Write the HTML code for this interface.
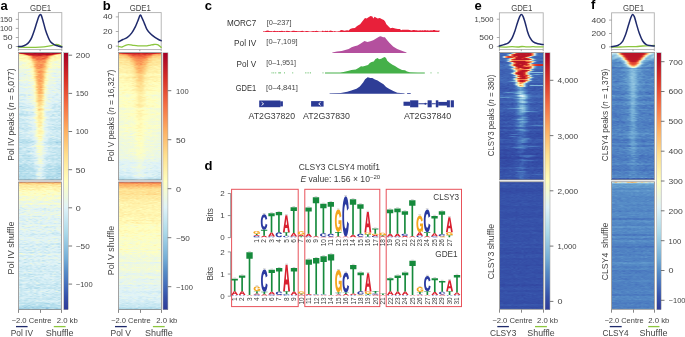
<!DOCTYPE html><html><head><meta charset="utf-8"><style>
html,body{margin:0;padding:0;background:#fff;width:685px;height:337px;overflow:hidden}
.hm{position:absolute;overflow:hidden}
.hm i{position:absolute;left:0;width:100%;height:1px;display:block}
.cb{position:absolute}
svg{position:absolute;left:0;top:0;will-change:transform}
text{font-family:"Liberation Sans",sans-serif}
</style></head><body>
<div class="hm" style="left:19px;top:53px;width:42px;height:127px"><i style="top:0px;background:linear-gradient(90deg,#e95538,#c01a27,#b50f26,#ad0726,#b00a26,#af0a26,#ba1426,#b40f26,#a50026,#b10c26,#af0a26,#a90426,#a50026,#b50f26,#ae0926,#b20d26,#be1826,#a50026,#ad0826,#af0926,#c41e27,#e24732)"></i><i style="top:1px;background:linear-gradient(90deg,#fff2ac,#fee89c,#fec779,#f16740,#bc1626,#c21c27,#b81226,#ba1426,#be1827,#bf1927,#b40e26,#bd1726,#bb1526,#ba1426,#ae0926,#b40e26,#b91326,#cf2827,#f26941,#fdb365,#fee192,#fff0a8)"></i><i style="top:2px;background:linear-gradient(90deg,#fff2ab,#fff0a8,#feeea5,#fee598,#fecc7d,#ed5f3d,#e65036,#d22b27,#d32c27,#cf2827,#c51f27,#c92227,#de3f2e,#e14631,#d22b27,#e54d34,#f57245,#fdbf71,#fff5b0,#feffc1,#fff3ad,#fff5b0)"></i><i style="top:3px;background:linear-gradient(90deg,#fffcba,#fffab7,#ffffbe,#fdfec3,#fff3ad,#fee598,#fdb265,#ed5e3c,#e95538,#e44c34,#ec5d3c,#ea593a,#ed5e3c,#ee5f3d,#ef623e,#fca85e,#fedb8c,#fff0a8,#feeba1,#fcfec4,#fff4af,#fffbb9)"></i><i style="top:4px;background:linear-gradient(90deg,#fff8b4,#fdfec2,#fffab7,#fff1aa,#fff3ac,#fee699,#fdbd6f,#f36a42,#ee603d,#f57647,#ef623e,#f57145,#f7834d,#f16640,#f26841,#fdb96c,#feeea5,#fff8b4,#feefa6,#fff6b1,#fff7b3,#fff8b5)"></i><i style="top:5px;background:linear-gradient(90deg,#fff7b4,#fff2ac,#fff3ad,#fff4af,#fff9b7,#fee89d,#fed788,#f8884f,#f7814c,#f26941,#f16640,#f57647,#e75237,#ed5f3c,#fb9c59,#fec97a,#fee99e,#fbfdc7,#fff4ae,#fff7b3,#fff7b3,#fffebe)"></i><i style="top:6px;background:linear-gradient(90deg,#fcfec5,#fdfec3,#fff8b5,#fffcbb,#fffcba,#feeca3,#fee89c,#fdb86a,#fba15b,#f26941,#f46e43,#f46e44,#f57446,#f8884f,#fdb265,#fee699,#fff7b3,#fffcba,#fff5b0,#fffcbb,#fdfec2,#fafdc8)"></i><i style="top:7px;background:linear-gradient(90deg,#f6fccf,#fffab7,#feffc1,#fdfec3,#fcfec4,#fdfec3,#feeda3,#fdbb6e,#fb9d59,#f88b51,#f8874f,#f7834d,#fb9d59,#fa9b58,#fecd7e,#fee79a,#ffffbf,#fffcba,#fff8b5,#f9fdca,#f7fcce,#fbfec6)"></i><i style="top:8px;background:linear-gradient(90deg,#f4fbd4,#eef8de,#f8fccd,#fffcba,#f7fcce,#fcfec5,#fffbb9,#fed182,#fdb769,#fca55d,#f7824d,#fb9e5a,#f88850,#fa9556,#fed182,#fff1aa,#fff5b0,#f7fcce,#f2fad6,#ecf8e1,#f4fbd3,#fdfec3)"></i><i style="top:9px;background:linear-gradient(90deg,#f8fccd,#ecf8e2,#edf8e0,#f1f9d9,#f8fccc,#f9fdc9,#fff7b2,#feda8a,#fdb466,#fb9d59,#fa9555,#fa9957,#fa9656,#fa9957,#fed787,#fff8b4,#f0f9da,#f9fccb,#e8f6ea,#eaf7e6,#f7fccd,#f6fbd0)"></i><i style="top:10px;background:linear-gradient(90deg,#f0f9db,#e6f5ec,#eff9dc,#eff9dd,#f9fdca,#fff6b2,#fff9b6,#fee79a,#fdc273,#fba05b,#fb9c59,#fca95f,#fb9e5a,#fdc173,#fed889,#fff4ae,#fffebd,#f2fad6,#f6fccf,#f1fad9,#eff9dd,#eff9dd)"></i><i style="top:11px;background:linear-gradient(90deg,#ecf8e2,#ecf7e3,#fafdc8,#f5fbd1,#fafdc8,#fffbb9,#fbfec6,#fee69a,#fdb164,#f99355,#fa9656,#f7844e,#fa9556,#fdbf71,#fee79b,#fff3ad,#fffebe,#edf8e0,#ffffbf,#f9fdca,#fdfec3,#f2fad7)"></i><i style="top:12px;background:linear-gradient(90deg,#f1fad8,#ecf8e1,#fffab8,#f4fbd3,#fffdbb,#f7fccd,#fff9b6,#fff0a8,#fdbc6e,#f98e52,#fba35c,#f7844e,#fa9656,#fdc375,#fee99d,#fffdbc,#fbfdc6,#f4fbd3,#f0f9da,#f2fad6,#edf8e0,#ebf7e4)"></i><i style="top:13px;background:linear-gradient(90deg,#f7fcce,#fdfec3,#eef9dd,#f9fdca,#f7fccd,#f9fdca,#fff2ac,#fee89c,#fca55d,#fb9d59,#f7844e,#f88c51,#fb9d59,#fdb063,#fee698,#fff4ae,#ffffc0,#f5fbd2,#f9fdcb,#f8fccb,#fdfec2,#f1fad8)"></i><i style="top:14px;background:linear-gradient(90deg,#f6fccf,#ecf8e1,#fcfec5,#f2fad7,#f0f9db,#feffc1,#fff2ab,#fff0a8,#fdc476,#fb9e59,#fa9757,#f7844d,#fb9e5a,#fdc173,#fee395,#fffdbc,#fffdbc,#f5fbd2,#f1fad8,#ecf8e1,#fffcba,#f5fbd2)"></i><i style="top:15px;background:linear-gradient(90deg,#f1fad9,#f0f9db,#f2fad8,#f2fad7,#fffebe,#f1f9d9,#f4fbd3,#fff6b1,#fed586,#fa9957,#f88c51,#fba35c,#fdb366,#fecb7c,#fee79a,#ecf8e1,#fafdc7,#edf8e0,#f8fccb,#eaf7e6,#eef8de,#e6f5ed)"></i><i style="top:16px;background:linear-gradient(90deg,#e0f3f8,#eff9dd,#ecf8e2,#e6f5ee,#e5f5ef,#e2f4f5,#f1fad8,#fffbb9,#fedb8c,#fdb769,#fdb668,#fcaa5f,#fdb669,#fece7f,#feefa7,#f3fad5,#e9f6e8,#eaf7e6,#e4f5f0,#e2f4f4,#e6f5ed,#dff2f8)"></i><i style="top:17px;background:linear-gradient(90deg,#eef8de,#eaf7e5,#edf8e0,#ecf7e3,#eaf7e5,#ecf8e2,#f6fccf,#fffbb9,#fed485,#fdaf62,#fdb063,#fb9e5a,#fdbc6e,#fedc8d,#fff9b6,#ebf7e4,#f2fad6,#f0f9db,#ecf8e3,#e9f6e8,#e8f6e8,#e4f5f0)"></i><i style="top:18px;background:linear-gradient(90deg,#edf8e0,#ebf7e3,#f0f9da,#e9f7e7,#f4fbd3,#f7fcce,#fbfdc7,#fff8b4,#fecd7f,#fdba6c,#f98f53,#f99254,#fca45c,#fecf80,#fff9b6,#fafdc8,#fafdc9,#f5fbd1,#f2fad7,#e6f5ed,#f2fad7,#f6fbd0)"></i><i style="top:19px;background:linear-gradient(90deg,#f2fad6,#eef8df,#e3f4f2,#f4fbd3,#eff9dc,#e3f4f2,#fbfdc6,#fcfec4,#fee497,#fdb467,#f88850,#fb9e59,#fcaa5f,#fec97a,#feefa6,#f8fccc,#f2fad8,#e8f6e9,#eaf7e6,#f0f9db,#eff9dd,#edf8e1)"></i><i style="top:20px;background:linear-gradient(90deg,#ebf7e4,#e0f3f7,#e5f5ee,#ebf7e3,#ecf8e1,#f2fad6,#f3fbd4,#fbfdc6,#fee395,#fdc476,#fdb96b,#fb9f5a,#fdbb6d,#fee496,#f2fad6,#eff9dd,#e8f6e9,#e3f4f2,#d4edf5,#e4f4f1,#ebf7e4,#e7f6eb)"></i><i style="top:21px;background:linear-gradient(90deg,#e1f4f5,#e5f5ee,#ebf7e4,#cfebf3,#e8f6e8,#f0f9db,#f5fbd1,#fff7b2,#fedf8f,#fdb76a,#fba15b,#fa9b58,#fdc072,#fee79a,#fffcba,#fdfec2,#ebf7e3,#e9f6e8,#e9f6e8,#eff9dd,#e5f5ee,#eef9de)"></i><i style="top:22px;background:linear-gradient(90deg,#ddf1f7,#e3f4f2,#e4f4f1,#ebf7e4,#eef9dd,#e2f4f5,#eaf7e5,#fdfec2,#feeda3,#fecc7d,#fa9957,#fba05b,#fdb86a,#feeca2,#fffdbb,#eef9de,#f2fad7,#e2f4f4,#e1f3f6,#e6f5ed,#e0f3f8,#e8f6e9)"></i><i style="top:23px;background:linear-gradient(90deg,#e8f6ea,#e1f3f7,#e8f6ea,#e6f5ed,#f0f9db,#e9f6e7,#eff9dc,#fffab7,#fed687,#fca45c,#fba15b,#fb9f5a,#fcaa5f,#fee89d,#f7fccf,#f3fad6,#f0f9db,#e5f5ef,#ddf1f7,#ddf1f7,#ebf7e5,#e1f4f5)"></i><i style="top:24px;background:linear-gradient(90deg,#eaf7e5,#edf8e1,#f0f9db,#ebf7e4,#f2fad7,#ecf8e1,#f4fbd3,#fbfdc7,#fedb8b,#fdb366,#fba05b,#fa9b58,#fdb568,#fedf8f,#f7fccd,#f0f9da,#f0f9db,#ffffbf,#f3fad5,#ebf7e3,#f0f9db,#f8fccc)"></i><i style="top:25px;background:linear-gradient(90deg,#e5f5f0,#e4f5f1,#eef9dd,#ebf7e4,#eef8de,#e9f7e7,#fdfec2,#fff8b5,#fee79a,#fdb668,#fdb86b,#fa9957,#fdbe70,#fee79b,#fffebe,#eff9dc,#e2f4f4,#ecf8e2,#e3f4f2,#e5f5ef,#e3f4f3,#e4f4f1)"></i><i style="top:26px;background:linear-gradient(90deg,#d4edf5,#eff9dc,#eaf7e6,#f0f9da,#f7fccd,#eef8df,#e7f6eb,#f6fccf,#fff2ab,#fdc173,#fb9d59,#fdb668,#fdb86b,#fff3ae,#feffc1,#f2fad8,#ecf8e2,#eaf7e5,#e6f5ed,#e4f5f0,#dbf0f7,#e7f6eb)"></i><i style="top:27px;background:linear-gradient(90deg,#f5fbd2,#f6fbd0,#f2fad6,#f0f9db,#e9f6e8,#f9fdcb,#f4fbd4,#fdfec2,#feeba1,#fdb86b,#fb9f5a,#fa9b58,#fdc476,#feeba1,#fff2ac,#f4fbd4,#eef9de,#f0f9da,#f0f9db,#e3f4f2,#e8f6e9,#eff9dd)"></i><i style="top:28px;background:linear-gradient(90deg,#e5f5ee,#e5f5ef,#eef9de,#e2f4f5,#e8f6e9,#e7f6eb,#f8fccc,#ecf7e3,#fff4ae,#fec97a,#fa9c59,#fb9d59,#fdb568,#fff9b7,#fcfec4,#edf8e1,#e6f5ed,#ebf7e4,#e0f3f8,#d2ecf4,#e2f4f5,#d7eef5)"></i><i style="top:29px;background:linear-gradient(90deg,#def2f8,#e6f5ee,#e6f5ed,#eff9dd,#e6f5ee,#e0f3f8,#e9f6e7,#f1f9d9,#fff9b6,#fdc173,#fdae61,#fdbb6e,#fdbf71,#fff2ac,#f9fdcb,#eef9de,#edf8df,#e7f6eb,#edf8e1,#e7f6ec,#e6f5ed,#e6f5ee)"></i><i style="top:30px;background:linear-gradient(90deg,#d7eef5,#e3f4f3,#e3f4f3,#e7f6eb,#def2f7,#f4fbd3,#eff9dd,#eff9dc,#fffdbb,#fec97a,#fca55d,#fdae61,#fdc577,#fff6b1,#fafdc8,#eaf7e6,#eaf7e6,#edf8df,#f6fbd0,#ddf2f7,#e1f3f6,#ddf2f7)"></i><i style="top:31px;background:linear-gradient(90deg,#e6f5ee,#d6eef5,#def2f7,#e3f4f3,#ddf2f7,#e1f3f6,#e8f6e9,#e6f5ec,#ffffbe,#fed081,#fca95f,#fdae61,#fede8e,#fff9b5,#f8fccb,#eff9dd,#e7f6ec,#def2f8,#e7f6ec,#ddf1f7,#d6eef5,#d9f0f6)"></i><i style="top:32px;background:linear-gradient(90deg,#e5f5ef,#dcf1f7,#e4f5f0,#d8eff6,#e6f5ee,#def2f7,#e5f5ee,#feffc1,#fff7b2,#feda8b,#fdb568,#fdb164,#fec97b,#fffebe,#e4f4f2,#e5f5f0,#e2f4f4,#e0f3f7,#e6f5ed,#def2f7,#e1f4f5,#ceeaf3)"></i><i style="top:33px;background:linear-gradient(90deg,#e6f5ec,#eef9de,#e7f6ec,#e5f5f0,#e6f5ee,#f2fad6,#e5f5ee,#f2fad6,#fff4af,#fec779,#fdb164,#fca85e,#fed282,#fff6b2,#f2fad7,#e4f5f1,#e7f6eb,#eaf7e5,#dbf0f7,#e0f3f7,#e5f5ee,#d6eef5)"></i><i style="top:34px;background:linear-gradient(90deg,#e5f5ef,#dbf1f7,#ebf7e3,#f4fbd4,#f4fbd4,#e8f6e9,#f2fad7,#f6fbd0,#fff5b0,#fdbd6f,#fdb769,#fa9a58,#fecd7e,#feeda3,#f6fccf,#e9f7e7,#ebf7e3,#ecf8e3,#e6f5ee,#e7f6ea,#e1f3f7,#cfebf3)"></i><i style="top:35px;background:linear-gradient(90deg,#e1f3f7,#e0f3f8,#dbf0f7,#dcf1f7,#e5f5ee,#ddf2f7,#e1f3f7,#ebf7e3,#fff7b3,#fee698,#fdab60,#fdbe70,#fee496,#fff7b3,#ecf8e2,#dbf0f7,#def2f8,#e5f5f0,#e4f5f0,#d5edf5,#ddf1f7,#dff3f8)"></i><i style="top:36px;background:linear-gradient(90deg,#d9f0f6,#e3f4f3,#e1f3f7,#def2f7,#e0f3f7,#e6f5ec,#eaf7e6,#edf8df,#fffdbc,#feca7c,#fdaf62,#fca75e,#fec97b,#fff7b3,#ffffbf,#e5f5f0,#ebf7e4,#e2f4f5,#edf8df,#ebf7e3,#cce9f2,#d6eef5)"></i><i style="top:37px;background:linear-gradient(90deg,#e3f4f2,#e4f5f0,#e4f5f0,#e0f3f7,#e5f5ee,#e9f6e8,#e8f6e9,#f6fbd0,#f3fad4,#fed384,#fdbf71,#fcaa5f,#fedc8c,#fcfec5,#f2fad7,#e3f4f3,#dff2f8,#d3edf4,#e1f3f7,#e3f4f3,#e6f5ee,#ddf1f7)"></i><i style="top:38px;background:linear-gradient(90deg,#e5f5ef,#def2f7,#def2f7,#e4f4f1,#e8f6e9,#e2f4f4,#e6f5ed,#eef8df,#fffebd,#fee395,#fdad60,#fdbb6e,#fed888,#fbfdc7,#f1fad9,#eaf7e5,#e2f4f5,#eef9de,#e2f4f4,#eaf7e5,#e5f5f0,#d6eef5)"></i><i style="top:39px;background:linear-gradient(90deg,#e4f5f0,#eaf7e6,#e8f6e9,#e9f6e8,#e8f6e9,#e1f4f6,#eff9dd,#e9f6e7,#fff4af,#fed889,#fdb265,#fdad61,#fece7f,#ffffc0,#ecf8e2,#e9f7e7,#e0f3f8,#e4f5f0,#f2fad6,#e1f3f6,#ebf7e4,#ddf2f7)"></i><i style="top:40px;background:linear-gradient(90deg,#e4f4f1,#e0f3f8,#e2f4f4,#e7f6eb,#f0f9db,#e9f6e8,#ecf8e2,#ebf7e3,#fff9b6,#fedd8e,#fdac60,#fdb568,#feca7b,#f5fbd1,#f0f9db,#f0f9da,#e5f5ee,#e0f3f8,#e2f4f4,#d6eef5,#e3f4f3,#f1fad9)"></i><i style="top:41px;background:linear-gradient(90deg,#dff3f8,#c8e7f1,#cbe9f2,#d2ecf4,#e2f4f4,#d4edf5,#dbf1f7,#edf8df,#fdfec3,#feea9f,#fed182,#fed686,#feeca2,#eaf7e6,#edf8e1,#dcf1f7,#e1f3f6,#e7f6ea,#e2f4f5,#c8e7f1,#ddf1f7,#dff3f8)"></i><i style="top:42px;background:linear-gradient(90deg,#d0ebf4,#cfeaf3,#d8eff6,#cae8f2,#e8f6ea,#c8e7f1,#dcf1f7,#e9f6e7,#f9fdcb,#fee597,#fdc173,#fdc677,#fede8e,#edf8e0,#ebf7e4,#e0f3f8,#e2f4f5,#e0f3f8,#d2ecf4,#d3edf4,#e1f3f7,#dcf1f7)"></i><i style="top:43px;background:linear-gradient(90deg,#d6eef5,#ebf7e4,#edf8df,#d0ebf4,#e3f4f2,#f3fad4,#ecf8e2,#eff9dd,#fbfdc6,#fee79b,#fdc475,#fec779,#fedf8f,#fafdc8,#ebf7e5,#dff3f8,#e3f4f2,#d9f0f6,#def2f7,#e5f5ee,#e1f3f7,#e1f4f6)"></i><i style="top:44px;background:linear-gradient(90deg,#def2f7,#dbf1f7,#daf0f6,#daf0f6,#e5f5f0,#d8eff6,#eef8df,#ecf8e3,#f6fbd0,#feea9f,#fecd7e,#fdc576,#feeba1,#fffdbc,#e7f6ec,#d1ecf4,#dcf1f7,#cae8f2,#ddf1f7,#e4f5f1,#e1f3f6,#cce9f2)"></i><i style="top:45px;background:linear-gradient(90deg,#d4edf5,#e9f7e7,#e1f3f7,#dff3f8,#e8f6ea,#f3fad6,#eff9dd,#edf8df,#fdfec3,#fee394,#fecd7e,#fed182,#fee699,#f5fbd1,#ecf8e2,#e7f6eb,#f2fad7,#d9eff6,#def2f7,#dcf1f7,#e1f3f6,#e4f5f0)"></i><i style="top:46px;background:linear-gradient(90deg,#d5eef5,#d2ecf4,#cae8f2,#d3edf4,#e3f4f2,#e2f4f4,#def2f8,#e9f6e8,#f9fdc9,#fee699,#fed182,#fecd7e,#fff4ae,#f2fad7,#f5fbd1,#d2ecf4,#e0f3f8,#e1f3f6,#d9f0f6,#d3edf4,#daf0f6,#daf0f6)"></i><i style="top:47px;background:linear-gradient(90deg,#dff2f8,#cce9f2,#dff3f8,#d9f0f6,#dff3f8,#e6f6ec,#ecf8e1,#f4fbd4,#f9fdcb,#fee192,#fdbd6f,#fdbd6f,#fedd8d,#fbfdc7,#edf8e0,#edf8df,#daf0f6,#e4f5f0,#ddf1f7,#ddf1f7,#cdeaf3,#d6eef5)"></i><i style="top:48px;background:linear-gradient(90deg,#e0f3f7,#e6f5ec,#e8f6ea,#e2f4f5,#e3f4f3,#e1f3f7,#ecf8e3,#edf8e0,#fffebe,#feda8a,#fec97b,#fed888,#feeca3,#f3fad5,#e7f6eb,#f1fad8,#e7f6ea,#d6eef5,#e6f5ec,#e9f7e7,#def2f7,#daf0f6)"></i><i style="top:49px;background:linear-gradient(90deg,#d1ebf4,#d8eff6,#dcf1f7,#e2f4f4,#e4f4f1,#e6f5ed,#eaf7e6,#ebf7e4,#ebf7e4,#fff0a9,#fed485,#fedb8c,#feea9f,#f2fad7,#e1f4f6,#ebf7e5,#e3f4f3,#dcf1f7,#e1f3f7,#e0f3f7,#d8eff6,#bae0ed)"></i><i style="top:50px;background:linear-gradient(90deg,#cce9f2,#ceeaf3,#cae8f2,#d8eff6,#e3f4f3,#d7eef5,#d5eef5,#f3fad6,#f0f9db,#fff9b6,#fed989,#fed787,#fff6b1,#f8fccc,#e3f4f2,#d7eff6,#def2f7,#e0f3f8,#cfebf3,#d8eff6,#d2ecf4,#eaf7e6)"></i><i style="top:51px;background:linear-gradient(90deg,#c9e8f1,#e0f3f8,#d1ecf4,#d2ecf4,#ddf2f7,#e2f4f5,#e7f6eb,#e7f6ec,#edf8df,#fff7b3,#fed98a,#fed889,#feeba0,#f4fbd4,#ebf7e3,#e9f6e8,#dbf1f7,#c6e6f1,#c7e7f1,#c3e5f0,#e1f3f6,#c8e7f1)"></i><i style="top:52px;background:linear-gradient(90deg,#dcf1f7,#d6eef5,#e2f4f5,#ddf1f7,#d3edf4,#d6eef5,#def2f7,#e5f5ef,#edf8e1,#fff5b0,#fed182,#feeba1,#fff3ad,#eaf7e5,#e5f5ef,#e4f4f1,#d7eff6,#ddf1f7,#c1e4ef,#dcf1f7,#c9e8f2,#d6eef5)"></i><i style="top:53px;background:linear-gradient(90deg,#c9e8f2,#acdae9,#c1e4ef,#cce9f2,#ddf2f7,#d3edf4,#d8eff6,#cfebf3,#f4fbd3,#feefa7,#fee698,#fee79b,#fafdc9,#f1f9d9,#f0f9db,#ddf2f7,#def2f7,#d2ecf4,#c0e3ef,#d7eef5,#bbe1ed,#c5e6f0)"></i><i style="top:54px;background:linear-gradient(90deg,#cce9f2,#d3edf4,#cfebf3,#d0ebf3,#c6e6f1,#c4e5f0,#d8eff6,#d8eff6,#e4f4f1,#fcfec4,#fee89d,#fff1aa,#fcfec5,#e2f4f5,#e1f3f6,#dbf1f7,#e4f5f0,#bee3ef,#c5e6f0,#d4edf5,#c7e7f1,#c6e6f1)"></i><i style="top:55px;background:linear-gradient(90deg,#e1f4f5,#cdeaf3,#c5e6f0,#c5e6f0,#d9f0f6,#dcf1f7,#d0ebf3,#dcf1f7,#f3fad5,#fff3ac,#fee699,#fedd8d,#fff3ac,#e5f5ef,#e2f4f4,#e2f4f5,#d3edf4,#bfe3ef,#d0ebf4,#daf0f6,#e1f3f6,#b9e0ed)"></i><i style="top:56px;background:linear-gradient(90deg,#edf8e1,#cfeaf3,#e3f4f2,#e6f5ed,#e6f5ee,#e3f4f3,#dcf1f7,#edf8df,#f1f9d9,#fdfec2,#fdbf71,#fed485,#fee699,#f0f9db,#f3fad6,#eef9dd,#ebf7e3,#dff3f8,#d0ebf4,#d9f0f6,#c3e5f0,#c8e7f1)"></i><i style="top:57px;background:linear-gradient(90deg,#d9eff6,#ceeaf3,#d7eff5,#d9f0f6,#eaf7e6,#e8f6e9,#e3f4f3,#eff9dc,#eff9dd,#fff5b0,#fed586,#fee79a,#fff5b0,#ebf7e3,#e9f6e8,#edf8e0,#d8eff6,#dff3f8,#d1ecf4,#cdeaf3,#cbe9f2,#e4f5f0)"></i><i style="top:58px;background:linear-gradient(90deg,#dff2f8,#cbe9f2,#bfe3ef,#d0ebf3,#c7e7f1,#d7eef5,#d6eef5,#def2f8,#ecf8e1,#fcfec4,#feeda3,#fff5b0,#fdfec3,#e0f3f8,#daf0f6,#c9e8f2,#cfebf3,#d0ebf3,#b9e0ed,#bee2ee,#bce1ee,#ceeaf3)"></i><i style="top:59px;background:linear-gradient(90deg,#d8eff6,#cfebf3,#c4e5f0,#d8eff6,#bbe1ee,#def2f8,#cce9f2,#bee2ee,#f9fdca,#fff5b0,#fff1aa,#feea9f,#feffc1,#e9f7e7,#cce9f2,#cce9f2,#d3edf4,#cdeaf3,#d5eef5,#c8e7f1,#dff3f8,#bee3ee)"></i><i style="top:60px;background:linear-gradient(90deg,#cdeaf3,#b7dfec,#bfe3ef,#dbf1f7,#c6e6f1,#d9eff6,#d7eff6,#d5eef5,#e9f6e8,#feffc0,#feeca2,#fee496,#fff8b5,#e7f6eb,#d7eef5,#dbf1f7,#d2ecf4,#dbf0f6,#e6f5ee,#d5eef5,#cbe9f2,#c9e8f1)"></i><i style="top:61px;background:linear-gradient(90deg,#b5deec,#b5deec,#b5deec,#bce2ee,#bee2ee,#ceeaf3,#c7e7f1,#d1ecf4,#d9eff6,#fffab8,#feeea5,#fee699,#feffc0,#ecf8e1,#d1ebf4,#d3ecf4,#e2f4f5,#b6deec,#cdeaf3,#d1ecf4,#c3e5f0,#c6e6f1)"></i><i style="top:62px;background:linear-gradient(90deg,#d1ecf4,#bde2ee,#c9e8f2,#bde2ee,#c1e4ef,#c5e6f0,#cfebf3,#daf0f6,#e9f7e7,#f3fad5,#fee293,#fee79b,#fffdbc,#e4f5f0,#d8eff6,#d7eff5,#d1ebf4,#b6dfec,#ceeaf3,#e3f4f3,#b0dbea,#cfeaf3)"></i><i style="top:63px;background:linear-gradient(90deg,#d2ecf4,#ceeaf3,#def2f8,#c4e5f0,#d5eef5,#e4f4f1,#d9f0f6,#dff2f8,#edf8e0,#ffffbf,#fedf8f,#feefa7,#fff7b2,#e4f5f0,#e6f5ed,#daf0f6,#bae1ed,#d3edf4,#c5e6f0,#cbe9f2,#e0f3f8,#c2e4f0)"></i><i style="top:64px;background:linear-gradient(90deg,#cdeaf3,#e5f5ef,#dbf1f7,#e7f6eb,#e1f3f7,#d7eff5,#e3f4f3,#f0f9db,#f8fccc,#fff7b2,#fee496,#fee597,#fffab8,#feffc0,#e8f6ea,#d9f0f6,#dbf1f7,#e3f4f2,#e1f3f6,#d8eff6,#d2ecf4,#d9eff6)"></i><i style="top:65px;background:linear-gradient(90deg,#c2e4f0,#c7e7f1,#dff2f8,#d2ecf4,#def2f7,#e6f5ed,#e5f5ef,#e6f5ee,#fdfec3,#fff5b0,#fee99e,#fee294,#fff7b3,#eaf7e6,#e6f5ed,#e0f3f8,#c7e7f1,#d8eff6,#d4edf5,#d1ecf4,#c3e5f0,#d1ecf4)"></i><i style="top:66px;background:linear-gradient(90deg,#cae8f2,#cce9f2,#bfe3ef,#d4edf5,#c2e4f0,#d0ebf4,#e3f4f2,#d7eff6,#e6f5ed,#fff9b6,#fff0a9,#fff0a8,#ffffbe,#f0f9da,#c7e7f1,#ceeaf3,#c8e7f1,#c4e5f0,#c4e5f0,#c3e5f0,#ceeaf3,#c1e4ef)"></i><i style="top:67px;background:linear-gradient(90deg,#c9e8f1,#cce9f2,#c1e4ef,#cce9f2,#def2f7,#d3edf4,#cdeaf3,#dbf1f7,#e2f4f5,#fdfec2,#feeba1,#fff6b1,#fafdc7,#eef9dd,#d6eef5,#d6eef5,#c5e6f0,#c3e5f0,#c5e6f0,#e0f3f8,#c4e5f0,#c2e4f0)"></i><i style="top:68px;background:linear-gradient(90deg,#c7e7f1,#cce9f2,#d5eef5,#d1ecf4,#e4f5f0,#d7eff5,#e5f5ef,#e2f4f4,#eef8de,#f5fbd1,#feefa7,#feefa6,#fdfec3,#dbf0f6,#e6f5ed,#d5eef5,#d0ebf4,#cfebf3,#cdeaf3,#d2ecf4,#c0e3ef,#c3e5f0)"></i><i style="top:69px;background:linear-gradient(90deg,#d9eff6,#d8eff6,#d3edf4,#d2ecf4,#d1ecf4,#ddf1f7,#e9f6e8,#def2f7,#f9fccb,#fff6b1,#feeda3,#fee598,#fafdc9,#e4f5f0,#dcf1f7,#def2f7,#daf0f6,#d5eef5,#d9f0f6,#c0e3ef,#dbf1f7,#c7e7f1)"></i><i style="top:70px;background:linear-gradient(90deg,#c4e5f0,#c7e7f1,#c0e3ef,#bfe3ef,#c5e6f0,#d3edf4,#def2f7,#e3f4f3,#e3f4f3,#f7fccd,#fff6b2,#feeea5,#f0f9db,#f0f9da,#daf0f6,#cfebf3,#d7eef5,#dbf0f7,#d1ecf4,#d8eff6,#cdeaf3,#d8eff6)"></i><i style="top:71px;background:linear-gradient(90deg,#d6eef5,#c8e7f1,#d9eff6,#cdeaf3,#ceeaf3,#c6e6f1,#d2ecf4,#e2f4f4,#def2f7,#feffc1,#fff1aa,#fff1ab,#ecf8e1,#e6f5ed,#e2f4f5,#cde9f3,#d1ecf4,#b4ddeb,#d2ecf4,#c3e5f0,#d2ecf4,#b5deec)"></i><i style="top:72px;background:linear-gradient(90deg,#d3edf4,#cae8f2,#d6eef5,#c5e6f0,#cae8f2,#e7f6eb,#d0ebf3,#d8eff6,#e7f6eb,#f5fbd1,#feeaa0,#fee79b,#f7fccd,#ddf1f7,#e7f6eb,#e2f4f4,#ddf1f7,#ddf2f7,#c5e6f0,#cbe9f2,#bee2ee,#bde2ee)"></i><i style="top:73px;background:linear-gradient(90deg,#d4edf5,#c3e5f0,#e2f4f5,#cdeaf3,#c7e7f1,#daf0f6,#e5f5ef,#e1f3f6,#dff3f8,#fcfec5,#feeca2,#fff7b3,#f5fbd2,#edf8df,#def2f7,#cae8f2,#cdeaf3,#c6e6f1,#cfebf3,#cce9f2,#d6eef5,#d1ecf4)"></i><i style="top:74px;background:linear-gradient(90deg,#b4deec,#cae8f2,#d0ebf3,#cce9f2,#d4edf5,#c7e7f1,#c7e7f1,#e1f3f6,#dcf1f7,#e9f6e8,#fff1aa,#fffcbb,#f4fbd3,#d8eff6,#cae8f2,#c5e6f0,#c9e8f1,#cdeaf3,#afdbea,#ceeaf3,#b9e0ed,#bae0ed)"></i><i style="top:75px;background:linear-gradient(90deg,#c7e7f1,#c0e3ef,#b1dceb,#d6eef5,#bce1ee,#cae8f2,#ceeaf3,#e1f3f6,#ddf2f7,#f9fdca,#feffc1,#fff4af,#eef8de,#def2f7,#e4f5f0,#cfebf3,#c9e8f1,#dcf1f7,#c6e6f1,#b9e0ed,#c8e7f1,#b4ddeb)"></i><i style="top:76px;background:linear-gradient(90deg,#d1ecf4,#d2ecf4,#c0e3ef,#c1e4ef,#cbe9f2,#cdeaf3,#c6e6f1,#def2f7,#d1ebf4,#f3fad6,#fffcba,#fffbb9,#f7fcce,#d9f0f6,#def2f7,#cfebf3,#c6e6f1,#bbe1ee,#bbe1ee,#cae8f2,#bbe1ee,#c6e6f1)"></i><i style="top:77px;background:linear-gradient(90deg,#d4edf5,#d4edf5,#dbf0f6,#c8e7f1,#c2e4ef,#dbf1f7,#d8eff6,#e4f5f0,#e6f5ed,#feffc0,#fff3ac,#fff3ad,#fafdc8,#e8f6e9,#def2f7,#d7eff5,#dbf1f7,#c8e7f1,#def2f7,#c9e8f1,#d4edf5,#c8e7f1)"></i><i style="top:78px;background:linear-gradient(90deg,#d0ebf4,#e5f5ee,#d1ecf4,#c8e7f1,#d0ebf3,#d7eff5,#edf8e1,#e4f5f0,#f1fad8,#f6fccf,#fff1a9,#feefa6,#fff7b2,#e7f6eb,#e7f6ec,#e1f3f6,#d0ebf3,#d7eff6,#d3ecf4,#bbe1ee,#daf0f6,#d9eff6)"></i><i style="top:79px;background:linear-gradient(90deg,#cdeaf3,#c4e5f0,#e1f3f6,#d7eef5,#e0f3f7,#e4f5f0,#d7eff6,#e7f6eb,#e9f6e8,#fafdc8,#fff5b0,#fff5af,#fffcbb,#ebf7e4,#e1f3f6,#daf0f6,#dcf1f7,#cce9f2,#ceeaf3,#d2ecf4,#cce9f2,#d0ebf3)"></i><i style="top:80px;background:linear-gradient(90deg,#c6e6f1,#e1f3f6,#dbf1f7,#d3edf4,#d0ebf3,#e6f5ec,#dbf1f7,#ddf2f7,#e9f6e8,#f9fdca,#fff0a8,#fff8b5,#fffab7,#e1f4f5,#e3f4f2,#cdeaf3,#e4f5f1,#cdeaf3,#ceeaf3,#d7eff5,#daf0f6,#c0e4ef)"></i><i style="top:81px;background:linear-gradient(90deg,#c9e8f2,#bee2ee,#cfebf3,#ceeaf3,#cdeaf3,#cdeaf3,#d4edf5,#d7eef5,#eaf7e5,#fffebd,#f9fdca,#fffab7,#f4fbd3,#eaf7e6,#d4edf5,#d7eef5,#c9e8f1,#d8eff6,#d0ebf4,#cce9f2,#d1ecf4,#cae8f2)"></i><i style="top:82px;background:linear-gradient(90deg,#bae0ed,#d1ecf4,#ceeaf3,#cbe9f2,#d9f0f6,#def2f8,#cae8f2,#d3edf4,#eff9dd,#feffc1,#feffc0,#fcfec5,#f1fad9,#e2f4f4,#cbe9f2,#d6eef5,#c4e5f0,#c2e4ef,#d6eef5,#c4e5f0,#cae8f2,#d1ecf4)"></i><i style="top:83px;background:linear-gradient(90deg,#d8eff6,#cce9f2,#d1ecf4,#c9e8f1,#e4f4f1,#ddf2f7,#cfebf3,#e0f3f7,#ecf8e1,#fafdc8,#feeea5,#fff0a9,#f4fbd3,#e7f6ea,#d3edf4,#ddf2f7,#d8eff6,#e9f7e7,#d3ecf4,#bae0ed,#c9e7f1,#d0ebf4)"></i><i style="top:84px;background:linear-gradient(90deg,#bfe3ef,#c3e5f0,#c9e8f2,#d2ecf4,#ceeaf3,#c9e8f2,#dff3f8,#d7eff6,#e3f4f3,#ecf8e1,#fdfec2,#fff8b4,#ebf7e4,#e5f5ee,#e3f4f3,#d3edf4,#d5eef5,#c4e5f0,#dcf1f7,#d9eff6,#cfebf3,#b9e0ed)"></i><i style="top:85px;background:linear-gradient(90deg,#bde2ee,#d3edf4,#dbf1f7,#ceeaf3,#daf0f6,#c9e8f1,#d1ecf4,#d9f0f6,#e6f5ed,#e9f6e8,#fff9b6,#fff7b2,#ebf7e4,#d7eff6,#ddf2f7,#cce9f2,#b6deec,#d5eef5,#cce9f2,#c4e5f0,#dff3f8,#cae8f2)"></i><i style="top:86px;background:linear-gradient(90deg,#b7dfec,#c0e3ef,#b5deec,#b9e0ed,#c7e7f1,#c0e3ef,#c5e6f0,#e1f3f6,#e3f4f2,#f1fad8,#fcfec4,#fcfec4,#f5fbd1,#dcf1f7,#e2f4f4,#c0e3ef,#c3e5f0,#b4deec,#bee2ee,#c5e6f0,#cfeaf3,#b8dfed)"></i><i style="top:87px;background:linear-gradient(90deg,#c1e4ef,#bde2ee,#bae0ed,#b6deec,#c5e6f0,#b5deec,#cce9f2,#d1ecf4,#d6eef5,#e6f5ec,#f1f9da,#fff9b6,#e4f5f0,#e8f6e9,#d8eff6,#c7e7f1,#bbe1ee,#d0ebf3,#d5eef5,#b8dfed,#bee2ee,#cce9f2)"></i><i style="top:88px;background:linear-gradient(90deg,#b7dfec,#c9e8f2,#afdbea,#bce1ee,#aad9e9,#d1ebf4,#b7dfec,#addae9,#cfeaf3,#e4f4f1,#fdfec3,#eff9dd,#e4f5f0,#d6eef5,#d5eef5,#bee2ee,#c5e6f0,#bde2ee,#b3ddeb,#b5deec,#b4deec,#aad8e9)"></i><i style="top:89px;background:linear-gradient(90deg,#bde2ee,#a1d1e6,#bde2ee,#bce1ee,#b3ddeb,#aedbea,#b8dfed,#c5e6f0,#d4edf5,#e3f4f2,#f4fbd3,#eaf7e5,#e3f4f2,#bbe1ee,#c8e7f1,#bce1ee,#b2ddeb,#c0e3ef,#b9e0ed,#92c5e0,#b1dceb,#a0d0e5)"></i><i style="top:90px;background:linear-gradient(90deg,#c6e6f1,#d5eef5,#b6deec,#bee2ee,#bce1ee,#c5e6f0,#cce9f2,#d8eff6,#cce9f2,#f1fad8,#edf8df,#f5fbd1,#eff9dd,#def2f7,#c1e4ef,#bee2ee,#bce2ee,#bee2ee,#c9e8f1,#aedaea,#c0e3ef,#c1e4ef)"></i><i style="top:91px;background:linear-gradient(90deg,#c4e5f0,#c3e5f0,#cfebf3,#c5e6f0,#cbe9f2,#cbe8f2,#dbf1f7,#bae0ed,#e4f5f1,#e7f6ea,#f3fad5,#eff9dd,#dcf1f7,#d5eef5,#c7e7f1,#ceeaf3,#b5deec,#d1ecf4,#c3e5f0,#bce1ee,#b7dfec,#b6deec)"></i><i style="top:92px;background:linear-gradient(90deg,#bee2ee,#c5e6f0,#cbe9f2,#cbe8f2,#bfe3ef,#ceeaf3,#cbe9f2,#dcf1f7,#eff9dd,#f4fbd4,#f9fdc9,#f1fad8,#e7f6eb,#d3edf4,#e1f3f6,#cce9f2,#d2ecf4,#c8e7f1,#cdeaf3,#daf0f6,#c3e5f0,#c7e7f1)"></i><i style="top:93px;background:linear-gradient(90deg,#cce9f2,#dff2f8,#cbe9f2,#cbe9f2,#cae8f2,#cde9f2,#e2f4f4,#f3fad6,#e3f4f3,#fcfec5,#fffbba,#fafdc8,#f4fbd3,#e8f6ea,#ddf2f7,#ebf7e3,#c7e7f1,#ddf1f7,#dbf0f6,#d0ebf3,#d7eff5,#def2f7)"></i><i style="top:94px;background:linear-gradient(90deg,#c4e5f0,#c8e7f1,#cbe9f2,#afdbea,#d6eef5,#e1f3f6,#d7eff6,#ddf2f7,#ceeaf3,#eaf7e6,#f1f9d9,#f2fad7,#f1f9d9,#d5edf5,#d1ecf4,#b9e0ed,#c8e7f1,#c8e7f1,#bde2ee,#bce1ee,#d7eff5,#b6deec)"></i><i style="top:95px;background:linear-gradient(90deg,#b3ddeb,#b6deec,#cce9f2,#d6eef5,#c5e6f0,#bde2ee,#c3e5f0,#d9eff6,#ceeaf3,#f1f9da,#fbfec6,#f3fad5,#ecf7e3,#e0f3f8,#def2f7,#bde2ee,#d1ecf4,#bee2ee,#b8dfed,#c0e3ef,#bce1ee,#b4ddeb)"></i><i style="top:96px;background:linear-gradient(90deg,#b4deec,#bce1ee,#d6eef5,#dcf1f7,#d0ebf3,#d8eff6,#cae8f2,#d4edf5,#e1f3f6,#e5f5ef,#f0f9da,#f7fcce,#e9f7e7,#d4edf5,#d9eff6,#cce9f2,#d7eef5,#c9e8f2,#c4e5f0,#c8e7f1,#c4e5f0,#bee2ee)"></i><i style="top:97px;background:linear-gradient(90deg,#c4e5f0,#d0ebf4,#d0ebf3,#d8eff6,#bae0ed,#cae8f2,#cdeaf3,#d9eff6,#dcf1f7,#e9f7e7,#fcfec5,#f8fccb,#e5f5ee,#e9f6e7,#e1f3f6,#cce9f2,#d7eff5,#c4e5f0,#d6eef5,#c6e6f1,#c0e3ef,#c4e5f0)"></i><i style="top:98px;background:linear-gradient(90deg,#bbe1ee,#c6e6f1,#c6e6f1,#c6e6f1,#c1e4ef,#a2d2e6,#ceeaf3,#bee2ee,#dff2f8,#f0f9da,#f6fbd0,#f1fad8,#e8f6e9,#dbf0f7,#cce9f2,#c7e7f1,#c0e3ef,#d4edf4,#c5e6f0,#ceeaf3,#c1e4ef,#c4e5f0)"></i><i style="top:99px;background:linear-gradient(90deg,#c2e4ef,#c9e8f1,#cdeaf3,#c8e7f1,#c0e3ef,#c1e4ef,#dff2f8,#cfebf3,#d9f0f6,#f2fad6,#fafdc8,#f7fcce,#e7f6ec,#ecf8e1,#d6eef5,#d3edf4,#c8e7f1,#b8dfed,#b7dfec,#c9e8f1,#c8e7f1,#c1e4ef)"></i><i style="top:100px;background:linear-gradient(90deg,#bde2ee,#bbe1ed,#c7e7f1,#bce1ee,#d7eef5,#dcf1f7,#eaf7e6,#e1f3f6,#dcf1f7,#e7f6eb,#e1f3f6,#f3fad5,#ebf7e3,#e7f6eb,#dff2f8,#d9f0f6,#d2ecf4,#d4edf5,#dbf0f7,#bfe3ef,#c5e6f0,#bbe1ed)"></i><i style="top:101px;background:linear-gradient(90deg,#d7eff6,#d4edf5,#cfebf3,#bbe1ee,#cbe9f2,#cae8f2,#d0ebf4,#d3ecf4,#e2f4f4,#e8f6ea,#f9fdca,#f5fbd1,#e8f6e9,#ddf2f7,#d0ebf3,#d8eff6,#c9e8f2,#cdeaf3,#c4e5f0,#b7dfec,#d0ebf3,#bbe1ed)"></i><i style="top:102px;background:linear-gradient(90deg,#c3e5f0,#c0e3ef,#abd9e9,#b4ddeb,#bae0ed,#b9e0ed,#b8e0ed,#d2ecf4,#d1ecf4,#e6f5ed,#ebf7e5,#eff9dc,#def2f7,#d3edf4,#d0ebf4,#c5e6f0,#bde2ee,#b4ddeb,#bfe3ef,#c0e3ef,#b9e0ed,#b3ddeb)"></i><i style="top:103px;background:linear-gradient(90deg,#c4e5f0,#d9f0f6,#bce2ee,#c4e5f0,#c6e6f1,#a9d8e8,#c9e8f2,#c5e6f0,#e3f4f3,#e3f4f2,#eaf7e6,#edf8e0,#e6f5ed,#d0ebf4,#cce9f2,#bae0ed,#c2e4f0,#cae8f2,#d5eef5,#c7e7f1,#c2e4ef,#cbe9f2)"></i><i style="top:104px;background:linear-gradient(90deg,#cae8f2,#d1ecf4,#cbe9f2,#c0e3ef,#c5e6f0,#c7e7f1,#cbe9f2,#cfebf3,#ceeaf3,#d2ecf4,#eaf7e6,#e2f4f5,#e5f5ef,#d6eef5,#bbe1ee,#cfebf3,#ceeaf3,#c3e5f0,#d3ecf4,#d4edf5,#b2ddeb,#cae8f2)"></i><i style="top:105px;background:linear-gradient(90deg,#bfe3ef,#bfe3ef,#c5e6f0,#b4deec,#b7dfec,#b7dfec,#bbe1ee,#c7e7f1,#c2e4ef,#d7eff6,#eef9de,#eaf7e5,#e4f4f1,#bde2ee,#c0e3ef,#bde2ee,#c0e3ef,#b7dfec,#c6e6f1,#bae0ed,#bae1ed,#bae0ed)"></i><i style="top:106px;background:linear-gradient(90deg,#c6e6f1,#b9e0ed,#cbe9f2,#c5e6f0,#c3e5f0,#c4e5f0,#cdeaf3,#d7eef5,#dff2f8,#e6f5ed,#f2fad7,#edf8e0,#ebf7e3,#d5edf5,#b6deec,#d5eef5,#c5e6f0,#b5deec,#bee2ee,#b6deec,#d5edf5,#c3e5f0)"></i><i style="top:107px;background:linear-gradient(90deg,#addaea,#c4e5f0,#bae1ed,#d4edf5,#b6deec,#acd9e9,#c7e7f1,#c8e7f1,#d0ebf3,#ceeaf3,#eef9dd,#f6fccf,#d1ecf4,#e0f3f7,#c5e6f0,#e0f3f8,#c8e7f1,#bfe3ef,#cbe9f2,#c4e5f0,#b8dfed,#c5e6f0)"></i><i style="top:108px;background:linear-gradient(90deg,#c1e4ef,#b4deec,#ddf2f7,#c5e6f0,#c4e5f0,#d0ebf4,#bfe3ef,#c6e6f1,#d8eff6,#e5f5ef,#f1fad9,#f8fccd,#e5f5ef,#e1f3f6,#dbf0f6,#c4e5f0,#cfebf3,#c0e3ef,#d4edf5,#cde9f3,#c7e7f1,#b9e0ed)"></i><i style="top:109px;background:linear-gradient(90deg,#c6e6f1,#bde2ee,#cdeaf3,#c6e6f1,#c0e3ef,#d5edf5,#d6eef5,#cce9f2,#e4f5f0,#e5f5f0,#edf8e0,#f0f9db,#e2f4f5,#d6eef5,#d1ebf4,#def2f7,#dbf0f6,#c6e6f1,#d8eff6,#c6e6f1,#c9e8f2,#cfeaf3)"></i><i style="top:110px;background:linear-gradient(90deg,#c3e5f0,#daf0f6,#c4e5f0,#b5deec,#d1ecf4,#c1e4ef,#c6e6f1,#addaea,#e0f3f8,#e8f6e9,#f0f9da,#f2fad8,#eef8df,#d5eef5,#d7eff5,#c1e4ef,#c2e4ef,#cfeaf3,#c6e6f1,#b3ddeb,#c4e5f0,#bee2ee)"></i><i style="top:111px;background:linear-gradient(90deg,#b2dceb,#bfe3ef,#b7dfec,#acd9e9,#b2dceb,#d3edf4,#b3ddeb,#cae8f2,#d6eef5,#e4f4f1,#e0f3f7,#e6f5ed,#e0f3f7,#d8eff6,#c1e4ef,#b7dfec,#cbe9f2,#cae8f2,#c0e3ef,#b5deec,#bfe3ef,#bce1ee)"></i><i style="top:112px;background:linear-gradient(90deg,#bfe3ef,#a9d8e8,#b8e0ed,#b6dfec,#aedaea,#bee2ee,#bfe3ef,#bfe3ef,#cfebf3,#cce9f2,#e5f5ef,#e8f6ea,#def2f7,#d7eef5,#b6dfec,#afdbea,#bee2ee,#bee2ee,#ceeaf3,#bee2ee,#addaea,#bfe3ef)"></i><i style="top:113px;background:linear-gradient(90deg,#a1d1e6,#9acce3,#c7e7f1,#afdbea,#b5deec,#b6deec,#c6e6f1,#bae0ed,#cce9f2,#c3e5f0,#cdeaf3,#e6f5ec,#def2f7,#c4e5f0,#b9e0ed,#b4deec,#a8d7e8,#bee2ee,#b3ddeb,#b0dceb,#afdbea,#b5deec)"></i><i style="top:114px;background:linear-gradient(90deg,#b4deec,#b7dfec,#a3d3e6,#b6dfec,#c9e8f2,#afdbea,#b6deec,#c5e6f0,#ceeaf3,#d9f0f6,#cfebf3,#e3f4f2,#c6e6f1,#bbe1ed,#c1e4ef,#b4deec,#bde2ee,#d4edf5,#b9e0ed,#b8dfed,#a6d5e7,#a8d7e8)"></i><i style="top:115px;background:linear-gradient(90deg,#aad9e9,#b0dceb,#abd9e9,#b0dceb,#b7dfec,#b0dceb,#afdbea,#b4ddeb,#cfeaf3,#d9f0f6,#eaf7e6,#eaf7e6,#d5eef5,#d1ecf4,#b3ddeb,#d6eef5,#c8e7f1,#b7dfec,#abd9e9,#bbe1ed,#a2d2e6,#addaea)"></i><i style="top:116px;background:linear-gradient(90deg,#b6deec,#afdbea,#a9d8e8,#b9e0ed,#a6d5e7,#b6deec,#b0dceb,#b1dceb,#c6e6f1,#c5e6f0,#eaf7e5,#d7eff5,#e3f4f3,#b6deec,#c0e3ef,#a9d7e8,#a4d4e7,#b2ddeb,#b6dfec,#a1d1e5,#bae1ed,#a5d4e7)"></i><i style="top:117px;background:linear-gradient(90deg,#b8dfed,#bbe1ed,#bee2ee,#a5d4e7,#cbe9f2,#c2e4ef,#bae0ed,#b8dfed,#b8dfed,#cae8f2,#e7f6ec,#e1f3f6,#cce9f2,#c5e6f0,#d3edf4,#bbe1ee,#b6deec,#c8e7f1,#bde2ee,#b8dfed,#b0dceb,#a6d5e7)"></i><i style="top:118px;background:linear-gradient(90deg,#a4d3e6,#abd9e9,#afdbea,#b6deec,#b9e0ed,#b8dfed,#bbe1ed,#b2dceb,#addae9,#cce9f2,#d4edf5,#d8eff6,#cfebf3,#b6dfec,#b0dceb,#b7dfec,#b7dfec,#acdae9,#b7dfec,#afdbea,#a5d5e7,#b1dceb)"></i><i style="top:119px;background:linear-gradient(90deg,#cce9f2,#b1dceb,#c5e6f0,#c8e7f1,#cbe9f2,#b4deec,#d5eef5,#c5e6f0,#c8e7f1,#d7eef5,#e7f6eb,#e4f4f1,#d7eff5,#d9eff6,#bce1ee,#b5deec,#c6e6f1,#c3e5f0,#c5e6f0,#addaea,#c4e5f0,#bde2ee)"></i><i style="top:120px;background:linear-gradient(90deg,#c9e8f1,#a9d7e8,#b9e0ed,#b5deec,#a8d7e8,#b3ddeb,#cae8f2,#bde2ee,#c1e4ef,#e0f3f8,#e8f6ea,#e8f6ea,#ceeaf3,#c8e7f1,#cce9f2,#b7dfec,#b3ddeb,#c2e4ef,#c8e7f1,#aad9e9,#9acbe3,#a6d5e7)"></i><i style="top:121px;background:linear-gradient(90deg,#afdbea,#b8dfed,#c1e4ef,#b9e0ed,#b5deec,#c0e3ef,#b7dfec,#c4e5f0,#c5e6f0,#edf8df,#e9f7e7,#dff2f8,#d0ebf3,#c8e7f1,#b3ddeb,#b9e0ed,#b6dfec,#c6e6f1,#b6dfec,#b2dceb,#abd9e9,#addae9)"></i><i style="top:122px;background:linear-gradient(90deg,#b0dbea,#afdbea,#bde2ee,#acd9e9,#bfe3ef,#b8e0ed,#b8e0ed,#a7d6e8,#b6deec,#dbf0f6,#e9f6e8,#e2f4f5,#dbf0f7,#bfe3ef,#b8e0ed,#b1dceb,#c0e3ef,#b7dfec,#b0dbea,#aedaea,#b7dfec,#b4ddec)"></i><i style="top:123px;background:linear-gradient(90deg,#9dcee4,#b9e0ed,#aad8e9,#a8d7e8,#b9e0ed,#b6deec,#addaea,#b8dfed,#aedbea,#c2e4f0,#c0e3ef,#e3f4f3,#b5deec,#c1e4ef,#a9d7e8,#a3d3e6,#a9d8e8,#acdae9,#aedbea,#bae0ed,#aad9e9,#b0dbea)"></i><i style="top:124px;background:linear-gradient(90deg,#afdbea,#bde2ee,#b7dfec,#b2dceb,#b7dfec,#b9e0ed,#bee3ef,#c5e6f0,#c3e5f0,#d1ebf4,#e9f6e7,#d5eef5,#d2ecf4,#d9eff6,#a3d3e6,#b5deec,#c1e4ef,#a6d5e7,#d2ecf4,#9acbe3,#c4e5f0,#c5e6f0)"></i><i style="top:125px;background:linear-gradient(90deg,#bde2ee,#b1dceb,#b7dfed,#abd9e9,#bee2ee,#acd9e9,#b7dfed,#c9e8f1,#bbe1ee,#d5eef5,#e7f6eb,#dcf1f7,#e3f4f2,#cbe8f2,#aedbea,#bae0ed,#afdbea,#afdbea,#b5deec,#acdae9,#bde2ee,#abd9e9)"></i><i style="top:126px;background:linear-gradient(90deg,#aad9e9,#9fd0e5,#aad8e9,#9bcce4,#9dcee4,#98cae2,#aedaea,#b6deec,#cbe9f2,#d6eef5,#def2f8,#d9f0f6,#cde9f3,#b4deec,#bbe1ee,#b1dceb,#9bcce4,#9bcce3,#b0dbea,#a4d3e7,#9dcee4,#addae9)"></i></div>
<div class="hm" style="left:19px;top:182px;width:42px;height:128px"><i style="top:0px;background:linear-gradient(90deg,#fdb163,#f7824d,#fba15b,#f99355,#fdbd6f,#fa9c59,#fba35c,#f99455,#fb9c59,#fdae61,#f99053,#f99455,#fa9556,#f98f53,#f98e52,#fb9e5a,#fdb063,#fdb163,#f88a51,#f99355,#fb9c59,#fca45c)"></i><i style="top:1px;background:linear-gradient(90deg,#fecc7d,#fecc7d,#fed081,#fed484,#fdb467,#fec97b,#fed383,#feda8b,#fed485,#fdc476,#fdc475,#fece7f,#fecb7d,#fecf80,#fed889,#fdbe70,#fec879,#fdb163,#fed485,#fecd7e,#fdc274,#fecf80)"></i><i style="top:2px;background:linear-gradient(90deg,#feeda3,#feea9f,#fee294,#fee191,#fee496,#feda8a,#feda8a,#fee191,#fee394,#fee597,#fedf8f,#fedb8b,#fee394,#fee090,#fee598,#feeda3,#feea9f,#fedd8d,#fee090,#fed484,#fee394,#fedc8c)"></i><i style="top:3px;background:linear-gradient(90deg,#fee496,#fee699,#fff1aa,#feeea5,#feeca2,#fff4ae,#feea9f,#fee699,#fff0a8,#fedf8f,#feefa7,#feeea6,#feeea6,#fff2ab,#feea9f,#feeda3,#fee292,#fee99d,#fee99e,#feeea6,#fff7b2,#feeda4)"></i><i style="top:4px;background:linear-gradient(90deg,#fff5b0,#fee99d,#fff0a8,#fee496,#feeaa0,#feea9f,#feeea5,#feeea5,#feeba1,#fee99e,#fff4af,#feeca2,#fedc8c,#fff0a8,#fff1aa,#fff4ae,#fff9b6,#fee79b,#feefa7,#feeda4,#fee394,#fedd8d)"></i><i style="top:5px;background:linear-gradient(90deg,#fff8b4,#feeba0,#feeea5,#feefa7,#feefa6,#fff2ab,#fee79b,#feeea5,#feefa7,#fee99e,#feeca2,#feefa6,#fff0a8,#fee699,#feeea6,#fff2ac,#fff8b4,#fff4af,#fff9b6,#fff1aa,#fff0a8,#feffc0)"></i><i style="top:6px;background:linear-gradient(90deg,#fff5b0,#fff1a9,#fff4ae,#fffcba,#feeca3,#fffab7,#fffebd,#fffcbb,#fff5b0,#feeea6,#feeda4,#fff4ae,#fffdbc,#fffab7,#fffbb9,#fff6b2,#fdfec3,#fff4af,#fff1a9,#fff6b2,#fff2ab,#fffcba)"></i><i style="top:7px;background:linear-gradient(90deg,#fffdbc,#fff8b4,#feeba1,#feeca3,#fff6b2,#feeba1,#fff6b1,#fee99e,#fff0a8,#fff6b2,#feeea5,#fff9b5,#fffab7,#fffdbc,#fff2ab,#fff4ae,#fff4ae,#fff6b2,#feea9e,#fff6b2,#fff8b5,#feeba0)"></i><i style="top:8px;background:linear-gradient(90deg,#fff1aa,#fff8b5,#f7fccd,#ffffbf,#fff7b2,#fffbb8,#fff0a8,#fafdc8,#fff6b2,#ffffbf,#fff2ab,#fffbb9,#fff4ae,#ffffbf,#fafdc9,#fcfec5,#ffffbf,#fcfec4,#fff3ac,#fff2ab,#fff9b6,#fcfec4)"></i><i style="top:9px;background:linear-gradient(90deg,#ffffbe,#fcfec5,#fff4ae,#fffcba,#fffab8,#fdfec2,#f2fad6,#fbfdc6,#f9fdcb,#fffbb9,#fffdbc,#fbfdc7,#fefec2,#fff3ad,#fafdc9,#fafdc8,#ffffc0,#fbfec6,#fdfec2,#fffab8,#fff2ab,#f4fbd3)"></i><i style="top:10px;background:linear-gradient(90deg,#fdfec3,#fdfec3,#fcfec4,#fcfec5,#fafdc7,#fffab8,#fafdc9,#fcfec5,#fdfec3,#fefec2,#fcfec5,#fffab8,#fdfec3,#feffc1,#fcfec4,#f6fbd0,#f7fccd,#f6fbd0,#feffc1,#f8fccc,#f6fbd0,#feffc0)"></i><i style="top:11px;background:linear-gradient(90deg,#feffc0,#eff9dd,#fff8b4,#fbfdc7,#fafdc8,#fffcbb,#fbfec6,#f7fccf,#fff4af,#f3fad4,#fafdc8,#fffebd,#f3fbd4,#fafdc8,#fdfec2,#fff3ad,#f5fbd2,#fafdc8,#ffffbf,#fbfec6,#f2fad6,#fdfec2)"></i><i style="top:12px;background:linear-gradient(90deg,#feffc1,#fffebd,#fff9b6,#fffab7,#fffebe,#ffffbf,#f6fbd0,#fcfec4,#ffffc0,#fafdc8,#feffc1,#f7fccd,#fff6b2,#fff2ac,#fafdc7,#fffebe,#fbfec6,#fff8b5,#fffebd,#fefec2,#fcfec5,#feffc1)"></i><i style="top:13px;background:linear-gradient(90deg,#f4fbd3,#fffebe,#f6fccf,#ffffc0,#fcfec5,#fffcba,#fbfdc7,#fffcbb,#f5fbd2,#ffffbf,#f9fdc9,#fcfec4,#fbfec6,#fffdbc,#edf8e0,#fdfec2,#f1f9d9,#fffbb9,#edf8df,#f4fbd3,#eff9dc,#fff8b4)"></i><i style="top:14px;background:linear-gradient(90deg,#eaf7e5,#f4fbd4,#eff9dc,#e7f6ec,#f1f9d9,#f8fccd,#f2fad7,#f9fdc9,#f1f9da,#f3fad5,#f0f9da,#f5fbd1,#fffebe,#f5fbd1,#f4fbd3,#eff9dd,#eef8df,#fdfec3,#ebf7e3,#edf8e1,#f2fad6,#f0f9da)"></i><i style="top:15px;background:linear-gradient(90deg,#fff9b7,#e7f6eb,#fafdc9,#fcfec4,#f0f9db,#f3fad5,#fafdc8,#fffcba,#f1fad9,#ecf8e1,#feffc1,#fffcbb,#f5fbd1,#e8f6e9,#fffdbc,#f6fbd0,#ffffbf,#f7fcce,#f5fbd2,#f4fbd3,#fffdbc,#fffdbc)"></i><i style="top:16px;background:linear-gradient(90deg,#e8f6e9,#f0f9da,#fffbb9,#f4fbd3,#eef8df,#f7fcce,#f6fccf,#f6fccf,#f4fbd4,#f5fbd2,#f4fbd4,#f9fdca,#f1fad8,#f5fbd2,#f6fbd0,#fffebe,#f9fdc9,#f6fccf,#fbfdc7,#fafdc9,#feffc0,#fafdc8)"></i><i style="top:17px;background:linear-gradient(90deg,#fffbb9,#fffebe,#f6fccf,#f4fbd4,#fdfec3,#fafdc8,#f6fcd0,#edf8e1,#eaf7e5,#f9fdca,#fcfec5,#fcfec4,#eef8df,#fefec1,#f3fad5,#f9fdca,#f9fdc9,#f1fad8,#f3fad6,#e8f6e8,#f0f9da,#eaf7e5)"></i><i style="top:18px;background:linear-gradient(90deg,#f6fbd0,#f3fad5,#f9fdca,#f5fbd1,#eef9dd,#f5fbd1,#f0f9da,#f7fcce,#f5fbd2,#ecf8e2,#f3fad5,#f3fad5,#f1f9d9,#f9fdca,#feffc0,#f0f9da,#f0f9da,#e3f4f2,#f2fad7,#f0f9db,#e4f5f1,#f5fbd2)"></i><i style="top:19px;background:linear-gradient(90deg,#eff9dc,#e6f5ec,#e9f6e8,#e5f5ef,#f1f9da,#e1f3f6,#e9f7e7,#f9fdcb,#ecf8e2,#eff9dd,#eaf7e5,#e3f4f2,#ebf7e3,#eef8de,#e4f5f0,#eef8df,#f4fbd3,#f3fad6,#e1f3f7,#e5f5ef,#e0f3f7,#f3fad6)"></i><i style="top:20px;background:linear-gradient(90deg,#f0f9db,#f1f9d9,#e6f5ed,#e4f4f1,#ecf8e1,#edf8e1,#e6f5ed,#edf8e0,#f0f9da,#edf8df,#e5f5ef,#dcf1f7,#eaf7e6,#edf8e0,#eaf7e6,#e9f6e8,#e7f6eb,#f1f9d9,#ebf7e3,#edf8e1,#e5f5ee,#e8f6ea)"></i><i style="top:21px;background:linear-gradient(90deg,#f5fbd1,#edf8df,#ecf8e3,#f2fad7,#fcfec4,#f6fbd0,#feffc0,#f3fad4,#f2fad7,#ebf7e4,#f0f9da,#feffc1,#f6fccf,#f9fdca,#f9fdca,#f4fbd3,#f3fad5,#f5fbd1,#f9fdca,#f7fccd,#f8fccd,#f5fbd1)"></i><i style="top:22px;background:linear-gradient(90deg,#eaf7e6,#edf8e0,#e8f6e8,#f6fbd0,#e1f3f7,#edf8df,#ffffbf,#edf8e1,#e7f6eb,#eff9dd,#f8fccc,#eef8df,#f3fad5,#f0f9db,#ecf8e1,#fffab7,#eff9dc,#ebf7e3,#ecf7e3,#f1fad8,#f2fad7,#f4fbd3)"></i><i style="top:23px;background:linear-gradient(90deg,#e9f7e7,#ddf2f7,#ecf8e2,#e6f5ed,#e6f5ed,#ddf1f7,#e4f5f0,#e3f4f2,#e8f6e9,#ddf2f7,#e9f6e8,#e9f6e7,#e1f3f7,#e4f5f1,#e2f4f4,#eef9de,#d1ebf4,#e6f5ed,#dbf0f6,#e5f5ee,#eef8de,#e4f5f1)"></i><i style="top:24px;background:linear-gradient(90deg,#ecf8e1,#e6f5ee,#f9fdcb,#f2fad8,#f3fad5,#e2f4f4,#e4f5f1,#f3fad5,#eaf7e5,#eaf7e6,#eef8df,#e3f4f3,#f1f9d9,#ecf7e3,#eff9dd,#e7f6eb,#eff9dd,#e7f6ec,#f2fad7,#f3fad5,#f2fad8,#eff9dd)"></i><i style="top:25px;background:linear-gradient(90deg,#ecf8e1,#ceeaf3,#eef8df,#e6f5ec,#e9f6e8,#e6f5ed,#def2f7,#e4f5f0,#edf8e1,#f2fad7,#e4f5f1,#e2f4f4,#f2fad7,#e2f4f4,#f6fccf,#e9f6e8,#e2f4f4,#eff9dd,#f4fbd4,#ddf2f7,#f3fad5,#e6f5ed)"></i><i style="top:26px;background:linear-gradient(90deg,#ebf7e3,#def2f7,#d0ebf3,#e5f5ef,#e8f6ea,#f0f9db,#edf8e0,#e6f5ed,#e0f3f8,#dcf1f7,#dff2f8,#d9eff6,#dff3f8,#c5e6f0,#e3f4f3,#e1f3f6,#f3fad5,#e7f6ec,#ddf1f7,#e5f5ee,#d4edf5,#dbf1f7)"></i><i style="top:27px;background:linear-gradient(90deg,#c8e7f1,#e8f6e9,#e3f4f3,#d0ebf3,#ddf1f7,#e5f5ef,#e2f4f5,#e1f3f6,#d3edf4,#d6eef5,#dff2f8,#e5f5ef,#d4edf5,#d0ebf4,#e6f5ec,#d3ecf4,#e6f5ed,#e0f3f8,#e5f5f0,#eaf7e5,#e3f4f2,#e4f4f1)"></i><i style="top:28px;background:linear-gradient(90deg,#d8eff6,#dbf0f7,#e6f5ed,#ecf8e2,#ebf7e3,#f2fad8,#e4f4f1,#e3f4f2,#e9f6e8,#e2f4f5,#e1f4f6,#d7eef5,#e8f6e8,#d6eef5,#e5f5ee,#d2ecf4,#e9f7e7,#d7eff5,#e7f6ea,#d0ebf4,#def2f7,#eaf7e6)"></i><i style="top:29px;background:linear-gradient(90deg,#e3f4f3,#e9f6e8,#e5f5ef,#d3edf4,#eaf7e5,#ebf7e3,#e1f3f7,#ecf8e2,#e3f4f3,#e1f4f5,#e8f6e9,#e4f4f1,#f8fccc,#dcf1f7,#edf8e0,#eff9dc,#d7eff5,#daf0f6,#ecf8e2,#e5f5ef,#ebf7e4,#f0f9db)"></i><i style="top:30px;background:linear-gradient(90deg,#e6f5ee,#e1f3f6,#ceeaf3,#e9f7e7,#e2f4f5,#eaf7e5,#eaf7e6,#def2f7,#f4fbd3,#eff9dc,#eef8de,#e0f3f8,#e5f5ee,#e4f5f0,#e5f5ee,#e0f3f7,#ebf7e4,#eaf7e6,#ebf7e5,#e5f5ef,#f1fad9,#e9f7e7)"></i><i style="top:31px;background:linear-gradient(90deg,#cce9f2,#e3f4f3,#e7f6ec,#eef8df,#e5f5ef,#e5f5ee,#e3f4f3,#ecf7e3,#e4f5f1,#e3f4f3,#e2f4f4,#ebf7e4,#e3f4f2,#d9eff6,#ebf7e3,#e2f4f4,#eaf7e7,#eaf7e6,#eff9dc,#eef8de,#e3f4f2,#e6f5ed)"></i><i style="top:32px;background:linear-gradient(90deg,#e0f3f8,#f4fbd3,#ecf7e3,#f2fad7,#e6f5ec,#d7eef5,#f3fad5,#e9f7e7,#e9f7e7,#e9f6e8,#edf8e0,#ecf8e2,#dcf1f7,#f0f9db,#e5f5ef,#e5f5ee,#f4fbd3,#eff9dd,#e6f5ed,#d9f0f6,#eaf7e6,#ecf8e2)"></i><i style="top:33px;background:linear-gradient(90deg,#e7f6ec,#def2f7,#e2f4f5,#def2f7,#e9f6e8,#edf8e0,#eef9de,#e2f4f4,#e9f6e8,#ebf7e4,#e4f4f1,#e6f5ed,#f6fbd0,#e9f6e8,#edf8e0,#e4f5f0,#e8f6ea,#d8eff6,#e7f6eb,#eff9dc,#f6fbd0,#eff9dc)"></i><i style="top:34px;background:linear-gradient(90deg,#e4f4f1,#dff2f8,#d7eff5,#dcf1f7,#e3f4f2,#d5eef5,#e5f5ee,#d3ecf4,#c9e8f2,#d2ecf4,#cbe9f2,#ceeaf3,#e7f6ec,#dcf1f7,#e0f3f7,#e7f6eb,#e8f6ea,#d8eff6,#e8f6e9,#e2f4f5,#def2f7,#e2f4f4)"></i><i style="top:35px;background:linear-gradient(90deg,#d3edf4,#daf0f6,#e1f3f6,#e6f5ed,#dff3f8,#e1f3f6,#e9f6e8,#ecf7e3,#e7f6eb,#ebf7e4,#dff2f8,#e0f3f8,#e4f5f0,#e0f3f8,#ddf2f7,#edf8e0,#e1f3f7,#d8eff6,#e5f5ee,#eef9dd,#e3f4f3,#eaf7e5)"></i><i style="top:36px;background:linear-gradient(90deg,#dcf1f7,#dcf1f7,#d9f0f6,#e0f3f8,#edf8e0,#d4edf5,#ecf8e2,#d6eef5,#dff2f8,#e6f6ec,#e5f5ef,#e3f4f3,#ceeaf3,#e3f4f2,#d5eef5,#f2fad6,#dff2f8,#e2f4f4,#d4edf5,#dcf1f7,#d2ecf4,#e7f6ea)"></i><i style="top:37px;background:linear-gradient(90deg,#dbf1f7,#e3f4f3,#d6eef5,#d8eff6,#e8f6ea,#d3edf4,#c9e8f2,#e2f4f5,#d1ecf4,#d9f0f6,#e5f5ee,#d5edf5,#e5f5ef,#d6eef5,#e9f7e7,#e8f6e9,#d9eff6,#dcf1f7,#d5edf5,#e0f3f7,#e7f6eb,#cdeaf3)"></i><i style="top:38px;background:linear-gradient(90deg,#e7f6eb,#d2ecf4,#d8eff6,#cdeaf3,#eff9dc,#e1f4f6,#e3f4f3,#daf0f6,#e8f6e9,#c9e8f2,#e1f3f6,#f0f9db,#ddf2f7,#e1f3f6,#e6f5ee,#d8eff6,#e1f3f6,#e7f6ea,#e2f4f4,#e3f4f2,#def2f7,#e3f4f2)"></i><i style="top:39px;background:linear-gradient(90deg,#e3f4f3,#ecf8e1,#e7f6ea,#e1f3f7,#c8e7f1,#e7f6eb,#e8f6ea,#d9f0f6,#cdeaf3,#d7eef5,#e9f6e8,#d8eff6,#dff2f8,#e4f5f1,#ebf7e4,#e2f4f4,#e2f4f5,#def2f7,#eef8df,#eaf7e6,#e2f4f5,#d4edf5)"></i><i style="top:40px;background:linear-gradient(90deg,#d8eff6,#e5f5ef,#d9eff6,#e7f6eb,#e3f4f2,#e3f4f3,#e5f5ee,#e4f5f0,#d7eff6,#ddf2f7,#f1f9d9,#d3edf4,#dcf1f7,#e8f6e9,#dff3f8,#d8eff6,#d2ecf4,#e4f5f0,#e8f6ea,#eaf7e5,#e1f3f6,#e8f6ea)"></i><i style="top:41px;background:linear-gradient(90deg,#cfebf3,#ddf1f7,#d3edf4,#ddf2f7,#e2f4f4,#e4f5f0,#cfebf3,#e6f5ee,#d5eef5,#cfebf3,#d9f0f6,#cae8f2,#dbf1f7,#def2f8,#d9eff6,#e1f3f7,#d7eff6,#dbf1f7,#cae8f2,#dbf1f7,#d1ecf4,#d6eef5)"></i><i style="top:42px;background:linear-gradient(90deg,#e1f3f7,#e3f4f3,#cfebf3,#d0ebf4,#dff2f8,#e5f5ef,#e4f5f1,#e8f6ea,#eaf7e5,#e5f5ef,#e1f4f6,#d6eef5,#d7eff6,#ddf2f7,#e3f4f2,#e3f4f3,#e1f4f5,#e0f3f7,#e6f5ed,#e3f4f3,#e3f4f2,#e4f4f1)"></i><i style="top:43px;background:linear-gradient(90deg,#e5f5f0,#e1f3f6,#ecf8e3,#ebf7e4,#e7f6ec,#e5f5ee,#f8fccc,#e3f4f2,#e7f6eb,#eaf7e5,#e0f3f7,#e9f7e7,#f5fbd2,#eff9dd,#edf8e1,#ecf8e1,#e9f7e7,#eff9dd,#e7f6eb,#e5f5ee,#e9f6e7,#eef9dd)"></i><i style="top:44px;background:linear-gradient(90deg,#e1f3f6,#e3f4f2,#c6e6f1,#e7f6eb,#eff9dd,#e8f6e9,#daf0f6,#d4edf5,#e1f3f7,#d2ecf4,#e4f4f1,#d8eff6,#e5f5ee,#e8f6e9,#c6e6f1,#e1f3f7,#d6eef5,#cdeaf3,#d7eef5,#dbf1f7,#e6f5ed,#cce9f2)"></i><i style="top:45px;background:linear-gradient(90deg,#e3f4f3,#e9f7e7,#dff3f8,#def2f8,#d8eff6,#cae8f2,#def2f8,#ddf1f7,#e0f3f7,#edf8e0,#e0f3f7,#ddf2f7,#e6f5ed,#c8e7f1,#cbe9f2,#d4edf5,#d0ebf4,#e0f3f8,#d4edf5,#e7f6eb,#e6f5ed,#e1f3f7)"></i><i style="top:46px;background:linear-gradient(90deg,#dff2f8,#e6f5ed,#e7f6ea,#d7eef5,#e4f5f0,#e7f6ec,#e3f4f2,#edf8e1,#eaf7e5,#daf0f6,#e3f4f3,#d9f0f6,#e6f5ed,#d9f0f6,#e8f6e9,#e5f5f0,#e8f6e8,#e1f3f6,#d2ecf4,#eef8de,#e1f3f7,#ebf7e3)"></i><i style="top:47px;background:linear-gradient(90deg,#e7f6ea,#e9f6e7,#f1fad9,#e7f6ec,#eef8de,#d6eef5,#eaf7e5,#e3f4f3,#e3f4f2,#e4f5f0,#e7f6ec,#f0f9db,#d2ecf4,#e5f5ef,#dff3f8,#ecf8e1,#e2f4f5,#e8f6ea,#e2f4f5,#e9f6e8,#ebf7e3,#e2f4f5)"></i><i style="top:48px;background:linear-gradient(90deg,#e3f4f2,#d4edf5,#e5f5ef,#e9f6e8,#def2f7,#eaf7e5,#cce9f2,#cfebf3,#d4edf5,#dff2f8,#e3f4f3,#e2f4f4,#e2f4f4,#e8f6ea,#dff3f8,#d6eef5,#d6eef5,#f1fad9,#c9e8f2,#e1f4f5,#edf8e1,#e6f5ed)"></i><i style="top:49px;background:linear-gradient(90deg,#d4edf5,#def2f7,#e4f5f0,#e7f6ec,#d3edf4,#e4f4f1,#e0f3f8,#e6f5ed,#e8f6e9,#d9f0f6,#cde9f3,#e1f3f6,#ebf7e4,#e3f4f2,#e0f3f8,#eff9dd,#d1ecf4,#e5f5ef,#d7eff5,#def2f7,#dff2f8,#e9f6e8)"></i><i style="top:50px;background:linear-gradient(90deg,#daf0f6,#dff2f8,#d2ecf4,#e6f5ed,#e0f3f8,#e6f5ed,#d8eff6,#e0f3f7,#eaf7e6,#e2f4f5,#e7f6eb,#e7f6ec,#e0f3f7,#d3edf4,#eaf7e6,#e4f5f1,#eaf7e6,#cdeaf3,#d2ecf4,#cce9f2,#dbf0f7,#eaf7e6)"></i><i style="top:51px;background:linear-gradient(90deg,#e2f4f5,#dcf1f7,#def2f7,#e3f4f2,#d9eff6,#e1f3f7,#def2f7,#c3e5f0,#d8eff6,#e7f6eb,#d8eff6,#dbf0f6,#d5eef5,#d7eef5,#e6f5ee,#d9f0f6,#d0ebf4,#b8dfed,#d6eef5,#c5e6f0,#c7e7f1,#e3f4f2)"></i><i style="top:52px;background:linear-gradient(90deg,#e0f3f8,#c2e4ef,#e1f3f6,#ddf2f7,#cfebf3,#e0f3f7,#c5e6f0,#cae8f2,#c7e7f1,#cbe9f2,#e1f4f6,#c8e7f1,#cbe8f2,#cdeaf3,#daf0f6,#d4edf5,#e1f3f6,#d0ebf3,#c9e8f1,#d2ecf4,#d8eff6,#cdeaf3)"></i><i style="top:53px;background:linear-gradient(90deg,#def2f8,#e9f7e7,#d4edf5,#dbf1f7,#e6f5ec,#d3edf4,#d1ecf4,#ceeaf3,#e0f3f8,#e1f3f7,#d9f0f6,#dbf1f7,#e6f5ee,#e3f4f3,#cbe8f2,#dbf0f7,#dcf1f7,#e2f4f5,#d8eff6,#d3edf4,#d5eef5,#c6e6f1)"></i><i style="top:54px;background:linear-gradient(90deg,#dff3f8,#d9eff6,#e3f4f3,#d4edf4,#daf0f6,#d4edf5,#d3edf4,#e4f5f0,#daf0f6,#e3f4f3,#d2ecf4,#e0f3f7,#cce9f2,#daf0f6,#daf0f6,#e4f4f1,#e1f3f6,#ddf2f7,#e5f5ee,#e1f3f6,#e3f4f2,#e5f5ef)"></i><i style="top:55px;background:linear-gradient(90deg,#e2f4f4,#e1f3f7,#e5f5ef,#e0f3f8,#e5f5ee,#eaf7e5,#e9f6e8,#e0f3f8,#d6eef5,#e2f4f4,#e2f4f5,#eaf7e5,#e0f3f8,#e1f3f6,#e8f6ea,#dff3f8,#e2f4f5,#eef9de,#edf8e0,#e7f6eb,#e5f5f0,#d9f0f6)"></i><i style="top:56px;background:linear-gradient(90deg,#e6f5ed,#e3f4f3,#e4f4f1,#def2f7,#e2f4f4,#e1f3f6,#e4f5f0,#ecf8e2,#e5f5ef,#d1ebf4,#d9eff6,#d2ecf4,#dbf0f7,#e6f5ed,#e5f5ef,#ddf2f7,#e4f5f0,#dbf1f7,#d3edf4,#d4edf4,#daf0f6,#ecf8e2)"></i><i style="top:57px;background:linear-gradient(90deg,#d1ecf4,#e9f6e7,#eaf7e6,#dff2f8,#e0f3f8,#daf0f6,#e0f3f7,#e5f5ef,#e1f3f7,#e7f6ea,#e9f6e8,#e3f4f3,#e3f4f3,#e0f3f8,#e3f4f3,#d4edf5,#e3f4f2,#e2f4f4,#d7eff5,#eff9dc,#d6eef5,#d7eff5)"></i><i style="top:58px;background:linear-gradient(90deg,#e4f5f0,#ceeaf3,#dbf1f7,#d2ecf4,#d9f0f6,#e2f4f5,#e5f5f0,#eaf7e6,#e8f6e9,#eaf7e5,#e6f5ec,#dff2f8,#eaf7e6,#def2f8,#ddf2f7,#edf8e0,#e8f6ea,#e4f5f1,#e8f6ea,#e8f6e9,#d4edf5,#e2f4f5)"></i><i style="top:59px;background:linear-gradient(90deg,#d3edf4,#e2f4f5,#d9f0f6,#eaf7e6,#e4f5f0,#d8eff6,#e1f3f7,#d3edf4,#e1f3f6,#e4f5f0,#e2f4f3,#cbe9f2,#ddf2f7,#e4f5f0,#e3f4f3,#e9f6e8,#d2ecf4,#e4f5f0,#daf0f6,#e2f4f4,#e3f4f2,#e5f5ee)"></i><i style="top:60px;background:linear-gradient(90deg,#daf0f6,#e2f4f5,#d3edf4,#d1ebf4,#e4f5f0,#e0f3f8,#ceeaf3,#d7eff5,#e1f3f7,#ebf7e3,#e8f6ea,#e6f5ed,#cce9f2,#e0f3f8,#e4f4f1,#e3f4f2,#e3f4f2,#def2f8,#edf8e1,#ebf7e4,#e0f3f8,#d6eef5)"></i><i style="top:61px;background:linear-gradient(90deg,#e7f6ec,#cdeaf3,#e1f3f6,#e6f5ed,#c9e8f1,#d7eff5,#d0ebf3,#daf0f6,#d7eff6,#e6f5ed,#daf0f6,#d3edf4,#e0f3f7,#d0ebf4,#cfebf3,#e8f6e9,#cae8f2,#ceeaf3,#d4edf5,#c7e7f1,#bbe1ee,#e0f3f8)"></i><i style="top:62px;background:linear-gradient(90deg,#c9e8f2,#cce9f2,#ceeaf3,#c7e7f1,#c6e6f1,#d4edf5,#e8f6e9,#dbf0f7,#dbf1f7,#c1e4ef,#d2ecf4,#c4e5f0,#dbf1f7,#d0ebf3,#d3ecf4,#d1ecf4,#cbe9f2,#c0e4ef,#d9f0f6,#c2e4f0,#c4e5f0,#cfebf3)"></i><i style="top:63px;background:linear-gradient(90deg,#d4edf5,#e0f3f8,#e5f5ef,#e0f3f8,#dff2f8,#ddf1f7,#e4f5f1,#c7e7f1,#e1f3f7,#d2ecf4,#ceeaf3,#ddf1f7,#d8eff6,#e2f4f4,#e6f5ee,#c2e4ef,#dcf1f7,#ebf7e3,#e4f5f1,#e8f6e9,#def2f7,#cce9f2)"></i><i style="top:64px;background:linear-gradient(90deg,#c7e7f1,#ddf1f7,#dff3f8,#cce9f2,#d1ecf4,#d7eff6,#c0e3ef,#d0ebf4,#e4f5f0,#e8f6e9,#d3edf4,#e6f5ee,#ceeaf3,#cbe9f2,#bae0ed,#dff3f8,#d0ebf3,#e9f7e7,#d8eff6,#d7eef5,#bfe3ef,#e3f4f2)"></i><i style="top:65px;background:linear-gradient(90deg,#d3edf4,#d6eef5,#bee2ee,#e1f4f5,#e2f4f5,#d1ebf4,#d9eff6,#dcf1f7,#e2f4f5,#d9f0f6,#e7f6eb,#d5eef5,#d1ebf4,#d2ecf4,#bae0ed,#ceeaf3,#e2f4f4,#dbf0f7,#ceeaf3,#dcf1f7,#c0e3ef,#d4edf5)"></i><i style="top:66px;background:linear-gradient(90deg,#e0f3f8,#e1f3f6,#d1ebf4,#e2f4f3,#e9f6e7,#d5edf5,#e1f4f6,#c7e7f1,#c3e5f0,#e0f3f7,#daf0f6,#dcf1f7,#d3edf4,#d6eef5,#e2f4f5,#e8f6e9,#d7eff5,#c6e6f1,#e5f5ef,#e0f3f7,#e1f3f6,#dcf1f7)"></i><i style="top:67px;background:linear-gradient(90deg,#ebf7e4,#d8eff6,#ddf2f7,#c2e4ef,#d1ebf4,#cfebf3,#d7eff5,#dbf1f7,#cfeaf3,#e7f6ec,#cbe9f2,#d2ecf4,#daf0f6,#c9e8f1,#def2f7,#dff2f8,#d4edf5,#e8f6e9,#d8eff6,#dbf0f6,#cce9f2,#c4e5f0)"></i><i style="top:68px;background:linear-gradient(90deg,#d2ecf4,#d6eef5,#d4edf5,#e1f4f6,#bee2ee,#cce9f2,#c4e5f0,#e5f5ee,#d3edf4,#d3edf4,#cce9f2,#e2f4f4,#d5edf5,#dcf1f7,#c2e4ef,#e4f5f0,#def2f7,#e0f3f8,#e5f5f0,#d7eff5,#d7eff6,#e1f3f6)"></i><i style="top:69px;background:linear-gradient(90deg,#e2f4f4,#dcf1f7,#dff2f8,#d9eff6,#e4f5f1,#e5f5ee,#dff2f8,#ecf8e2,#cde9f2,#dcf1f7,#ebf7e4,#daf0f6,#cce9f2,#e9f6e8,#e3f4f3,#d1ebf4,#e4f5f0,#d3ecf4,#cfebf3,#ddf1f7,#d9eff6,#d2ecf4)"></i><i style="top:70px;background:linear-gradient(90deg,#cae8f2,#c2e4f0,#cfebf3,#ceeaf3,#d7eff5,#c9e8f1,#bfe3ef,#bfe3ef,#cbe9f2,#e0f3f8,#d8eff6,#c7e7f1,#d9f0f6,#c1e4ef,#daf0f6,#cae8f2,#d7eff5,#d5eef5,#cbe9f2,#d2ecf4,#c2e4ef,#cdeaf3)"></i><i style="top:71px;background:linear-gradient(90deg,#e7f6ec,#fbfec6,#e4f5f0,#e0f3f8,#d3edf4,#e7f6ec,#cce9f2,#d6eef5,#e2f4f5,#d1ecf4,#eaf7e6,#e7f6eb,#d8eff6,#d8eff6,#cfebf3,#cfeaf3,#e2f4f4,#e4f4f1,#e2f4f5,#e1f3f6,#d8eff6,#e2f4f5)"></i><i style="top:72px;background:linear-gradient(90deg,#d8eff6,#e5f5ee,#eff9dc,#eef9de,#e2f4f4,#e3f4f3,#eff9dd,#f1fad8,#d7eff6,#e2f4f4,#e7f6ec,#eef8df,#dff3f8,#eaf7e6,#e3f4f2,#f5fbd1,#e8f6e9,#e4f5f0,#e3f4f3,#ecf8e1,#eaf7e6,#dcf1f7)"></i><i style="top:73px;background:linear-gradient(90deg,#dff3f8,#cdeaf3,#d4edf5,#ceeaf3,#cdeaf3,#d5edf5,#d1ecf4,#e2f4f5,#e4f4f1,#daf0f6,#d0ebf3,#e4f4f1,#c5e6f0,#c6e6f1,#e3f4f2,#e3f4f3,#e5f5ef,#daf0f6,#ceeaf3,#d7eef5,#e2f4f4,#d4edf5)"></i><i style="top:74px;background:linear-gradient(90deg,#d2ecf4,#cae8f2,#cce9f2,#e2f4f4,#dff3f8,#cce9f2,#cdeaf3,#d3edf4,#e0f3f8,#cce9f2,#d8eff6,#c1e4ef,#cbe9f2,#dff2f8,#e3f4f3,#cce9f2,#d1ecf4,#e2f4f5,#d5eef5,#d4edf4,#e0f3f8,#dcf1f7)"></i><i style="top:75px;background:linear-gradient(90deg,#e7f6ea,#e5f5ee,#d9f0f6,#def2f7,#dff2f8,#d0ebf3,#d4edf5,#e6f5ec,#cdeaf3,#e7f6ec,#e2f4f5,#def2f7,#e3f4f2,#e3f4f2,#e8f6e9,#dbf1f7,#ddf2f7,#ddf1f7,#edf8e1,#e6f5ec,#d5eef5,#dcf1f7)"></i><i style="top:76px;background:linear-gradient(90deg,#daf0f6,#e2f4f5,#e3f4f3,#f1fad8,#cdeaf3,#e9f6e8,#e5f5f0,#daf0f6,#e1f3f7,#ddf1f7,#e2f4f5,#e8f6e9,#d1ecf4,#ebf7e5,#def2f8,#ecf8e2,#e4f5f0,#eaf7e6,#e5f5ee,#e9f6e7,#e2f4f4,#d9f0f6)"></i><i style="top:77px;background:linear-gradient(90deg,#dbf1f7,#dcf1f7,#e7f6eb,#bce1ee,#d1ecf4,#e0f3f8,#c5e6f0,#d1ecf4,#e7f6eb,#e2f4f4,#c9e8f2,#e2f4f4,#e1f3f7,#ddf1f7,#d8eff6,#d6eef5,#c9e8f2,#cdeaf3,#dcf1f7,#d5eef5,#e5f5ee,#d0ebf3)"></i><i style="top:78px;background:linear-gradient(90deg,#bae0ed,#d2ecf4,#d9f0f6,#daf0f6,#d7eef5,#cce9f2,#e4f5f0,#ceeaf3,#def2f8,#d3ecf4,#c8e7f1,#e4f4f1,#b9e0ed,#cce9f2,#dbf1f7,#d2ecf4,#dff2f8,#d5eef5,#d1ecf4,#e9f6e8,#d4edf4,#d4edf5)"></i><i style="top:79px;background:linear-gradient(90deg,#cae8f2,#ceeaf3,#dff2f8,#def2f7,#d7eff5,#cfebf3,#dff3f8,#c3e5f0,#d3edf4,#d4edf5,#cdeaf3,#d9f0f6,#cfebf3,#ceeaf3,#e7f6eb,#e0f3f8,#e3f4f2,#d8eff6,#e1f4f5,#e0f3f8,#e3f4f2,#ebf7e4)"></i><i style="top:80px;background:linear-gradient(90deg,#d8eff6,#ddf2f7,#daf0f6,#b1dceb,#cae8f2,#dbf0f6,#e1f3f6,#d4edf5,#e5f5f0,#e6f5ee,#d6eef5,#e6f6ec,#e9f6e8,#e0f3f8,#cfebf3,#e7f6eb,#d9eff6,#d6eef5,#dcf1f7,#d4edf5,#e4f5f0,#e2f4f4)"></i><i style="top:81px;background:linear-gradient(90deg,#e5f5f0,#e0f3f8,#d0ebf4,#d8eff6,#e2f4f4,#d5eef5,#f0f9da,#d7eef5,#d3edf4,#e4f5f0,#e1f4f5,#d9f0f6,#d7eff5,#dff2f8,#e2f4f4,#e1f4f5,#d6eef5,#dff2f8,#e2f4f4,#e1f4f5,#b6deec,#cfebf3)"></i><i style="top:82px;background:linear-gradient(90deg,#d1ecf4,#d7eff6,#dcf1f7,#e3f4f3,#e1f3f7,#d9eff6,#daf0f6,#e9f6e8,#d3edf4,#def2f7,#e7f6eb,#def2f7,#c2e4f0,#def2f8,#d6eef5,#d9eff6,#e4f4f1,#e0f3f8,#d7eff5,#e3f4f3,#dff3f8,#dbf1f7)"></i><i style="top:83px;background:linear-gradient(90deg,#d8eff6,#d8eff6,#d1ebf4,#cfebf3,#d5eef5,#c9e8f2,#c6e6f1,#e2f4f4,#d2ecf4,#d4edf5,#d3edf4,#d5eef5,#d5eef5,#d5eef5,#cbe9f2,#dff3f8,#cde9f2,#e0f3f7,#bee2ee,#c8e7f1,#e0f3f8,#d3edf4)"></i><i style="top:84px;background:linear-gradient(90deg,#cde9f2,#d9eff6,#c8e7f1,#d5eef5,#bbe1ed,#cfebf3,#cdeaf3,#dbf0f6,#dff2f8,#cae8f2,#e4f5f0,#cdeaf3,#bce2ee,#b9e0ed,#e4f4f1,#d3edf4,#cdeaf3,#cce9f2,#c8e7f1,#e2f4f4,#d3edf4,#e5f5ee)"></i><i style="top:85px;background:linear-gradient(90deg,#ceeaf3,#b5deec,#daf0f6,#cce9f2,#ceeaf3,#e2f4f5,#cdeaf3,#def2f7,#d0ebf4,#c8e7f1,#d6eef5,#c9e8f2,#dff2f8,#dcf1f7,#d1ecf4,#d7eff6,#d7eff5,#cdeaf3,#dbf0f7,#ceeaf3,#d8eff6,#c5e6f0)"></i><i style="top:86px;background:linear-gradient(90deg,#d1ecf4,#d5edf5,#c7e7f1,#cbe9f2,#cae8f2,#d8eff6,#c7e7f1,#d5eef5,#e1f3f6,#d4edf5,#bde2ee,#d1ecf4,#dcf1f7,#cce9f2,#ddf1f7,#d7eff5,#d5edf5,#cdeaf3,#cae8f2,#cdeaf3,#d1ebf4,#d6eef5)"></i><i style="top:87px;background:linear-gradient(90deg,#d8eff6,#cfebf3,#d3edf4,#d7eff6,#c0e3ef,#cae8f2,#c9e8f2,#d0ebf4,#cfebf3,#d0ebf3,#c9e7f1,#dbf0f6,#d6eef5,#c0e3ef,#d3edf4,#c6e6f1,#e4f4f1,#cdeaf3,#ceeaf3,#d4edf5,#d0ebf4,#d2ecf4)"></i><i style="top:88px;background:linear-gradient(90deg,#e2f4f4,#d4edf5,#dbf1f7,#dff2f8,#c6e6f1,#e3f4f2,#daf0f6,#ddf1f7,#c8e7f1,#dbf1f7,#d7eef5,#cbe9f2,#e7f6eb,#d8eff6,#cfebf3,#d4edf5,#dcf1f7,#dff2f8,#d8eff6,#e0f3f8,#e2f4f5,#c3e5f0)"></i><i style="top:89px;background:linear-gradient(90deg,#cae8f2,#c4e5f0,#d0ebf4,#e0f3f8,#d7eef5,#c3e5f0,#cce9f2,#dbf1f7,#c9e8f1,#ceeaf3,#d3edf4,#bae0ed,#d8eff6,#d3edf4,#d6eef5,#c4e5f0,#c6e6f1,#c8e7f1,#d2ecf4,#d0ebf3,#d1ebf4,#e2f4f4)"></i><i style="top:90px;background:linear-gradient(90deg,#e6f5ed,#d3edf4,#d4edf5,#e9f7e7,#d8eff6,#e7f6ec,#e8f6e9,#d5eef5,#d8eff6,#dcf1f7,#d1ecf4,#d0ebf3,#d7eef5,#e3f4f2,#d6eef5,#d9f0f6,#d6eef5,#cce9f2,#e7f6ea,#c0e3ef,#d4edf5,#e1f3f6)"></i><i style="top:91px;background:linear-gradient(90deg,#c3e5f0,#daf0f6,#e1f3f6,#c9e8f1,#d5eef5,#c6e6f1,#d9f0f6,#d4edf5,#d5eef5,#e2f4f5,#d8eff6,#e2f4f5,#daf0f6,#c5e6f0,#d6eef5,#d9eff6,#c2e4f0,#e1f4f5,#d4edf5,#d7eff6,#c9e7f1,#d4edf5)"></i><i style="top:92px;background:linear-gradient(90deg,#d0ebf3,#c8e7f1,#cdeaf3,#b3ddeb,#dcf1f7,#bfe3ef,#b3ddeb,#c1e4ef,#c2e4f0,#d3ecf4,#c2e4ef,#cfebf3,#c1e4ef,#e3f4f2,#d3ecf4,#e2f4f5,#c0e3ef,#d4edf5,#c1e4ef,#d3edf4,#d4edf5,#bae0ed)"></i><i style="top:93px;background:linear-gradient(90deg,#c9e8f1,#c9e8f1,#c5e6f0,#ceeaf3,#cbe9f2,#c5e6f0,#d7eff6,#ddf1f7,#c7e7f1,#d0ebf3,#d6eef5,#d4edf4,#ceeaf3,#e0f3f8,#e0f3f8,#def2f7,#d4edf5,#e8f6ea,#e6f5ed,#d2ecf4,#d5eef5,#e2f4f4)"></i><i style="top:94px;background:linear-gradient(90deg,#c7e7f1,#d5eef5,#d1ecf4,#c8e7f1,#cdeaf3,#bee2ee,#cae8f2,#b9e0ed,#e6f5ec,#e1f3f6,#def2f8,#d4edf5,#dcf1f7,#dff3f8,#dcf1f7,#dbf0f7,#c6e6f1,#d5eef5,#cae8f2,#c2e4f0,#c3e5f0,#d5eef5)"></i><i style="top:95px;background:linear-gradient(90deg,#e0f3f8,#c4e5f0,#e5f5ef,#e3f4f3,#cfebf3,#ceeaf3,#d3edf4,#dff3f8,#cfebf3,#c7e7f1,#d8eff6,#bce1ee,#d6eef5,#e1f3f7,#d7eff6,#ddf2f7,#daf0f6,#dcf1f7,#d6eef5,#cae8f2,#d1ecf4,#d3edf4)"></i><i style="top:96px;background:linear-gradient(90deg,#e1f3f7,#e3f4f2,#d7eff6,#cae8f2,#cae8f2,#d0ebf4,#e2f4f5,#d6eef5,#d2ecf4,#cae8f2,#ddf1f7,#d6eef5,#d2ecf4,#d4edf5,#e4f4f1,#d1ebf4,#e4f4f1,#e1f3f7,#d3edf4,#ddf1f7,#d1ecf4,#c9e8f1)"></i><i style="top:97px;background:linear-gradient(90deg,#d0ebf3,#c8e7f1,#d9f0f6,#d3edf4,#daf0f6,#ddf1f7,#afdbea,#d7eef5,#bee2ee,#d5eef5,#c9e8f1,#d4edf5,#e2f4f5,#bfe3ef,#d5eef5,#d2ecf4,#bde2ee,#daf0f6,#d3edf4,#cdeaf3,#cbe8f2,#eef9de)"></i><i style="top:98px;background:linear-gradient(90deg,#cdeaf3,#bce2ee,#c7e6f1,#cdeaf3,#cdeaf3,#d0ebf4,#c5e6f0,#d8eff6,#cce9f2,#c1e4ef,#c8e7f1,#cdeaf3,#dbf1f7,#d7eff5,#cdeaf3,#d2ecf4,#d4edf5,#e5f5ee,#cae8f2,#d7eef5,#daf0f6,#c6e6f1)"></i><i style="top:99px;background:linear-gradient(90deg,#d0ebf3,#cfebf3,#c8e7f1,#d4edf5,#d9f0f6,#daf0f6,#cbe9f2,#d0ebf3,#e5f5ef,#c0e4ef,#d0ebf3,#d8eff6,#cfebf3,#d5eef5,#cfebf3,#d6eef5,#dcf1f7,#cbe9f2,#d0ebf3,#cdeaf3,#c9e8f1,#cdeaf3)"></i><i style="top:100px;background:linear-gradient(90deg,#c5e6f0,#dbf1f7,#e4f4f1,#e4f4f1,#e1f3f6,#c7e7f1,#e2f4f3,#cae8f2,#d2ecf4,#e5f5ef,#c6e6f1,#dcf1f7,#d6eef5,#d1ecf4,#c8e7f1,#d7eff6,#cdeaf3,#dff2f8,#e0f3f7,#c2e5f0,#cdeaf3,#cfebf3)"></i><i style="top:101px;background:linear-gradient(90deg,#cbe9f2,#cce9f2,#daf0f6,#d6eef5,#c5e6f0,#d2ecf4,#dff2f8,#cbe9f2,#ceeaf3,#e7f6ec,#e5f5ef,#c6e6f1,#c9e8f1,#ddf2f7,#cbe9f2,#d6eef5,#d3edf4,#dff3f8,#bbe1ee,#bfe3ef,#cae8f2,#e3f4f3)"></i><i style="top:102px;background:linear-gradient(90deg,#c3e5f0,#b1dceb,#cae8f2,#cdeaf3,#c2e4ef,#c1e4ef,#cae8f2,#d3ecf4,#c6e6f1,#cbe9f2,#c4e5f0,#c0e3ef,#bae0ed,#c8e7f1,#c1e4ef,#c2e4ef,#cfebf3,#cae8f2,#cfebf3,#b2ddeb,#cbe9f2,#bee2ee)"></i><i style="top:103px;background:linear-gradient(90deg,#c3e5f0,#c2e4f0,#daf0f6,#d6eef5,#c4e5f0,#bfe3ef,#cce9f2,#c7e7f1,#e0f3f8,#bbe1ee,#b7dfec,#c9e8f2,#cce9f2,#ceeaf3,#d5eef5,#e3f4f3,#c8e7f1,#c6e6f1,#b8dfed,#cfebf3,#d6eef5,#c9e8f2)"></i><i style="top:104px;background:linear-gradient(90deg,#ddf1f7,#cfebf3,#e0f3f7,#d3edf4,#c3e5f0,#c8e7f1,#bde2ee,#bbe1ed,#d2ecf4,#d9f0f6,#e3f4f2,#ceeaf3,#cce9f2,#c2e4f0,#dbf0f6,#d4edf4,#c8e7f1,#d7eff5,#d6eef5,#b9e0ed,#d8eff6,#d1ebf4)"></i><i style="top:105px;background:linear-gradient(90deg,#c1e4ef,#c1e4ef,#daf0f6,#d8eff6,#dbf1f7,#b8dfed,#bee2ee,#d0ebf4,#b8dfed,#bde2ee,#b1dceb,#dbf1f7,#d2ecf4,#cbe9f2,#c8e7f1,#c1e4ef,#c1e4ef,#cdeaf3,#bde2ee,#d4edf5,#c0e3ef,#bbe1ee)"></i><i style="top:106px;background:linear-gradient(90deg,#d5eef5,#c5e6f0,#cdeaf3,#c1e4ef,#acd9e9,#cde9f3,#b7dfec,#d3edf4,#b4ddec,#b0dceb,#cae8f2,#cbe9f2,#c7e7f1,#b8dfed,#d1ebf4,#b5deec,#c1e4ef,#bde2ee,#c2e4ef,#d0ebf4,#bfe3ef,#cdeaf3)"></i><i style="top:107px;background:linear-gradient(90deg,#dff3f8,#c3e5f0,#c9e8f2,#d3ecf4,#d0ebf3,#dbf0f6,#c0e4ef,#dff3f8,#e0f3f8,#d5eef5,#c7e7f1,#d7eff5,#d1ecf4,#def2f7,#d6eef5,#dff3f8,#d2ecf4,#e5f5f0,#bce1ee,#cbe9f2,#ddf1f7,#c5e6f0)"></i><i style="top:108px;background:linear-gradient(90deg,#d9eff6,#c2e4ef,#d1ecf4,#c5e6f0,#cbe9f2,#d2ecf4,#cfebf3,#cce9f2,#e5f5ee,#d0ebf4,#c5e6f0,#dbf0f7,#daf0f6,#def2f8,#e3f4f3,#c5e6f0,#dcf1f7,#ddf2f7,#d0ebf3,#d3edf4,#addaea,#c9e8f2)"></i><i style="top:109px;background:linear-gradient(90deg,#e8f6ea,#c4e5f0,#d2ecf4,#dcf1f7,#dff3f8,#e7f6ec,#c4e5f0,#d9f0f6,#e1f4f5,#c9e8f2,#d8eff6,#e8f6e9,#e5f5f0,#dff2f8,#bae0ed,#d7eff5,#ddf1f7,#d5edf5,#d8eff6,#f1f9da,#d6eef5,#cdeaf3)"></i><i style="top:110px;background:linear-gradient(90deg,#d4edf5,#ceeaf3,#ceeaf3,#d0ebf4,#daf0f6,#d4edf5,#c3e5f0,#d0ebf3,#d7eff5,#cce9f2,#dff2f8,#daf0f6,#c6e6f1,#d5eef5,#e5f5ef,#e2f4f4,#d1ecf4,#dcf1f7,#cae8f2,#c0e4ef,#d8eff6,#d4edf5)"></i><i style="top:111px;background:linear-gradient(90deg,#d2ecf4,#cce9f2,#d0ebf4,#c6e6f1,#d2ecf4,#d6eef5,#cce9f2,#d6eef5,#b8dfed,#c3e5f0,#ddf2f7,#e1f3f7,#cfebf3,#cbe9f2,#bee2ee,#d1ebf4,#d5eef5,#bbe1ee,#d3edf4,#d2ecf4,#d1ecf4,#bfe3ef)"></i><i style="top:112px;background:linear-gradient(90deg,#d4edf5,#bce1ee,#dff3f8,#cfebf3,#c0e3ef,#ddf2f7,#dbf1f7,#c6e6f1,#e4f5f0,#c2e4f0,#d1ecf4,#dcf1f7,#b3ddeb,#d9f0f6,#cdeaf3,#ceeaf3,#c1e4ef,#d2ecf4,#c1e4ef,#c2e5f0,#c9e8f1,#bfe3ef)"></i><i style="top:113px;background:linear-gradient(90deg,#e1f3f6,#c0e3ef,#c7e7f1,#cce9f2,#d0ebf3,#d9f0f6,#d9f0f6,#cce9f2,#cbe9f2,#d0ebf3,#d9f0f6,#d8eff6,#cae8f2,#b8dfed,#e5f5ef,#dbf0f7,#d3ecf4,#d4edf4,#cae8f2,#c4e5f0,#cce9f2,#cdeaf3)"></i><i style="top:114px;background:linear-gradient(90deg,#cae8f2,#c1e4ef,#ceeaf3,#d8eff6,#cce9f2,#d2ecf4,#b9e0ed,#cfebf3,#d0ebf4,#c3e5f0,#bde2ee,#d6eef5,#c8e7f1,#d7eff6,#cdeaf3,#d9eff6,#ceeaf3,#c0e3ef,#d1ebf4,#ceeaf3,#d9f0f6,#cce9f2)"></i><i style="top:115px;background:linear-gradient(90deg,#c8e7f1,#d7eff5,#daf0f6,#d6eef5,#d9f0f6,#d2ecf4,#d6eef5,#d7eff5,#d2ecf4,#ceeaf3,#cfeaf3,#e5f5ee,#cdeaf3,#cae8f2,#c9e8f1,#cce9f2,#d0ebf3,#c0e3ef,#b6deec,#d0ebf4,#bae0ed,#d0ebf3)"></i><i style="top:116px;background:linear-gradient(90deg,#cbe9f2,#d7eff5,#ddf2f7,#ceeaf3,#c3e5f0,#bce1ee,#c0e3ef,#cae8f2,#b1dceb,#cae8f2,#c9e8f2,#d1ecf4,#c6e6f1,#cbe9f2,#c1e4ef,#c4e5f0,#b5deec,#cbe9f2,#dcf1f7,#cbe9f2,#ceeaf3,#bee2ee)"></i><i style="top:117px;background:linear-gradient(90deg,#dbf1f7,#c2e4ef,#d4edf5,#cce9f2,#bfe3ef,#d6eef5,#cbe9f2,#cde9f3,#d0ebf3,#cae8f2,#c6e6f1,#d0ebf3,#c6e6f1,#cbe9f2,#c3e5f0,#b9e0ed,#c3e5f0,#c5e6f0,#cbe9f2,#d8eff6,#b7dfec,#cce9f2)"></i><i style="top:118px;background:linear-gradient(90deg,#b7dfec,#c4e5f0,#cae8f2,#b6deec,#bbe1ed,#d2ecf4,#d1ecf4,#cfebf3,#c7e7f1,#e6f5ee,#ceeaf3,#c6e6f1,#e2f4f4,#d8eff6,#cce9f2,#def2f8,#d2ecf4,#d8eff6,#d3edf4,#c4e5f0,#dcf1f7,#d2ecf4)"></i><i style="top:119px;background:linear-gradient(90deg,#c0e3ef,#c3e5f0,#d7eef5,#c7e7f1,#cce9f2,#d3edf4,#cdeaf3,#bae0ed,#d3edf4,#d7eef5,#d6eef5,#def2f8,#d0ebf3,#d5edf5,#def2f7,#c8e7f1,#e0f3f8,#e0f3f8,#d5edf5,#e1f3f7,#d5eef5,#c1e4ef)"></i><i style="top:120px;background:linear-gradient(90deg,#cdeaf3,#c3e5f0,#c4e6f0,#c1e4ef,#d0ebf3,#c6e6f1,#b8dfed,#c5e6f0,#c8e7f1,#b7dfec,#bbe1ed,#bbe1ee,#b9e0ed,#c4e5f0,#cce9f2,#d6eef5,#ceeaf3,#cce9f2,#cdeaf3,#cfebf3,#bbe1ee,#c8e7f1)"></i><i style="top:121px;background:linear-gradient(90deg,#c2e4ef,#bce2ee,#b9e0ed,#b8dfed,#bbe1ed,#b0dbea,#c4e5f0,#bee2ee,#bfe3ef,#c2e4ef,#c6e6f1,#b7dfec,#bde2ee,#abd9e9,#a4d3e7,#a7d6e8,#d0ebf3,#a9d7e8,#c3e5f0,#cfebf3,#b9e0ed,#d1ecf4)"></i><i style="top:122px;background:linear-gradient(90deg,#d6eef5,#cbe9f2,#dcf1f7,#c8e7f1,#b8dfed,#c6e6f1,#bbe1ee,#b1dceb,#b1dceb,#dbf1f7,#bae0ed,#c0e3ef,#b9e0ed,#c2e4ef,#bee2ee,#bce1ee,#b2ddeb,#b0dbea,#b8dfed,#c4e5f0,#d9eff6,#cdeaf3)"></i><i style="top:123px;background:linear-gradient(90deg,#cfebf3,#bfe3ef,#b9e0ed,#aad8e9,#bae0ed,#a0d1e5,#b6dfec,#cdeaf3,#bee2ee,#c7e7f1,#b5deec,#aad8e9,#b4deec,#b5deec,#c8e7f1,#d1ecf4,#b1dceb,#b6deec,#b8dfed,#b6deec,#abd9e9,#bbe1ee)"></i><i style="top:124px;background:linear-gradient(90deg,#bbe1ed,#bbe1ee,#a8d7e8,#b5deec,#a2d2e6,#c1e4ef,#abd9e9,#b3ddeb,#b1dceb,#b0dbea,#aad8e9,#a2d1e6,#cbe9f2,#b9e0ed,#bae0ed,#cfebf3,#b5deec,#bde2ee,#b7dfec,#c4e5f0,#bce2ee,#bae0ed)"></i><i style="top:125px;background:linear-gradient(90deg,#a9d7e8,#afdbea,#b9e0ed,#92c5e1,#aad8e9,#a7d5e7,#a8d7e8,#94c6e1,#b4ddec,#a1d1e6,#a9d7e8,#a6d5e7,#97c9e2,#a6d5e7,#95c8e2,#a0d0e5,#a8d6e8,#acd9e9,#acdae9,#aad8e9,#c5e6f0,#b1dceb)"></i><i style="top:126px;background:linear-gradient(90deg,#98cae3,#a0d0e5,#9fcfe5,#a5d4e7,#a0d0e5,#9dcee4,#bae1ed,#a8d6e8,#a3d3e6,#a4d3e7,#a4d4e7,#b7dfed,#addaea,#b4deec,#81b8db,#abd9e9,#b4ddeb,#bee2ee,#a7d6e8,#92c5e0,#aedbea,#a0d0e5)"></i><i style="top:127px;background:linear-gradient(90deg,#8fc2df,#9dcee4,#b1dceb,#b3ddeb,#addaea,#98c9e2,#c2e4ef,#96c8e2,#a3d3e6,#93c6e1,#b4ddec,#aad8e9,#afdbea,#a5d5e7,#a3d3e6,#a6d5e7,#8dc1df,#b0dcea,#afdbea,#a0d0e5,#a4d4e7,#a8d7e8)"></i></div>
<div class="cb" style="left:63.7px;top:53px;width:4.4px;height:257px;background:linear-gradient(180deg,#a50026 0.0%,#d73027 10.0%,#f46d43 20.0%,#fdae61 30.0%,#fee090 40.0%,#ffffbf 50.0%,#e0f3f8 60.0%,#abd9e9 70.0%,#74add6 80.0%,#568cc6 85.0%,#4570bc 90.0%,#3550a8 95.0%,#2e3a98 100.0%)"></div>
<div class="hm" style="left:119px;top:53px;width:42px;height:127px"><i style="top:0px;background:linear-gradient(90deg,#ea5839,#e04330,#d12a27,#c92327,#c01a27,#c01a27,#c31d27,#c21c27,#c31c27,#c21c27,#b81226,#d42e27,#c41e27,#c11b27,#bc1626,#cc2627,#c31d27,#c11b27,#cd2627,#db382b,#de3e2d,#ed5f3c)"></i><i style="top:1px;background:linear-gradient(90deg,#fdab60,#fdb467,#fa9756,#fa9555,#f77f4c,#ee603d,#e95638,#e04330,#db382a,#e14531,#dc3b2c,#e44b33,#df412f,#d73127,#e75237,#df422f,#e75136,#f88950,#fca35c,#fdaf62,#fca55d,#fdb466)"></i><i style="top:2px;background:linear-gradient(90deg,#feca7c,#fdc274,#fdc375,#fdbb6d,#fdae61,#f67d4a,#f47044,#e54d35,#eb5a3a,#ec5c3b,#e64f35,#e75136,#f16640,#e95538,#f16740,#f47145,#f7804c,#fdb264,#fdba6c,#fdc778,#fdba6c,#feca7b)"></i><i style="top:3px;background:linear-gradient(90deg,#fedb8b,#fed989,#fed686,#fecb7c,#fdc375,#fca95f,#f98f53,#f57748,#f36b42,#f36c42,#f16740,#ef633e,#f0643f,#f57346,#f88950,#fa9857,#fdaf62,#fed586,#fecf80,#fecc7d,#fed586,#fedb8b)"></i><i style="top:4px;background:linear-gradient(90deg,#fecf80,#fed181,#feda8b,#fecd7e,#fec779,#feca7b,#f99053,#f99355,#f67e4b,#f7804c,#f57346,#f7804c,#f57647,#f57245,#f88950,#fdab60,#fdb76a,#fed687,#fecf80,#fedb8b,#fed989,#fedc8c)"></i><i style="top:5px;background:linear-gradient(90deg,#fee090,#fee090,#fee293,#fee090,#fed586,#fecf80,#fdc375,#fca55d,#f99153,#f7834d,#f67e4b,#f67f4b,#f8884f,#f88a50,#fdab60,#fecf80,#fecf80,#fee293,#fee292,#fee496,#fedb8b,#fee699)"></i><i style="top:6px;background:linear-gradient(90deg,#fee497,#fee79a,#fee99e,#feea9f,#fedf8f,#fed98a,#fec87a,#fca85e,#fb9d59,#f99154,#f99053,#f98e52,#fa9756,#fca85e,#fca75e,#fedb8b,#feda8b,#fedf8f,#fee294,#fee89c,#fee699,#fee89c)"></i><i style="top:7px;background:linear-gradient(90deg,#fee89d,#fee395,#fee496,#fee495,#fedb8b,#fee192,#fecb7c,#fdbc6e,#fa9c58,#f99153,#f88a50,#fa9556,#fa9857,#fca75e,#fdb769,#fec97a,#fed384,#fee293,#fee191,#fee99e,#feeda3,#fee89c)"></i><i style="top:8px;background:linear-gradient(90deg,#feeca2,#feefa6,#feefa6,#fee496,#fee89d,#feea9f,#fec97a,#fdc375,#fdb063,#fa9756,#fb9e59,#f88850,#fdab60,#fdb769,#fdc577,#fede8e,#feda8a,#feeca2,#fee99e,#fee699,#fee698,#fee497)"></i><i style="top:9px;background:linear-gradient(90deg,#fee79a,#fedd8d,#fee99d,#fee598,#fee192,#fee496,#fedd8d,#fecb7c,#fdb567,#fca85e,#fa9b58,#fca45c,#fa9a58,#fdbb6e,#fdb96c,#fecf80,#fedc8d,#fee699,#fee89d,#fee192,#fee79a,#fee699)"></i><i style="top:10px;background:linear-gradient(90deg,#feeda4,#fee597,#feeca2,#fee79b,#feeea6,#fee89c,#fedd8d,#fed283,#fdba6c,#fb9c59,#fa9b58,#f98f53,#fdb769,#fdb366,#fecb7d,#fee79a,#feeaa0,#fee394,#feeca3,#feeba1,#fee79a,#feeca2)"></i><i style="top:11px;background:linear-gradient(90deg,#fee89d,#feeda4,#fee89b,#fee395,#fee699,#feefa6,#fedd8d,#fed182,#fdc072,#fa9958,#fdac60,#f88b51,#fdac60,#fdaf62,#fed283,#fee79a,#fee597,#fee699,#fee699,#fee496,#feeda4,#fee89d)"></i><i style="top:12px;background:linear-gradient(90deg,#feeca2,#feefa7,#fff2ab,#fff1aa,#fee99d,#fee79a,#feea9f,#fee394,#fdbb6e,#fdbc6e,#fca55d,#fdae61,#fdbd6f,#fdc375,#fedd8d,#fee090,#fee091,#feeda3,#fee89d,#fee99e,#fff1a9,#fff3ad)"></i><i style="top:13px;background:linear-gradient(90deg,#feeca2,#fff3ad,#fff1aa,#fff2ab,#fff0a8,#fff1a9,#fee79b,#feda8b,#fecf80,#fdc274,#fdaf62,#fdba6c,#fdbd6f,#fdc475,#fed384,#fee99d,#fff2ac,#feeca2,#fffab7,#fff4ae,#feeba1,#feefa7)"></i><i style="top:14px;background:linear-gradient(90deg,#fff6b1,#fff6b2,#feeba0,#feeea5,#feefa7,#feea9f,#feeba0,#fee99d,#fdc577,#fdbb6d,#fdb366,#fdb568,#fdb567,#fed081,#fedc8d,#fee99e,#fee79a,#feefa6,#fff1a9,#fff7b3,#fff4ae,#feeda4)"></i><i style="top:15px;background:linear-gradient(90deg,#fee598,#fff7b3,#fff5b0,#feeea6,#feeda4,#fff1a9,#feeba0,#feeba0,#fed384,#fdb668,#fba35c,#fdb265,#fdbe70,#fece7f,#fede8e,#fee99d,#fff1aa,#feeea5,#feeca2,#fff4ae,#fff7b3,#fff0a8)"></i><i style="top:16px;background:linear-gradient(90deg,#fff3ac,#feefa7,#fff2ac,#fff5af,#fff3ad,#fff4af,#fff1aa,#fee99e,#feda8a,#fdba6c,#fdbe70,#fdb669,#fdc577,#fecc7d,#fee598,#feefa7,#feeca3,#fff1aa,#fff4ae,#feeca2,#fff0a9,#feeda3)"></i><i style="top:17px;background:linear-gradient(90deg,#feefa7,#fff0a9,#fff2ac,#fff7b2,#feeea6,#fff0a8,#feeba0,#fee89b,#fede8e,#fecb7c,#fdb366,#fdaf62,#fdc677,#fed686,#fee292,#fff1aa,#fff2ab,#fff6b1,#feeda4,#fff2ab,#fff6b1,#fffcba)"></i><i style="top:18px;background:linear-gradient(90deg,#fff4ae,#feeea5,#fff2ac,#fff2ac,#feeda4,#fff4ae,#feeca2,#fee496,#fede8e,#fec97a,#fdb568,#fdb86a,#fdc576,#fed787,#fee699,#fff0a9,#fff1aa,#feeea5,#feeca1,#feeba1,#fff6b1,#feeea5)"></i><i style="top:19px;background:linear-gradient(90deg,#fff1a9,#fff3ad,#fff0a9,#feeea5,#fee99e,#fff4af,#feeba1,#fee99e,#fede8e,#fdbf71,#fdb568,#fdc274,#fec97b,#fedb8b,#feefa6,#feea9f,#fff0a8,#fff0a8,#fff0a8,#feeba0,#fff3ad,#fff5b1)"></i><i style="top:20px;background:linear-gradient(90deg,#fff1aa,#fffab7,#fff9b6,#fffcbb,#fff1aa,#fff4ae,#fff1a9,#feeda4,#fee496,#fed787,#feca7b,#fdc173,#fed081,#fedb8b,#fff1aa,#fff5b0,#fff9b6,#fff0a8,#fffcba,#fff4ae,#fff2ab,#fff9b6)"></i><i style="top:21px;background:linear-gradient(90deg,#fffbb9,#f8fccc,#fffebe,#fbfec6,#fffab8,#fffab7,#fffcba,#fff0a8,#fee99d,#fee090,#fed384,#feda8a,#fede8e,#fee192,#fff7b3,#fff6b2,#fffcbb,#fff8b4,#fffab7,#fffdbd,#f9fdca,#feffc1)"></i><i style="top:22px;background:linear-gradient(90deg,#fff7b3,#fffcbb,#fff8b4,#fffcba,#fdfec3,#fff7b2,#fff5b0,#fff5b0,#feeba1,#feda8b,#fed384,#fecd7e,#fede8e,#fff4ae,#fff3ad,#fff9b6,#fffcba,#fff7b4,#fffcba,#fff8b5,#fff7b2,#fffcba)"></i><i style="top:23px;background:linear-gradient(90deg,#ffffbf,#fffab8,#fff3ac,#fff7b3,#fff9b5,#fff5af,#fff1a9,#feeea5,#fee496,#fede8e,#fecd7e,#fecd7e,#fed989,#fff0a8,#fff0a8,#fff8b5,#feeea6,#feeea6,#feefa6,#fff3ad,#fff9b6,#fff4ae)"></i><i style="top:24px;background:linear-gradient(90deg,#fff5b0,#fff1a9,#fff6b2,#fff4af,#feefa7,#fee99d,#feefa7,#fee293,#fed384,#fede8e,#fec879,#fece7f,#fed686,#fee69a,#feeca2,#feeba0,#feeca3,#fff0a8,#fff2ab,#fff2ab,#fff3ac,#fff2ab)"></i><i style="top:25px;background:linear-gradient(90deg,#fff7b4,#fff4af,#fffcba,#fff2ab,#feeda4,#fff3ad,#fff9b5,#feea9f,#feea9f,#feeba0,#fed182,#fecb7c,#feda8a,#fee395,#feeda3,#fff2ab,#fffcbb,#fff9b6,#fff4af,#fff3ad,#fffbb9,#fffab8)"></i><i style="top:26px;background:linear-gradient(90deg,#fff7b4,#fdfec2,#feffc1,#fff8b5,#fff5b0,#fff8b4,#fffebe,#fff1ab,#fff1a9,#fedc8c,#fed485,#fed283,#fedc8c,#feeda4,#feeea5,#feefa7,#fff4ae,#fff1a9,#fffab7,#fff4ae,#fff7b4,#fffebd)"></i><i style="top:27px;background:linear-gradient(90deg,#fff8b5,#fff9b7,#fff9b5,#fff5b0,#fff0a9,#fff6b1,#fff3ac,#fff7b2,#fee99e,#fed788,#fecc7e,#fecf80,#fee293,#feeea5,#fff1a9,#fff9b6,#fffab7,#fff1aa,#fffab7,#feefa6,#fffdbc,#fff6b2)"></i><i style="top:28px;background:linear-gradient(90deg,#feffc1,#fff9b6,#fffebd,#fff8b5,#fff9b5,#fff9b6,#fff4ae,#feeda3,#feefa7,#fedf8f,#fed788,#fed888,#fed686,#fff6b2,#fff6b2,#fffebd,#fff9b5,#fff9b6,#fee89c,#fff8b4,#fff2ac,#fff5b0)"></i><i style="top:29px;background:linear-gradient(90deg,#fffebe,#fff9b7,#fff4ae,#fff9b6,#fff8b5,#fff6b2,#fffebd,#fff8b5,#feeda4,#fee394,#fee191,#fedd8d,#fee598,#feefa7,#fff2ab,#fff7b3,#fff8b4,#ffffc0,#ffffbe,#fff9b6,#fcfec5,#fffbb9)"></i><i style="top:30px;background:linear-gradient(90deg,#fdfec2,#fdfec2,#fff9b7,#fffebe,#ffffbe,#fffdbc,#fff9b6,#feeba0,#fffab7,#fee79b,#fee090,#fed888,#fee99d,#fffbb9,#fff1a9,#fffebd,#fffab8,#fdfec2,#fefec1,#fffebe,#fff9b6,#fffab8)"></i><i style="top:31px;background:linear-gradient(90deg,#fbfdc7,#fffebd,#fdfec2,#fffebd,#fffdbc,#fffab8,#fffebe,#fffab7,#fff3ac,#feea9f,#fee699,#fed888,#feeca2,#fff0a9,#fff8b5,#fff7b2,#f8fccc,#fff5af,#ffffbf,#fafdc9,#ffffbf,#fff7b3)"></i><i style="top:32px;background:linear-gradient(90deg,#fffab7,#fefec1,#fffcbb,#fff4ae,#ffffbf,#fff9b6,#fff8b5,#feeba1,#fff0a9,#fee090,#fee192,#fee293,#fee292,#feeca3,#fffcbb,#fff4af,#fff5b0,#fffcba,#fff9b5,#fff9b6,#fffdbc,#fffebe)"></i><i style="top:33px;background:linear-gradient(90deg,#ffffbf,#fffcbb,#feffc1,#fffab7,#feffc0,#fff8b5,#fff8b4,#fffab7,#feeca2,#fedd8e,#fed586,#fee598,#fee192,#feefa6,#fff5b0,#fffab7,#fff8b5,#fff3ad,#fff7b4,#fffcbb,#fffebe,#fffebd)"></i><i style="top:34px;background:linear-gradient(90deg,#fffebd,#fff7b3,#fbfdc6,#fffebd,#ffffbf,#feffc0,#fffab7,#fff7b3,#fffab7,#fff0a8,#fede8e,#fee294,#fee99e,#fff6b1,#fffbb9,#fff9b7,#ffffbe,#fcfec4,#fffebd,#fffbb8,#fafdc8,#fffcba)"></i><i style="top:35px;background:linear-gradient(90deg,#ffffc0,#f9fdca,#fdfec2,#feffc1,#fffdbc,#fffcba,#fbfdc7,#fdfec3,#fff2ab,#feeea4,#fee597,#fee598,#fee79b,#fffcba,#fff7b3,#fdfec3,#fffcba,#fffab7,#f8fccc,#ffffbf,#fbfec6,#fafdc7)"></i><i style="top:36px;background:linear-gradient(90deg,#fffebe,#fcfec4,#fdfec2,#fff9b6,#fff8b4,#fffdbc,#feffc1,#feeea5,#feeea5,#fee99d,#fee89b,#fee699,#fee99e,#fff7b3,#fff1a9,#fff9b6,#fff9b6,#feffc0,#feffc1,#feffc1,#fffcbb,#ffffc0)"></i><i style="top:37px;background:linear-gradient(90deg,#fffdbc,#fffab7,#fff9b6,#fff3ad,#fffab7,#fffcbb,#fff7b3,#feefa7,#fff3ac,#fee89c,#fee394,#fedf8f,#fee79b,#fff4ae,#fff6b2,#fff3ad,#fff3ad,#fff5b0,#fff6b1,#fffcba,#fffcbb,#fff8b4)"></i><i style="top:38px;background:linear-gradient(90deg,#f8fccd,#fdfec2,#f6fccf,#fdfec2,#fdfec3,#fbfdc6,#fffab8,#fffebe,#fff8b4,#fff0a8,#feeba0,#fee292,#fff1a9,#fff5b1,#fefec2,#ffffbf,#ffffbf,#feffc0,#fcfec4,#ffffbf,#fffab7,#fcfec4)"></i><i style="top:39px;background:linear-gradient(90deg,#fafdc9,#fafdc9,#fff7b3,#fffab8,#fffebe,#fffdbc,#fcfec5,#fffebd,#fff8b4,#fff1aa,#feeea5,#feeea5,#feefa7,#fff8b4,#f8fccc,#ffffbf,#fffbb8,#fbfdc7,#fefec1,#f6fbd0,#ffffbf,#f6fbd0)"></i><i style="top:40px;background:linear-gradient(90deg,#f6fccf,#fbfec6,#fff7b2,#fbfec5,#f9fdc9,#fffdbb,#fffdbc,#fff5b0,#fffdbc,#fff7b3,#feeba1,#fee89c,#feefa7,#fff3ad,#fcfec5,#fdfec3,#ffffbf,#fffcba,#fffebd,#fcfec5,#f8fccb,#fffebe)"></i><i style="top:41px;background:linear-gradient(90deg,#fafdc8,#fffbb9,#f7fccd,#ffffbe,#f4fbd3,#f8fccd,#f8fccc,#fbfdc7,#fdfec3,#fff8b5,#fff0a8,#fff1aa,#fff3ad,#fffebd,#fcfec4,#fffdbc,#fbfec6,#fafdc8,#f8fccb,#f8fccc,#fafdc9,#f3fad5)"></i><i style="top:42px;background:linear-gradient(90deg,#f9fdcb,#fbfec6,#fafdc8,#f4fbd3,#f0f9db,#f6fbd0,#f9fdca,#fefec2,#fdfec2,#fffab8,#feeca2,#fff5b0,#fff4af,#fffcba,#f4fbd3,#f9fdc9,#f5fbd1,#f3fad6,#eef9de,#eff9dd,#f6fccf,#f2fad7)"></i><i style="top:43px;background:linear-gradient(90deg,#f9fdca,#f4fbd3,#f8fccb,#f9fdca,#f4fbd3,#f4fbd2,#feffc0,#ffffbf,#feffc0,#fff5b0,#feeca1,#fee79a,#fff9b5,#fff9b6,#fff7b3,#fdfec3,#fffcbb,#f0f9db,#fffebd,#fafdc9,#f1fad9,#fbfec6)"></i><i style="top:44px;background:linear-gradient(90deg,#feffc1,#ffffbf,#fffebd,#fbfec5,#f9fdca,#fbfdc7,#fefec2,#fffdbc,#fffdbb,#fff3ad,#feea9e,#feeca2,#feea9f,#fff1aa,#fbfdc7,#fbfec6,#f7fccd,#f7fccd,#feffc1,#f7fcce,#f6fbd0,#f8fccc)"></i><i style="top:45px;background:linear-gradient(90deg,#fdfec2,#f9fdca,#fafdc8,#fffebd,#ffffbf,#ffffbf,#fffcba,#fcfec5,#fff9b6,#fff6b1,#fee99d,#feea9e,#fff8b4,#fff4af,#fbfdc6,#fffbb9,#feffc0,#f9fdca,#f7fccd,#fafdc8,#fbfdc7,#f7fcce)"></i><i style="top:46px;background:linear-gradient(90deg,#fcfec4,#f5fbd1,#fcfec5,#fcfec4,#f5fbd1,#ffffbf,#f9fdca,#f5fbd1,#fffdbb,#fff4af,#fee99e,#feefa7,#feeda4,#fff4ae,#fff9b6,#fffab7,#ffffbf,#fbfdc7,#ffffbf,#fffebe,#fcfec5,#f9fdca)"></i><i style="top:47px;background:linear-gradient(90deg,#f5fbd2,#ffffbf,#ffffc0,#f8fccb,#ffffbf,#fffcba,#ffffbe,#fff9b6,#fff5b0,#fff8b5,#feeda4,#feea9f,#feeea5,#fff2ac,#f9fdc9,#fffebe,#fffcba,#fffab8,#fff9b6,#f9fdca,#fbfdc7,#f7fcce)"></i><i style="top:48px;background:linear-gradient(90deg,#fefec2,#f5fbd1,#fffdbc,#fffebd,#ffffbf,#f4fbd3,#fcfec5,#fffbb8,#feffc1,#fff5af,#feeea5,#feea9f,#fff2ac,#fff9b6,#feffc0,#ffffc0,#fdfec3,#fffebd,#fcfec5,#fffebd,#f4fbd4,#ffffbf)"></i><i style="top:49px;background:linear-gradient(90deg,#f8fccd,#feffc1,#fafdc8,#feffc0,#fffcbb,#f9fdc9,#fdfec3,#fefec2,#fffbb9,#fffcbb,#fff0a9,#fff1a9,#fff9b6,#fffdbc,#f8fccd,#fffbba,#feffc1,#fffbb9,#f7fcce,#f5fbd2,#fafdc8,#f1fad9)"></i><i style="top:50px;background:linear-gradient(90deg,#fafdc8,#f7fcce,#f9fdc9,#fdfec3,#fcfec4,#fff9b6,#fffebd,#fafdc9,#fff7b3,#fffbb8,#feefa6,#fff4af,#fff8b5,#fff6b1,#fdfec3,#fbfdc7,#fafdc8,#fbfdc7,#fffcbb,#f6fbd0,#f5fbd2,#fcfec5)"></i><i style="top:51px;background:linear-gradient(90deg,#f6fbd0,#fcfec5,#fffbb9,#ffffbf,#fefec2,#fdfec2,#fdfec2,#fffebd,#fff7b3,#feeca2,#fee79b,#feeea5,#fff5af,#fff5af,#fbfdc7,#ffffbf,#ffffbf,#fbfdc7,#fbfdc7,#fffebe,#f6fccf,#f9fdca)"></i><i style="top:52px;background:linear-gradient(90deg,#fcfec5,#fffebe,#fafdc8,#fff9b5,#fffebd,#fffdbc,#fffdbc,#fffcbb,#fffab8,#feeba1,#fee99e,#feeba0,#feeca2,#fff9b6,#fff7b3,#fffbb9,#feffc1,#fff9b6,#fafdc8,#fffbb9,#fcfec5,#fffebd)"></i><i style="top:53px;background:linear-gradient(90deg,#fffab8,#fffdbc,#fdfec3,#fffebd,#ffffbf,#fcfec4,#fefec2,#fffab7,#fff4af,#fff8b5,#feeba1,#fee99d,#fff0a8,#fffbb9,#fff6b1,#fdfec3,#fffab7,#fff6b2,#f7fccd,#fffdbd,#fffebd,#ffffbf)"></i><i style="top:54px;background:linear-gradient(90deg,#f5fbd1,#f8fccc,#f4fbd3,#fbfec6,#feffc1,#f9fdca,#f9fdca,#fcfec4,#fffcbb,#fff6b1,#fff1aa,#fff0a9,#fffcba,#f6fccf,#fffdbc,#fffbb9,#f6fcd0,#f9fdcb,#fcfec4,#feffc1,#fcfec4,#feffc1)"></i><i style="top:55px;background:linear-gradient(90deg,#eef8de,#f1f9d9,#f2fad8,#eff9dd,#f6fccf,#f4fbd3,#f7fcce,#f2fad6,#fcfec5,#f9fdca,#fff9b7,#f8fccc,#f9fdca,#fbfdc7,#f2fad7,#f3fad5,#ebf7e4,#f8fccd,#f3fad5,#f0f9db,#f1f9d9,#f0f9db)"></i><i style="top:56px;background:linear-gradient(90deg,#f7fccd,#f3fad5,#edf8e1,#f2fad6,#fafdc9,#f7fccd,#f4fbd4,#fafdc9,#fbfdc6,#fffbb9,#ffffbf,#fffcbb,#fffbb9,#fafdc9,#f9fdcb,#feffc1,#f3fbd4,#f5fbd1,#f1fad8,#f0f9da,#f2fad7,#ebf7e4)"></i><i style="top:57px;background:linear-gradient(90deg,#edf8e0,#fdfec3,#f7fcce,#fdfec3,#f9fdc9,#fafdc8,#fdfec3,#ffffbf,#fafdc8,#fff4af,#fff8b4,#fff3ad,#feeea6,#ffffbe,#fffbb9,#f9fdca,#fcfec4,#f9fdca,#fafdc8,#f4fbd3,#f3fad5,#f7fccd)"></i><i style="top:58px;background:linear-gradient(90deg,#f0f9db,#f4fbd4,#fbfdc7,#f6fbd0,#f5fbd1,#f5fbd1,#fbfec6,#fafdc7,#fffebe,#fffab7,#feeca2,#fff6b1,#fdfec3,#fffebe,#fcfec5,#fbfec6,#f3fad5,#feffc1,#f8fccb,#f8fccc,#f0f9da,#f8fccb)"></i><i style="top:59px;background:linear-gradient(90deg,#f4fbd3,#fbfdc7,#f4fbd3,#f1fad8,#f8fccc,#f4fbd3,#fafdc8,#f5fbd1,#fdfec3,#fffcbb,#fff6b2,#fff8b5,#ffffbf,#fdfec3,#f8fccd,#f9fdca,#f7fcce,#eef8df,#f6fccf,#fcfec5,#f6fccf,#f7fcce)"></i><i style="top:60px;background:linear-gradient(90deg,#fcfec5,#f9fdca,#f6fccf,#fffebe,#fffdbb,#fffebe,#fffebd,#fffdbb,#fffbb9,#fff4af,#fff0a9,#feefa7,#fffab7,#fffebd,#fffcba,#fdfec3,#f3fbd4,#fdfec2,#f3fad5,#fffab8,#feffc1,#fdfec3)"></i><i style="top:61px;background:linear-gradient(90deg,#f6fbd0,#f5fbd2,#f9fdc9,#fbfdc6,#f8fccb,#fdfec3,#fffebe,#fffdbc,#fdfec3,#feffc1,#fff2ac,#fff5b0,#fff5b0,#fff6b1,#fff9b6,#feffc1,#fffdbc,#fffcba,#fbfdc6,#fbfec6,#fdfec3,#f8fccb)"></i><i style="top:62px;background:linear-gradient(90deg,#f3fad5,#f3fad5,#f7fcce,#f5fbd2,#fbfec6,#f7fccd,#fffebe,#fffebe,#f9fdca,#fff6b2,#fff7b3,#fff0a8,#fff9b5,#feffc1,#fefec1,#f7fccd,#fafdc8,#fafdc9,#f7fcce,#f8fccb,#f2fad7,#f8fccd)"></i><i style="top:63px;background:linear-gradient(90deg,#f1f9d9,#f9fdca,#f9fdca,#fbfdc6,#f6fccf,#fff8b5,#f9fdca,#fcfec5,#fbfec6,#fff4af,#fff7b3,#fff1aa,#fffebe,#fffebe,#fafdc8,#feffc1,#f8fccc,#f5fbd1,#fafdc8,#f2fad6,#f3fad6,#f9fdca)"></i><i style="top:64px;background:linear-gradient(90deg,#edf8e1,#f8fccb,#f4fbd3,#f3fad5,#f8fccb,#fafdc7,#f6fccf,#f9fdca,#fffebd,#fff9b5,#fff7b3,#fffab8,#feffc0,#fbfdc7,#fdfec3,#fbfdc6,#f9fdca,#fdfec3,#f5fbd1,#f4fbd2,#f4fbd4,#fcfec4)"></i><i style="top:65px;background:linear-gradient(90deg,#ebf7e3,#f6fbd0,#f7fcce,#f6fccf,#fffebd,#fcfec5,#fbfdc6,#f6fbd0,#feffc0,#fffebe,#fff8b4,#fff7b3,#ffffbe,#ffffbf,#fffebe,#fcfec4,#f8fccc,#eff9dd,#fafdc7,#fafdc9,#f4fbd4,#f2fad7)"></i><i style="top:66px;background:linear-gradient(90deg,#f8fccb,#f3fad5,#fbfdc7,#f4fbd4,#f5fbd2,#f9fdc9,#f4fbd3,#fbfec6,#fffebd,#feffc1,#fff2ab,#fff8b5,#fff8b5,#ffffbf,#f9fdc9,#f8fccc,#f2fad6,#f6fbd0,#f5fbd2,#feffc1,#fbfdc7,#f0f9da)"></i><i style="top:67px;background:linear-gradient(90deg,#f6fccf,#f5fbd2,#f3fad5,#f7fcce,#f9fdca,#f4fbd3,#f6fcd0,#f9fdca,#f7fccd,#fffdbc,#fff9b6,#fffcba,#fdfec3,#fdfec3,#fcfec5,#f8fccb,#f3fad5,#f9fdca,#f6fbd0,#f7fcce,#f8fccb,#eff9dc)"></i><i style="top:68px;background:linear-gradient(90deg,#eff9dd,#eef8de,#eef8df,#fafdc8,#f6fccf,#ecf8e2,#f5fbd1,#f3fad5,#fdfec3,#fdfec2,#fffdbc,#fffcba,#feffc0,#f8fccc,#f4fbd3,#f3fad5,#f5fbd1,#eef8df,#f2fad7,#f1f9d9,#eef9de,#f3fad6)"></i><i style="top:69px;background:linear-gradient(90deg,#ecf8e2,#f0f9da,#eff9dc,#f6fbd0,#f2fad7,#f5fbd2,#f7fcce,#f0f9da,#fbfec6,#fbfec6,#fffcbb,#fffcba,#fffcbb,#fcfec4,#fefec1,#f6fcd0,#f3fad6,#f2fad7,#f6fcd0,#f9fdca,#f3fad5,#eff9dd)"></i><i style="top:70px;background:linear-gradient(90deg,#f3fad4,#f4fbd3,#f4fbd3,#f1fad8,#ebf7e4,#f4fbd4,#fbfdc7,#f9fdcb,#f2fad8,#ffffbe,#fcfec4,#fff2ab,#fffebd,#f6fbd0,#fbfdc7,#f3fad5,#f8fccc,#f5fbd1,#f0f9db,#f7fccf,#eef8df,#f8fccd)"></i><i style="top:71px;background:linear-gradient(90deg,#f2fad6,#eff9dd,#ecf8e1,#fbfdc7,#fbfdc7,#f0f9da,#fdfec3,#f8fccc,#f9fdc9,#ffffc0,#fffcba,#fff5af,#fffebe,#f3fad5,#fffebe,#fafdc9,#f1fad9,#f3fbd4,#f1f9d9,#f4fbd4,#f4fbd2,#f3fad5)"></i><i style="top:72px;background:linear-gradient(90deg,#f3fad5,#f3fad5,#fafdc7,#f7fccd,#fffdbb,#f6fbd0,#fdfec3,#fbfdc6,#fbfdc7,#fff6b2,#fff7b2,#fffbb9,#fffdbc,#fffcbb,#f6fbd0,#ffffbf,#fcfec5,#f7fccd,#fdfec2,#feffc1,#f9fdcb,#f6fccf)"></i><i style="top:73px;background:linear-gradient(90deg,#fbfdc6,#fafdc7,#f1fad8,#f5fbd1,#f6fbd0,#f5fbd1,#f2fad8,#fdfec3,#fcfec4,#fffdbc,#fff4ae,#fffcba,#fffebd,#fdfec3,#f7fccd,#f7fccd,#fafdc8,#f6fccf,#fbfec6,#f2fad7,#f5fbd1,#eef8df)"></i><i style="top:74px;background:linear-gradient(90deg,#f8fccc,#f6fccf,#fffebe,#feffc1,#fdfec2,#fffbb8,#fffbba,#fffdbc,#feffc1,#ffffbf,#fff5af,#fff6b1,#fffbba,#ffffbe,#f7fccd,#fffbb9,#f7fccd,#f9fdcb,#fdfec2,#f3fbd4,#fdfec3,#fcfec4)"></i><i style="top:75px;background:linear-gradient(90deg,#f5fbd1,#f3fad5,#f6fccf,#f1fad8,#ffffbf,#fafdc8,#f8fccc,#f8fccb,#fffdbc,#fff5af,#fffcba,#fff9b6,#fcfec5,#fffdbb,#fdfec3,#fffab7,#fafdc9,#f8fccc,#f6fbd0,#fcfec5,#f1f9d9,#fafdc9)"></i><i style="top:76px;background:linear-gradient(90deg,#f2fad7,#f0f9db,#eff9dd,#f7fccd,#fbfec6,#f2fad6,#f7fccd,#fdfec2,#f6fccf,#fcfec4,#fdfec3,#fffdbc,#fdfec3,#f7fccd,#f3fad5,#eef9dd,#eff9dd,#f0f9db,#f6fbd0,#f0f9da,#eef8de,#f4fbd4)"></i><i style="top:77px;background:linear-gradient(90deg,#f5fbd2,#f0f9da,#f2fad8,#f8fccd,#f7fcce,#f3fad6,#f8fccc,#f8fccc,#ffffbf,#fcfec5,#fff7b3,#fff9b5,#fbfdc6,#ffffbf,#fcfec5,#f1fad8,#feffc0,#f1f9d9,#f1fad9,#f3fad5,#f7fcce,#f5fbd1)"></i><i style="top:78px;background:linear-gradient(90deg,#f4fbd2,#fbfec6,#f8fccc,#fdfec3,#fffbb8,#f9fdca,#eef9de,#f8fccb,#f8fccb,#fffcbb,#fff8b4,#fffdbd,#fdfec3,#fcfec5,#f9fdc9,#eef8de,#fcfec4,#f8fccc,#f7fcce,#f8fccc,#f1fad8,#f5fbd2)"></i><i style="top:79px;background:linear-gradient(90deg,#f5fbd2,#f6fbd0,#f4fbd4,#f1fad8,#f0f9db,#f9fdc9,#f7fcce,#f4fbd3,#eff9dc,#f9fdca,#f9fdca,#fff8b4,#fefec1,#f5fbd1,#f5fbd2,#ffffbe,#f9fdca,#eef8df,#f2fad7,#edf8e1,#eaf7e6,#f1fad9)"></i><i style="top:80px;background:linear-gradient(90deg,#f7fcce,#f4fbd3,#eff9dd,#edf8df,#f0f9da,#f5fbd2,#ebf7e4,#eaf7e5,#fdfec3,#fbfdc7,#fffab7,#ffffc0,#fffebe,#f2fad7,#f4fbd3,#f8fccd,#f5fbd2,#eef8df,#f3fad5,#ecf7e3,#e7f6ea,#eff9dc)"></i><i style="top:81px;background:linear-gradient(90deg,#f7fcce,#f5fbd1,#edf8e0,#f7fcce,#f7fcce,#f3fad6,#eaf7e5,#fbfdc7,#fdfec3,#fffebe,#fafdc7,#fbfec6,#fffcbb,#fcfec4,#f9fccb,#f4fbd3,#f6fccf,#f2fad8,#f2fad7,#eff9dd,#f3fad5,#eff9dc)"></i><i style="top:82px;background:linear-gradient(90deg,#f8fccc,#f8fccc,#f2fad7,#feffc1,#f2fad7,#f9fdc9,#fdfec3,#ffffbf,#f2fad6,#fff9b6,#fff4ae,#fff3ad,#f7fcce,#f9fdca,#f9fdca,#f6fccf,#fdfec2,#f4fbd3,#fcfec5,#f8fccc,#eef9dd,#f0f9db)"></i><i style="top:83px;background:linear-gradient(90deg,#ebf7e4,#eef9de,#f3fad5,#eff9dd,#f4fbd3,#eaf7e6,#e4f5f1,#f1fad9,#f7fcce,#f8fccc,#fafdc9,#fffebe,#fffcba,#f5fbd2,#eff9dc,#eef8df,#f9fdca,#f0f9db,#f2fad7,#f4fbd3,#f3fad6,#e9f7e7)"></i><i style="top:84px;background:linear-gradient(90deg,#f3fad6,#f3fad5,#f2fad7,#f5fbd1,#eff9dd,#f2fad8,#f0f9da,#f7fccd,#f4fbd4,#fdfec3,#fbfdc7,#ffffbf,#f9fdc9,#f6fcd0,#f4fbd2,#f2fad7,#f1fad9,#e8f6e9,#f6fbd0,#edf8df,#eef9de,#ebf7e4)"></i><i style="top:85px;background:linear-gradient(90deg,#f3fad6,#ebf7e4,#f2fad7,#f6fbd0,#f8fccb,#f7fcce,#f5fbd1,#eef9de,#fcfec5,#fffebe,#fffbb9,#fffbba,#fbfdc6,#f4fbd3,#f8fccb,#f8fccc,#edf8e0,#f5fbd1,#f2fad8,#f4fbd4,#f0f9da,#f3fad5)"></i><i style="top:86px;background:linear-gradient(90deg,#f1fad9,#f1fad8,#e8f6e9,#f2fad6,#f0f9db,#ebf7e3,#f4fbd4,#ecf8e2,#f8fccb,#fffebd,#fbfec6,#fffdbb,#fbfdc6,#f7fccd,#ecf8e2,#f3fbd4,#f1f9d9,#f3fad6,#eff9dd,#f3fad5,#eff9dd,#f0f9db)"></i><i style="top:87px;background:linear-gradient(90deg,#f1fad9,#edf8e0,#f1fad9,#eef9dd,#f0f9da,#ecf8e1,#f3fad6,#f6fbd0,#f3fad5,#fbfec6,#feffc1,#f7fccd,#f9fdca,#f9fdca,#eff9dd,#e8f6ea,#f0f9db,#ebf7e3,#f6fbd0,#edf8e1,#ecf8e2,#e9f6e8)"></i><i style="top:88px;background:linear-gradient(90deg,#edf8df,#ebf7e4,#eaf7e6,#eef9de,#ecf8e2,#f5fbd1,#ebf7e3,#f1fad8,#f1fad8,#f3fad5,#fffab7,#f4fbd3,#ffffbf,#eef9de,#f2fad7,#fafdc8,#e7f6ec,#e9f7e7,#f4fbd3,#eff9dd,#ebf7e4,#ecf8e2)"></i><i style="top:89px;background:linear-gradient(90deg,#ecf7e3,#f1fad9,#f8fccd,#f0f9da,#f3fad5,#f8fccb,#fcfec4,#f2fad6,#f9fdca,#fafdc9,#fdfec2,#ffffc0,#f9fdc9,#f0f9da,#edf8e1,#f1f9d9,#f4fbd4,#f8fccc,#f0f9db,#f1f9da,#f3fad5,#f3fad5)"></i><i style="top:90px;background:linear-gradient(90deg,#edf8e0,#eef9dd,#f7fccd,#eff9dd,#eff9dd,#eaf7e5,#f4fbd4,#f2fad7,#feffc1,#f9fdcb,#fffcbb,#fffcba,#fffdbc,#f0f9da,#fafdc9,#f2fad7,#f1fad9,#eff9dc,#eef9de,#eef8de,#e5f5ef,#f0f9db)"></i><i style="top:91px;background:linear-gradient(90deg,#ebf7e4,#e8f6ea,#ecf8e2,#f7fcce,#eff9dc,#edf8e1,#f6fccf,#edf8e1,#f2fad7,#f5fbd2,#fafdc8,#feffc1,#f9fdc9,#eff9dc,#f0f9db,#eff9dc,#edf8e1,#eef8df,#eaf7e6,#e9f7e7,#ecf8e2,#e6f5ec)"></i><i style="top:92px;background:linear-gradient(90deg,#eff9dc,#edf8df,#ebf7e3,#edf8e0,#eef9de,#f0f9da,#f2fad7,#f2fad7,#f2fad8,#ffffbe,#fffdbc,#feffc1,#fdfec2,#f7fccf,#f2fad8,#f2fad7,#fcfec4,#f5fbd2,#f4fbd3,#edf8df,#f1fad9,#f7fcce)"></i><i style="top:93px;background:linear-gradient(90deg,#ebf7e4,#eff9dd,#f0f9da,#eef8de,#f3fad6,#eef8df,#eff9dc,#ecf8e2,#fcfec5,#f6fccf,#f9fdc9,#ffffbf,#f3fad5,#f1fad9,#ebf7e4,#edf8df,#ebf7e4,#eef9de,#ebf7e4,#e8f6e9,#e9f6e8,#e9f6e8)"></i><i style="top:94px;background:linear-gradient(90deg,#e9f7e7,#f0f9da,#f0f9db,#eef9de,#e9f7e7,#f1fad9,#eaf7e5,#f1fad8,#f3fad5,#f5fbd2,#f7fccd,#f8fccc,#fffebe,#f2fad7,#f0f9db,#f3fbd4,#f1f9da,#f3fad6,#e8f6e8,#e8f6e9,#fafdc8,#ebf7e3)"></i><i style="top:95px;background:linear-gradient(90deg,#ebf7e3,#eef8de,#f2fad6,#eaf7e6,#f1f9d9,#f0f9db,#f4fbd4,#f3fad6,#f2fad7,#f5fbd2,#f2fad7,#fffebd,#f2fad7,#f2fad6,#f9fdca,#eff9dc,#f3fad6,#eff9dd,#f2fad7,#eef9de,#ebf7e3,#f2fad6)"></i><i style="top:96px;background:linear-gradient(90deg,#edf8e0,#e9f7e7,#eef9de,#f3fad6,#ecf8e1,#f5fbd2,#f5fbd1,#fcfec4,#f3fad5,#fcfec4,#f6fccf,#fcfec5,#fafdc8,#f7fccd,#f3fad5,#f2fad7,#eff9dc,#eff9dc,#f2fad8,#f2fad7,#f2fad8,#f2fad7)"></i><i style="top:97px;background:linear-gradient(90deg,#f2fad7,#e6f5ec,#ecf8e1,#eff9dd,#edf8e0,#f5fbd2,#f4fbd3,#f2fad8,#f5fbd2,#fdfec2,#fafdc7,#fbfdc7,#fcfec5,#f6fccf,#f8fccc,#f3fad6,#f4fbd4,#eef8df,#ebf7e3,#eff9dd,#e3f4f3,#eff9dd)"></i><i style="top:98px;background:linear-gradient(90deg,#f1f9d9,#eef8de,#edf8df,#f4fbd4,#eff9dc,#f4fbd3,#fafdc8,#f5fbd2,#f8fccc,#fafdc8,#fdfec4,#fdfec3,#f8fccc,#f9fdcb,#ebf7e3,#f0f9db,#f3fad5,#ecf8e2,#eff9dd,#ebf7e3,#eff9dc,#f0f9da)"></i><i style="top:99px;background:linear-gradient(90deg,#f1fad9,#eef8df,#e9f7e7,#eef8de,#f0f9da,#f4fbd3,#e6f5ed,#f1fad8,#ebf7e5,#f9fdca,#fbfec6,#fbfec5,#fafdc9,#f4fbd4,#edf8e0,#f0f9da,#f3fad5,#edf8e0,#edf8e0,#e7f6ea,#f0f9da,#e9f6e8)"></i><i style="top:100px;background:linear-gradient(90deg,#e9f6e8,#ebf7e4,#eaf7e6,#edf8e0,#f4fbd3,#f3fad6,#f6fbd0,#f7fcce,#eff9dc,#f9fdcb,#fffebd,#fffab8,#f1fad9,#edf8e0,#f3fad5,#eef9dd,#ebf7e4,#f0f9da,#ebf7e4,#e4f5f1,#edf8e1,#ecf8e1)"></i><i style="top:101px;background:linear-gradient(90deg,#eff9dd,#f1fad9,#eef9dd,#edf8df,#ecf8e2,#e9f6e8,#eef9de,#f5fbd1,#f6fccf,#ffffbe,#fafdc8,#f3fad5,#fafdc7,#f8fccd,#ecf8e1,#eaf7e7,#f0f9da,#f2fad7,#eaf7e6,#ecf8e1,#eaf7e6,#e7f6eb)"></i><i style="top:102px;background:linear-gradient(90deg,#e8f6ea,#eff9dd,#edf8df,#edf8e0,#e5f5ee,#f8fccc,#edf8df,#f2fad7,#f0f9db,#fafdc9,#f5fbd1,#fcfec4,#f7fccd,#f8fccb,#eef8df,#eff9dd,#f0f9db,#f9fdca,#e9f7e7,#f0f9da,#ebf7e3,#eff9dd)"></i><i style="top:103px;background:linear-gradient(90deg,#ebf7e5,#e9f7e7,#ebf7e5,#ebf7e3,#e8f6e9,#eaf7e5,#e5f5ef,#ecf7e3,#ecf8e2,#f2fad7,#f9fdc9,#f8fccc,#f5fbd2,#f4fbd4,#e3f4f2,#eef8df,#ebf7e3,#eaf7e5,#e5f5ef,#ecf8e2,#edf8df,#ecf8e2)"></i><i style="top:104px;background:linear-gradient(90deg,#e9f6e8,#edf8e1,#eff9dd,#f3fad5,#f1fad9,#edf8e0,#eef8df,#eff9dd,#f1fad8,#f2fad7,#fbfdc7,#f5fbd2,#f1f9d9,#f2fad7,#ecf8e2,#ecf8e2,#e4f5f1,#eff9dc,#ebf7e3,#eaf7e5,#ecf8e2,#eaf7e6)"></i><i style="top:105px;background:linear-gradient(90deg,#e5f5ef,#f1fad9,#e8f6ea,#eef8de,#f2fad6,#e9f6e8,#ecf8e1,#eaf7e6,#f3fbd4,#f1fad8,#f2fad7,#fcfec5,#f7fccf,#ebf7e3,#f2fad7,#edf8e1,#f7fccf,#f2fad7,#e8f6ea,#e8f6e9,#e5f5ef,#e8f6e9)"></i><i style="top:106px;background:linear-gradient(90deg,#e5f5ef,#e9f6e8,#e7f6ec,#e1f3f6,#e4f5f0,#eef8de,#eef8df,#e9f7e7,#ebf7e3,#eff9dc,#f3fad4,#ecf8e1,#f3fbd4,#e9f7e7,#ebf7e5,#ddf2f7,#e9f7e7,#edf8e0,#dcf1f7,#edf8e1,#e8f6ea,#e2f4f5)"></i><i style="top:107px;background:linear-gradient(90deg,#d9f0f6,#e8f6e9,#e5f5ee,#e7f6eb,#e4f5f0,#e3f4f3,#eaf7e5,#e4f4f1,#edf8df,#e7f6ec,#edf8e0,#ebf7e4,#f3fad5,#e3f4f3,#e3f4f3,#e9f7e7,#e7f6eb,#eef9dd,#ecf8e1,#e7f6ec,#e6f5ed,#d7eff6)"></i><i style="top:108px;background:linear-gradient(90deg,#ddf2f7,#e2f4f5,#e3f4f3,#def2f7,#e1f3f6,#e2f4f4,#ebf7e5,#e9f6e8,#e8f6e9,#ecf8e2,#f2fad7,#eef8df,#ecf8e2,#e2f4f4,#eaf7e6,#eaf7e5,#e7f6eb,#e7f6eb,#e6f5ed,#ecf8e2,#e4f4f1,#daf0f6)"></i><i style="top:109px;background:linear-gradient(90deg,#d3edf4,#e1f3f7,#e3f4f3,#e2f4f4,#e3f4f2,#e1f3f6,#d7eff5,#def2f7,#daf0f6,#e6f5ed,#e6f5ee,#ecf8e3,#e7f6eb,#d9f0f6,#e5f5ef,#e4f5f1,#d6eef5,#e0f3f8,#e2f4f4,#dbf1f7,#e1f3f6,#dcf1f7)"></i><i style="top:110px;background:linear-gradient(90deg,#e1f3f6,#ddf1f7,#dcf1f7,#e1f3f6,#e3f4f3,#e1f3f6,#def2f7,#ddf2f7,#e2f4f4,#e5f5ef,#ecf8e2,#ecf8e2,#e7f6eb,#e4f4f1,#e2f4f4,#e7f6eb,#e5f5ef,#dbf0f7,#e1f3f7,#daf0f6,#dbf0f7,#d8eff6)"></i><i style="top:111px;background:linear-gradient(90deg,#dbf1f7,#d8eff6,#d1ecf4,#e3f4f2,#e8f6ea,#dff3f8,#e6f5ed,#e3f4f2,#e8f6e9,#e7f6ea,#edf8e0,#eef8df,#e1f3f7,#e8f6e9,#e4f5f0,#d5eef5,#e6f5ed,#e3f4f3,#e3f4f2,#e3f4f2,#def2f8,#d8eff6)"></i><i style="top:112px;background:linear-gradient(90deg,#d9f0f6,#dbf0f6,#e9f6e8,#e8f6ea,#def2f7,#dff3f8,#e3f4f2,#e5f5ee,#e2f4f4,#e4f5f0,#f4fbd3,#f0f9da,#e2f4f4,#dcf1f7,#dff2f8,#e3f4f3,#e4f4f1,#dff2f8,#d4edf5,#e0f3f7,#e1f3f6,#dcf1f7)"></i><i style="top:113px;background:linear-gradient(90deg,#dff3f8,#e5f5ef,#e3f4f2,#dff2f8,#e5f5ef,#e0f3f8,#eaf7e6,#e9f6e8,#e5f5ef,#edf8df,#f5fbd1,#e7f6eb,#ecf8e2,#f0f9db,#e0f3f7,#e5f5ef,#dff2f8,#e4f5f0,#d6eef5,#daf0f6,#e0f3f7,#e2f4f4)"></i><i style="top:114px;background:linear-gradient(90deg,#e1f3f6,#e2f4f4,#e6f5ed,#e5f5f0,#e5f5ee,#def2f7,#e3f4f3,#f2fad7,#f0f9da,#eef8df,#f1f9d9,#f2fad7,#e8f6e9,#eff9dd,#e3f4f3,#e3f4f2,#ecf8e2,#d5edf5,#e3f4f2,#d5eef5,#dbf1f7,#def2f7)"></i><i style="top:115px;background:linear-gradient(90deg,#daf0f6,#dff3f8,#daf0f6,#e0f3f8,#d9f0f6,#e0f3f8,#d9f0f6,#e6f5ed,#dff3f8,#ecf8e2,#eaf7e5,#ebf7e4,#eef8df,#e6f5ee,#d7eff6,#e4f5f0,#cdeaf3,#e2f4f4,#def2f7,#d5eef5,#dff2f8,#daf0f6)"></i><i style="top:116px;background:linear-gradient(90deg,#e6f5ed,#daf0f6,#e7f6eb,#e6f5ee,#dcf1f7,#dbf1f7,#e7f6eb,#e2f4f5,#e5f5ee,#e7f6eb,#e6f5ec,#eaf7e6,#e4f5f1,#dcf1f7,#e1f3f6,#e9f7e7,#e8f6ea,#e0f3f8,#e0f3f8,#e1f3f6,#e4f5f1,#def2f7)"></i><i style="top:117px;background:linear-gradient(90deg,#d6eef5,#d9eff6,#e3f4f3,#eaf7e6,#daf0f6,#d1ecf4,#e4f5f1,#e1f3f6,#e4f5f0,#edf8e1,#ebf7e4,#e5f5ef,#def2f7,#e3f4f2,#daf0f6,#e2f4f5,#d7eef5,#dcf1f7,#d3edf4,#daf0f6,#d8eff6,#def2f8)"></i><i style="top:118px;background:linear-gradient(90deg,#dff3f8,#d5eef5,#d2ecf4,#e4f5f0,#ddf1f7,#e0f3f8,#e0f3f7,#e5f5ef,#e5f5ee,#e7f6ea,#ebf7e3,#e4f5f0,#e2f4f5,#e0f3f7,#dff2f8,#dcf1f7,#ddf2f7,#daf0f6,#d6eef5,#cce9f2,#ddf1f7,#daf0f6)"></i><i style="top:119px;background:linear-gradient(90deg,#cce9f2,#d7eff6,#d8eff6,#d7eef5,#cae8f2,#cfebf3,#d5eef5,#e4f5f0,#d8eff6,#e1f4f6,#e2f4f5,#e4f5f0,#e4f5f0,#cfebf3,#c6e6f1,#def2f7,#d8eff6,#d3edf4,#ddf2f7,#dcf1f7,#c4e5f0,#d1ecf4)"></i><i style="top:120px;background:linear-gradient(90deg,#dcf1f7,#d0ebf4,#d4edf5,#dff2f8,#d7eff5,#d1ecf4,#d6eef5,#d3edf4,#e3f4f3,#daf0f6,#ecf8e2,#e0f3f8,#e4f5f1,#d5eef5,#daf0f6,#e1f4f5,#e1f3f6,#e2f4f5,#d7eff6,#d7eff6,#d7eff5,#d9eff6)"></i><i style="top:121px;background:linear-gradient(90deg,#d4edf4,#e0f3f8,#dcf1f7,#e2f4f5,#dff3f8,#e1f3f6,#d8eff6,#dcf1f7,#daf0f6,#e5f5ef,#e9f7e7,#eef8df,#e1f3f7,#f0f9da,#dff2f8,#e4f5f1,#e2f4f3,#c9e8f1,#d9eff6,#e2f4f3,#c6e6f1,#dcf1f7)"></i><i style="top:122px;background:linear-gradient(90deg,#ceeaf3,#d3edf4,#daf0f6,#cbe9f2,#dcf1f7,#d6eef5,#d7eef5,#e2f4f4,#f1fad9,#e8f6ea,#edf8e0,#eaf7e5,#e3f4f2,#e3f4f3,#e6f5ee,#def2f7,#e1f3f6,#d8eff6,#e7f6eb,#cce9f2,#dbf1f7,#d9f0f6)"></i><i style="top:123px;background:linear-gradient(90deg,#d2ecf4,#c9e8f2,#cae8f2,#d2ecf4,#d6eef5,#cdeaf3,#cfebf3,#def2f7,#e3f4f2,#e2f4f5,#e6f5ed,#e6f5ee,#eff9dd,#e1f3f6,#d9f0f6,#dff2f8,#e4f5f0,#def2f7,#c9e8f2,#d2ecf4,#cfeaf3,#ceeaf3)"></i><i style="top:124px;background:linear-gradient(90deg,#bde2ee,#c5e6f0,#c1e4ef,#cde9f3,#cbe9f2,#c2e4ef,#c1e4ef,#cce9f2,#daf0f6,#e1f3f6,#e4f5f1,#cfeaf3,#daf0f6,#cfebf3,#cdeaf3,#c4e5f0,#c9e8f1,#c6e6f1,#def2f7,#ceeaf3,#c6e6f1,#c6e6f1)"></i><i style="top:125px;background:linear-gradient(90deg,#bae0ed,#bde2ee,#bae1ed,#bee2ee,#c7e7f1,#c7e7f1,#c4e5f0,#ceeaf3,#cce9f2,#cde9f2,#d1ebf4,#d8eff6,#d3edf4,#cdeaf3,#cce9f2,#bee2ee,#bbe1ed,#c5e6f0,#c7e7f1,#bae0ed,#bfe3ef,#c5e6f0)"></i><i style="top:126px;background:linear-gradient(90deg,#abd9e9,#aad8e9,#9bcde4,#b7dfec,#b3ddeb,#b0dbea,#addaea,#aad8e9,#bae0ed,#c7e7f1,#ddf2f7,#cce9f2,#d3ecf4,#bbe1ee,#bce1ee,#a9d7e8,#b1dceb,#b7dfec,#aedaea,#a0d0e5,#a8d6e8,#addae9)"></i></div>
<div class="hm" style="left:119px;top:182px;width:42px;height:128px"><i style="top:0px;background:linear-gradient(90deg,#f46d43,#f36b42,#f36a42,#f67e4b,#f67948,#f88850,#f16740,#f0643f,#ef633e,#f46d43,#f0643f,#f46f44,#f47044,#f67e4b,#f57647,#f57446,#f16640,#ed5f3d,#f57346,#f36b42,#f36c42,#f57647)"></i><i style="top:1px;background:linear-gradient(90deg,#fb9f5a,#fa9556,#fb9c59,#f99154,#f98f53,#f99053,#f99053,#f88950,#fa9756,#f7854e,#fb9e5a,#f88d52,#f88a51,#fa9656,#fb9e59,#f8884f,#f99555,#f8864f,#f8874f,#f98e52,#f98e52,#f7844e)"></i><i style="top:2px;background:linear-gradient(90deg,#fdae61,#fdb86b,#fdb063,#fdad60,#fdb063,#fdb063,#fdb265,#fdb265,#fdb86b,#fdbc6e,#fca75e,#fdb669,#fdb063,#fdbc6f,#fdb063,#fdb76a,#fa9556,#fdb96b,#fdb86b,#fca95f,#fca75e,#fdc173)"></i><i style="top:3px;background:linear-gradient(90deg,#fdb265,#fdae61,#fdbe70,#fdaf62,#fdb86b,#fdbc6e,#fdb769,#fdb86a,#fdbf71,#fba15b,#fdb86a,#fdba6c,#fdae61,#fdb568,#fca95f,#fdb669,#fdb265,#fdb466,#fdb366,#fdb668,#fdb568,#fca65d)"></i><i style="top:4px;background:linear-gradient(90deg,#fdc577,#fdc476,#fdc374,#fdbc6e,#fdbd6f,#fdb96b,#feca7b,#fdbe70,#fdc173,#fdc274,#fdbf71,#fecf80,#fdbe70,#fdbf71,#fecb7c,#fdc173,#fdb467,#fdc375,#fdbc6e,#fdc273,#fdc678,#fdc778)"></i><i style="top:5px;background:linear-gradient(90deg,#fecf80,#fdc374,#fdc678,#fed182,#fdc576,#fecd7e,#fed182,#fec97a,#fed384,#fed888,#fdc374,#feda8a,#fec87a,#fed788,#fecc7e,#fece7f,#fecf80,#fedc8d,#fecd7e,#fecc7e,#fed384,#fecd7e)"></i><i style="top:6px;background:linear-gradient(90deg,#fed384,#fee090,#fed989,#fee293,#fed888,#fed687,#fec87a,#fed485,#fed788,#fed081,#fee192,#fed384,#fedf8f,#fedf8f,#fed383,#fed989,#fed182,#fee395,#fed989,#fedf8f,#fedd8d,#fee598)"></i><i style="top:7px;background:linear-gradient(90deg,#fedd8d,#fee192,#fee79a,#fee89d,#fee699,#fed98a,#fee394,#fee496,#fee090,#fee293,#fee192,#fede8e,#fee191,#fedd8d,#fee89b,#fee293,#fee496,#fee292,#fee293,#fee598,#fee496,#fedc8d)"></i><i style="top:8px;background:linear-gradient(90deg,#fee99d,#feeca2,#fee495,#fee293,#fee89b,#fee699,#feea9f,#fee79b,#fee192,#fee394,#fee698,#fee89b,#feeea5,#fee597,#fee496,#fee192,#fedb8c,#fee597,#fee293,#feeba1,#fee191,#fee293)"></i><i style="top:9px;background:linear-gradient(90deg,#fedb8b,#fee090,#fee191,#feda8a,#fee699,#fee090,#fedd8d,#fee69a,#fee89c,#fee191,#fee293,#fee090,#fee090,#fee69a,#fee192,#fedc8c,#fee497,#fee496,#fee89c,#fede8f,#fed687,#fee99e)"></i><i style="top:10px;background:linear-gradient(90deg,#fee090,#fedf8f,#fee699,#fee598,#fee89c,#fee79b,#fee394,#fee191,#fee394,#fedf8f,#fee394,#fee99d,#fedb8b,#fedd8d,#fee79a,#fed989,#fee192,#fee394,#fed888,#feefa6,#feeba0,#fee090)"></i><i style="top:11px;background:linear-gradient(90deg,#fee394,#fee699,#fed888,#fedf8f,#fee89b,#fee597,#fedd8d,#fed686,#feeba0,#fee191,#fee495,#feea9f,#fee394,#fee99e,#fee496,#fed788,#fedf8f,#fedd8d,#fede8f,#fee090,#fedc8c,#fee79b)"></i><i style="top:12px;background:linear-gradient(90deg,#fee395,#fedd8d,#fee598,#fee496,#feda8a,#fed888,#fee497,#fee598,#fede8f,#fee091,#fee597,#fede8e,#fedf8f,#fee192,#fecd7e,#fed989,#fedd8d,#fedb8b,#fecd7e,#fedb8b,#fee597,#fee090)"></i><i style="top:13px;background:linear-gradient(90deg,#fee79b,#feea9f,#fee69a,#fee69a,#fee89c,#feea9f,#fee496,#feefa6,#fee496,#fee89b,#fee69a,#fff2ac,#fee090,#feefa7,#feeba1,#fee597,#feeaa0,#fee99e,#fff2ab,#feea9e,#fee79a,#fee497)"></i><i style="top:14px;background:linear-gradient(90deg,#feeba1,#fee99d,#fee89c,#feeda4,#feeda4,#fee191,#feeea5,#fee496,#feea9e,#fee395,#feeda3,#fee79b,#fee89d,#feeba0,#fee89d,#feeda4,#feea9f,#feeca2,#fee69a,#feeaa0,#fff0a9,#feeca1)"></i><i style="top:15px;background:linear-gradient(90deg,#fee99e,#feeda3,#fee394,#fee79a,#fee597,#feeca2,#feeaa0,#fee496,#feefa7,#fee79b,#fee89d,#feeba1,#fee89c,#feeea5,#fee89c,#feeea6,#feeea6,#fee293,#feeca2,#fff2ac,#fee496,#feeca2)"></i><i style="top:16px;background:linear-gradient(90deg,#fff8b5,#fee99d,#fee496,#fee79a,#fee091,#fee99d,#fee698,#feeda4,#fee89b,#fee192,#fee699,#fee89b,#fff1aa,#feea9f,#feeea6,#fee597,#feeca2,#fee79a,#feeda4,#fedf8f,#feeea5,#fee89c)"></i><i style="top:17px;background:linear-gradient(90deg,#fee394,#feeea5,#fff3ac,#feeca2,#feea9f,#feeba0,#fff8b4,#feeea5,#fff8b5,#fee699,#feeea6,#fff1a9,#feeca2,#feeca3,#fff4af,#fee79b,#fff0a8,#fff7b3,#fee89d,#fee89c,#fee99e,#feeca2)"></i><i style="top:18px;background:linear-gradient(90deg,#fff3ac,#feea9f,#fee699,#feeba0,#fee79b,#fff2ab,#feea9f,#feea9f,#fff5b0,#fff6b1,#fff2ab,#feeea5,#feeca3,#feefa7,#feefa6,#feefa7,#feeea5,#feeca2,#feeca2,#feefa6,#feeda4,#fff0a9)"></i><i style="top:19px;background:linear-gradient(90deg,#feeda4,#fff3ad,#fee99e,#fff1a9,#feefa7,#fff4ae,#fff2ac,#fff0a8,#fff0a9,#fff3ad,#fff6b1,#fff0a9,#fff0a8,#feeea5,#feeba0,#fff2ab,#fffab7,#fff1aa,#fff9b6,#fff6b2,#feeca2,#feeea5)"></i><i style="top:20px;background:linear-gradient(90deg,#fff4af,#fff4af,#fff2ab,#fff9b6,#feefa7,#fff3ad,#fee99d,#fff6b2,#feeda3,#fff4af,#feeda3,#fff6b1,#feeea5,#fff3ad,#fff5b0,#fff2ab,#feefa7,#feefa7,#feea9f,#feeda4,#fffdbd,#fff3ad)"></i><i style="top:21px;background:linear-gradient(90deg,#fff9b6,#fff2ab,#feeda4,#fff6b1,#fff5b0,#feefa7,#fff1aa,#fee99d,#feeea6,#feeda4,#fee89c,#fff2ac,#fff0a8,#fff4af,#feefa6,#feeba1,#fee99e,#fff0a8,#fff3ad,#fff3ad,#fff6b2,#feefa7)"></i><i style="top:22px;background:linear-gradient(90deg,#feeea5,#ffffc0,#fffebe,#feeea5,#fffcba,#fff3ad,#fffab8,#fff1a9,#fff1a9,#fff4ae,#fff1a9,#fff4af,#fff2ab,#feeca2,#feefa7,#fff7b3,#fff8b5,#fff5b1,#fff5b0,#fff4ae,#fff7b3,#fff1aa)"></i><i style="top:23px;background:linear-gradient(90deg,#fff5b1,#fff4ae,#fff6b1,#fff3ad,#fffbb9,#feeea6,#fff4ae,#fff4ae,#fff3ad,#fff1a9,#fff2ac,#fff5af,#fff6b2,#fffdbc,#fff5af,#fff7b3,#fff7b3,#feeaa0,#fffebe,#fff5b0,#fff0a8,#fff1aa)"></i><i style="top:24px;background:linear-gradient(90deg,#feeca3,#fff8b4,#fff7b2,#feefa7,#fff3ae,#feea9f,#fff1aa,#fff1aa,#fff0a8,#fff3ad,#fff2ab,#fff5b0,#fff2ac,#fff4af,#fff1aa,#fff9b5,#fff9b6,#fff0a8,#fff1aa,#fff7b2,#fff3ad,#fff7b3)"></i><i style="top:25px;background:linear-gradient(90deg,#feea9f,#fffbb9,#feeca2,#fff7b3,#fff2ab,#fff5b0,#fff5b0,#feefa7,#fff0a8,#fff5b0,#fff8b4,#feea9f,#feeda4,#fff3ad,#fff5b0,#fff2ac,#fff3ad,#feeea5,#fff8b4,#fff3ae,#fff7b3,#feeda4)"></i><i style="top:26px;background:linear-gradient(90deg,#feeda4,#fff6b1,#fff3ac,#feefa6,#fff7b2,#fffab7,#fff0a9,#fff3ad,#fff6b2,#feeea6,#fff4af,#fffebd,#fff4ae,#fff6b1,#feeca3,#fff5b0,#fff6b2,#fff3ad,#fff4ae,#fffcba,#fff5af,#fff7b3)"></i><i style="top:27px;background:linear-gradient(90deg,#feefa6,#feea9f,#fffab8,#fffab7,#fff9b6,#fff8b5,#fff8b5,#fff5b0,#fff0a9,#fffbb9,#fffcbb,#fffebd,#fff0a8,#feefa7,#fffcbb,#fffdbc,#fff5af,#fff0a9,#fff1a9,#fff4af,#fff2ab,#fff4ae)"></i><i style="top:28px;background:linear-gradient(90deg,#fff7b3,#feeca2,#fff5af,#fffab7,#fff7b3,#fffcba,#fff5af,#fff0a8,#fffbb8,#feefa7,#feeba1,#fff3ad,#fffab7,#fff9b5,#fff6b2,#fffbb8,#fffab8,#fff6b1,#fff5b1,#fff2ab,#fffab8,#feeca2)"></i><i style="top:29px;background:linear-gradient(90deg,#fff2ab,#fff2ac,#fff9b7,#feeea6,#fff8b4,#feeea5,#fff1ab,#fffbb8,#fff9b5,#feeea5,#fff2ab,#fff7b3,#fff6b1,#fff6b1,#fffab8,#fff7b3,#fffab7,#fff8b5,#fff4af,#fffbb9,#fff3ad,#fff6b1)"></i><i style="top:30px;background:linear-gradient(90deg,#fff1aa,#fff1a9,#feefa7,#fff2ab,#fff1aa,#fff6b1,#fff2ab,#fff9b6,#fff6b1,#fff1aa,#fff5b0,#fff3ac,#fffab7,#feeea6,#fff7b4,#fff3ad,#fff5b0,#fff0a9,#fff7b2,#fff9b7,#fffebd,#fff6b2)"></i><i style="top:31px;background:linear-gradient(90deg,#fffab8,#fff2ab,#feeea5,#ffffbf,#fffbb8,#fff3ad,#feefa6,#fff3ad,#fff3ad,#fff2ac,#fff2ab,#feeda3,#fff2ab,#fffab8,#fff7b2,#fff4ae,#fff8b5,#fff6b1,#fff7b3,#fff8b4,#fff1aa,#fff6b2)"></i><i style="top:32px;background:linear-gradient(90deg,#fff7b3,#fff6b1,#fff2ab,#fee89d,#fff1aa,#feeba1,#fff0a8,#fffcbb,#fff0a9,#fff6b2,#fff9b5,#fff7b3,#feea9f,#fffab7,#fff5b0,#feeda3,#feefa7,#fffab8,#fff3ac,#fff5af,#fff3ad,#feefa6)"></i><i style="top:33px;background:linear-gradient(90deg,#fff5b0,#fff4af,#feeca2,#fffbb9,#fff4af,#fff0a9,#fff9b5,#fff6b1,#fff9b6,#fff2ab,#fff6b1,#feefa7,#feeea5,#fff2ac,#fff4af,#fff1aa,#fff2ac,#fff8b5,#feeea5,#fff2ab,#feefa7,#fff9b6)"></i><i style="top:34px;background:linear-gradient(90deg,#fff1aa,#feeba1,#fff2ac,#fffcba,#fff5b0,#fff5b0,#fff4ae,#fff6b2,#fff3ac,#fff7b3,#fff4ae,#fff8b5,#fff5af,#fff0a9,#fff7b3,#fff2ab,#fff9b6,#fff7b3,#fff6b2,#feefa7,#fff9b5,#feefa7)"></i><i style="top:35px;background:linear-gradient(90deg,#ffffc0,#fff9b6,#fff4af,#fff5b0,#fffdbc,#fffebe,#fff4af,#fffebe,#fff6b1,#fffbb9,#fff8b5,#feeea5,#fff1aa,#fff4af,#ffffbf,#fff7b3,#fff8b5,#fff9b6,#fff2ac,#fdfec2,#fff7b3,#fff8b4)"></i><i style="top:36px;background:linear-gradient(90deg,#fffdbb,#fff1aa,#ffffbf,#fff9b6,#fff9b5,#fbfdc7,#feffc0,#fffebd,#fff5b0,#fff5af,#fff6b2,#fff8b4,#fbfdc7,#fff8b4,#fffbba,#fff4ae,#fff3ac,#feefa6,#fff6b1,#fff5b0,#fffebd,#fff9b5)"></i><i style="top:37px;background:linear-gradient(90deg,#ffffbe,#fff5af,#fffebe,#fffab7,#fffdbb,#fffbb9,#fff7b2,#fffbba,#fff8b4,#fffebd,#fff2ac,#fffcba,#fff4ae,#feefa6,#fafdc9,#fffdbd,#fffab7,#fff3ad,#fffbb9,#fff7b3,#fffcbb,#fff6b2)"></i><i style="top:38px;background:linear-gradient(90deg,#fff8b4,#feeea5,#feffc1,#fffbb9,#fee99e,#fff1aa,#fff6b2,#fee89c,#feeda4,#feeda3,#fff4ae,#feefa7,#fff0a8,#fffab7,#feefa7,#fff3ad,#feeca2,#feeca2,#fff5b0,#fff5b0,#fff1aa,#feefa7)"></i><i style="top:39px;background:linear-gradient(90deg,#fffab7,#fff9b5,#fff5b0,#fff6b1,#fff3ac,#fff7b3,#fffcbb,#fefec2,#fff4af,#fffab7,#fffab7,#fff9b7,#feffc0,#fffab7,#fafdc9,#fffab7,#fffcbb,#feefa7,#fff6b1,#fff9b6,#fff7b3,#fff5af)"></i><i style="top:40px;background:linear-gradient(90deg,#fffbba,#fff9b6,#fff9b7,#feeca2,#fff7b4,#fdfec3,#fff4ae,#feeba1,#fffcbb,#fee79b,#fff8b5,#fff3ad,#fffbb8,#fff9b6,#fffebd,#fffdbc,#fcfec5,#fff2ac,#fffdbc,#fff6b1,#fff6b2,#fffbb9)"></i><i style="top:41px;background:linear-gradient(90deg,#fff7b3,#fff8b4,#fffab7,#fff7b3,#fff7b3,#fffcbb,#fffdbd,#fffbb9,#fff7b2,#fff1a9,#fff0a9,#fff6b1,#fff3ac,#fff7b2,#fff2ab,#fff7b2,#fff5b0,#fff9b5,#fff7b3,#feeea5,#fffdbc,#fff7b3)"></i><i style="top:42px;background:linear-gradient(90deg,#fdfec3,#fffab7,#fff6b1,#feffc0,#f2fad6,#fffbb9,#fffbb9,#f8fccd,#ffffc0,#ffffbe,#f5fbd2,#fffbb9,#fffcbb,#fffdbc,#fbfdc7,#fcfec4,#fdfec3,#fffcba,#fbfdc6,#fff7b3,#fffdbb,#f5fbd1)"></i><i style="top:43px;background:linear-gradient(90deg,#fff7b2,#fffebd,#fdfec3,#fffebe,#f6fccf,#fffebd,#f3fbd4,#fafdc8,#fff8b5,#fff9b5,#fefec2,#fbfdc7,#fffab8,#ffffbf,#fffebd,#fffcba,#fafdc8,#fffbb9,#f5fbd1,#fff8b4,#f8fccd,#fcfec4)"></i><i style="top:44px;background:linear-gradient(90deg,#fdfec3,#fffab8,#fffab8,#fffcbb,#fffbb9,#fffcba,#fffebe,#f7fcce,#f5fbd2,#f5fbd2,#fffebe,#ffffbf,#ffffbe,#fffdbc,#ffffbf,#fbfec6,#f9fdcb,#f7fcce,#fff8b5,#fffab7,#f9fdc9,#ffffc0)"></i><i style="top:45px;background:linear-gradient(90deg,#fffebd,#fff8b5,#fbfec6,#ffffbf,#fffab8,#f6fbd0,#fbfdc7,#feffc1,#fbfdc7,#fff6b1,#fffcba,#ffffbf,#f9fdc9,#fffcba,#fffdbc,#fcfec5,#fcfec5,#f7fcce,#feffc1,#fffcba,#fffbb9,#fffdbc)"></i><i style="top:46px;background:linear-gradient(90deg,#fffdbc,#fafdc8,#fbfdc7,#fffbb9,#ffffbf,#f9fdca,#ffffbe,#fffdbc,#fffebd,#fefec2,#fbfdc7,#ffffbf,#fff9b5,#feffc1,#fafdc9,#ffffc0,#f7fcce,#feffc1,#fcfec5,#fffcbb,#fefec2,#fffcba)"></i><i style="top:47px;background:linear-gradient(90deg,#fff3ad,#ffffbf,#fcfec5,#fffcba,#ffffbe,#fffebd,#fdfec3,#fffcba,#fffebd,#f5fbd1,#ffffc0,#fffdbb,#fff8b5,#fdfec3,#fcfec5,#fff9b5,#fdfec3,#fffebd,#fffcba,#fffbb8,#fffebe,#fafdc7)"></i><i style="top:48px;background:linear-gradient(90deg,#fff5af,#fffcba,#fffcba,#fff0a8,#fff5b0,#ffffbe,#fffcba,#fffbb8,#fffdbc,#fbfec6,#fff6b1,#fff6b1,#fff8b5,#fffbb9,#fff8b5,#fff6b2,#fffebe,#fffbb9,#fffcbb,#fff6b1,#fff8b5,#feffc0)"></i><i style="top:49px;background:linear-gradient(90deg,#fffebd,#fff2ab,#ffffc0,#fffab7,#fffebd,#fff5af,#fffbb9,#fffdbc,#fefec1,#fffcba,#fff7b2,#fff7b3,#fdfec3,#fff3ad,#fffcba,#feffc0,#fffab7,#fffebd,#fffdbd,#fffebd,#fffbb9,#fffdbc)"></i><i style="top:50px;background:linear-gradient(90deg,#f8fccb,#fffbb9,#feffc1,#fff8b4,#fffbb9,#fffab8,#fffdbb,#fff7b3,#ffffbf,#fcfec5,#fffcba,#f3fbd4,#ffffbf,#fffcbb,#ffffc0,#fff7b3,#fffab8,#fffdbc,#ffffc0,#fff8b5,#fdfec2,#ffffc0)"></i><i style="top:51px;background:linear-gradient(90deg,#fffcba,#fffdbb,#fff6b1,#fdfec2,#f5fbd1,#fffcbb,#fff9b7,#fefec1,#fff8b4,#fff7b3,#fbfec6,#fcfec4,#f8fccb,#fffdbc,#fffcbb,#fffdbb,#f9fccb,#fbfdc7,#f8fccd,#f7fcce,#f8fccc,#f7fcce)"></i><i style="top:52px;background:linear-gradient(90deg,#fafdc8,#fdfec3,#feffc1,#fbfdc7,#f8fccc,#fbfdc7,#fefec1,#f9fdc9,#fbfec6,#f9fdc9,#f8fccb,#fbfdc6,#f6fbd0,#fffebe,#f3fbd4,#fdfec2,#f4fbd3,#fffcba,#ffffbf,#f7fcce,#f9fdca,#f5fbd0)"></i><i style="top:53px;background:linear-gradient(90deg,#ffffbe,#fffcbb,#fff2ab,#f9fdca,#fff8b5,#fdfec3,#fffdbc,#fffab7,#fffcba,#fffcbb,#ffffbf,#fffebe,#fffebd,#fff9b5,#f9fdcb,#fdfec2,#fafdc9,#fbfec6,#fcfec5,#fff9b6,#fff4ae,#fff8b4)"></i><i style="top:54px;background:linear-gradient(90deg,#f9fdc9,#fffebe,#fafdc9,#fffdbc,#fff9b6,#fffcbb,#fffbb8,#feffc0,#f6fbd0,#f6fbd0,#ffffc0,#fffcbb,#fff9b6,#fdfec2,#fffebe,#fffebd,#fffab7,#ffffbf,#fafdc8,#fffab7,#fffdbc,#fffdbc)"></i><i style="top:55px;background:linear-gradient(90deg,#f5fbd1,#fbfec6,#f3fad5,#f2fad8,#fafdc8,#f9fdca,#feffc1,#fffcba,#fbfdc6,#fffab8,#f8fccb,#ffffbf,#f5fbd1,#fcfec5,#fafdc9,#fafdc8,#feffc1,#f2fad6,#fcfec5,#f7fccd,#fcfec5,#fdfec2)"></i><i style="top:56px;background:linear-gradient(90deg,#fbfec6,#fbfec6,#f8fccd,#fffebe,#fafdc8,#ffffbf,#f6fccf,#fffab8,#f8fccb,#fffbba,#fbfdc6,#fffebe,#fcfec4,#fffebd,#fdfec2,#fffbb9,#fffebd,#fffebd,#fff9b6,#fafdc9,#fffbb8,#fdfec2)"></i><i style="top:57px;background:linear-gradient(90deg,#f5fbd1,#feffc0,#fbfec6,#fffab7,#fafdc8,#fcfec4,#fdfec2,#f3fad5,#ffffc0,#f7fccd,#fffbb9,#fffab7,#fcfec4,#f5fbd2,#fdfec3,#fdfec3,#fffebe,#fbfdc7,#f7fccf,#fcfec5,#f8fccc,#fff9b6)"></i><i style="top:58px;background:linear-gradient(90deg,#f7fcce,#f7fccd,#fafdc8,#f4fbd3,#f8fccc,#fafdc9,#f8fccc,#f9fdca,#fffebd,#fcfec4,#f4fbd3,#f8fccb,#feffc1,#f7fccd,#fbfdc7,#fafdc8,#fdfec3,#f9fdc9,#fafdc9,#f6fccf,#fcfec4,#f6fbd0)"></i><i style="top:59px;background:linear-gradient(90deg,#fffdbc,#f8fccb,#f7fccd,#fcfec4,#f8fccc,#f9fdca,#f8fccb,#f5fbd1,#f4fbd3,#f5fbd1,#feffc1,#f6fbd0,#f7fcce,#f6fccf,#fcfec5,#fffcba,#f4fbd3,#fbfec6,#f9fdca,#f7fcce,#fbfdc6,#f2fad6)"></i><i style="top:60px;background:linear-gradient(90deg,#fcfec4,#fafdc9,#f4fbd4,#fffebd,#fdfec3,#feffc1,#f2fad8,#f7fccd,#f6fcd0,#fbfec5,#ffffbf,#eff9dc,#f9fdcb,#f8fccc,#fdfec2,#f8fccb,#f2fad6,#f8fccd,#f4fbd4,#f5fbd2,#f9fdcb,#f6fccf)"></i><i style="top:61px;background:linear-gradient(90deg,#fafdc9,#f1fad8,#fffbb8,#feffc0,#fcfec5,#f2fad6,#eef8de,#f4fbd3,#f7fccd,#fffbb9,#ffffc0,#f6fbd0,#feffc1,#feffc0,#f8fccb,#feffc0,#fafdc8,#f5fbd1,#f3fad5,#f8fccc,#fdfec2,#f2fad7)"></i><i style="top:62px;background:linear-gradient(90deg,#f4fbd3,#feffc0,#eff9dd,#fffab7,#f9fdc9,#ffffbf,#fffab7,#f5fbd2,#f7fcce,#fff8b4,#fafdc8,#fbfdc6,#fdfec3,#fffdbd,#fffcbb,#fcfec4,#fafdc8,#fbfec6,#fdfec3,#fffcbb,#fcfec4,#fffab7)"></i><i style="top:63px;background:linear-gradient(90deg,#f8fccd,#feffc0,#fffab7,#fffcbb,#fdfec2,#f8fccd,#f8fccb,#fbfdc6,#fdfec2,#fbfdc7,#f5fbd2,#f8fccc,#feffc1,#fffebe,#f5fbd1,#fafdc8,#f4fbd4,#f9fdca,#fff1aa,#fcfec4,#fafdc8,#f9fdca)"></i><i style="top:64px;background:linear-gradient(90deg,#f5fbd2,#f2fad7,#fafdc7,#f9fdc9,#fffcbb,#f3fad5,#fdfec3,#fffdbc,#f1fad8,#feffc1,#f3fad5,#fdfec2,#fffcbb,#fbfdc7,#fcfec5,#f7fccd,#fcfec4,#fffebd,#fafdc9,#fafdc8,#fcfec4,#ffffc0)"></i><i style="top:65px;background:linear-gradient(90deg,#f1f9d9,#f9fdca,#f5fbd1,#fbfdc7,#fdfec2,#fafdc8,#ffffc0,#f4fbd4,#f7fccf,#f4fbd4,#f9fdca,#f9fdca,#f8fccd,#f3fad6,#f8fccc,#f6fccf,#fbfec6,#f7fccd,#feffc1,#fafdc9,#f0f9db,#f8fccc)"></i><i style="top:66px;background:linear-gradient(90deg,#f2fad7,#fdfec2,#ffffbe,#f9fccb,#fbfdc7,#f2fad7,#eef8de,#f6fcd0,#f7fccd,#f1fad8,#f9fdca,#fafdc8,#fcfec5,#fffebd,#fdfec4,#f7fcce,#f9fdca,#fcfec5,#f4fbd4,#ffffbf,#fdfec3,#f8fccd)"></i><i style="top:67px;background:linear-gradient(90deg,#f9fdca,#fff0a8,#fffebd,#fffdbd,#fff9b6,#fffdbc,#fdfec2,#fffebe,#f8fccc,#fffebe,#f5fbd2,#feffc1,#ffffbf,#f5fbd2,#fff9b5,#f7fcce,#fffdbc,#fafdc9,#fefec1,#f9fdca,#fff6b1,#fffdbc)"></i><i style="top:68px;background:linear-gradient(90deg,#fdfec2,#f8fccb,#f8fccc,#f5fbd1,#f3fbd4,#f7fccd,#f5fbd1,#f4fbd4,#eef8de,#f3fad5,#f7fccd,#f2fad6,#f6fccf,#f4fbd3,#f0f9db,#f0f9da,#f1fad9,#f3fad5,#f3fad4,#fafdc8,#eff9dc,#ebf7e4)"></i><i style="top:69px;background:linear-gradient(90deg,#fdfec3,#f7fccd,#f9fdca,#fff9b5,#fffebd,#fcfec4,#feffc1,#fafdc8,#feffc1,#f6fccf,#f6fbd0,#f7fccd,#fffdbc,#fffdbc,#f6fccf,#ffffbf,#f9fdcb,#feffc0,#f8fccc,#feffc1,#f9fdca,#f8fccc)"></i><i style="top:70px;background:linear-gradient(90deg,#f8fccb,#f9fdca,#f6fbd0,#f2fad7,#fffebd,#f6fccf,#f0f9db,#eef8df,#ebf7e4,#f5fbd1,#ffffbf,#f1f9da,#f7fcce,#f0f9db,#fefec2,#fafdc8,#fafdc8,#ffffbf,#fffebd,#fdfec2,#f6fbd0,#f2fad7)"></i><i style="top:71px;background:linear-gradient(90deg,#f1fad9,#eef8df,#ffffc0,#f5fbd1,#f7fcce,#f7fcce,#fffebe,#f3fbd4,#fcfec5,#f8fccd,#f5fbd1,#edf8e0,#fafdc7,#f3fad6,#f4fbd3,#f7fccd,#f7fccf,#fbfec5,#f3fad5,#f7fcce,#f7fccd,#f6fccf)"></i><i style="top:72px;background:linear-gradient(90deg,#f7fccd,#f3fad6,#fafdc9,#f1f9da,#edf8e0,#f4fbd4,#fafdc9,#f1fad8,#f1fad9,#f2fad6,#f5fbd2,#f3fad5,#f5fbd1,#ecf8e3,#fbfdc6,#f7fcce,#f0f9db,#fafdc7,#f6fccf,#fbfdc6,#eef9de,#fcfec5)"></i><i style="top:73px;background:linear-gradient(90deg,#f3fad4,#e9f7e7,#f7fcce,#f2fad8,#eef9de,#f2fad7,#eaf7e6,#f6fbd0,#f2fad7,#f2fad7,#fafdc8,#f3fad5,#f0f9db,#eff9dd,#f3fad5,#f8fccc,#f0f9da,#eef8de,#f8fccd,#f3fbd4,#f3fad5,#fdfec3)"></i><i style="top:74px;background:linear-gradient(90deg,#eaf7e5,#f1fad9,#e7f6ea,#eef9dd,#f3fad6,#f5fbd1,#eaf7e6,#f4fbd3,#f4fbd4,#eff9dc,#fcfec5,#f0f9db,#ecf8e3,#f2fad7,#e7f6eb,#f7fccd,#f5fbd2,#eef8de,#f3fad5,#f2fad6,#f9fdca,#edf8e0)"></i><i style="top:75px;background:linear-gradient(90deg,#e9f6e8,#e5f5ee,#eef8df,#e7f6ea,#eef8de,#f1fad9,#edf8e0,#eaf7e5,#f5fbd2,#eef8de,#f0f9da,#f4fbd4,#e9f6e8,#ebf7e5,#fbfdc6,#eef9de,#eaf7e6,#eef8df,#ecf8e1,#e9f7e7,#edf8e0,#eff9dd)"></i><i style="top:76px;background:linear-gradient(90deg,#f1f9d9,#f3fbd4,#e9f6e8,#eaf7e6,#f5fbd2,#eff9dd,#f7fcce,#f2fad6,#eaf7e5,#f3fbd4,#ecf8e2,#f2fad7,#f7fcce,#fbfdc6,#f0f9da,#f4fbd3,#f2fad6,#f5fbd2,#e5f5f0,#eff9dc,#f2fad7,#f3fad5)"></i><i style="top:77px;background:linear-gradient(90deg,#ebf7e4,#f3fad6,#f4fbd3,#eff9dd,#edf8df,#edf8e0,#eff9dc,#f4fbd3,#f6fbd0,#ecf8e1,#eaf7e5,#ebf7e4,#f3fad5,#f0f9db,#f0f9db,#f1fad9,#f0f9da,#eef8de,#eaf7e6,#ecf8e3,#eff9dc,#f0f9da)"></i><i style="top:78px;background:linear-gradient(90deg,#f2fad6,#f2fad7,#fbfdc7,#f2fad7,#f5fbd1,#f3fad6,#f0f9da,#edf8e0,#f2fad8,#f0f9da,#f8fccc,#eff9dd,#f2fad7,#f7fccd,#f4fbd4,#f7fccf,#f8fccc,#ecf8e1,#f2fad7,#f0f9db,#fbfdc7,#f4fbd4)"></i><i style="top:79px;background:linear-gradient(90deg,#f5fbd1,#fbfdc6,#f1fad8,#f3fad5,#f5fbd2,#f2fad8,#f9fdca,#f7fcce,#f8fccc,#f3fad5,#f1fad8,#f1fad8,#f1fad8,#ebf7e4,#f5fbd2,#f7fcce,#f3fad5,#f1f9da,#f3fad5,#f4fbd3,#f4fbd2,#fbfec6)"></i><i style="top:80px;background:linear-gradient(90deg,#e3f4f2,#e9f6e8,#eaf7e5,#e7f6ea,#e6f5ed,#e2f4f4,#e4f5f0,#eaf7e5,#eef8de,#e4f5f1,#e9f7e7,#eaf7e6,#ecf8e2,#e8f6e9,#e9f7e7,#ebf7e3,#e2f4f5,#e7f6eb,#def2f7,#dcf1f7,#e3f4f2,#e0f3f8)"></i><i style="top:81px;background:linear-gradient(90deg,#ecf8e1,#eff9dd,#e9f6e8,#e9f7e7,#e9f6e8,#e9f6e8,#ebf7e4,#ecf7e3,#e8f6ea,#e6f5ec,#e8f6ea,#eef8df,#e8f6e9,#f1f9d9,#e9f6e8,#f0f9da,#e4f5f0,#e7f6ec,#ecf8e2,#ecf8e1,#e9f7e7,#f4fbd4)"></i><i style="top:82px;background:linear-gradient(90deg,#f0f9da,#f1fad8,#edf8e0,#f8fccd,#f4fbd4,#f2fad7,#e8f6e9,#f1fad8,#eef8df,#f2fad8,#f4fbd3,#ecf8e1,#f1fad9,#f4fbd3,#f1f9da,#eef9de,#ebf7e4,#edf8e1,#eaf7e6,#f4fbd2,#f0f9da,#eaf7e5)"></i><i style="top:83px;background:linear-gradient(90deg,#f0f9da,#eaf7e5,#e1f3f6,#f6fbd0,#f6fbd0,#e9f7e7,#edf8e0,#f1fad8,#eff9dd,#ecf8e1,#eef8de,#eff9dc,#eef8df,#f1fad8,#eff9dc,#edf8e1,#f0f9da,#e9f6e8,#f7fcce,#e8f6e9,#f0f9db,#f2fad7)"></i><i style="top:84px;background:linear-gradient(90deg,#f2fad8,#f1fad9,#f6fbd0,#eaf7e5,#eff9dc,#f0f9da,#edf8df,#edf8e0,#f6fbd0,#ecf8e1,#edf8df,#eef9de,#eff9dd,#f0f9da,#eff9dd,#f1fad8,#f0f9da,#f2fad7,#f6fcd0,#ecf8e2,#f7fccd,#eef8df)"></i><i style="top:85px;background:linear-gradient(90deg,#f3fad5,#f1fad9,#eff9dd,#e7f6eb,#f8fccd,#edf8e1,#ecf8e1,#f5fbd1,#f0f9da,#f9fdca,#f8fccc,#f3fbd4,#f1fad8,#f4fbd4,#eaf7e6,#f1fad9,#f1fad9,#eef8de,#f1fad8,#e9f7e7,#f4fbd3,#f6fccf)"></i><i style="top:86px;background:linear-gradient(90deg,#ebf7e4,#f1fad8,#f8fccc,#f3fad6,#ecf8e2,#ecf8e2,#f5fbd2,#f9fdca,#ecf8e2,#f1fad9,#edf8e0,#eff9dc,#f2fad6,#f1f9d9,#eef8df,#fbfdc7,#f0f9da,#f0f9db,#f6fbd0,#f1fad9,#f0f9db,#f5fbd1)"></i><i style="top:87px;background:linear-gradient(90deg,#edf8e1,#f5fbd2,#f6fccf,#f5fbd2,#f1f9d9,#f1fad8,#eaf7e6,#f1fad9,#f3fad5,#f5fbd1,#f2fad7,#f0f9db,#eef8df,#f1fad8,#f2fad7,#f7fcce,#f1fad8,#eff9dc,#f1fad9,#eff9dc,#f0f9da,#e7f6eb)"></i><i style="top:88px;background:linear-gradient(90deg,#ebf7e4,#edf8e0,#f5fbd2,#f2fad7,#f3fad5,#f8fccc,#eef8df,#f8fccd,#f4fbd3,#eff9dc,#f9fdca,#ecf8e2,#edf8e0,#f1fad8,#f4fbd3,#f1fad8,#e9f6e8,#f1fad9,#f2fad7,#feffc1,#f9fdcb,#f3fad5)"></i><i style="top:89px;background:linear-gradient(90deg,#e9f7e7,#f0f9db,#e9f6e8,#eff9dc,#f0f9db,#ecf8e2,#eff9dc,#edf8e1,#ebf7e3,#f5fbd1,#f1f9d9,#edf8e1,#ebf7e5,#eff9dd,#f1f9d9,#f2fad7,#f5fbd2,#f0f9da,#e9f6e8,#f7fccd,#f3fbd4,#f2fad7)"></i><i style="top:90px;background:linear-gradient(90deg,#f3fad5,#e6f5ed,#ebf7e3,#ebf7e5,#f2fad6,#e7f6ea,#ebf7e3,#f4fbd3,#f0f9db,#ebf7e4,#f6fbd0,#e7f6eb,#eff9dc,#ecf8e2,#eff9dc,#ecf8e3,#e9f7e7,#eef8de,#e7f6eb,#eff9dc,#ebf7e3,#f1fad9)"></i><i style="top:91px;background:linear-gradient(90deg,#e5f5ef,#e4f4f1,#e9f6e8,#edf8e1,#dcf1f7,#e7f6ea,#eaf7e6,#e0f3f7,#e3f4f3,#eaf7e6,#e3f4f2,#e4f5f1,#eff9dd,#e3f4f3,#e3f4f3,#daf0f6,#e2f4f4,#e1f4f6,#eff9dd,#edf8e1,#e1f3f6,#f0f9db)"></i><i style="top:92px;background:linear-gradient(90deg,#ecf8e3,#e7f6eb,#ecf8e2,#eaf7e6,#e5f5f0,#e0f3f8,#e4f5f1,#e8f6e9,#e6f6ec,#e5f5ef,#edf8e1,#e3f4f2,#ecf8e2,#e6f5ed,#e9f6e8,#e3f4f3,#e8f6e9,#e5f5f0,#e0f3f8,#e8f6e9,#e8f6ea,#ecf8e2)"></i><i style="top:93px;background:linear-gradient(90deg,#e9f6e8,#e3f4f3,#e5f5f0,#d9f0f6,#e2f4f4,#edf8e0,#eef9de,#ebf7e4,#e9f6e8,#eaf7e5,#eaf7e6,#dff3f8,#e3f4f2,#edf8e0,#edf8e0,#e8f6e8,#e6f5ed,#e6f5ee,#e5f5ef,#e3f4f2,#ddf2f7,#e8f6e9)"></i><i style="top:94px;background:linear-gradient(90deg,#ecf8e2,#edf8e0,#f6fbd0,#f1fad9,#ebf7e4,#f1f9d9,#e7f6eb,#f3fad5,#eff9dc,#edf8e0,#f1f9d9,#f5fbd2,#ecf8e2,#eaf7e6,#f8fccc,#eef8de,#f5fbd1,#ebf7e4,#f0f9db,#ebf7e4,#f1fad9,#edf8e0)"></i><i style="top:95px;background:linear-gradient(90deg,#eef8df,#f8fccc,#f2fad6,#e7f6ea,#f0f9db,#edf8e1,#ebf7e4,#eef8de,#eff9dd,#f1fad9,#edf8e0,#e8f6e9,#eef9de,#f5fbd2,#eaf7e5,#f4fbd4,#f3fad5,#eff9dd,#f2fad7,#edf8e0,#eff9dd,#ecf8e2)"></i><i style="top:96px;background:linear-gradient(90deg,#edf8e1,#f1fad9,#e7f6ea,#f0f9da,#e1f3f7,#e6f5ec,#e6f5ed,#f2fad6,#e8f6ea,#eef8de,#e1f3f6,#ebf7e4,#edf8e0,#eaf7e5,#dcf1f7,#ebf7e3,#eef9de,#f1f9d9,#ecf8e1,#e3f4f3,#eaf7e6,#eff9dd)"></i><i style="top:97px;background:linear-gradient(90deg,#e1f3f7,#e7f6eb,#e2f4f4,#e5f5ef,#e8f6e9,#e1f3f6,#f2fad8,#e5f5ef,#e6f5ed,#e1f3f6,#e5f5ef,#e3f4f2,#dcf1f7,#dbf1f7,#e6f5ed,#e4f5f1,#d3ecf4,#d6eef5,#e3f4f3,#e4f5f1,#e7f6eb,#def2f7)"></i><i style="top:98px;background:linear-gradient(90deg,#e9f6e8,#e5f5f0,#e4f4f1,#e5f5ee,#ebf7e5,#e9f6e8,#eaf7e5,#e3f4f3,#e5f5ef,#e1f3f7,#e3f4f2,#e4f5f0,#e4f4f1,#e9f7e7,#e8f6e9,#eaf7e7,#e7f6ec,#ebf7e4,#e7f6ec,#eaf7e5,#e8f6e9,#e9f7e7)"></i><i style="top:99px;background:linear-gradient(90deg,#e6f6ec,#e1f3f6,#e0f3f8,#f0f9db,#e9f6e8,#e9f6e8,#e6f5ed,#e5f5ef,#f4fbd3,#e2f4f5,#e6f6ec,#e7f6ec,#e2f4f5,#e1f3f6,#e4f4f2,#e5f5ee,#e5f5f0,#ebf7e5,#e1f4f6,#e9f6e8,#eef8df,#ebf7e4)"></i><i style="top:100px;background:linear-gradient(90deg,#e2f4f4,#d5eef5,#ebf7e3,#eaf7e6,#e5f5ef,#edf8df,#e6f5ee,#e8f6e9,#e3f4f3,#e9f6e8,#e5f5ee,#e5f5ef,#ecf8e1,#e8f6e8,#e0f3f7,#ebf7e4,#ebf7e3,#e4f4f1,#e6f5ee,#e8f6ea,#e6f5ec,#e8f6e9)"></i><i style="top:101px;background:linear-gradient(90deg,#ecf8e1,#e7f6eb,#f3fad5,#e6f5ed,#e7f6eb,#f2fad6,#f4fbd2,#e9f7e7,#e8f6e8,#e4f5f0,#eff9dd,#eaf7e5,#e5f5ee,#ebf7e3,#f0f9db,#edf8e1,#f4fbd4,#eff9dd,#ebf7e3,#e9f7e7,#ecf8e2,#eff9dc)"></i><i style="top:102px;background:linear-gradient(90deg,#eaf7e5,#ebf7e3,#e7f6ea,#eaf7e6,#ecf8e2,#e6f5ee,#e0f3f7,#eef9dd,#e9f7e7,#e4f5f0,#e8f6ea,#e5f5ee,#ddf2f7,#e6f5ee,#e0f3f8,#e7f6ea,#e6f5ed,#ecf8e2,#e6f5ed,#e8f6e9,#e5f5ef,#e5f5ef)"></i><i style="top:103px;background:linear-gradient(90deg,#d2ecf4,#e3f4f2,#dff2f8,#d9eff6,#dff2f8,#daf0f6,#d8eff6,#dff3f8,#e4f5f1,#dbf1f7,#d2ecf4,#d8eff6,#e7f6ec,#d7eff5,#e4f5f1,#dbf1f7,#e2f4f5,#dcf1f7,#d1ecf4,#daf0f6,#e8f6e9,#dcf1f7)"></i><i style="top:104px;background:linear-gradient(90deg,#e8f6ea,#e4f4f1,#e5f5ef,#e7f6ec,#e7f6ea,#f0f9db,#e5f5ee,#e4f5f0,#e2f4f4,#dff2f8,#dcf1f7,#e8f6e9,#daf0f6,#ecf8e2,#e9f7e7,#e4f5f1,#e0f3f8,#e5f5ee,#e5f5ee,#ebf7e5,#e2f4f5,#e4f4f2)"></i><i style="top:105px;background:linear-gradient(90deg,#e2f4f4,#e1f3f6,#dff2f8,#d6eef5,#d7eef5,#def2f8,#e1f3f6,#e7f6eb,#edf8e0,#eaf7e5,#e4f5f1,#ebf7e4,#e2f4f5,#e0f3f8,#edf8e0,#dbf1f7,#e0f3f8,#e1f3f6,#e9f6e8,#dff2f8,#e6f5ed,#e0f3f7)"></i><i style="top:106px;background:linear-gradient(90deg,#d9eff6,#e3f4f3,#e2f4f4,#d9f0f6,#dcf1f7,#dcf1f7,#e6f5ed,#e4f4f1,#e3f4f3,#e4f4f1,#dff2f8,#e4f4f1,#def2f7,#d8eff6,#ddf2f7,#e2f4f3,#e2f4f5,#e6f5ec,#d5eef5,#e0f3f7,#e3f4f2,#dbf0f7)"></i><i style="top:107px;background:linear-gradient(90deg,#e6f5ec,#e3f4f2,#e0f3f8,#eaf7e5,#def2f7,#eaf7e6,#e3f4f2,#e1f3f7,#e1f3f6,#e2f4f5,#e1f3f6,#e6f5ec,#daf0f6,#ebf7e4,#e9f7e7,#ecf8e3,#e1f3f7,#d6eef5,#e2f4f4,#e4f5f0,#e7f6ec,#e3f4f3)"></i><i style="top:108px;background:linear-gradient(90deg,#e0f3f8,#e1f3f6,#d4edf5,#e9f6e8,#d8eff6,#e2f4f5,#e5f5ee,#dbf0f6,#e0f3f7,#e8f6e9,#dff2f8,#e5f5ee,#e2f4f5,#e2f4f5,#e4f4f1,#dff2f8,#dff3f8,#e5f5ef,#e2f4f5,#e3f4f3,#d7eff6,#e1f3f7)"></i><i style="top:109px;background:linear-gradient(90deg,#e1f3f6,#e0f3f8,#dbf1f7,#d4edf5,#d4edf5,#dcf1f7,#e2f4f4,#d9eff6,#e2f4f5,#d6eef5,#e1f3f6,#d1ebf4,#daf0f6,#d0ebf3,#def2f7,#ddf2f7,#d1ecf4,#d3ecf4,#d5eef5,#cdeaf3,#d1ecf4,#d2ecf4)"></i><i style="top:110px;background:linear-gradient(90deg,#def2f7,#e2f4f5,#d4edf5,#d6eef5,#daf0f6,#d4edf5,#d6eef5,#dff2f8,#daf0f6,#d7eff6,#d3edf4,#e2f4f4,#d3edf4,#d9f0f6,#d0ebf3,#d3edf4,#d9eff6,#d5eef5,#dcf1f7,#d9eff6,#cdeaf3,#c6e6f1)"></i><i style="top:111px;background:linear-gradient(90deg,#e4f4f1,#daf0f6,#e6f5ed,#dff2f8,#d9eff6,#e2f4f5,#ddf1f7,#dff2f8,#d7eff6,#e2f4f4,#e4f5f0,#daf0f6,#e7f6ea,#daf0f6,#e0f3f7,#d2ecf4,#cfebf3,#e9f6e8,#e6f5ed,#e5f5f0,#d1ecf4,#e0f3f8)"></i><i style="top:112px;background:linear-gradient(90deg,#e4f5f0,#e3f4f3,#e4f4f1,#ddf1f7,#e2f4f5,#dbf1f7,#e1f3f7,#e4f5f1,#def2f7,#e1f3f6,#e0f3f7,#e2f4f4,#e7f6ec,#e3f4f2,#e4f5f0,#d9eff6,#e1f3f7,#e6f5ed,#ddf2f7,#e0f3f7,#dcf1f7,#e9f6e8)"></i><i style="top:113px;background:linear-gradient(90deg,#e1f3f7,#dff3f8,#e6f5ee,#e8f6e9,#e5f5ef,#e7f6ea,#e4f4f1,#e2f4f4,#e1f3f7,#e0f3f7,#e0f3f8,#e5f5f0,#e2f4f4,#e3f4f2,#e6f5ee,#e3f4f3,#daf0f6,#dff2f8,#dcf1f7,#d6eef5,#e3f4f2,#dbf1f7)"></i><i style="top:114px;background:linear-gradient(90deg,#d2ecf4,#d4edf4,#e2f4f5,#daf0f6,#e2f4f4,#dbf1f7,#d9eff6,#e0f3f7,#e0f3f7,#ddf2f7,#d4edf5,#d8eff6,#d3ecf4,#daf0f6,#ddf1f7,#e5f5f0,#e4f5f0,#e1f3f6,#e2f4f4,#def2f7,#ebf7e5,#e5f5ef)"></i><i style="top:115px;background:linear-gradient(90deg,#e9f6e8,#ddf2f7,#ddf2f7,#e1f4f5,#dcf1f7,#ddf1f7,#d2ecf4,#e1f3f6,#dbf1f7,#e0f3f7,#d8eff6,#cce9f2,#def2f7,#e2f4f4,#d0ebf3,#d2ecf4,#d8eff6,#d8eff6,#cde9f2,#e5f5ef,#e1f3f6,#d5eef5)"></i><i style="top:116px;background:linear-gradient(90deg,#d1ecf4,#e1f4f5,#e9f6e8,#e4f4f1,#e5f5ef,#d8eff6,#e1f3f7,#d4edf4,#e9f6e8,#e2f4f4,#cfebf3,#d1ecf4,#e2f4f4,#e0f3f7,#ddf2f7,#e3f4f3,#e9f6e7,#e1f4f5,#d1ecf4,#def2f7,#d5eef5,#d9f0f6)"></i><i style="top:117px;background:linear-gradient(90deg,#dbf1f7,#d7eff5,#d0ebf3,#d8eff6,#d2ecf4,#ddf1f7,#d7eef5,#dcf1f7,#d6eef5,#def2f8,#d7eff6,#d8eff6,#d4edf5,#daf0f6,#cae8f2,#e8f6e9,#d3edf4,#d9f0f6,#d5edf5,#d5edf5,#dcf1f7,#d4edf5)"></i><i style="top:118px;background:linear-gradient(90deg,#d9eff6,#d1ecf4,#d5edf5,#d3ecf4,#e6f5ed,#d1ecf4,#d3edf4,#ddf2f7,#e4f5f0,#ceeaf3,#d0ebf3,#ddf1f7,#dff2f8,#d1ebf4,#ceeaf3,#d4edf5,#e1f3f6,#dcf1f7,#e1f3f6,#dbf1f7,#dcf1f7,#e0f3f7)"></i><i style="top:119px;background:linear-gradient(90deg,#d6eef5,#d8eff6,#cfebf3,#d2ecf4,#daf0f6,#d5edf5,#d1ebf4,#dcf1f7,#dbf0f7,#d6eef5,#d0ebf4,#def2f7,#e6f5ed,#d0ebf3,#cae8f2,#d0ebf4,#cfebf3,#cce9f2,#cdeaf3,#ddf2f7,#ddf2f7,#e1f4f6)"></i><i style="top:120px;background:linear-gradient(90deg,#d9eff6,#cfebf3,#dbf1f7,#ceeaf3,#d0ebf3,#c9e8f2,#dcf1f7,#dbf0f7,#cfebf3,#d0ebf4,#d3edf4,#d4edf5,#d9f0f6,#d3edf4,#d6eef5,#c7e7f1,#d0ebf4,#c4e5f0,#e0f3f7,#def2f7,#d8eff6,#dbf1f7)"></i><i style="top:121px;background:linear-gradient(90deg,#dff3f8,#d7eef5,#c3e5f0,#ceeaf3,#bce2ee,#c9e8f1,#c5e6f0,#cfebf3,#d2ecf4,#c8e7f1,#cdeaf3,#d1ecf4,#ceeaf3,#ceeaf3,#bce1ee,#cce9f2,#d5eef5,#d1ecf4,#c3e5f0,#cdeaf3,#d1ecf4,#c7e7f1)"></i><i style="top:122px;background:linear-gradient(90deg,#d4edf5,#c8e7f1,#cce9f2,#ceeaf3,#e0f3f8,#cce9f2,#cae8f2,#d4edf5,#cbe9f2,#d0ebf3,#bde2ee,#d1ecf4,#ceeaf3,#c4e5f0,#d9f0f6,#cde9f2,#cdeaf3,#c4e5f0,#c2e4ef,#cae8f2,#c2e4f0,#d2ecf4)"></i><i style="top:123px;background:linear-gradient(90deg,#d0ebf4,#c4e5f0,#bde2ee,#c6e6f1,#c1e4ef,#cbe9f2,#cbe9f2,#c6e6f1,#cae8f2,#d2ecf4,#d7eff5,#c5e6f0,#cfebf3,#c7e7f1,#c1e4ef,#d4edf4,#cce9f2,#cae8f2,#cce9f2,#c8e7f1,#c1e4ef,#d7eff6)"></i><i style="top:124px;background:linear-gradient(90deg,#cdeaf3,#c8e7f1,#ceeaf3,#d1ebf4,#c5e6f0,#cbe9f2,#c4e5f0,#cbe9f2,#c4e5f0,#daf0f6,#c3e5f0,#cae8f2,#cae8f2,#c4e5f0,#ceeaf3,#c6e6f1,#c3e5f0,#c6e6f1,#c0e3ef,#d0ebf3,#cbe9f2,#ceeaf3)"></i><i style="top:125px;background:linear-gradient(90deg,#b3ddeb,#c0e3ef,#b7dfec,#bee2ee,#c8e7f1,#bfe3ef,#bce1ee,#c6e6f1,#c5e6f0,#cce9f2,#afdbea,#c0e3ef,#bae0ed,#b7dfec,#bee3ee,#b4deec,#acd9e9,#b6dfec,#bbe1ee,#cce9f2,#b8dfed,#b4ddec)"></i><i style="top:126px;background:linear-gradient(90deg,#a2d2e6,#afdbea,#b0dcea,#b3ddeb,#a7d5e7,#acdae9,#a0d0e5,#b4ddeb,#a5d5e7,#9ccde4,#bbe1ee,#b6deec,#b5deec,#b5deec,#aad8e9,#bbe1ed,#aad8e9,#c1e4ef,#b4ddec,#a3d3e6,#b9e0ed,#c2e4ef)"></i><i style="top:127px;background:linear-gradient(90deg,#a9d8e8,#b4ddeb,#aad8e8,#a6d5e7,#96c8e2,#b5deec,#a8d6e8,#aedbea,#a2d2e6,#a4d3e7,#b4deec,#a8d7e8,#a8d7e8,#a1d1e6,#addaea,#b1dceb,#a8d6e8,#aad8e9,#a1d1e6,#b6dfec,#a6d5e7,#aad8e9)"></i></div>
<div class="cb" style="left:163.2px;top:53px;width:4.4px;height:257px;background:linear-gradient(180deg,#a50026 0.0%,#d73027 10.0%,#f46d43 20.0%,#fdae61 30.0%,#fee090 40.0%,#ffffbf 50.0%,#e0f3f8 60.0%,#abd9e9 70.0%,#74add6 80.0%,#568cc6 85.0%,#4570bc 90.0%,#3550a8 95.0%,#2e3a98 100.0%)"></div>
<div class="hm" style="left:500px;top:53px;width:43px;height:127px"><i style="top:0px;background:linear-gradient(90deg,#3f64b4,#3959ae,#4167b7,#4269b8,#436cba,#3d60b2,#97c9e2,#fee091,#d93529,#bd1726,#b91426,#b91326,#b91326,#b91326,#ba1526,#c72027,#f88b51,#d7eff6,#5386c4,#3c5db0,#4168b7,#3c5eb1)"></i><i style="top:1px;background:linear-gradient(90deg,#4167b6,#446fbb,#3e62b3,#4168b7,#7ab2d8,#fffebd,#f0643f,#bf1927,#ba1426,#b91326,#b91326,#b91326,#b91326,#c41d27,#ba1426,#c51f27,#f67d4a,#e0f3f8,#5489c5,#426ab8,#4066b6,#4168b7)"></i><i style="top:2px;background:linear-gradient(90deg,#4269b8,#3c5fb1,#4066b5,#4570bc,#69a1d0,#fafdc9,#e95638,#c01a27,#ba1426,#b91326,#bf1927,#b91326,#b91326,#b91326,#bb1526,#cc2527,#fdac60,#bde2ee,#4d7dc1,#4570bc,#4570bc,#3f64b5)"></i><i style="top:3px;background:linear-gradient(90deg,#4065b5,#426ab8,#cbe9f2,#f88b51,#dd3d2d,#d83228,#e95739,#c92227,#ea5739,#b91326,#b91326,#b91326,#ba1426,#c31d27,#f46f44,#e6f5ed,#5f96cb,#4065b5,#4168b7,#3f65b5,#4169b7,#436dba)"></i><i style="top:4px;background:linear-gradient(90deg,#3f64b4,#436cb9,#cbe9f2,#f88b51,#dd3d2d,#d83228,#d73027,#fb9f5a,#ca2427,#bb1526,#b91326,#bc1626,#d22b27,#fdc274,#b0dceb,#4976be,#426ab8,#3e62b3,#3f64b5,#3e63b4,#4269b8,#3d60b2)"></i><i style="top:5px;background:linear-gradient(90deg,#3f63b4,#4168b7,#3e63b4,#3f65b5,#4a78bf,#9fd0e5,#feeea5,#fa9757,#bc1626,#b91326,#b91326,#d83328,#ba1426,#be1827,#ed5f3d,#fff2ab,#7eb5da,#4875be,#4066b6,#4169b7,#3b5db0,#3d60b2)"></i><i style="top:6px;background:linear-gradient(90deg,#446ebb,#3f64b5,#4672bd,#4c7bc0,#87bcdc,#fff5af,#e04330,#c82227,#ba1426,#b91326,#b91326,#b91326,#b91326,#ba1426,#c01a27,#e65036,#fffdbb,#7ab2d8,#4671bc,#436bb9,#446fbb,#446fbb)"></i><i style="top:7px;background:linear-gradient(90deg,#4671bc,#4269b8,#426bb9,#4774bd,#7bb3d8,#ebf7e3,#fdaf62,#f7804c,#f67b49,#f67a49,#f67a49,#f67a49,#f77f4b,#fdad60,#fdbc6f,#f1f9d9,#81b7da,#4672bd,#436cb9,#436cb9,#436bb9,#446fbb)"></i><i style="top:8px;background:linear-gradient(90deg,#3856ac,#3c5fb1,#3d60b2,#4874be,#c7e7f1,#fca55d,#cb2427,#bb1526,#b91326,#b91326,#b91326,#b91326,#b91326,#eb593a,#f57547,#f57547,#fed687,#9dcee4,#4570bc,#3b5db0,#3551a9,#3a5baf)"></i><i style="top:9px;background:linear-gradient(90deg,#3d60b2,#3856ac,#3d60b2,#3c5fb1,#3b5caf,#6299cc,#f0f9db,#ed5e3c,#c11b27,#ba1426,#b91326,#b91326,#b91326,#bb1526,#c82227,#f99354,#cdeaf3,#4b7ac0,#3a59ae,#3b5caf,#3958ad,#4066b6)"></i><i style="top:10px;background:linear-gradient(90deg,#4167b7,#3e62b3,#4168b7,#3d60b2,#4065b5,#4b7ac0,#c1e4ef,#fdaf62,#cd2627,#bb1526,#b91326,#b91326,#bb1526,#ce2727,#fdb568,#bae1ed,#4e7ec1,#4269b8,#436bb9,#3d61b2,#456fbc,#3e62b3)"></i><i style="top:11px;background:linear-gradient(90deg,#436cb9,#3f64b5,#426ab8,#4672bd,#4b79bf,#8fc3df,#feea9e,#dc3a2b,#bd1726,#b91426,#d83228,#b91326,#ba1426,#c51e27,#e44c34,#fee192,#f7814c,#e34932,#d83228,#d12a27,#ce2827,#ce2727)"></i><i style="top:12px;background:linear-gradient(90deg,#4570bc,#4672bd,#3c5eb1,#4672bd,#4e7fc1,#a4d3e7,#feda8b,#d83228,#bc1726,#b91426,#b91326,#bb1526,#f57547,#db382b,#f88b51,#fee192,#f7814c,#e34932,#d83228,#d12a27,#ce2827,#ce2727)"></i><i style="top:13px;background:linear-gradient(90deg,#4168b7,#4065b5,#446fbb,#4874be,#436cba,#4b79bf,#9ccde4,#fff0a8,#d83228,#bc1626,#b91426,#cb2427,#e65136,#f99154,#f67949,#f16740,#fff8b4,#7db4d9,#4977be,#4168b7,#4570bc,#4773bd)"></i><i style="top:14px;background:linear-gradient(90deg,#4571bc,#4570bc,#426ab8,#446fbb,#426ab9,#446ebb,#558ac5,#cdeaf3,#f88d52,#c72127,#ba1526,#b91326,#c11b27,#ba1426,#c01a27,#ea5839,#fafdc8,#6fa8d4,#4671bc,#4269b8,#4773bd,#3e63b4)"></i><i style="top:15px;background:linear-gradient(90deg,#4671bc,#4168b7,#446dba,#3f64b4,#446ebb,#558bc6,#b8e0ed,#fec97a,#f26841,#df422f,#fba15b,#dd3c2d,#b91326,#bb1526,#cb2427,#fca65e,#c5e6f0,#5082c3,#4773bd,#436dba,#4671bc,#426ab8)"></i><i style="top:16px;background:linear-gradient(90deg,#3d61b2,#4065b5,#3e62b3,#3c5eb1,#3e63b4,#436cba,#6fa7d3,#eaf7e7,#fdb063,#f7804c,#f67b49,#f67a49,#f67c4a,#fdae61,#feda8a,#b9e0ed,#5183c3,#3f65b5,#3e63b4,#3f64b5,#4065b5,#3e62b3)"></i><i style="top:17px;background:linear-gradient(90deg,#3d5fb2,#3a59ae,#3f63b4,#4066b5,#4065b5,#3e62b3,#4672bd,#8bc0de,#fee89c,#f26841,#da362a,#b91426,#b91426,#be1826,#de3f2e,#feeda4,#7cb3d9,#456fbb,#3c5eb1,#3e62b3,#3c5db0,#3f63b4)"></i><i style="top:18px;background:linear-gradient(90deg,#426bb9,#3d5fb2,#3d5fb2,#3d60b2,#3e62b3,#3f64b4,#4065b5,#7bb3d9,#fff3ad,#e04330,#be1827,#ba1426,#bf1927,#e34932,#fffcba,#76afd7,#3f65b5,#3c5db0,#3d60b2,#3d60b2,#3b5db0,#3d5fb2)"></i><i style="top:19px;background:linear-gradient(90deg,#3f63b4,#3d5fb2,#3c5db0,#4168b7,#3f63b4,#3f65b5,#68a0d0,#f2fad7,#ec5c3b,#c11b27,#ba1426,#bc1626,#d22b27,#fec779,#a1d1e6,#8abfde,#8abfde,#8abfde,#8abfde,#8abfde,#8abfde,#8abfde)"></i><i style="top:20px;background:linear-gradient(90deg,#3f64b4,#3e63b4,#3c5eb1,#3d60b2,#3f65b5,#4875be,#cae8f2,#fee79b,#ca2327,#bb1526,#b91426,#bc1626,#d62f27,#fed484,#9ccde4,#4671bc,#4168b7,#3c5fb1,#3f63b4,#3f64b5,#3d5fb2,#3e62b3)"></i><i style="top:21px;background:linear-gradient(90deg,#3d5fb1,#3a5aae,#4168b7,#3f64b4,#3e62b3,#3e62b4,#4f81c2,#d3edf4,#f98f53,#c72127,#ba1526,#bb1526,#cd2627,#fdba6c,#b0dbea,#5489c5,#4f81c2,#649bcd,#6ea6d3,#659dce,#548ac5,#4d7dc1)"></i><i style="top:22px;background:linear-gradient(90deg,#3f65b5,#3f64b4,#3f63b4,#4065b5,#4066b6,#3c5fb1,#4167b7,#4d7dc1,#bfe3ef,#fdae61,#cc2527,#bb1526,#d93529,#d62f27,#fba25b,#c8e7f1,#4e7ec1,#3f64b5,#4067b6,#3e62b3,#3e62b3,#3958ad)"></i><i style="top:23px;background:linear-gradient(90deg,#4269b8,#3c5db0,#4269b8,#4168b7,#426ab8,#3e61b3,#4672bd,#84badc,#fff2ac,#e24731,#be1826,#ba1426,#bf1927,#e44c34,#fffbb9,#76afd7,#446dba,#4269b8,#3f65b5,#4269b8,#4169b8,#3d61b2)"></i><i style="top:24px;background:linear-gradient(90deg,#4066b5,#4672bd,#3d60b2,#4066b6,#3e63b4,#3e63b4,#3f63b4,#4571bc,#98c9e2,#fee394,#e44c34,#bd1726,#be1827,#ee603d,#f7834d,#fff8b4,#7db4d9,#4168b7,#426ab8,#3b5baf,#4067b6,#4168b7)"></i><i style="top:25px;background:linear-gradient(90deg,#426ab8,#3c5eb1,#4066b6,#4066b5,#3a5aae,#426ab8,#4672bd,#a4d3e7,#fed687,#d73027,#bc1626,#b91426,#bd1726,#db382b,#fee89c,#8cc0de,#446ebb,#4168b7,#4169b7,#3f64b4,#3e63b4,#3f64b5)"></i><i style="top:26px;background:linear-gradient(90deg,#426ab8,#426bb9,#436cba,#4168b7,#4065b5,#3e62b3,#4b7ac0,#a3d2e6,#feeea5,#fdb366,#f67c4a,#f67b49,#f7834d,#fdc072,#daf0f6,#5b92c9,#3f64b5,#3d60b2,#3c5eb1,#436cb9,#3c5eb0,#4168b7)"></i><i style="top:27px;background:linear-gradient(90deg,#4169b7,#456fbb,#3f65b5,#4167b7,#3d60b2,#4269b8,#426ab8,#5e95ca,#ecf8e2,#f46d43,#c21c27,#ba1426,#d52e27,#ec5c3b,#fedc8c,#a6d5e7,#4874bd,#3f65b5,#446ebb,#4671bc,#4065b5,#3d61b3)"></i><i style="top:28px;background:linear-gradient(90deg,#3d60b2,#4066b6,#4066b6,#3e63b4,#4773bd,#568bc6,#77afd7,#88bddd,#eff9dd,#f47044,#c41d27,#bd1726,#da362a,#fee89c,#8bc0de,#4671bc,#3e61b3,#4066b6,#3b5caf,#3e62b3,#4066b6,#4168b7)"></i><i style="top:29px;background:linear-gradient(90deg,#3d5fb2,#4168b7,#4067b6,#436bb9,#4065b5,#3e62b4,#3d5fb2,#4774bd,#92c5e1,#fff3ad,#f99053,#f67b4a,#fed384,#c0e3ef,#5184c3,#3f63b4,#446dba,#4066b6,#3f64b4,#4066b5,#436cb9,#3d61b3)"></i><i style="top:30px;background:linear-gradient(90deg,#3959ad,#3958ad,#4065b5,#3d60b2,#3c5eb1,#3a5aae,#3d60b2,#4774bd,#aedbea,#fee495,#f7814c,#fed585,#b4deec,#5083c3,#3e62b3,#3958ad,#3754ab,#3958ad,#3957ad,#3959ad,#3754ab,#3957ad)"></i><i style="top:31px;background:linear-gradient(90deg,#3a5aae,#3c5eb1,#3959ae,#4066b5,#3754aa,#4169b7,#3b5caf,#5388c5,#d1ecf4,#fff6b1,#fff4ae,#fff6b1,#a5d4e7,#4773bd,#3e62b3,#3e61b3,#3e63b4,#3856ac,#3d60b2,#3652aa,#3b5cb0,#3856ac)"></i><i style="top:32px;background:linear-gradient(90deg,#3d60b2,#3959ad,#3c5eb1,#3b5db0,#3754aa,#3b5cb0,#3c5db0,#3e63b4,#7cb3d9,#f9fdcb,#fa9857,#fee192,#b4ddec,#4e7ec1,#3957ad,#7fb6da,#7fb6da,#7fb6da,#7fb6da,#7fb6da,#7fb6da,#7fb6da)"></i><i style="top:33px;background:linear-gradient(90deg,#3a5aae,#3755ab,#3754ab,#3b5baf,#3e62b3,#3c5fb1,#3b5baf,#3e61b3,#4b79bf,#abd9e9,#fff1a9,#fee293,#bbe1ee,#4c7bc0,#3b5cb0,#3e62b3,#3b5cb0,#3a59ae,#3a5baf,#3d5fb2,#3a5baf,#3e62b4)"></i><i style="top:34px;background:linear-gradient(90deg,#3755ab,#3b5caf,#3b5caf,#3959ae,#3652a9,#3e61b3,#3e63b4,#3d61b3,#4f80c2,#5c93c9,#69a1d0,#6198cc,#4876be,#4066b6,#3755ab,#3d60b2,#3b5baf,#3652a9,#3b5cb0,#3551a8,#3a5aae,#3b5caf)"></i><i style="top:35px;background:linear-gradient(90deg,#3651a9,#3754aa,#3754ab,#344ba5,#3856ac,#3d5fb2,#3b5caf,#456fbc,#4874be,#649bcd,#71aad4,#5e95ca,#4571bc,#3c5db0,#3b5db0,#3653aa,#3957ac,#3550a8,#3a59ae,#3959ae,#3e61b3,#3a5baf)"></i><i style="top:36px;background:linear-gradient(90deg,#3959ae,#3a5aae,#3958ad,#3958ad,#3c5db0,#3653aa,#3653aa,#3959ae,#446fbb,#4e7ec1,#69a1d0,#558bc5,#5082c3,#436cb9,#3d60b2,#3d60b2,#3957ac,#3653aa,#3b5cb0,#3d60b2,#344ca5,#3a5baf)"></i><i style="top:37px;background:linear-gradient(90deg,#3a5aae,#3958ad,#3856ac,#3a5aae,#3b5caf,#344da6,#3959ad,#3a59ae,#3f64b4,#5285c4,#649bcd,#5c93c9,#4e7fc1,#4671bc,#3a5baf,#3957ac,#344ea7,#3857ac,#3c5db0,#3855ab,#3857ac,#3d61b2)"></i><i style="top:38px;background:linear-gradient(90deg,#3e61b3,#3b5db0,#3a5aae,#3e62b4,#3856ac,#3b5caf,#3f65b5,#446ebb,#4d7dc1,#6fa8d3,#90c3e0,#8abfde,#649cce,#4c7cc0,#4167b7,#3d61b2,#3f64b5,#3d60b2,#3b5cb0,#3d5fb2,#4169b7,#3a5baf)"></i><i style="top:39px;background:linear-gradient(90deg,#3a5aae,#3b5caf,#456fbb,#5387c4,#639acd,#5b91c9,#588fc7,#5184c3,#5f96cb,#78b0d7,#93c6e1,#7eb5d9,#5b91c9,#4875be,#3959ae,#3c5eb1,#4066b6,#3c5eb1,#3f64b4,#3d60b2,#3b5caf,#3d60b2)"></i><i style="top:40px;background:linear-gradient(90deg,#4065b5,#3b5cb0,#426bb9,#3b5caf,#4066b6,#3b5db0,#3e62b3,#4d7ec1,#6ea6d3,#8dc1df,#a4d3e6,#7ab2d8,#588ec7,#4168b7,#3c5eb1,#3e61b3,#3b5baf,#3e63b4,#3855ab,#3e61b3,#3c5db0,#3b5baf)"></i><i style="top:41px;background:linear-gradient(90deg,#3c5fb1,#3e62b3,#3957ad,#3b5caf,#3b5caf,#3d61b2,#3b5db0,#4066b6,#446dba,#568cc6,#85bbdc,#9acbe3,#88bddd,#5e95ca,#4a79bf,#436cb9,#3c5fb1,#3b5cb0,#3a5baf,#4169b8,#3b5baf,#3a59ae)"></i><i style="top:42px;background:linear-gradient(90deg,#436bb9,#4874be,#3f64b4,#4066b6,#4168b7,#426bb9,#4774bd,#4c7bc0,#6198cc,#99cbe3,#dbf1f7,#d7eff5,#a9d7e8,#70a8d4,#4e7fc1,#4570bc,#4269b8,#4066b6,#436bb9,#4269b8,#426ab8,#4167b7)"></i><i style="top:43px;background:linear-gradient(90deg,#436bb9,#436bb9,#3f65b5,#4875be,#4672bd,#4774bd,#436dba,#4774bd,#5489c5,#85bbdc,#b7dfec,#ddf2f7,#bae0ed,#81b8db,#5184c3,#4b7bc0,#4570bc,#436cba,#4773bd,#436cba,#4169b7,#436bb9)"></i><i style="top:44px;background:linear-gradient(90deg,#5387c4,#5e95ca,#5d94ca,#568cc6,#6198cc,#4f80c2,#4b7ac0,#4774bd,#4671bc,#5184c3,#76aed7,#9acce3,#95c7e1,#76afd7,#4d7ec1,#4168b7,#3e63b4,#3e63b4,#3f63b4,#426ab8,#3f65b5,#3d61b2)"></i><i style="top:45px;background:linear-gradient(90deg,#3b5db0,#3c5db0,#3652a9,#3b5baf,#4066b6,#3f64b4,#4067b6,#4e7fc1,#5c93c9,#7db4d9,#a5d5e7,#b3ddeb,#a2d2e6,#69a1d0,#4d7dc1,#436dba,#3c5db0,#3d61b2,#3856ac,#3d60b2,#3755ab,#3c5eb1)"></i><i style="top:46px;background:linear-gradient(90deg,#3a5aae,#3e61b3,#3c5eb1,#3958ad,#3c5fb1,#3c5eb1,#3959ae,#3f65b5,#4672bd,#5489c5,#7bb2d8,#7eb5d9,#72abd5,#4f81c2,#4065b5,#3b5db0,#3e63b4,#3a5aae,#3a5baf,#3a59ae,#3959ad,#3e61b3)"></i><i style="top:47px;background:linear-gradient(90deg,#3b5baf,#3b5cb0,#3b5baf,#3a59ae,#3b5db0,#3e61b3,#3a5aae,#3d60b2,#4773bd,#558bc6,#7db4d9,#83b9db,#5d93ca,#4b79bf,#3e61b3,#3e63b4,#3e61b3,#3856ac,#3959ad,#3b5caf,#3a5aae,#3d60b2)"></i><i style="top:48px;background:linear-gradient(90deg,#3f63b4,#3e63b4,#4169b7,#4168b7,#4065b5,#4066b5,#446ebb,#4269b8,#4d7dc1,#6da6d2,#93c5e1,#a2d2e6,#91c4e0,#659dce,#4977bf,#4066b6,#3e62b3,#4168b7,#3e63b4,#3b5cb0,#4168b7,#4065b5)"></i><i style="top:49px;background:linear-gradient(90deg,#3d60b2,#3f64b4,#3f64b4,#4065b5,#3d5fb2,#436cb9,#3d61b2,#436bb9,#4875be,#588ec7,#8cc0de,#a8d7e8,#98cae2,#71a9d4,#4b7ac0,#4976be,#426bb9,#3d5fb2,#3957ad,#426ab8,#4065b5,#3f64b5)"></i><i style="top:50px;background:linear-gradient(90deg,#3d60b2,#3652a9,#3c5eb1,#3c5db0,#3b5caf,#3d5fb1,#3550a8,#3c5db0,#3c5db0,#4f81c2,#558ac5,#5f95cb,#5c93c9,#4a78bf,#3e62b3,#3a5aae,#3a5aae,#3d60b2,#3753aa,#3754aa,#3754aa,#3856ac)"></i><i style="top:51px;background:linear-gradient(90deg,#3652a9,#344ea7,#3958ad,#3a5baf,#3754ab,#3755ab,#344da6,#3d60b2,#3f63b4,#5083c3,#5c92c9,#6097cb,#5081c2,#3e62b3,#426bb9,#3550a8,#3957ac,#3652a9,#3855ab,#3c5db0,#344ea6,#3856ac)"></i><i style="top:52px;background:linear-gradient(90deg,#3d5fb2,#3958ad,#3958ad,#3b5baf,#426ab8,#3d5fb1,#3958ad,#3e62b3,#436cb9,#5b91c9,#77b0d7,#87bcdd,#6ea6d3,#558ac5,#436bb9,#3d61b2,#3958ad,#3a5aae,#3c5eb1,#3a5aae,#4269b8,#3b5cb0)"></i><i style="top:53px;background:linear-gradient(90deg,#3b5baf,#3958ad,#3d5fb1,#3856ac,#3a5aae,#3c5eb1,#3a5aae,#3e62b3,#4875be,#4f81c2,#78b0d7,#7db4d9,#6aa2d1,#5184c3,#4570bc,#3b5caf,#3959ae,#3a5aae,#3958ad,#3c5db0,#3958ad,#3a5baf)"></i><i style="top:54px;background:linear-gradient(90deg,#3d5fb2,#3d60b2,#3a5aae,#3e62b3,#3a5baf,#3f64b5,#3e61b3,#3e61b3,#4977be,#558ac5,#81b7da,#90c4e0,#7fb6da,#5d94ca,#4774bd,#3f64b4,#3d60b2,#3d61b2,#3d60b2,#3c5eb1,#3a5aae,#3652a9)"></i><i style="top:55px;background:linear-gradient(90deg,#3d60b2,#3b5db0,#426bb9,#3f64b4,#4875be,#4f81c2,#5489c5,#5d94ca,#69a1d0,#84badb,#9acce3,#9ecfe5,#7fb6da,#5a90c8,#4774bd,#3f63b4,#4167b7,#3855ab,#436cb9,#3c5eb1,#3a59ae,#3856ac)"></i><i style="top:56px;background:linear-gradient(90deg,#3b5db0,#3d60b2,#3e61b3,#3a5aae,#4066b6,#3c5eb1,#3d5fb1,#3c5eb1,#436cb9,#5082c2,#689fcf,#87bcdd,#7db4d9,#588ec7,#4773bd,#4167b7,#3e62b3,#3f63b4,#3a5aae,#3b5cb0,#3c5eb1,#3d61b3)"></i><i style="top:57px;background:linear-gradient(90deg,#4167b7,#3f63b4,#3c5eb0,#3b5db0,#3958ad,#3b5db0,#3b5db0,#3e62b3,#436bb9,#5489c5,#74add6,#7eb5d9,#72abd5,#5083c3,#4067b6,#3d60b2,#3e63b4,#3958ad,#3753aa,#3b5db0,#436dba,#3a5aaf)"></i><i style="top:58px;background:linear-gradient(90deg,#3b5baf,#3f65b5,#3a5aaf,#3959ae,#3c5eb1,#3f63b4,#3e63b4,#3c5eb1,#436dba,#5082c3,#6ea7d3,#8bbfde,#8abfde,#77afd7,#6ca4d2,#558ac5,#5285c3,#4c7bc0,#4671bc,#3d61b3,#3b5baf,#3753aa)"></i><i style="top:59px;background:linear-gradient(90deg,#3959ad,#3b5caf,#344da6,#3959ad,#3c5eb1,#3755ab,#3e62b3,#3856ac,#4874be,#5285c4,#6aa2d0,#73acd5,#5d94ca,#4772bd,#3b5db0,#3a5aae,#3d60b2,#3b5db0,#3e61b3,#3957ad,#3959ad,#3959ad)"></i><i style="top:60px;background:linear-gradient(90deg,#3755ab,#3755ab,#3a59ae,#3a5aae,#3855ab,#3b5caf,#3653aa,#3d61b2,#426ab8,#5387c4,#5b92c9,#578dc6,#4f80c2,#3c5fb1,#3754aa,#3a59ae,#3754ab,#3753aa,#3755ab,#3d61b2,#3550a8,#3754ab)"></i><i style="top:61px;background:linear-gradient(90deg,#3753aa,#3f63b4,#3855ab,#3855ab,#3652a9,#3753aa,#3a5baf,#3b5baf,#436cb9,#5184c3,#5c93c9,#568cc6,#4773bd,#3d61b2,#3755ab,#3b5cb0,#3856ac,#3754aa,#3857ac,#3855ab,#344ea7,#3755ab)"></i><i style="top:62px;background:linear-gradient(90deg,#344da6,#3755ab,#344da6,#3b5caf,#3652a9,#3753aa,#344ca5,#3a59ae,#3e62b3,#3f64b5,#4a77bf,#4a78bf,#426ab8,#3f64b5,#3c5fb1,#344da6,#3855ab,#354fa7,#3957ac,#3247a2,#354ea7,#3856ac)"></i><i style="top:63px;background:linear-gradient(90deg,#354fa7,#334ba4,#3551a8,#3652a9,#344ea7,#344ca5,#3755ab,#344da6,#3959ae,#3d61b2,#436bb9,#5083c3,#4977be,#4067b6,#3550a8,#3551a9,#3652a9,#344da6,#3958ad,#3349a3,#3753aa,#3349a3)"></i><i style="top:64px;background:linear-gradient(90deg,#3754aa,#3b5caf,#3653aa,#3754ab,#3754ab,#3b5cb0,#344da6,#3b5baf,#3c5db0,#426ab8,#5082c3,#639acd,#5d94ca,#4f81c2,#3e61b3,#3550a8,#3753aa,#3755ab,#3753aa,#3b5caf,#3e61b3,#3958ad)"></i><i style="top:65px;background:linear-gradient(90deg,#3959ad,#3856ac,#3b5caf,#3651a9,#3a5aae,#3551a9,#3958ad,#3b5db0,#3f64b4,#4c7cc0,#568bc6,#6299cc,#4f80c2,#4168b7,#3b5caf,#3857ac,#3651a9,#3a5aae,#3755ab,#3959ad,#354ea7,#354fa7)"></i><i style="top:66px;background:linear-gradient(90deg,#3c5eb1,#354fa7,#3755ab,#3551a8,#3754aa,#344da6,#3e62b3,#426ab8,#4d7dc1,#70a9d4,#7cb3d9,#76afd7,#5b91c9,#4e7ec1,#4066b6,#3a5aae,#354fa8,#354fa8,#3755ab,#3653aa,#334ba4,#354fa7)"></i><i style="top:67px;background:linear-gradient(90deg,#344ea6,#3754ab,#334aa4,#344ea6,#3550a8,#3957ac,#3957ac,#3652a9,#3e61b3,#4876be,#4d7dc1,#5286c4,#4b7bc0,#4168b7,#3754aa,#3651a9,#354fa7,#3550a8,#3651a9,#3856ac,#3653aa,#354ea7)"></i><i style="top:68px;background:linear-gradient(90deg,#3856ac,#3755ab,#3c5eb1,#3855ab,#3e62b3,#3a5baf,#3a5aae,#3e63b4,#3e62b3,#4875be,#5f96cb,#72abd5,#6198cc,#568cc6,#436dba,#3958ad,#3a5aae,#3c5fb1,#3b5baf,#3c5eb1,#4066b6,#3c5fb1)"></i><i style="top:69px;background:linear-gradient(90deg,#3a5aaf,#3a59ae,#3a5aae,#3f65b5,#3755ab,#3959ae,#3958ad,#3a5aae,#4571bc,#4f80c2,#6ba3d1,#689fcf,#639bcd,#4f80c2,#3d5fb1,#3b5cb0,#3a5aae,#3c5db0,#3754aa,#3b5db0,#3c5eb1,#3957ac)"></i><i style="top:70px;background:linear-gradient(90deg,#3551a8,#3a59ae,#354fa8,#3b5baf,#344ea6,#3857ac,#3a5aae,#3d60b2,#3f64b4,#4977be,#5285c4,#5a90c8,#4b7ac0,#3f64b4,#3958ad,#3957ad,#3855ab,#3b5baf,#344ca5,#3a5aae,#3652aa,#3755ab)"></i><i style="top:71px;background:linear-gradient(90deg,#3653aa,#344ea6,#3652a9,#3652aa,#3855ab,#3550a8,#344da6,#3b5caf,#426ab8,#4269b8,#5286c4,#5b91c8,#4b7ac0,#3f63b4,#3b5cb0,#3855ab,#3652a9,#3c5eb0,#3b5db0,#3958ad,#3755ab,#3753aa)"></i><i style="top:72px;background:linear-gradient(90deg,#3857ac,#3857ac,#3a5aae,#3a59ae,#3b5caf,#4168b7,#3959ad,#3d61b3,#4977be,#5184c3,#6aa2d1,#5a90c8,#4875be,#4065b5,#4066b6,#436dba,#4a78bf,#4e7ec1,#4f80c2,#5387c4,#4e7fc1,#4f81c2)"></i><i style="top:73px;background:linear-gradient(90deg,#3754ab,#3857ac,#3e62b4,#3a5baf,#3e61b3,#3b5baf,#3d60b2,#3c5eb1,#4773bd,#558ac5,#649cce,#6097cb,#5082c3,#4169b8,#3e63b4,#3c5db0,#3856ac,#3c5eb1,#3857ac,#3e63b4,#3c5eb1,#3e62b3)"></i><i style="top:74px;background:linear-gradient(90deg,#3550a8,#334aa4,#3248a2,#344da6,#3550a8,#354fa7,#334ba4,#3653aa,#3652a9,#3e62b3,#3f64b4,#436cb9,#4067b6,#3652aa,#354fa7,#3550a8,#3550a8,#354fa7,#344da6,#3348a2,#344ea6,#3349a3)"></i><i style="top:75px;background:linear-gradient(90deg,#334ba4,#344ba5,#344ea6,#334ba4,#344ea6,#344ea7,#344ba5,#3a5aae,#3754ab,#3d61b3,#4169b8,#4067b6,#3e61b3,#3a5baf,#354fa7,#334ba4,#354fa8,#3246a1,#344ea7,#344da6,#354fa7,#3348a2)"></i><i style="top:76px;background:linear-gradient(90deg,#3d60b2,#3754ab,#3e62b3,#3b5db0,#3856ac,#3550a8,#3a5baf,#3b5db0,#4b7abf,#5387c4,#679fcf,#639acd,#4e7fc1,#426bb9,#3c5db0,#3d5fb1,#3856ac,#3c5eb1,#3755ab,#3b5caf,#3855ab,#3a5aae)"></i><i style="top:77px;background:linear-gradient(90deg,#3a5baf,#3856ac,#3b5db0,#3c5eb1,#3b5baf,#3d60b2,#3c5fb1,#3c5fb1,#426ab8,#4570bc,#568dc6,#5e95ca,#5e95ca,#4b7ac0,#436cba,#3b5caf,#3958ad,#3a5aae,#3a5aae,#3c5db0,#3856ac,#3753aa)"></i><i style="top:78px;background:linear-gradient(90deg,#354fa7,#334ba4,#354fa7,#3958ad,#344da6,#354fa7,#3856ac,#3753aa,#3755ab,#3a5aae,#426ab8,#4875be,#4977be,#4167b7,#3c5eb1,#334ba4,#3754ab,#344ea7,#3550a8,#344ea7,#3753aa,#354fa8)"></i><i style="top:79px;background:linear-gradient(90deg,#344ea6,#3d61b2,#3653aa,#354fa8,#3653aa,#344ca5,#3651a9,#3958ad,#3855ab,#4168b7,#4773bd,#4571bc,#3e61b3,#3a59ae,#3857ac,#3652a9,#3755ab,#3755ab,#344ea6,#3651a9,#354ea7,#3653aa)"></i><i style="top:80px;background:linear-gradient(90deg,#354fa7,#344ea6,#3652a9,#3247a1,#344ea6,#3653aa,#3349a3,#354fa7,#3958ad,#3d61b3,#3f63b4,#446ebb,#3d60b2,#3959ae,#334ba4,#334ba4,#334aa4,#3754ab,#3145a0,#3246a1,#3550a8,#344da6)"></i><i style="top:81px;background:linear-gradient(90deg,#344ca5,#334aa4,#344ca5,#3856ab,#3651a9,#3c5eb1,#4672bd,#4976be,#4876be,#4169b7,#436dba,#4169b8,#3d60b2,#3856ac,#354fa8,#3551a8,#3755ab,#344da6,#3653aa,#344da6,#3248a2,#344da6)"></i><i style="top:82px;background:linear-gradient(90deg,#344ea7,#344ca5,#3651a9,#3753aa,#334ba4,#354fa7,#3348a2,#354fa7,#334ba5,#3652a9,#3b5cb0,#3f65b5,#446dba,#3b5db0,#3754aa,#3551a9,#344ea6,#344ea7,#344da6,#334ba4,#3550a8,#344ea6)"></i><i style="top:83px;background:linear-gradient(90deg,#3349a3,#354fa8,#3652a9,#344ea7,#3754ab,#4169b8,#4c7cc0,#4672bd,#4168b7,#3d60b2,#4570bc,#3d60b2,#3f63b4,#3856ac,#3550a8,#3349a3,#3652a9,#344da6,#334aa4,#334ba5,#344da6,#344ea6)"></i><i style="top:84px;background:linear-gradient(90deg,#3754aa,#3651a9,#344ca5,#3652a9,#3653aa,#3652aa,#3550a8,#3c5eb1,#3b5baf,#446ebb,#4977be,#436cba,#3c5eb0,#3a5baf,#3856ab,#3651a9,#334ba4,#354fa8,#3652a9,#3753aa,#3856ac,#3653aa)"></i><i style="top:85px;background:linear-gradient(90deg,#3957ad,#344ea7,#354fa8,#334aa4,#3550a8,#334ba4,#3652a9,#3a59ae,#3a59ae,#3f65b5,#4671bc,#4f80c2,#4f80c2,#5082c2,#4d7ec1,#3959ad,#3551a8,#344ca5,#3856ac,#354fa8,#344ca5,#344ca5)"></i><i style="top:86px;background:linear-gradient(90deg,#3e61b3,#3d60b2,#3d60b2,#3b5db0,#3a5baf,#3958ad,#3a5aae,#3856ac,#3d60b2,#4269b8,#4774bd,#5183c3,#588ec7,#4e7ec1,#436bb9,#4066b6,#3958ad,#3754ab,#3b5cb0,#3d5fb1,#3e62b3,#3855ab)"></i><i style="top:87px;background:linear-gradient(90deg,#3a59ae,#3b5baf,#3755ab,#3550a8,#3855ab,#3b5cb0,#3652a9,#3d61b2,#3d61b3,#4875be,#5285c3,#5e95ca,#5386c4,#4774bd,#3a59ae,#3d5fb2,#3652a9,#3958ad,#3b5cb0,#3959ae,#3b5cb0,#3a5baf)"></i><i style="top:88px;background:linear-gradient(90deg,#3755ab,#3a5aae,#354fa7,#3959ae,#3959ae,#3957ad,#3551a8,#3959ad,#3a5aaf,#4875be,#4e7fc1,#5388c5,#4e7fc1,#4571bc,#3d60b2,#3b5caf,#3753aa,#3b5db0,#3755ab,#3a5baf,#3958ad,#3b5cb0)"></i><i style="top:89px;background:linear-gradient(90deg,#3652a9,#3c5db0,#3754ab,#3957ac,#3856ab,#3b5baf,#3c5db0,#3b5db0,#3d60b2,#436cb9,#4976be,#578dc6,#4f80c2,#446ebb,#3d60b2,#3856ac,#3a5aae,#3a5baf,#3c5db0,#3857ac,#3754ab,#3856ac)"></i><i style="top:90px;background:linear-gradient(90deg,#334ba4,#3550a8,#354fa7,#354fa8,#344ea7,#344ca5,#344da6,#3550a8,#3d60b2,#436cb9,#456fbb,#3959ad,#3653aa,#354fa7,#344da6,#3349a3,#3856ac,#3753aa,#344da5,#344ca5,#344da6,#3349a3)"></i><i style="top:91px;background:linear-gradient(90deg,#334aa4,#334ba4,#3349a3,#334ba4,#344da6,#354fa7,#3349a3,#344ea7,#3959ae,#3b5cb0,#3e63b4,#3a5baf,#3652a9,#3550a8,#3551a8,#3550a8,#344ea6,#354fa7,#334aa4,#334aa4,#354fa7,#354fa7)"></i><i style="top:92px;background:linear-gradient(90deg,#3754ab,#3753aa,#3753aa,#3652a9,#3855ab,#3857ac,#3652a9,#3652aa,#3958ad,#4168b7,#4773bd,#4a79bf,#436bb9,#436dba,#3653aa,#3b5cb0,#3957ac,#3958ad,#3754ab,#3855ab,#3754ab,#3856ac)"></i><i style="top:93px;background:linear-gradient(90deg,#3a59ae,#3753aa,#3755ab,#3a5aae,#3b5db0,#3651a9,#344da6,#3d5fb2,#3d5fb2,#446fbb,#4a79bf,#4d7ec1,#4977bf,#456fbb,#4a78bf,#4b7ac0,#4b7ac0,#4672bd,#446ebb,#3f64b4,#3c5db0,#344ca5)"></i><i style="top:94px;background:linear-gradient(90deg,#3550a8,#3651a9,#3550a8,#3651a9,#3a5baf,#3856ac,#4066b5,#4a78bf,#4d7dc1,#558bc6,#5e94ca,#5387c4,#4976be,#426ab8,#3958ad,#3857ac,#3550a8,#3550a8,#3753aa,#354fa7,#3958ad,#3550a8)"></i><i style="top:95px;background:linear-gradient(90deg,#354fa8,#3957ac,#344ea7,#3a5aae,#3652a9,#344ea7,#3651a9,#3551a8,#3f65b5,#4065b5,#446fbb,#4874be,#4672bd,#3959ae,#344ea6,#3959ae,#3755ab,#354fa8,#3651a9,#3957ac,#3248a2,#3958ad)"></i><i style="top:96px;background:linear-gradient(90deg,#354fa7,#334ba4,#334aa3,#3246a0,#354fa7,#354fa7,#344ca5,#344ea7,#31429e,#3550a8,#3a5aae,#3b5caf,#3753aa,#3550a8,#334aa4,#3349a3,#3247a1,#344ba5,#3348a2,#3349a3,#3550a8,#334ba4)"></i><i style="top:97px;background:linear-gradient(90deg,#334aa4,#334aa3,#3247a1,#3348a2,#3245a0,#344ca5,#334ba4,#344ca5,#3349a3,#3551a8,#3856ac,#3d5fb2,#344ea7,#3349a3,#3551a9,#344ca5,#3245a0,#3550a8,#3550a8,#354fa7,#31449f,#334ba5)"></i><i style="top:98px;background:linear-gradient(90deg,#344ea6,#3753aa,#344ca5,#334ba4,#344ca5,#334aa4,#344ca5,#3550a8,#3550a8,#3e62b3,#3c5eb1,#3f64b5,#3a5aae,#354fa7,#344da6,#344ca5,#3754ab,#334aa4,#3652a9,#3551a9,#344ca5,#3754aa)"></i><i style="top:99px;background:linear-gradient(90deg,#3349a3,#3551a8,#334ba4,#344ca5,#3753aa,#3551a8,#3348a3,#344ca5,#3755ab,#3b5baf,#4066b6,#3b5cb0,#354fa7,#344da6,#344da6,#354fa7,#3550a8,#3652a9,#344ea6,#344ca5,#3550a8,#344da6)"></i><i style="top:100px;background:linear-gradient(90deg,#334ba4,#344ba5,#3248a2,#344da6,#3550a8,#344ca5,#344ca5,#344ea7,#344da6,#3754ab,#3754ab,#344da6,#3349a3,#344ea7,#334ba4,#3246a1,#3349a3,#344ea6,#31439e,#3245a0,#334ba4,#344ba5)"></i><i style="top:101px;background:linear-gradient(90deg,#30429e,#354fa8,#3248a2,#3245a0,#334ba4,#344da6,#31429e,#3248a2,#344ca5,#334aa4,#3652aa,#344ca5,#344ba5,#334aa4,#334ba4,#3349a3,#3246a1,#3247a2,#30419d,#3550a8,#3247a2,#3247a2)"></i><i style="top:102px;background:linear-gradient(90deg,#344ca5,#3550a8,#3652a9,#3349a3,#3652a9,#3349a3,#3a5aae,#344ca5,#3857ac,#3958ad,#4168b7,#4168b7,#456fbb,#456fbb,#4571bc,#4773bd,#4168b7,#3d5fb2,#3652a9,#3651a9,#344da6,#3651a9)"></i><i style="top:103px;background:linear-gradient(90deg,#3349a3,#344ea7,#3246a1,#3248a2,#3551a9,#3348a2,#344da6,#354ea7,#334ba4,#344ca5,#3f63b4,#3f63b4,#4571bc,#446ebb,#4875be,#4168b7,#3c5db0,#3753aa,#344ea7,#344ca5,#344ca5,#354fa7)"></i><i style="top:104px;background:linear-gradient(90deg,#3247a2,#31449f,#3247a2,#31439e,#3247a1,#31449f,#344da6,#334aa4,#3247a2,#31439f,#3145a0,#354fa7,#3753aa,#3f63b4,#3a5baf,#344da6,#334aa4,#3246a0,#30419d,#31439f,#3349a3,#31449f)"></i><i style="top:105px;background:linear-gradient(90deg,#31429e,#3145a0,#31429e,#3246a1,#3248a2,#3246a1,#3246a1,#3248a2,#334aa4,#3246a1,#3247a2,#344da6,#3246a1,#31439f,#3247a1,#3145a0,#3246a1,#3246a0,#3248a2,#3349a3,#31439e,#30419d)"></i><i style="top:106px;background:linear-gradient(90deg,#354fa8,#354fa7,#3652a9,#354fa7,#3349a3,#3551a9,#334ba4,#344ba5,#3550a8,#3857ac,#3f64b4,#4570bc,#3c5eb1,#3b5baf,#344ea7,#354fa7,#344ba5,#344ca5,#3653aa,#354fa7,#354fa7,#334aa4)"></i><i style="top:107px;background:linear-gradient(90deg,#344ca5,#344ca5,#354fa7,#31449f,#3349a3,#334ba4,#344ca5,#3754ab,#3b5cb0,#3a5aae,#3f65b5,#4773bd,#4c7cc0,#4570bc,#456fbc,#446ebb,#4269b8,#3856ac,#3b5baf,#344da6,#3753aa,#3652a9)"></i><i style="top:108px;background:linear-gradient(90deg,#3755ab,#334ba4,#334ba4,#334aa3,#3248a2,#344da6,#3349a3,#344ea7,#344ca5,#3958ad,#344ea7,#3d60b2,#3b5baf,#3754aa,#344da5,#3755ab,#334ba4,#344ea7,#344ca5,#334ba5,#344da6,#354fa7)"></i><i style="top:109px;background:linear-gradient(90deg,#334ba5,#344ca5,#3348a3,#354fa8,#3348a3,#3349a3,#3550a8,#354fa8,#3755ab,#3653aa,#3856ac,#3f63b4,#3a5baf,#3754aa,#344ca5,#354ea7,#31449f,#344ea7,#3245a0,#354fa8,#3247a1,#354fa7)"></i><i style="top:110px;background:linear-gradient(90deg,#344da5,#344ca5,#3247a2,#334ba4,#3551a8,#354fa7,#334ba4,#354fa7,#3855ab,#3550a8,#3c5eb1,#3f64b5,#3857ac,#3a5aae,#344ea7,#3652a9,#3550a8,#344ea6,#344ca5,#334ba4,#344ea6,#344ea6)"></i><i style="top:111px;background:linear-gradient(90deg,#344ba5,#3652a9,#3550a8,#344da6,#3349a3,#334aa4,#344da6,#3653aa,#3651a9,#3754ab,#3c5db0,#3e63b4,#3651a9,#354fa7,#354fa7,#3652a9,#3651a9,#334aa4,#344da6,#334aa4,#344ba5,#344da6)"></i><i style="top:112px;background:linear-gradient(90deg,#3651a9,#3247a2,#354fa7,#3349a3,#3348a2,#344ea6,#3551a8,#3754aa,#3958ad,#3856ac,#3e61b3,#3a59ae,#3753aa,#3551a9,#344da6,#3550a8,#3246a1,#3551a9,#334ba4,#3653aa,#3651a9,#3349a3)"></i><i style="top:113px;background:linear-gradient(90deg,#3551a9,#344da6,#3349a3,#3247a2,#344ea7,#344ca5,#344da6,#354fa7,#344ea7,#3753aa,#3c5fb1,#3b5cb0,#3857ac,#3755ab,#3247a2,#3652a9,#344ea7,#334aa4,#344ca5,#3651a9,#354fa7,#3246a1)"></i><i style="top:114px;background:linear-gradient(90deg,#3958ad,#3755ab,#3754ab,#3653aa,#3a59ae,#3b5baf,#3856ac,#3a5aae,#4269b8,#446fbb,#4a78bf,#446ebb,#3f65b5,#3653aa,#3652a9,#3959ae,#3c5db0,#3855ab,#3551a8,#3957ad,#3b5db0,#3856ac)"></i><i style="top:115px;background:linear-gradient(90deg,#3d60b2,#3754ab,#3a5aaf,#3a59ae,#3755ab,#3d60b2,#3a5aae,#3958ad,#3a5aae,#3d61b2,#426bb9,#4a78bf,#436dba,#3e61b3,#3c5eb1,#3856ac,#3a5aae,#3753aa,#3754ab,#3b5baf,#3753aa,#3a5aae)"></i><i style="top:116px;background:linear-gradient(90deg,#344ca5,#3551a8,#344ca5,#344ca5,#3754aa,#344ca5,#354fa7,#3754ab,#3856ac,#3f64b4,#3c5fb1,#3e62b3,#344ea7,#344ba5,#354fa7,#3755ab,#3856ac,#344ba5,#344ea7,#344da6,#3247a1,#3651a9)"></i><i style="top:117px;background:linear-gradient(90deg,#3b5baf,#3653aa,#334ba5,#354fa7,#344ea6,#3b5caf,#344da6,#3651a9,#3958ad,#3959ae,#3550a8,#3a59ae,#3856ac,#344ea7,#3550a8,#3651a9,#3651a9,#3348a3,#3855ab,#3652a9,#3652a9,#344ea7)"></i><i style="top:118px;background:linear-gradient(90deg,#334aa4,#354fa7,#344ca5,#3551a9,#3551a8,#3958ad,#3754ab,#3958ad,#426ab8,#4b7abf,#4f81c2,#4d7dc1,#4875be,#3c5eb1,#3855ab,#354fa7,#354fa7,#3856ac,#3653aa,#3248a2,#3957ac,#334aa3)"></i><i style="top:119px;background:linear-gradient(90deg,#334aa4,#3651a9,#3550a8,#3652a9,#3652aa,#3855ab,#3a59ae,#3755ab,#354fa7,#3e61b3,#4167b7,#4167b7,#4168b7,#3a59ae,#3651a9,#3754aa,#334ba4,#3856ac,#3651a9,#3a5aae,#3754ab,#3653aa)"></i><i style="top:120px;background:linear-gradient(90deg,#3755ab,#3755ab,#354fa7,#3b5caf,#3753aa,#3652aa,#3652a9,#3856ac,#3755ab,#4066b6,#4169b7,#4570bc,#3e61b3,#3957ad,#3652a9,#3856ac,#344ea7,#3958ad,#3652a9,#3959ad,#3652a9,#3958ad)"></i><i style="top:121px;background:linear-gradient(90deg,#3a5aae,#3551a9,#3651a9,#3652a9,#354fa7,#3550a8,#3653aa,#334ba4,#3e62b4,#3e62b3,#426ab8,#4168b7,#4168b7,#3d60b2,#3c5eb0,#3958ad,#4065b5,#3e62b4,#446ebb,#426ab8,#4167b6,#3e62b3)"></i><i style="top:122px;background:linear-gradient(90deg,#3653aa,#344ea6,#3857ac,#3857ac,#3857ac,#3d60b2,#3551a8,#3958ad,#3b5baf,#3d5fb2,#436dba,#4672bd,#3d60b2,#3c5eb1,#3b5caf,#3958ad,#344ea6,#3856ac,#3653aa,#3a5baf,#3754aa,#3c5eb1)"></i><i style="top:123px;background:linear-gradient(90deg,#3c5eb1,#3755ab,#3754ab,#3856ac,#3b5db0,#3855ab,#3753aa,#3958ad,#3e63b4,#3f64b5,#4672bd,#426bb9,#3d60b2,#3b5caf,#3d60b2,#3753aa,#3b5baf,#3957ad,#3855ab,#3755ab,#3959ad,#3958ad)"></i><i style="top:124px;background:linear-gradient(90deg,#3753aa,#3550a8,#3652a9,#344ea7,#354fa7,#354fa7,#344ea6,#3550a8,#3754aa,#3d5fb1,#4876be,#3f65b5,#3a5aae,#3b5db0,#354fa7,#354fa7,#3651a9,#3753aa,#3753aa,#3754ab,#3652a9,#3959ad)"></i><i style="top:125px;background:linear-gradient(90deg,#354fa7,#3550a8,#3856ac,#354fa7,#3a59ae,#3753aa,#354fa7,#3550a8,#3550a8,#3855ab,#426ab8,#436cb9,#3c5eb1,#3959ae,#3c5eb1,#3550a8,#3754ab,#3855ab,#3652a9,#3652a9,#3651a9,#3753aa)"></i><i style="top:126px;background:linear-gradient(90deg,#334aa3,#344ea6,#334ba4,#31429e,#3550a8,#334ba4,#3349a3,#3248a2,#334aa4,#344ca5,#3855ab,#3a5aae,#3857ac,#3754aa,#344ca5,#354fa7,#344da5,#344ea7,#354fa7,#344ca5,#3652a9,#3550a8)"></i></div>
<div class="hm" style="left:500px;top:182px;width:43px;height:127px"><i style="top:0px;background:linear-gradient(90deg,#344ba5,#3550a8,#3651a9,#344ea6,#344ea6,#3550a8,#3652a9,#344da6,#3652aa,#3652a9,#354fa7,#344da6,#3551a8,#3551a9,#3754ab,#344ea6,#3754aa,#354ea7,#3550a8,#354fa7,#354fa8,#3753aa)"></i><i style="top:1px;background:linear-gradient(90deg,#344ea6,#3651a9,#354fa7,#354fa7,#344ea6,#3550a8,#334ba4,#354fa7,#3652a9,#3651a9,#344ca5,#344da6,#344ea7,#3755ab,#344ea7,#354fa7,#354fa7,#3550a8,#344da6,#3550a8,#3550a8,#3652a9)"></i><i style="top:2px;background:linear-gradient(90deg,#3651a9,#3957ac,#3a5aae,#3857ac,#3856ac,#344ea6,#3958ad,#3a5aae,#3958ad,#3856ac,#3857ac,#3c5eb1,#3652a9,#3753aa,#3958ad,#3855ab,#344ea7,#3755ab,#3855ab,#3651a9,#3855ab,#3855ab)"></i><i style="top:3px;background:linear-gradient(90deg,#354fa7,#3856ac,#3b5baf,#3a5aae,#3551a8,#3550a8,#3754ab,#3855ab,#3550a8,#3652a9,#3959ad,#3855ab,#3958ad,#3754ab,#3958ad,#3653aa,#3653aa,#3651a9,#354fa7,#3753aa,#3550a8,#3653aa)"></i><i style="top:4px;background:linear-gradient(90deg,#3754ab,#3755ab,#3855ab,#3653aa,#3754aa,#3958ad,#3754aa,#3754ab,#344da6,#3551a8,#3958ad,#3651a9,#3551a8,#3957ac,#3550a8,#3957ac,#3754aa,#3652a9,#344ea7,#3958ad,#354fa7,#3550a8)"></i><i style="top:5px;background:linear-gradient(90deg,#3857ac,#3550a8,#3856ac,#3754aa,#3753aa,#3551a8,#3652a9,#3755ab,#3551a9,#3856ac,#3755ab,#3856ac,#3755ab,#3856ac,#3855ab,#3857ac,#3855ab,#3855ab,#3651a9,#354fa7,#3754ab,#3957ac)"></i><i style="top:6px;background:linear-gradient(90deg,#334ba5,#334aa3,#344ca5,#344ea7,#354fa7,#344da5,#334ba4,#344da6,#354fa7,#344da6,#354fa8,#344ca5,#354fa7,#3651a9,#334ba4,#344ba5,#354fa7,#3856ac,#344ea7,#344da6,#3550a8,#344da6)"></i><i style="top:7px;background:linear-gradient(90deg,#334aa3,#334ba4,#3550a8,#334aa3,#334aa4,#354fa7,#344ea6,#3550a8,#334ba4,#344ca5,#344ca5,#334ba4,#344da6,#344da6,#354fa7,#344da6,#344ca5,#344ea7,#3550a8,#3550a8,#344ea6,#344ca5)"></i><i style="top:8px;background:linear-gradient(90deg,#334ba4,#3349a3,#344ca5,#344ca5,#3550a8,#344ca5,#344ea6,#354fa7,#3248a2,#334ba4,#344ba5,#344ca5,#334aa3,#344ea6,#344ea7,#344da6,#344ea6,#334aa3,#354fa7,#334ba4,#3248a2,#344ca5)"></i><i style="top:9px;background:linear-gradient(90deg,#344da6,#334ba4,#3348a2,#3349a3,#344ca5,#3246a1,#344ea7,#344ea7,#344ca5,#344ea7,#344ca5,#334aa3,#344da6,#344da6,#334aa4,#3349a3,#334aa4,#354fa7,#344ba5,#3753aa,#334ba4,#344da6)"></i><i style="top:10px;background:linear-gradient(90deg,#3550a8,#344ea7,#3551a9,#344da6,#354fa7,#344ca5,#334aa4,#354fa7,#344ca5,#344ca5,#3550a8,#354ea7,#3550a8,#3754aa,#354fa7,#3550a8,#344ca5,#3551a9,#3651a9,#344da5,#3550a8,#3550a8)"></i><i style="top:11px;background:linear-gradient(90deg,#344ea7,#354fa7,#3856ac,#344da6,#344ea7,#354fa7,#344ea7,#334ba4,#3550a8,#3651a9,#3754aa,#344ea6,#344ca5,#3550a8,#344da6,#354fa7,#344ea6,#354fa7,#344ea6,#3551a8,#344da6,#3856ac)"></i><i style="top:12px;background:linear-gradient(90deg,#3753aa,#354fa8,#354fa7,#3550a8,#3550a8,#354fa7,#3855ab,#3754ab,#344ea7,#3653aa,#3651a9,#3753aa,#354fa7,#3958ad,#3651a9,#3957ad,#3550a8,#3855ab,#3551a8,#3856ac,#3550a8,#344ea7)"></i><i style="top:13px;background:linear-gradient(90deg,#344ea7,#354fa7,#3653aa,#3652a9,#3651a9,#3754ab,#3856ac,#354ea7,#3754ab,#3958ad,#354fa8,#354fa8,#3652a9,#3652a9,#3550a8,#3551a9,#3856ac,#3754aa,#354fa7,#344da6,#344ea7,#3652a9)"></i><i style="top:14px;background:linear-gradient(90deg,#3550a8,#3550a8,#3755ab,#3651a9,#3551a9,#3653aa,#3857ac,#3753aa,#3754ab,#3652aa,#3957ac,#354fa7,#354fa7,#3551a8,#3959ad,#3957ac,#354fa7,#3551a8,#3754aa,#3652aa,#3855ab,#3551a8)"></i><i style="top:15px;background:linear-gradient(90deg,#344ea6,#3754ab,#3856ac,#344ea7,#344da6,#3551a8,#344da6,#3754aa,#354fa7,#3755ab,#3651a9,#3653aa,#3754ab,#3652a9,#354fa7,#3855ab,#344ea7,#3857ac,#3550a8,#3551a8,#3754aa,#3754aa)"></i><i style="top:16px;background:linear-gradient(90deg,#3753aa,#344ea6,#354fa7,#3653aa,#3653aa,#3651a9,#3856ac,#3551a9,#3755ab,#3855ab,#3653aa,#3551a9,#3754aa,#3753aa,#3754aa,#354fa7,#3753aa,#3857ac,#3551a8,#3652a9,#3551a9,#3754ab)"></i><i style="top:17px;background:linear-gradient(90deg,#344da5,#3857ac,#3753aa,#3551a9,#3652aa,#3855ab,#3653aa,#3754aa,#3855ab,#3652a9,#3754aa,#3856ac,#3753aa,#3550a8,#3754ab,#3958ad,#3551a8,#3753aa,#3653aa,#3754ab,#3550a8,#3652a9)"></i><i style="top:18px;background:linear-gradient(90deg,#3856ac,#3652a9,#354fa7,#3652aa,#3550a8,#3755ab,#344ca5,#3550a8,#3753aa,#344da6,#344ea7,#3651a9,#3550a8,#354fa7,#3551a9,#344da6,#344ea7,#3855ab,#354fa7,#3651a9,#3550a8,#3653aa)"></i><i style="top:19px;background:linear-gradient(90deg,#3551a9,#3651a9,#3754aa,#3551a9,#344ca5,#354fa7,#3754ab,#3753aa,#354fa8,#344ca5,#344ea7,#3857ac,#3754aa,#3754aa,#344ca5,#344da6,#354fa7,#344da6,#3550a8,#344ea6,#3651a9,#354fa8)"></i><i style="top:20px;background:linear-gradient(90deg,#3551a8,#3754ab,#3754aa,#3653aa,#3651a9,#3652a9,#344da6,#344da6,#3550a8,#3653aa,#3958ad,#3754aa,#354fa8,#3551a9,#354fa7,#3652a9,#3652a9,#3652a9,#3753aa,#3856ac,#3755ab,#354fa7)"></i><i style="top:21px;background:linear-gradient(90deg,#3855ab,#354fa8,#3754aa,#3653aa,#3958ad,#3652a9,#3652a9,#3652a9,#3855ab,#3753aa,#3652a9,#3855ab,#3a59ae,#3958ad,#3957ac,#3551a8,#3652a9,#3653aa,#344ea7,#3958ad,#354fa7,#3754aa)"></i><i style="top:22px;background:linear-gradient(90deg,#354fa7,#3652a9,#3754ab,#3753aa,#354fa8,#3550a8,#3755ab,#3652a9,#3652a9,#3755ab,#344ca5,#3653aa,#3856ac,#3957ad,#3754aa,#3550a8,#3755ab,#3958ad,#3550a8,#3550a8,#3651a9,#3550a8)"></i><i style="top:23px;background:linear-gradient(90deg,#344da6,#344ca5,#344ea7,#3550a8,#3753aa,#3550a8,#3652a9,#3856ac,#3b5baf,#3755ab,#354fa7,#3755ab,#3652a9,#3653aa,#3755ab,#3754ab,#344ea7,#354fa7,#3653aa,#3754aa,#3958ad,#3754aa)"></i><i style="top:24px;background:linear-gradient(90deg,#354ea7,#344ea7,#344ea6,#344ca5,#344ca5,#344ea7,#354fa8,#344ea6,#354fa7,#354fa7,#354fa7,#344ea7,#3550a8,#354fa7,#334aa3,#3550a8,#354fa8,#344ea6,#3550a8,#344ea6,#354fa8,#344da6)"></i><i style="top:25px;background:linear-gradient(90deg,#3651a9,#3550a8,#344ca5,#344ea6,#3651a9,#3550a8,#3550a8,#344da6,#344ea6,#3550a8,#3550a8,#354fa7,#344da6,#354fa7,#344ea7,#344da6,#344da6,#344da6,#344ca5,#3550a8,#3651a9,#3652a9)"></i><i style="top:26px;background:linear-gradient(90deg,#354fa7,#354fa7,#3651a9,#354fa7,#3550a8,#3550a8,#344da6,#3754ab,#344da6,#344da6,#3653aa,#344ea6,#3754aa,#3651a9,#3651a9,#354fa8,#344da6,#344ea6,#3551a8,#3550a8,#344ea6,#344ea6)"></i><i style="top:27px;background:linear-gradient(90deg,#344ea7,#3550a8,#3652a9,#3753aa,#354fa8,#3755ab,#3653aa,#3755ab,#344ea7,#3652a9,#3754aa,#344ca5,#3753aa,#3652a9,#3753aa,#3551a9,#3754aa,#354fa8,#354fa7,#3653aa,#3653aa,#344da6)"></i><i style="top:28px;background:linear-gradient(90deg,#3856ac,#3856ac,#3856ac,#3550a8,#3856ac,#3754ab,#3855ab,#3652aa,#3651a9,#3550a8,#3551a8,#3855ab,#3550a8,#3551a8,#3754aa,#3652a9,#344da6,#3551a8,#3651a9,#3958ad,#3755ab,#3550a8)"></i><i style="top:29px;background:linear-gradient(90deg,#354fa8,#3651a9,#3753aa,#3550a8,#3754aa,#354fa7,#3754aa,#3856ac,#344ca5,#3652aa,#3753aa,#3754aa,#3653aa,#3652a9,#3753aa,#3653aa,#3653aa,#3957ad,#3856ac,#3855ab,#3551a8,#3651a9)"></i><i style="top:30px;background:linear-gradient(90deg,#3652a9,#344da6,#3651a9,#344ca5,#3755ab,#3652a9,#344ea6,#344ea6,#334aa4,#354fa7,#3652a9,#3550a8,#344ea7,#3755ab,#3550a8,#3550a8,#344ea7,#3550a8,#3856ac,#3550a8,#344ba5,#354fa7)"></i><i style="top:31px;background:linear-gradient(90deg,#3754ab,#3652a9,#344ea6,#3550a8,#344ca5,#3550a8,#344da6,#344ea6,#344ea6,#344da6,#3754aa,#3653aa,#344ea7,#354fa7,#3754aa,#344ea7,#344ea6,#344da6,#3753aa,#354fa7,#354fa7,#344ea7)"></i><i style="top:32px;background:linear-gradient(90deg,#344da6,#3651a9,#344da6,#344ea6,#334ba5,#344da5,#344ea6,#344ea6,#344ca5,#344ea6,#354fa7,#3349a3,#3550a8,#344ea7,#344ca5,#344ea7,#3550a8,#354fa7,#354fa7,#354fa7,#3550a8,#344ca5)"></i><i style="top:33px;background:linear-gradient(90deg,#344ea6,#3550a8,#354fa7,#344da6,#344ea7,#344da6,#354fa7,#344ba5,#344ba5,#344ca5,#354fa7,#3856ac,#3651a9,#3652a9,#354fa7,#3753aa,#3550a8,#354fa7,#3652a9,#344ca5,#334aa4,#344ca5)"></i><i style="top:34px;background:linear-gradient(90deg,#3652a9,#3551a8,#354fa7,#344ea7,#344ea7,#354fa7,#344da6,#3550a8,#344ca5,#3652a9,#344ea6,#344ca5,#344ea6,#344ca5,#344ea7,#334ba4,#344da6,#354fa7,#354fa7,#344ea6,#3652a9,#334ba4)"></i><i style="top:35px;background:linear-gradient(90deg,#344ea7,#344da6,#354ea7,#344ea6,#3652a9,#354ea7,#344ca5,#3855ab,#354fa7,#344ea7,#3550a8,#344da6,#344ea7,#3550a8,#344ca5,#344da6,#3551a8,#3753aa,#344ea7,#344ea7,#3651a9,#344ba5)"></i><i style="top:36px;background:linear-gradient(90deg,#3651a9,#3651a9,#344ea7,#344ca5,#3652a9,#3856ac,#3856ab,#3957ad,#344da5,#3753aa,#3958ad,#3551a8,#3550a8,#3755ab,#3754aa,#3855ab,#3753aa,#3957ad,#3856ac,#3754ab,#3652a9,#3856ac)"></i><i style="top:37px;background:linear-gradient(90deg,#3651a9,#3856ac,#3957ac,#3856ac,#3550a8,#3755ab,#3755ab,#3856ac,#354fa7,#3652a9,#3753aa,#3958ad,#3652a9,#3856ac,#3754aa,#3a5aae,#3755ab,#354fa7,#3653aa,#3754ab,#3957ad,#3856ab)"></i><i style="top:38px;background:linear-gradient(90deg,#3551a8,#344ea7,#3652a9,#3651a9,#3856ac,#3754ab,#344ea7,#344ca5,#3550a8,#3652a9,#354fa7,#3550a8,#3855ab,#3754aa,#344da6,#3653aa,#3652a9,#3551a9,#3753aa,#3753aa,#3a59ae,#3652a9)"></i><i style="top:39px;background:linear-gradient(90deg,#354fa8,#3550a8,#3754aa,#3958ad,#3753aa,#3753aa,#3652a9,#3550a8,#3652a9,#354ea7,#3754aa,#3753aa,#3652a9,#354fa7,#3551a8,#3550a8,#3653aa,#3551a8,#3653aa,#3754ab,#3856ab,#354fa7)"></i><i style="top:40px;background:linear-gradient(90deg,#3551a9,#354fa7,#3856ac,#3550a8,#3856ac,#3550a8,#3855ab,#3550a8,#3651a9,#3652aa,#3652a9,#3652a9,#3754ab,#3856ac,#3755ab,#3551a8,#344da6,#3652a9,#334ba5,#3754ab,#3754aa,#354fa7)"></i><i style="top:41px;background:linear-gradient(90deg,#3754aa,#3550a8,#3856ac,#3550a8,#3550a8,#3550a8,#3653aa,#354fa7,#3a59ae,#3551a9,#3958ad,#3651a9,#3651a9,#3550a8,#3550a8,#3753aa,#3856ac,#3652a9,#354fa8,#3653aa,#3550a8,#344ca5)"></i><i style="top:42px;background:linear-gradient(90deg,#3550a8,#344ca5,#344ea7,#354fa8,#354ea7,#354fa7,#3754aa,#3652a9,#3754aa,#3550a8,#3550a8,#3755ab,#344ea7,#3550a8,#3550a8,#3550a8,#3551a9,#3550a8,#3652a9,#344da6,#3551a8,#344da6)"></i><i style="top:43px;background:linear-gradient(90deg,#3652a9,#3652a9,#354fa7,#344ea7,#354fa7,#3551a8,#344ca5,#344da6,#3652a9,#354fa7,#344da5,#334ba4,#344ea7,#344ca5,#3550a8,#354fa7,#3755ab,#344da6,#3551a9,#344da6,#344da6,#354fa7)"></i><i style="top:44px;background:linear-gradient(90deg,#344ea7,#3855ab,#3550a8,#344ea7,#3857ac,#344ea7,#354fa7,#354fa8,#344ea7,#3652a9,#3753aa,#344da6,#354fa7,#354fa7,#344da6,#344da6,#354fa7,#344ea6,#3551a8,#3652a9,#3550a8,#3551a8)"></i><i style="top:45px;background:linear-gradient(90deg,#344ea6,#354fa7,#3551a9,#3651a9,#3550a8,#3651a9,#354fa7,#344da6,#3551a8,#354fa7,#344ca5,#3652a9,#3551a9,#3652a9,#354fa7,#3754ab,#3651a9,#3653aa,#344ea7,#354fa7,#3754aa,#3550a8)"></i><i style="top:46px;background:linear-gradient(90deg,#3653aa,#3957ad,#3856ac,#3754aa,#3959ad,#354fa7,#3653aa,#3651a9,#3957ad,#3958ad,#3651a9,#3753aa,#3856ac,#3754ab,#3754aa,#3856ac,#3959ae,#3753aa,#3550a8,#3652aa,#3653aa,#3652a9)"></i><i style="top:47px;background:linear-gradient(90deg,#3755ab,#3855ab,#3856ac,#3754ab,#3754aa,#3550a8,#3652a9,#3550a8,#3754aa,#3652aa,#3653aa,#3754ab,#3652a9,#3856ac,#3856ac,#3550a8,#3857ac,#3652a9,#3551a8,#3652a9,#354fa7,#3754aa)"></i><i style="top:48px;background:linear-gradient(90deg,#3653aa,#344ca5,#3550a8,#3551a9,#3651a9,#3651a9,#3550a8,#344ea7,#3652a9,#3550a8,#3652a9,#3550a8,#354fa7,#354fa7,#3551a9,#3652a9,#344ba5,#344da6,#344ca5,#344ea7,#344ea7,#3550a8)"></i><i style="top:49px;background:linear-gradient(90deg,#354fa7,#3753aa,#344ea7,#344ea6,#344ea6,#354fa7,#3550a8,#344ea7,#344da6,#344da5,#3550a8,#344ea7,#344da6,#354fa7,#3550a8,#3855ab,#3754ab,#344ea6,#354ea7,#334ba5,#334ba5,#344ca5)"></i><i style="top:50px;background:linear-gradient(90deg,#3856ab,#3652a9,#354fa7,#3551a8,#3651a9,#3551a8,#3957ac,#344ea6,#3651a9,#3753aa,#3754ab,#344da6,#3753aa,#354fa7,#3551a9,#354fa7,#3855ab,#3b5cb0,#3856ac,#3652a9,#344ea7,#3855ab)"></i><i style="top:51px;background:linear-gradient(90deg,#3856ac,#3550a8,#3856ab,#344ea7,#354fa7,#3753aa,#354fa7,#3855ab,#3957ac,#3653aa,#3754ab,#3958ad,#3754ab,#3857ac,#3957ac,#3550a8,#3a59ae,#3856ac,#3753aa,#3855ab,#3754aa,#3754aa)"></i><i style="top:52px;background:linear-gradient(90deg,#344ea6,#354fa7,#354fa7,#3753aa,#3651a9,#3651a9,#3550a8,#3754aa,#334ba4,#344ea7,#3653aa,#354fa7,#3652a9,#3755ab,#3652a9,#344da6,#354fa8,#344da6,#3651a9,#3753aa,#354fa8,#3651a9)"></i><i style="top:53px;background:linear-gradient(90deg,#354fa8,#3856ac,#3550a8,#3551a8,#3652a9,#3753aa,#3652a9,#3550a8,#3550a8,#3651a9,#3652a9,#354fa7,#354fa7,#354fa8,#3651a9,#354fa7,#344ea6,#354fa7,#354fa7,#3652a9,#354fa7,#354fa7)"></i><i style="top:54px;background:linear-gradient(90deg,#3856ab,#3651a9,#344ea7,#3754aa,#354fa7,#344ea7,#3652a9,#344da6,#3550a8,#3652a9,#3652a9,#354fa7,#354fa7,#3550a8,#3754aa,#344ca5,#3652a9,#3551a8,#3754ab,#344ea6,#3753aa,#344ea7)"></i><i style="top:55px;background:linear-gradient(90deg,#3551a8,#354fa7,#334ba4,#3550a8,#3651a9,#3653aa,#354fa7,#344da6,#3652a9,#354fa7,#3753aa,#3754ab,#354fa8,#3550a8,#344ea7,#344ca5,#3550a8,#3652a9,#3753aa,#3550a8,#3856ab,#354fa7)"></i><i style="top:56px;background:linear-gradient(90deg,#3651a9,#3550a8,#3550a8,#3551a8,#354fa8,#3550a8,#3652a9,#3652a9,#354fa7,#3653aa,#354fa7,#3653aa,#3652a9,#344da6,#354fa7,#3754ab,#3550a8,#3550a8,#3550a8,#3652a9,#3753aa,#3550a8)"></i><i style="top:57px;background:linear-gradient(90deg,#3856ac,#3550a8,#3550a8,#3551a9,#3652a9,#3856ac,#3959ad,#3550a8,#3551a9,#3753aa,#3551a9,#3754aa,#354fa7,#3754aa,#344ca5,#3653aa,#3753aa,#3959ae,#354fa7,#3753aa,#3753aa,#354fa7)"></i><i style="top:58px;background:linear-gradient(90deg,#3653aa,#3550a8,#354fa7,#344ea7,#3651a9,#354fa7,#344da6,#3653aa,#344ea6,#3754ab,#3653aa,#3550a8,#344ea7,#3550a8,#354fa7,#3551a9,#3551a9,#3a5aae,#344da6,#3550a8,#3754aa,#3855ab)"></i><i style="top:59px;background:linear-gradient(90deg,#3856ac,#354fa8,#3755ab,#344ba5,#3651a9,#3755ab,#3754ab,#354ea7,#3550a8,#344da6,#3550a8,#354ea7,#3653aa,#3550a8,#3754aa,#3652a9,#3651a9,#3958ad,#3856ac,#354fa7,#3856ac,#3754ab)"></i><i style="top:60px;background:linear-gradient(90deg,#3958ad,#3856ac,#354fa7,#3753aa,#344ea6,#3550a8,#3652a9,#3958ad,#3754ab,#3755ab,#3857ac,#3651a9,#3958ad,#3755ab,#3651a9,#3653aa,#3754aa,#3856ac,#3959ad,#3753aa,#3754aa,#3a5aae)"></i><i style="top:61px;background:linear-gradient(90deg,#3c5eb1,#3a5aae,#3755ab,#3753aa,#3856ac,#3855ab,#3652a9,#3959ad,#3b5cb0,#3652a9,#3652a9,#3653aa,#3550a8,#3857ac,#3550a8,#3856ac,#3856ab,#3857ac,#3550a8,#3755ab,#3855ab,#3957ac)"></i><i style="top:62px;background:linear-gradient(90deg,#3550a8,#344ea7,#3653aa,#3753aa,#3753aa,#344ea6,#3551a8,#344da6,#354fa7,#3651a9,#344ca5,#3958ad,#3653aa,#344ea6,#344ea7,#354fa7,#354fa7,#344da6,#354fa7,#344ca5,#344ea7,#3755ab)"></i><i style="top:63px;background:linear-gradient(90deg,#354fa7,#354fa7,#3754ab,#3550a8,#3651a9,#344ea7,#3653aa,#354fa7,#3652a9,#3651a9,#3755ab,#3652a9,#354fa7,#344da6,#354fa7,#344ea6,#3754aa,#344ea7,#334aa4,#3550a8,#3652a9,#344da6)"></i><i style="top:64px;background:linear-gradient(90deg,#3856ac,#3550a8,#3755ab,#3754aa,#3855ab,#3855ab,#3652a9,#3857ac,#3653aa,#3755ab,#3959ad,#3651a9,#3754ab,#3a59ae,#3958ad,#3652a9,#3652a9,#3856ac,#3652a9,#3754ab,#3550a8,#3856ac)"></i><i style="top:65px;background:linear-gradient(90deg,#354fa8,#3755ab,#3856ac,#3652a9,#354fa8,#3550a8,#354fa7,#3a5aae,#354fa7,#3550a8,#3855ab,#3754ab,#3957ad,#3958ad,#3856ab,#3754aa,#3652a9,#3754aa,#3957ac,#3856ac,#3856ac,#354fa7)"></i><i style="top:66px;background:linear-gradient(90deg,#344da6,#344da6,#344da6,#344ca5,#3550a8,#3651a9,#3754aa,#344da6,#344ea7,#354fa7,#354fa7,#344da6,#3551a8,#334aa4,#344ea6,#334aa4,#3550a8,#344ca5,#344ca5,#354fa7,#344ca5,#354fa7)"></i><i style="top:67px;background:linear-gradient(90deg,#344ea6,#3754ab,#344ca5,#344da6,#3550a8,#354fa7,#3550a8,#344ea7,#3651a9,#354fa8,#3652a9,#344ca5,#354fa7,#344ea7,#3550a8,#344da6,#3551a8,#344ca5,#3551a9,#3550a8,#334ba4,#3550a8)"></i><i style="top:68px;background:linear-gradient(90deg,#334aa4,#3550a8,#334ba4,#344ea7,#344ea6,#334ba4,#334aa4,#3550a8,#344da6,#3651a9,#344ea7,#3857ac,#354fa7,#3753aa,#354fa7,#354fa7,#3550a8,#344da6,#344da6,#3753aa,#344ea7,#344ca5)"></i><i style="top:69px;background:linear-gradient(90deg,#3550a8,#344da6,#354fa7,#3651a9,#3652a9,#3754aa,#3652a9,#3550a8,#3550a8,#354fa7,#354ea7,#3855ab,#344ea7,#3753aa,#344ea7,#3652a9,#3348a2,#354fa7,#344da6,#3653aa,#3653aa,#344da6)"></i><i style="top:70px;background:linear-gradient(90deg,#344ca5,#344ea7,#344da6,#344ca5,#344ea7,#3349a3,#3550a8,#344da6,#3246a1,#334aa4,#344ca5,#3652a9,#344ca5,#3349a3,#354fa7,#344da6,#344ca5,#354fa7,#344ba5,#344ca5,#354fa7,#344da6)"></i><i style="top:71px;background:linear-gradient(90deg,#354ea7,#344ca5,#3550a8,#3349a3,#3349a3,#344da6,#344ca5,#344da6,#344ca5,#344ca5,#334aa4,#344da6,#354fa7,#334ba4,#3551a9,#3550a8,#334ba4,#344ea7,#334aa4,#344ca5,#334aa4,#334ba5)"></i><i style="top:72px;background:linear-gradient(90deg,#344ea6,#3652a9,#354fa8,#3550a8,#344da6,#3653aa,#3959ad,#3651a9,#3652a9,#354fa7,#3551a9,#3550a8,#344ea7,#3550a8,#3551a8,#3753aa,#3651a9,#3753aa,#3857ac,#3855ab,#3651a9,#344ea6)"></i><i style="top:73px;background:linear-gradient(90deg,#3652a9,#3653aa,#3856ab,#3653aa,#3b5baf,#3651a9,#3754ab,#3550a8,#354fa8,#3651a9,#3753aa,#3755ab,#334ba4,#3856ac,#3957ac,#3857ac,#3855ab,#3652a9,#3754ab,#3856ac,#354fa8,#3754ab)"></i><i style="top:74px;background:linear-gradient(90deg,#3856ab,#3753aa,#3a5aae,#3652a9,#3551a8,#3754aa,#3652a9,#3958ad,#354fa7,#3550a8,#3755ab,#3856ac,#3550a8,#3958ad,#354ea7,#3957ac,#3651a9,#3652a9,#3a5aae,#3754aa,#3652a9,#3755ab)"></i><i style="top:75px;background:linear-gradient(90deg,#3a5aae,#3754ab,#3651a9,#3755ab,#3550a8,#3652a9,#3652a9,#3856ac,#3652a9,#3855ab,#3958ad,#3959ae,#354fa7,#3754aa,#3550a8,#3856ac,#3755ab,#3754aa,#3652a9,#3551a8,#354fa7,#3857ac)"></i><i style="top:76px;background:linear-gradient(90deg,#344ea6,#344ea7,#354fa7,#3550a8,#3753aa,#344ea6,#354fa8,#334aa4,#344da6,#344ca5,#344da6,#3551a9,#344ea7,#344ea7,#344ea7,#344ea6,#344ea6,#344da6,#344da6,#344da6,#344ea6,#334aa4)"></i><i style="top:77px;background:linear-gradient(90deg,#344ea7,#344ea6,#354fa7,#344ca5,#344ca5,#3550a8,#344ca5,#354fa7,#344da5,#344ba5,#334ba4,#344da6,#344da6,#344ba5,#3652a9,#344ea7,#344ca5,#3652a9,#3550a8,#344ca5,#344ca5,#344ea6)"></i><i style="top:78px;background:linear-gradient(90deg,#3652a9,#344ca5,#3653aa,#354fa7,#3652a9,#354fa7,#3551a9,#3651a9,#3753aa,#344ea7,#3855ab,#344da6,#3550a8,#3651a9,#3550a8,#3652a9,#344ca5,#354fa8,#3652aa,#3550a8,#344da6,#3550a8)"></i><i style="top:79px;background:linear-gradient(90deg,#3550a8,#344da6,#3754aa,#344ea7,#344da6,#3550a8,#344ea7,#354fa7,#3550a8,#354fa7,#3651a9,#3550a8,#3753aa,#344da6,#3550a8,#3550a8,#3550a8,#334ba4,#344da6,#3550a8,#3651a9,#3550a8)"></i><i style="top:80px;background:linear-gradient(90deg,#3550a8,#3753aa,#354fa7,#344ea7,#3754ab,#3651a9,#354fa7,#344ea7,#3755ab,#354fa7,#344ea6,#3754aa,#344ca5,#354fa8,#3652a9,#354fa7,#354fa7,#3551a9,#344da6,#354fa7,#3652a9,#344da6)"></i><i style="top:81px;background:linear-gradient(90deg,#3754aa,#354fa7,#3550a8,#354fa7,#3651a9,#354fa7,#3550a8,#3753aa,#3753aa,#344ca5,#3754aa,#354fa7,#3550a8,#3550a8,#3550a8,#344ea7,#3651a9,#3653aa,#344ea7,#3550a8,#3652a9,#3653aa)"></i><i style="top:82px;background:linear-gradient(90deg,#344ea7,#344ea7,#354ea7,#344da6,#344ea7,#344da6,#344da6,#3348a2,#334aa3,#344ea7,#354fa7,#344ea7,#344ea6,#344da6,#354fa7,#344da5,#344da6,#3551a9,#334aa4,#344ca5,#344da6,#3349a3)"></i><i style="top:83px;background:linear-gradient(90deg,#334ba4,#3550a8,#354fa7,#344da6,#3550a8,#334ba5,#3652a9,#344da6,#344ca5,#3550a8,#354fa7,#344ea6,#344da6,#3349a3,#3349a3,#344da6,#354fa8,#344ca5,#344ea6,#334aa4,#334aa4,#344da6)"></i><i style="top:84px;background:linear-gradient(90deg,#3652aa,#3653aa,#3754ab,#354ea7,#3550a8,#3653aa,#344ea7,#354fa8,#3550a8,#3550a8,#3653aa,#3652a9,#354fa7,#334ba4,#3653aa,#3753aa,#3652a9,#3651a9,#3652a9,#3754ab,#354fa7,#3550a8)"></i><i style="top:85px;background:linear-gradient(90deg,#344ea7,#3550a8,#344ea7,#344ea7,#344ca5,#3550a8,#3753aa,#334aa3,#3754ab,#3550a8,#354fa7,#3651a9,#3550a8,#3550a8,#3755ab,#3551a8,#3651a9,#3550a8,#3550a8,#344ea7,#3550a8,#344ea7)"></i><i style="top:86px;background:linear-gradient(90deg,#3754ab,#3550a8,#3753aa,#3755ab,#3754aa,#354fa7,#3856ac,#344ca5,#3855ab,#334ba4,#354fa7,#3550a8,#354fa7,#344ca5,#344da6,#3652a9,#344da6,#3653aa,#3754ab,#3755ab,#3651a9,#3551a8)"></i><i style="top:87px;background:linear-gradient(90deg,#3550a8,#3a59ae,#3754ab,#3653aa,#3652a9,#3754ab,#344ca5,#3753aa,#354fa7,#344ba5,#3754ab,#354fa7,#3652a9,#354fa7,#3550a8,#3856ac,#3652a9,#3652a9,#344da6,#3754aa,#354fa7,#3652a9)"></i><i style="top:88px;background:linear-gradient(90deg,#344da6,#3550a8,#3550a8,#344ca5,#3550a8,#344da6,#3653aa,#3550a8,#354fa7,#3958ad,#3651a9,#344ea7,#3651a9,#3550a8,#3653aa,#344da6,#3755ab,#344ea7,#344ea7,#344ea6,#354ea7,#3755ab)"></i><i style="top:89px;background:linear-gradient(90deg,#3550a8,#344da6,#354fa7,#3550a8,#3652a9,#354ea7,#3550a8,#3958ad,#354fa7,#354fa8,#344da5,#3652a9,#344ea7,#3755ab,#3653aa,#3651a9,#344ea7,#344ea7,#344ea7,#354fa8,#344ea7,#344ea7)"></i><i style="top:90px;background:linear-gradient(90deg,#354ea7,#344ea7,#344da6,#3550a8,#3551a8,#344da6,#3754ab,#354fa7,#3651a9,#3753aa,#334ba4,#354fa8,#3550a8,#3651a9,#3550a8,#3551a8,#334ba4,#344ca5,#354fa8,#334aa4,#344da6,#344ea6)"></i><i style="top:91px;background:linear-gradient(90deg,#354fa7,#3550a8,#354fa7,#344ca5,#344ca5,#354fa7,#3550a8,#354fa7,#354fa7,#354ea7,#334ba5,#344ea7,#3550a8,#344ca5,#354fa7,#3550a8,#3755ab,#344ea7,#344ea6,#344ca5,#344ca5,#334ba4)"></i><i style="top:92px;background:linear-gradient(90deg,#344ca5,#3653aa,#3550a8,#3651a9,#344da6,#344ca5,#344ca5,#3855ab,#3754aa,#344da6,#3551a8,#3551a9,#344ea7,#354fa7,#3753aa,#3653aa,#3753aa,#3651a9,#3551a8,#3652a9,#3550a8,#3856ac)"></i><i style="top:93px;background:linear-gradient(90deg,#3651a9,#3652a9,#3550a8,#354fa7,#3550a8,#3550a8,#354fa7,#3653aa,#3857ac,#3651a9,#3550a8,#354fa7,#344da6,#3652a9,#3652a9,#354fa7,#3551a8,#344ea7,#3755ab,#3551a8,#3652a9,#3856ac)"></i><i style="top:94px;background:linear-gradient(90deg,#344ca5,#3653aa,#3652aa,#3551a8,#3652a9,#3856ab,#3550a8,#3550a8,#3957ac,#3755ab,#3753aa,#3754ab,#3652a9,#3551a8,#3651a9,#3653aa,#3550a8,#344ea6,#3651a9,#3653aa,#3651a9,#3754aa)"></i><i style="top:95px;background:linear-gradient(90deg,#3653aa,#3755ab,#3652a9,#3651a9,#3753aa,#3754ab,#3550a8,#354fa7,#3856ac,#3550a8,#3653aa,#3550a8,#3652a9,#3856ac,#3857ac,#344ea7,#344ea7,#334aa4,#3754aa,#3857ac,#3652aa,#3551a8)"></i><i style="top:96px;background:linear-gradient(90deg,#354fa8,#344ca5,#354fa7,#3551a9,#3551a8,#354fa7,#344da6,#344da6,#344ca5,#3652aa,#3551a8,#344ea6,#344ea6,#344ea7,#344ca5,#354fa7,#354fa7,#354fa7,#344ea6,#3348a2,#344da6,#334ba4)"></i><i style="top:97px;background:linear-gradient(90deg,#334aa4,#3754aa,#344da6,#344da6,#344da6,#344ca5,#3652a9,#334aa3,#354fa7,#344ca5,#3551a8,#354fa8,#344ea6,#334aa4,#354fa8,#3550a8,#354fa7,#344da6,#354fa7,#344ca5,#344ea7,#354ea7)"></i><i style="top:98px;background:linear-gradient(90deg,#354fa8,#344ea6,#354fa8,#344ea7,#344da6,#3753aa,#3550a8,#354fa7,#354fa7,#3651a9,#354fa7,#344ea7,#3551a8,#3550a8,#344ea6,#344ea6,#3754aa,#354fa7,#3754aa,#3652a9,#3550a8,#354fa8)"></i><i style="top:99px;background:linear-gradient(90deg,#3755ab,#354ea7,#354fa7,#344ea7,#3550a8,#344ea6,#3550a8,#344da6,#3651a9,#3551a9,#3550a8,#354fa7,#3754aa,#3856ac,#3550a8,#344ea7,#3652a9,#354fa8,#3550a8,#3652a9,#344da6,#3652a9)"></i><i style="top:100px;background:linear-gradient(90deg,#354fa7,#344ea7,#3550a8,#3856ac,#3550a8,#3653aa,#354fa7,#3753aa,#3652aa,#3855ab,#3652a9,#3651a9,#344da6,#3652aa,#3754aa,#3652a9,#3652a9,#3753aa,#3754ab,#354fa7,#3651a9,#3653aa)"></i><i style="top:101px;background:linear-gradient(90deg,#3652a9,#354fa7,#344da6,#3652aa,#3754aa,#3857ac,#3653aa,#354fa7,#3653aa,#3651a9,#3550a8,#344ea6,#344da6,#354fa8,#3550a8,#3652a9,#3651a9,#3652a9,#3957ad,#3651a9,#3856ac,#354fa7)"></i><i style="top:102px;background:linear-gradient(90deg,#334aa3,#334aa4,#3247a2,#354fa7,#344ca5,#344da6,#354fa7,#344ca5,#354fa7,#3246a1,#344ea7,#344ca5,#334aa4,#344ea6,#334ba5,#334aa3,#3247a1,#354fa7,#3246a0,#344ba5,#354fa7,#344da6)"></i><i style="top:103px;background:linear-gradient(90deg,#334aa4,#334ba4,#334aa4,#344ca5,#334ba4,#3348a2,#3248a2,#344ea6,#3348a2,#3349a3,#3550a8,#3349a3,#3348a2,#3349a3,#344da6,#334aa3,#334ba4,#3246a1,#334aa3,#334ba5,#334ba5,#344ea7)"></i><i style="top:104px;background:linear-gradient(90deg,#3652a9,#334aa4,#344da6,#354fa7,#3550a8,#3551a9,#3653aa,#344da6,#344ca5,#3753aa,#344ea7,#344ba5,#344ea7,#354fa8,#344ea6,#344ea6,#3754aa,#344ea7,#3652a9,#3651a9,#3550a8,#3958ad)"></i><i style="top:105px;background:linear-gradient(90deg,#344da6,#3959ae,#344ea7,#3550a8,#3652a9,#3754ab,#3653aa,#3550a8,#3550a8,#3754ab,#3856ab,#354fa7,#3755ab,#3652aa,#3652a9,#344ea7,#344ea6,#3652a9,#334aa4,#354fa8,#3652a9,#344da6)"></i><i style="top:106px;background:linear-gradient(90deg,#3a59ae,#3a5aae,#3551a8,#3754aa,#3754aa,#3652aa,#3653aa,#3856ac,#3a5aae,#3754ab,#3755ab,#3755ab,#3652a9,#3856ac,#3653aa,#3651a9,#3856ac,#354fa7,#3653aa,#3653aa,#3754aa,#3550a8)"></i><i style="top:107px;background:linear-gradient(90deg,#3651a9,#3754aa,#3856ac,#3754aa,#3754aa,#3652a9,#3754ab,#344da6,#3856ac,#3957ad,#3754ab,#3651a9,#3958ad,#3652a9,#3959ad,#3753aa,#3652a9,#3754aa,#3652a9,#3754aa,#3856ac,#3753aa)"></i><i style="top:108px;background:linear-gradient(90deg,#344da6,#344ea6,#354fa7,#344ea6,#354fa7,#354fa7,#344ea7,#354fa8,#344ea6,#3550a8,#354fa7,#3550a8,#344da6,#334ba4,#344da6,#344ea6,#354fa7,#344ea6,#3651a9,#334ba4,#334aa4,#344da6)"></i><i style="top:109px;background:linear-gradient(90deg,#344ca5,#344ea6,#354fa7,#3855ab,#334ba4,#344ba5,#344ea6,#334ba4,#344ca5,#3551a8,#344ea6,#344ea6,#3550a8,#334aa4,#344ea7,#344ea6,#344ea7,#344ca5,#344da6,#344ea6,#354fa8,#344ca5)"></i><i style="top:110px;background:linear-gradient(90deg,#3855ab,#344ea6,#3755ab,#3856ac,#3550a8,#3652a9,#3753aa,#3754ab,#3857ac,#3754aa,#3653aa,#3653aa,#3754ab,#3856ac,#3754ab,#3651a9,#3652a9,#3551a8,#3550a8,#3652a9,#3651a9,#3856ac)"></i><i style="top:111px;background:linear-gradient(90deg,#3550a8,#3753aa,#3550a8,#3856ac,#3754ab,#3957ac,#3755ab,#3550a8,#3753aa,#3651a9,#3652a9,#3550a8,#3652a9,#3754aa,#3754aa,#3a5baf,#3653aa,#3753aa,#3653aa,#3652aa,#3652a9,#3753aa)"></i><i style="top:112px;background:linear-gradient(90deg,#354fa7,#3651a9,#3551a8,#344ea6,#354fa8,#3550a8,#354fa7,#354fa7,#354fa7,#3651a9,#3550a8,#344ea7,#354fa8,#3753aa,#344da6,#3651a9,#354fa7,#3a5baf,#3651a9,#3550a8,#354fa7,#344ca5)"></i><i style="top:113px;background:linear-gradient(90deg,#344ea7,#3855ab,#3550a8,#354fa7,#354fa8,#3550a8,#344da6,#3550a8,#3551a8,#344ca5,#354fa7,#334aa3,#344ca5,#3652a9,#3653aa,#3755ab,#344da6,#354fa7,#354fa7,#3652aa,#3550a8,#3550a8)"></i><i style="top:114px;background:linear-gradient(90deg,#3753aa,#3550a8,#3754ab,#3550a8,#3755ab,#3652a9,#3652a9,#354fa7,#344ea6,#344ea6,#3653aa,#344da5,#3856ac,#3550a8,#344ea7,#3653aa,#344ea7,#3652a9,#3551a8,#3855ab,#3754ab,#3754ab)"></i><i style="top:115px;background:linear-gradient(90deg,#3550a8,#3855ab,#3651a9,#3652a9,#3653aa,#3652a9,#344ea7,#3753aa,#344ea6,#3653aa,#3651a9,#3652a9,#354fa7,#3755ab,#3651a9,#3754ab,#354fa8,#3550a8,#3652a9,#3755ab,#344ea7,#3550a8)"></i><i style="top:116px;background:linear-gradient(90deg,#354fa7,#354fa7,#354fa7,#3653aa,#3652a9,#3550a8,#3652a9,#3653aa,#344ea7,#344ea7,#3652a9,#3856ac,#334ba4,#344ea7,#3652a9,#344ea7,#3652a9,#3550a8,#344da6,#354fa7,#3551a8,#344ea6)"></i><i style="top:117px;background:linear-gradient(90deg,#3651a9,#3551a8,#354fa7,#3551a8,#354fa7,#3550a8,#344ea6,#3754aa,#354fa7,#3753aa,#3856ac,#3754ab,#3550a8,#3550a8,#3550a8,#3551a8,#344ea7,#344ca5,#3551a8,#3550a8,#3754ab,#3855ab)"></i><i style="top:118px;background:linear-gradient(90deg,#334ba4,#344ca5,#3550a8,#3551a8,#344ea7,#344ea7,#334aa4,#3754ab,#344da5,#354fa7,#354fa7,#344ca5,#3550a8,#3652a9,#344ea6,#344ea7,#354fa8,#3550a8,#3550a8,#344ca5,#344ca5,#344da6)"></i><i style="top:119px;background:linear-gradient(90deg,#3348a2,#334ba5,#344ea6,#344da6,#344ca5,#3550a8,#354fa7,#3550a8,#344ea6,#344da6,#344ca5,#354fa7,#334aa4,#344ca5,#354fa7,#3550a8,#344ea6,#344ca5,#354fa7,#344ca5,#344ea6,#344ca5)"></i><i style="top:120px;background:linear-gradient(90deg,#3651a9,#3550a8,#334ba5,#334ba4,#344da6,#344ea7,#3550a8,#344da6,#334aa4,#344ea6,#344ea6,#334aa3,#344ca5,#344ca5,#334ba4,#344da6,#354fa7,#354fa7,#334ba4,#344ca5,#354ea7,#344ca5)"></i><i style="top:121px;background:linear-gradient(90deg,#344ca5,#3652aa,#3248a2,#344ca5,#334ba5,#344da6,#3551a9,#344da6,#344ca5,#344da6,#344ca5,#344ea6,#3753aa,#344ca5,#344da6,#344da6,#3349a3,#344ea7,#344da6,#3349a3,#344ca5,#344da6)"></i><i style="top:122px;background:linear-gradient(90deg,#3753aa,#3a59ae,#3754ab,#3651a9,#3958ad,#3855ab,#3856ac,#3551a9,#3652a9,#3653aa,#3855ab,#3855ab,#3a5aae,#3a5baf,#3856ac,#3856ac,#3b5caf,#3856ac,#3a59ae,#3754ab,#3856ab,#3855ab)"></i><i style="top:123px;background:linear-gradient(90deg,#3754aa,#3957ac,#3753aa,#3856ab,#3957ac,#3b5cb0,#3550a8,#3856ac,#3958ad,#3755ab,#3959ad,#3958ad,#3957ad,#3755ab,#3855ab,#3855ab,#3653aa,#3856ac,#3653aa,#3753aa,#3652a9,#3a59ae)"></i><i style="top:124px;background:linear-gradient(90deg,#344ca5,#344ca5,#354fa8,#344da6,#344ea7,#344da6,#344ea7,#344ea7,#3349a3,#3651a9,#3550a8,#334ba4,#3550a8,#344da6,#344ea6,#3551a8,#3550a8,#3550a8,#3653aa,#3550a8,#344ca5,#334ba4)"></i><i style="top:125px;background:linear-gradient(90deg,#354fa8,#334aa4,#344da6,#344da6,#344ca5,#3551a8,#344ea7,#344da6,#3550a8,#344da6,#3550a8,#3653aa,#344da6,#344da6,#3550a8,#334aa3,#334ba4,#344ca5,#334aa4,#344ea6,#344ea7,#344ea6)"></i><i style="top:126px;background:linear-gradient(90deg,#354fa8,#3652a9,#3653aa,#3753aa,#354fa7,#3550a8,#3754aa,#3551a8,#3753aa,#354fa7,#354fa8,#344ea7,#354fa8,#3551a8,#354fa7,#3855ab,#344ca5,#3652a9,#344da6,#3550a8,#344ea6,#3550a8)"></i></div>
<div class="cb" style="left:545.3px;top:53px;width:4.4px;height:257px;background:linear-gradient(180deg,#a50026 0.0%,#d73027 10.0%,#f46d43 20.0%,#fdae61 30.0%,#fee090 40.0%,#ffffbf 50.0%,#e0f3f8 60.0%,#abd9e9 70.0%,#74add6 80.0%,#568cc6 85.0%,#4570bc 90.0%,#3550a8 95.0%,#2e3a98 100.0%)"></div>
<div class="hm" style="left:612px;top:53px;width:42px;height:127px"><i style="top:0px;background:linear-gradient(90deg,#d2ecf4,#c0e3ef,#b9e0ed,#fcfec5,#fa9857,#cc2527,#bb1526,#b91326,#b91326,#b91326,#b91326,#b91326,#b91326,#b91326,#b91326,#ba1426,#c21c27,#e95638,#fdc678,#f4fbd2,#cbe9f2,#9ecee4)"></i><i style="top:1px;background:linear-gradient(90deg,#b3ddeb,#a2d2e6,#a2d2e6,#ecf8e2,#fdc577,#dd3d2d,#bf1927,#ba1426,#ba1426,#ba1426,#ba1426,#ba1426,#ba1426,#ba1426,#ba1426,#bc1626,#ce2727,#f88b51,#feeaa0,#d3ecf4,#9ecee4,#92c5e1)"></i><i style="top:2px;background:linear-gradient(90deg,#8fc3df,#87bcdc,#95c7e1,#b8dfed,#fdfec3,#fec97a,#dc3a2c,#bf1927,#bb1526,#ba1426,#ba1426,#ba1426,#ba1426,#ba1526,#bc1626,#ca2427,#f7814c,#feeea5,#c9e8f1,#88bddd,#87bcdc,#9ecfe4)"></i><i style="top:3px;background:linear-gradient(90deg,#72abd5,#8bbfde,#a5d4e7,#addaea,#e3f4f3,#fee79a,#e75136,#c21b27,#bc1626,#bb1526,#bb1526,#bb1526,#bb1526,#bb1526,#be1826,#d12a27,#fba05a,#eff9dd,#9dcee4,#7cb3d9,#98cae2,#addaea)"></i><i style="top:4px;background:linear-gradient(90deg,#7eb5d9,#93c6e1,#9fd0e5,#91c4e0,#9acbe3,#e2f4f4,#fdb265,#d12b27,#be1827,#bc1626,#bc1626,#bc1626,#bc1626,#bd1726,#c51e27,#ef633e,#fff2ab,#afdbea,#80b7da,#82b8db,#9ecee4,#8ec2df)"></i><i style="top:5px;background:linear-gradient(90deg,#7eb5d9,#90c3e0,#84b9db,#72abd5,#78b0d7,#b9e0ed,#fee99d,#e64f35,#c31d27,#bd1726,#bc1626,#bc1626,#bc1726,#bf1927,#d42d27,#fdb769,#e7f6ec,#82b8db,#79b1d8,#80b7da,#88bddd,#76aed7)"></i><i style="top:6px;background:linear-gradient(90deg,#71aad4,#73acd5,#598fc8,#6299cc,#78b0d7,#aad8e8,#fffbb9,#f57547,#c92227,#be1827,#bd1726,#bd1726,#bd1726,#c11b27,#df412f,#fee394,#cfebf3,#82b9db,#89bedd,#80b7da,#71aad4,#639acd)"></i><i style="top:7px;background:linear-gradient(90deg,#5e95ca,#588ec7,#5990c8,#6ba3d1,#6da5d2,#7cb3d9,#b8dfed,#fff8b4,#ef623e,#c62027,#be1827,#be1826,#c11b27,#d93429,#feca7c,#d8eff6,#81b8db,#6fa8d3,#6da6d2,#659cce,#679fcf,#598fc7)"></i><i style="top:8px;background:linear-gradient(90deg,#5d94ca,#578dc6,#5e95ca,#6ca4d2,#598fc8,#71aad5,#87bcdc,#e7f6ec,#fcaa5f,#d22b27,#c01a27,#bf1927,#c62027,#ee603d,#fffab8,#a0d0e5,#76afd7,#6fa8d4,#6198cc,#5183c3,#5489c5,#5a90c8)"></i><i style="top:9px;background:linear-gradient(90deg,#5082c2,#558bc6,#4e7ec1,#5082c3,#4a79bf,#6198cc,#7bb2d8,#cae8f2,#fee191,#ec5c3b,#df402e,#de3e2d,#e44a33,#fca45c,#ebf7e3,#8abede,#669dce,#588fc7,#5387c4,#4f81c2,#5083c3,#4b79bf)"></i><i style="top:10px;background:linear-gradient(90deg,#558ac5,#5082c2,#5386c4,#588fc7,#5489c5,#568bc6,#85bbdc,#cce9f2,#fedc8c,#ef623e,#e34932,#e24731,#e75237,#fba15b,#f6fccf,#a1d1e6,#6ba3d1,#598fc7,#578ec7,#5286c4,#4d7dc1,#558ac5)"></i><i style="top:11px;background:linear-gradient(90deg,#598fc7,#558ac5,#5489c5,#5c92c9,#5b91c9,#659cce,#669ecf,#93c6e1,#f5fbd1,#fba15b,#eb5a3a,#e85337,#f57647,#fff2ac,#d1ecf4,#7bb3d8,#5c93c9,#5386c4,#4f81c2,#6ca4d2,#5286c4,#568cc6)"></i><i style="top:12px;background:linear-gradient(90deg,#5388c4,#558bc6,#5d94ca,#558ac5,#5d94ca,#6097cb,#6ba3d1,#89bedd,#d1ecf4,#feea9f,#fa9656,#f7864f,#fec779,#ebf7e3,#a1d1e6,#588ec7,#558bc6,#5184c3,#659cce,#5e95cb,#5488c5,#598fc8)"></i><i style="top:13px;background:linear-gradient(90deg,#4f80c2,#558bc6,#639acd,#5f96cb,#6da5d2,#5d94ca,#6ea6d3,#73acd5,#a7d6e8,#ebf7e3,#fee293,#fecd7e,#fbfec6,#c6e6f1,#7db4d9,#69a1d0,#5b92c9,#659cce,#6096cb,#5b91c9,#578dc6,#5388c4)"></i><i style="top:14px;background:linear-gradient(90deg,#4570bc,#4570bc,#4773bd,#4f81c2,#4f80c2,#4977be,#4d7ec1,#5d94ca,#71aad5,#aad8e9,#eef8df,#f9fdca,#c5e6f0,#71aad4,#669dce,#5388c4,#5184c3,#4f80c2,#4976be,#4a78bf,#4067b6,#4774bd)"></i><i style="top:15px;background:linear-gradient(90deg,#4570bc,#4d7dc1,#5082c2,#4d7cc0,#4976be,#4a79bf,#558ac5,#5387c4,#578dc7,#5d93c9,#74add6,#74add6,#6aa2d1,#5489c5,#5489c5,#4c7bc0,#5082c2,#4d7dc1,#4a78bf,#4e7fc1,#446fbb,#5082c2)"></i><i style="top:16px;background:linear-gradient(90deg,#5388c4,#5489c5,#5488c5,#5183c3,#5387c4,#5f96cb,#5d93c9,#649bcd,#669ecf,#7bb3d9,#89bedd,#7cb4d9,#83b9db,#70a9d4,#68a0cf,#5f96cb,#588ec7,#5b92c9,#659cce,#5286c4,#4e7ec1,#5285c3)"></i><i style="top:17px;background:linear-gradient(90deg,#5285c4,#568cc6,#4e7ec1,#5285c4,#5488c5,#5f96cb,#649cce,#639acd,#71a9d4,#79b1d8,#8bbfde,#7bb2d8,#72abd5,#6198cc,#659cce,#5d93ca,#5386c4,#558bc6,#5387c4,#5489c5,#5081c2,#4f80c2)"></i><i style="top:18px;background:linear-gradient(90deg,#5387c4,#4d7dc1,#5387c4,#4c7cc0,#5082c3,#5285c4,#5285c3,#6097cb,#598fc7,#76aed7,#7bb2d8,#8ec1df,#74add6,#6ba3d1,#69a1d0,#5387c4,#5387c4,#4c7bc0,#4e7ec1,#4f80c2,#4e7fc1,#5184c3)"></i><i style="top:19px;background:linear-gradient(90deg,#5082c2,#5285c4,#4c7bc0,#5082c2,#4d7cc0,#5286c4,#4a78bf,#5990c8,#639acd,#70a9d4,#86bbdc,#7db5d9,#6fa8d3,#5e95ca,#5c92c9,#588ec7,#5184c3,#5082c3,#5184c3,#4b7abf,#5286c4,#568cc6)"></i><i style="top:20px;background:linear-gradient(90deg,#5184c3,#4e7ec1,#5184c3,#568cc6,#598fc8,#4f80c2,#5a90c8,#588ec7,#6299cc,#78b1d8,#8fc3df,#8abede,#71a9d4,#649bcd,#568cc6,#649bce,#4e7fc1,#558ac5,#5285c3,#5083c3,#4b7bc0,#4d7ec1)"></i><i style="top:21px;background:linear-gradient(90deg,#4e7fc1,#4e7ec1,#4f81c2,#5184c3,#5083c3,#568cc6,#5c93c9,#598fc7,#6aa2d1,#77afd7,#87bcdd,#8ec2df,#7db5d9,#629acd,#5286c4,#5d93ca,#5a90c8,#4e7ec1,#5083c3,#5285c4,#4672bd,#5386c4)"></i><i style="top:22px;background:linear-gradient(90deg,#5488c5,#5489c5,#588fc7,#4e7ec1,#588ec7,#659cce,#4e7fc1,#5b92c9,#6ba3d1,#73acd5,#80b7da,#8ec2df,#79b1d8,#6198cc,#6097cb,#5f96cb,#5c92c9,#558ac5,#4d7dc1,#5082c2,#4774bd,#4c7cc0)"></i><i style="top:23px;background:linear-gradient(90deg,#5184c3,#5387c4,#5184c3,#5285c3,#4b7ac0,#5081c2,#5386c4,#598fc8,#6198cc,#85bbdc,#92c5e0,#85bbdc,#72abd5,#6299cc,#598fc8,#558ac5,#4c7cc0,#598fc8,#558ac5,#5488c5,#5184c3,#5286c4)"></i><i style="top:24px;background:linear-gradient(90deg,#5183c3,#4a79bf,#5388c4,#5488c5,#4f81c2,#4d7ec1,#639acd,#598fc7,#679ecf,#75aed6,#99cbe3,#84badc,#80b7da,#568cc6,#679ecf,#578dc7,#4d7dc1,#558ac5,#5387c4,#4c7cc0,#5488c5,#5285c4)"></i><i style="top:25px;background:linear-gradient(90deg,#5489c5,#4d7cc0,#5081c2,#4f81c2,#558ac5,#5489c5,#5489c5,#6aa2d0,#649bcd,#80b7da,#93c6e1,#89bedd,#6ca4d2,#69a1d0,#659cce,#639acd,#598fc8,#568cc6,#5183c3,#5082c2,#679ecf,#578ec7)"></i><i style="top:26px;background:linear-gradient(90deg,#4b7ac0,#5285c4,#5387c4,#4a79bf,#5285c3,#578ec7,#639bcd,#68a0d0,#6299cc,#74add6,#88bddd,#8cc0de,#7cb3d9,#5d94ca,#5b92c9,#5489c5,#5184c3,#5183c3,#5c92c9,#5a91c8,#588ec7,#4a78bf)"></i><i style="top:27px;background:linear-gradient(90deg,#5285c4,#5e95ca,#5387c4,#4f80c2,#558bc6,#5388c4,#558ac5,#5e95ca,#68a0d0,#75add6,#8abfde,#83b9db,#75aed6,#6aa2d0,#5d94ca,#568cc6,#4e80c2,#598fc7,#4d7dc1,#5489c5,#4f81c2,#5489c5)"></i><i style="top:28px;background:linear-gradient(90deg,#5388c4,#4e7fc1,#436cba,#4874be,#4d7dc1,#4f80c2,#568cc6,#679fcf,#669dce,#72aad5,#90c4e0,#86bbdc,#78b0d8,#649bcd,#5082c2,#5b91c9,#5d93ca,#5081c2,#5387c4,#5285c3,#4e7fc1,#4d7ec1)"></i><i style="top:29px;background:linear-gradient(90deg,#5387c4,#4d7cc0,#4d7ec1,#5388c4,#558ac5,#5b92c9,#5286c4,#5285c4,#69a0d0,#679fcf,#84badc,#85bbdc,#7eb5d9,#6198cc,#5286c4,#558ac5,#5990c8,#4977bf,#4b79bf,#5488c5,#5082c2,#4b7abf)"></i><i style="top:30px;background:linear-gradient(90deg,#5489c5,#568bc6,#5183c3,#5488c5,#6299cd,#5d93ca,#669ecf,#639acd,#679fcf,#7eb5d9,#8abfde,#93c6e1,#7ab2d8,#69a1d0,#6198cc,#578dc7,#649cce,#5183c3,#588ec7,#5083c3,#5b92c9,#5489c5)"></i><i style="top:31px;background:linear-gradient(90deg,#568cc6,#588ec7,#588ec7,#578dc7,#5a91c8,#5d93c9,#5a91c8,#6098cc,#69a1d0,#77afd7,#8cc0de,#98cae3,#72aad5,#77afd7,#5f96cb,#6299cd,#5a90c8,#568cc6,#5a90c8,#6199cc,#558ac5,#558ac5)"></i><i style="top:32px;background:linear-gradient(90deg,#4e7fc1,#5b91c8,#558bc6,#568bc6,#5285c4,#4b7bc0,#588ec7,#5183c3,#5d94ca,#79b1d8,#83b9db,#83b9db,#639bcd,#679ecf,#5c93c9,#5387c4,#558ac5,#4b7ac0,#4d7dc1,#5184c3,#5489c5,#5082c3)"></i><i style="top:33px;background:linear-gradient(90deg,#4b7ac0,#4e7fc1,#558ac5,#4e80c2,#5387c4,#558ac5,#5387c4,#5990c8,#558ac5,#6ea7d3,#87bcdd,#8bbfde,#7bb3d8,#5e94ca,#5c93c9,#5489c5,#5082c2,#4e80c2,#5183c3,#5083c3,#4d7ec1,#6096cb)"></i><i style="top:34px;background:linear-gradient(90deg,#4f80c2,#5285c4,#4e7fc1,#5f96cb,#4774bd,#5083c3,#5489c5,#5f96cb,#5e95ca,#69a1d0,#8fc2df,#89bedd,#6ea6d3,#5d93ca,#558bc6,#5489c5,#4b79bf,#5184c3,#4d7ec1,#5184c3,#5083c3,#4b7abf)"></i><i style="top:35px;background:linear-gradient(90deg,#558ac5,#5286c4,#4c7bc0,#4b7ac0,#4e7ec1,#5387c4,#5b91c8,#5286c4,#598fc7,#73acd5,#84b9db,#84b9db,#6ea7d3,#5c92c9,#639acd,#588fc7,#5082c3,#558bc6,#588ec7,#5184c3,#5083c3,#4d7dc1)"></i><i style="top:36px;background:linear-gradient(90deg,#5489c5,#5489c5,#5b92c9,#5082c3,#4e7fc1,#5488c5,#5c92c9,#5286c4,#649bcd,#71aad4,#83b9db,#8bc0de,#7eb5d9,#5c92c9,#5f96cb,#588ec7,#5a91c8,#558ac5,#5184c3,#588ec7,#558bc6,#4f81c2)"></i><i style="top:37px;background:linear-gradient(90deg,#4b7ac0,#5183c3,#5489c5,#588ec7,#5286c4,#5489c5,#5082c3,#5a90c8,#669dce,#72abd5,#89bedd,#84b9db,#70a8d4,#679fcf,#5488c5,#598fc7,#5e95ca,#5286c4,#5285c4,#5082c3,#4e7fc1,#5184c3)"></i><i style="top:38px;background:linear-gradient(90deg,#4571bc,#4a78bf,#4876be,#4672bd,#4c7bc0,#5183c3,#5285c3,#5082c2,#558bc6,#5e95ca,#79b1d8,#7fb6da,#6ba3d1,#5e95ca,#4b79bf,#558ac5,#4e7fc1,#5285c3,#4b7abf,#5081c2,#4a79bf,#4672bd)"></i><i style="top:39px;background:linear-gradient(90deg,#4c7bc0,#4876be,#4a79bf,#4d7dc1,#4e80c2,#4f80c2,#5285c4,#4a79bf,#5c93c9,#5f96cb,#7bb3d8,#78b0d7,#5d94ca,#5a91c8,#4c7cc0,#4c7bc0,#5286c4,#426bb9,#446ebb,#4e7fc2,#4976be,#4e7ec1)"></i><i style="top:40px;background:linear-gradient(90deg,#4b7ac0,#4977be,#4e7fc1,#4976be,#4a78bf,#4e7fc1,#4a79bf,#4b7ac0,#4f80c2,#6da5d2,#88bddd,#83b9db,#6299cc,#5388c4,#4d7dc1,#4f80c2,#5184c3,#4c7bc0,#4b7bc0,#3f63b4,#4c7cc0,#4672bd)"></i><i style="top:41px;background:linear-gradient(90deg,#4a78bf,#4d7dc1,#4c7bc0,#4f80c2,#5286c4,#446eba,#4875be,#598fc8,#588ec7,#6198cc,#79b1d8,#7bb2d8,#6da6d2,#5489c5,#5184c3,#4977be,#5387c4,#4e7fc1,#4a78bf,#4672bd,#4b7ac0,#4f80c2)"></i><i style="top:42px;background:linear-gradient(90deg,#649bcd,#6198cc,#5387c4,#5387c4,#5184c3,#5a90c8,#558ac5,#6199cc,#679fcf,#78b0d7,#83b9db,#91c4e0,#74add6,#5c93c9,#5d94ca,#5a91c8,#578dc6,#5c92c9,#5d93ca,#649cce,#5489c5,#5c93c9)"></i><i style="top:43px;background:linear-gradient(90deg,#4a78bf,#6198cc,#558ac5,#5d94ca,#5489c5,#5a91c8,#5e94ca,#598fc7,#6098cc,#6097cc,#8cc0de,#88bddd,#74add6,#6da6d3,#6097cb,#5b91c9,#4e80c2,#568cc6,#5488c5,#5b91c9,#5387c4,#5082c2)"></i><i style="top:44px;background:linear-gradient(90deg,#4d7ec1,#568cc6,#4b7abf,#5488c5,#4e7fc1,#4774bd,#5488c5,#629acd,#5c93c9,#6299cc,#7cb3d9,#78b0d7,#7db4d9,#5d94ca,#4a78bf,#558ac5,#5285c3,#4b79bf,#4c7cc0,#4e7fc1,#558bc6,#4c7cc0)"></i><i style="top:45px;background:linear-gradient(90deg,#4b7ac0,#5286c4,#4c7bc0,#4a79bf,#4e7fc1,#5387c4,#5285c3,#5285c3,#639acd,#73acd5,#72abd5,#75aed6,#6299cc,#578dc6,#5489c5,#5183c3,#5082c2,#5183c3,#4977be,#4571bc,#5081c2,#5388c4)"></i><i style="top:46px;background:linear-gradient(90deg,#4977be,#4672bd,#4b79bf,#4773bd,#436dba,#4875be,#4e7fc1,#4e7fc1,#5488c5,#5a90c8,#76afd7,#7cb3d9,#5b92c9,#4f80c2,#5285c4,#4b7ac0,#456fbc,#4773bd,#4e7ec1,#4a78bf,#5082c2,#4b7abf)"></i><i style="top:47px;background:linear-gradient(90deg,#4977bf,#4d7cc0,#4671bc,#4d7dc1,#4875be,#4875be,#4c7cc0,#4b7abf,#4c7cc0,#568dc6,#75aed6,#74acd6,#5e94ca,#5488c5,#4977be,#4977be,#5082c2,#4570bc,#4e7ec1,#4774bd,#4a79bf,#4977be)"></i><i style="top:48px;background:linear-gradient(90deg,#5184c3,#5387c4,#568cc6,#5081c2,#4f80c2,#578ec7,#5387c4,#568cc6,#5d93ca,#6ba3d1,#75aed6,#81b7da,#6ba3d1,#558bc5,#5489c5,#558bc6,#5e94ca,#5083c3,#5990c8,#5083c3,#5489c5,#5184c3)"></i><i style="top:49px;background:linear-gradient(90deg,#558bc6,#5387c4,#5183c3,#4c7cc0,#578dc7,#4d7dc1,#5285c4,#639bcd,#5f96cb,#6ea7d3,#81b8db,#82b8db,#6ba3d1,#6097cb,#568cc6,#5387c4,#558bc5,#558bc6,#5488c5,#568cc6,#5d94ca,#5c92c9)"></i><i style="top:50px;background:linear-gradient(90deg,#5489c5,#4f81c2,#5b91c8,#5489c5,#588fc7,#5388c4,#5c92c9,#5388c4,#6199cc,#669ecf,#90c3e0,#81b7da,#6198cc,#69a1d0,#6097cb,#6097cb,#5083c3,#568cc6,#5c93c9,#5388c4,#568bc6,#5387c4)"></i><i style="top:51px;background:linear-gradient(90deg,#5387c4,#5c93c9,#5184c3,#5489c5,#578dc7,#558ac5,#5c92c9,#5082c2,#68a0d0,#679fcf,#81b7da,#80b6da,#73acd5,#5f96cb,#568cc6,#5b91c9,#639acd,#5285c4,#5185c3,#5285c3,#4f81c2,#4f81c2)"></i><i style="top:52px;background:linear-gradient(90deg,#4a79bf,#4f81c2,#4a79bf,#4977be,#4c7cc0,#4a78bf,#5b92c9,#568cc6,#5489c5,#568cc6,#71aad4,#6fa7d3,#5b92c9,#4b7ac0,#4e7fc1,#4c7bc0,#4a79bf,#4774bd,#4e7fc1,#4976be,#436dba,#4875be)"></i><i style="top:53px;background:linear-gradient(90deg,#4f81c2,#5184c3,#4874be,#4c7bc0,#4f80c2,#5183c3,#4c7cc0,#5184c3,#5285c4,#558ac5,#7ab2d8,#74add6,#649bcd,#5387c4,#4c7cc0,#4c7cc0,#4e7fc1,#4774bd,#5286c4,#558bc6,#436cba,#5082c2)"></i><i style="top:54px;background:linear-gradient(90deg,#4876be,#4d7cc0,#4b7abf,#4977bf,#4e7fc1,#4b7ac0,#5285c4,#4f80c2,#4c7bc0,#5c92c9,#70a9d4,#6ca4d2,#558bc5,#5c92c9,#4d7ec1,#4c7bc0,#446fbb,#4d7dc1,#4a78bf,#4f80c2,#5184c3,#4874be)"></i><i style="top:55px;background:linear-gradient(90deg,#4774bd,#4f80c2,#4f80c2,#4c7bc0,#4d7ec1,#4a78bf,#4c7bc0,#4e7ec1,#4976be,#6299cc,#75aed6,#69a1d0,#598fc8,#5386c4,#5183c3,#4c7bc0,#4977be,#4c7cc0,#4b7abf,#4672bd,#4976be,#4976be)"></i><i style="top:56px;background:linear-gradient(90deg,#5285c3,#4a78bf,#4c7bc0,#4e7ec1,#4f81c2,#5c92c9,#5082c2,#578dc7,#5c92c9,#6ea6d3,#82b9db,#7bb3d8,#5e95ca,#558ac5,#5a91c8,#5c92c9,#558ac5,#5b92c9,#5285c4,#4c7bc0,#4f81c2,#5083c3)"></i><i style="top:57px;background:linear-gradient(90deg,#5387c4,#5286c4,#4c7bc0,#5488c5,#4d7dc1,#5183c3,#5387c4,#558bc5,#5a90c8,#6198cc,#76aed7,#7db4d9,#6198cc,#5184c3,#4875be,#5183c3,#4c7cc0,#4f81c2,#4b7abf,#4d7ec1,#4e7ec1,#5387c4)"></i><i style="top:58px;background:linear-gradient(90deg,#4d7dc1,#4c7bc0,#5184c3,#5489c5,#4d7dc1,#5387c4,#5286c4,#568cc6,#5082c2,#679fcf,#77afd7,#7ab2d8,#6299cc,#588ec7,#4b7ac0,#5285c4,#578dc7,#5285c3,#5184c3,#5285c4,#568cc6,#4e7fc1)"></i><i style="top:59px;background:linear-gradient(90deg,#4b79bf,#4c7cc0,#4e7fc1,#5184c3,#5489c5,#4e7fc1,#4e7fc1,#588ec7,#6097cb,#6198cc,#7db4d9,#77afd7,#639acd,#578dc7,#5082c3,#4b7ac0,#4b7bc0,#4e7ec1,#5285c4,#5286c4,#5489c5,#4d7ec1)"></i><i style="top:60px;background:linear-gradient(90deg,#4d7dc1,#4773bd,#4976be,#5184c3,#4c7cc0,#558ac5,#5184c3,#4e7fc1,#5183c3,#5387c4,#7ab2d8,#78b0d7,#79b1d8,#6097cb,#5184c3,#4a78bf,#4672bd,#4b7bc0,#4d7dc1,#4773bd,#5082c2,#5183c3)"></i><i style="top:61px;background:linear-gradient(90deg,#4976be,#4c7bc0,#4773bd,#5184c3,#4977bf,#4976be,#4672bd,#4c7bc0,#4c7cc0,#679ecf,#75aed6,#689fcf,#598fc7,#5387c4,#5082c3,#4a78bf,#5387c4,#5081c2,#558ac5,#4269b8,#4672bd,#5082c2)"></i><i style="top:62px;background:linear-gradient(90deg,#4c7cc0,#4a79bf,#4773bd,#4e7ec1,#4a78bf,#5285c3,#5184c3,#5286c4,#4a79bf,#5f96cb,#7ab2d8,#7ab2d8,#659dce,#578dc6,#4b7ac0,#5387c4,#5488c5,#4d7ec1,#4e7ec1,#4b7ac0,#4c7cc0,#4a79bf)"></i><i style="top:63px;background:linear-gradient(90deg,#4e7ec1,#4b7abf,#4571bc,#4977be,#4d7ec1,#4d7dc1,#5387c4,#5286c4,#588ec7,#5c92c9,#75aed6,#68a0d0,#578dc7,#558bc6,#4f81c2,#4a78bf,#5082c2,#5285c3,#4f80c2,#5184c3,#4f81c2,#4f81c2)"></i><i style="top:64px;background:linear-gradient(90deg,#4e7fc1,#4a77bf,#5082c2,#446ebb,#4f80c2,#4d7dc1,#5387c4,#5184c3,#588ec7,#5f96cb,#74add6,#80b7da,#5e95ca,#5082c2,#5c93c9,#558bc6,#5184c3,#5081c2,#5286c4,#5082c2,#558bc5,#5082c2)"></i><i style="top:65px;background:linear-gradient(90deg,#4f80c2,#5388c4,#4e7fc1,#5388c4,#4c7cc0,#4f81c2,#5387c4,#5184c3,#5f96cb,#649cce,#77afd7,#689fcf,#69a1d0,#588fc7,#4c7bc0,#5388c4,#5387c4,#4e7fc1,#4d7dc1,#4b7ac0,#5184c3,#5184c3)"></i><i style="top:66px;background:linear-gradient(90deg,#5083c3,#5c93c9,#5184c3,#5285c4,#4b79bf,#5387c4,#568cc6,#5082c2,#679ecf,#6198cc,#76afd7,#72abd5,#6299cc,#4b7ac0,#588ec7,#4977be,#578dc7,#4d7dc1,#4f80c2,#6097cb,#4d7dc1,#5082c3)"></i><i style="top:67px;background:linear-gradient(90deg,#4c7cc0,#5083c3,#5387c4,#598fc7,#4672bd,#5184c3,#558ac5,#588ec7,#5488c5,#659cce,#81b7da,#77afd7,#74acd6,#5285c4,#5183c3,#5286c4,#4d7ec1,#5489c5,#4d7cc0,#5386c4,#4b7ac0,#4e7ec1)"></i><i style="top:68px;background:linear-gradient(90deg,#4a78bf,#4b7bc0,#4570bc,#436cb9,#4b7ac0,#4570bc,#4c7bc0,#5183c3,#5184c3,#4f81c2,#6ea7d3,#6ea6d3,#5387c4,#4d7dc1,#5184c3,#4b7ac0,#4b7ac0,#4e7ec1,#4b7ac0,#558ac5,#4f80c2,#4a78bf)"></i><i style="top:69px;background:linear-gradient(90deg,#4977bf,#4875be,#4e7fc1,#446ebb,#4d7dc1,#4773bd,#436bb9,#4f81c2,#5082c3,#578dc7,#639acd,#659cce,#5387c4,#5489c5,#5184c3,#4a78bf,#4977bf,#4a79bf,#4d7dc1,#4a78bf,#4774bd,#4875be)"></i><i style="top:70px;background:linear-gradient(90deg,#4c7cc0,#4a79bf,#4977bf,#5082c2,#4d7dc1,#4f80c2,#4875be,#5183c3,#5083c3,#568cc6,#639acd,#639bcd,#558bc6,#5183c3,#4d7dc1,#5489c5,#4d7ec1,#4c7cc0,#4b79bf,#4874be,#4874be,#4c7cc0)"></i><i style="top:71px;background:linear-gradient(90deg,#456fbc,#5285c3,#5184c3,#4570bc,#5082c2,#5082c2,#5083c3,#5082c2,#578ec7,#5488c5,#649bce,#6ca4d2,#588ec7,#4a79bf,#5083c3,#5082c3,#4a79bf,#4d7dc0,#4f80c2,#436bb9,#4976be,#4774bd)"></i><i style="top:72px;background:linear-gradient(90deg,#4d7ec1,#4977be,#4976be,#4f80c2,#568bc6,#4977bf,#558bc6,#5489c5,#588ec7,#669ecf,#69a1d0,#74add6,#5488c5,#5082c2,#5185c3,#5286c4,#4976be,#4672bd,#5082c2,#4f81c2,#5184c3,#4e7ec1)"></i><i style="top:73px;background:linear-gradient(90deg,#4976be,#5387c4,#5184c3,#4f80c2,#588ec7,#4f81c2,#558ac5,#5081c2,#4773bd,#558ac5,#588ec7,#6aa2d1,#659dce,#4c7bc0,#5387c4,#4e7ec1,#5286c4,#5082c2,#4a78bf,#5083c3,#4e7fc1,#5285c4)"></i><i style="top:74px;background:linear-gradient(90deg,#558ac5,#4c7cc0,#5488c5,#4d7cc0,#4f81c2,#4e7fc1,#4b7abf,#4f81c2,#5082c2,#5e95ca,#6299cc,#629acd,#6198cc,#5489c5,#5184c3,#5082c2,#5185c3,#4f80c2,#5183c3,#4a78bf,#4f81c2,#4a78bf)"></i><i style="top:75px;background:linear-gradient(90deg,#4875be,#4c7cc0,#5081c2,#4d7dc1,#5489c5,#5082c2,#4f81c2,#4f81c2,#4c7cc0,#5a91c8,#69a1d0,#75aed6,#558ac5,#5184c3,#4c7bc0,#4e7fc1,#4672bd,#4e7fc1,#4d7dc1,#4e7ec1,#598fc8,#4d7dc0)"></i><i style="top:76px;background:linear-gradient(90deg,#5286c4,#5082c3,#558ac5,#5c93c9,#588ec7,#5285c4,#4c7bc0,#5488c5,#4e7fc1,#598fc8,#6aa2d1,#669ecf,#5f96cb,#5387c4,#4f80c2,#5286c4,#4d7ec1,#568bc6,#5387c4,#4e80c2,#5285c4,#4d7ec1)"></i><i style="top:77px;background:linear-gradient(90deg,#4e7ec1,#5489c5,#4a78bf,#5286c4,#5a90c8,#4774bd,#5e95ca,#4a78bf,#4b7ac0,#5286c4,#659dce,#69a1d0,#5387c4,#5488c5,#558bc6,#4e7ec1,#5184c3,#5387c4,#588fc7,#5082c2,#5387c4,#5286c4)"></i><i style="top:78px;background:linear-gradient(90deg,#5285c3,#5082c2,#5387c4,#5489c5,#4c7bc0,#5082c2,#5388c4,#5489c5,#588ec7,#6da5d2,#76afd7,#669dce,#6ca4d2,#5387c4,#4f81c2,#578dc6,#5082c3,#4a79bf,#5488c5,#5387c4,#5488c5,#4b7bc0)"></i><i style="top:79px;background:linear-gradient(90deg,#558ac5,#4f80c2,#558ac5,#4c7cc0,#4d7ec1,#4977be,#4f80c2,#588ec7,#578dc6,#5c93c9,#78b0d7,#70a8d4,#669dce,#588ec7,#5286c4,#5286c4,#5387c4,#568cc6,#5488c5,#558ac5,#4d7dc0,#4977bf)"></i><i style="top:80px;background:linear-gradient(90deg,#598fc8,#588ec7,#5a90c8,#5286c4,#588ec7,#5286c4,#588fc7,#598fc8,#5d93ca,#6ba3d1,#73acd6,#77afd7,#6ea6d3,#69a1d0,#5c93c9,#5e94ca,#5b92c9,#639acd,#669ecf,#5488c5,#5c92c9,#598fc8)"></i><i style="top:81px;background:linear-gradient(90deg,#629acd,#4c7cc0,#5488c5,#4f81c2,#6198cc,#598fc8,#5d93c9,#5c93c9,#6097cb,#6ca4d2,#73acd6,#679fcf,#6ba3d1,#5d94ca,#568bc6,#5489c5,#6198cc,#5388c4,#5285c4,#5c92c9,#6199cc,#5184c3)"></i><i style="top:82px;background:linear-gradient(90deg,#4c7cc0,#4c7cc0,#5286c4,#5387c4,#578dc6,#5183c3,#5082c3,#5081c2,#5c92c9,#5a90c8,#669dce,#6aa2d1,#5e95ca,#568cc6,#4f81c2,#5a91c8,#5b91c9,#4c7bc0,#5184c3,#4c7cc0,#4f81c2,#4b7bc0)"></i><i style="top:83px;background:linear-gradient(90deg,#4f81c2,#5285c3,#5184c3,#4b7ac0,#4875be,#4977be,#568cc6,#5184c3,#558ac5,#68a0d0,#649bcd,#6ea7d3,#598fc7,#558bc5,#4a78bf,#4f81c2,#5083c3,#5184c3,#4b79bf,#5081c2,#5489c5,#5082c3)"></i><i style="top:84px;background:linear-gradient(90deg,#578dc6,#558bc6,#5488c5,#5184c3,#5387c4,#4f80c2,#568cc6,#558bc6,#5f96cb,#72aad5,#75aed6,#73abd5,#639acd,#5d94ca,#5d93ca,#5285c4,#4e7ec1,#4d7dc1,#588ec7,#558ac5,#558ac5,#4c7bc0)"></i><i style="top:85px;background:linear-gradient(90deg,#5083c3,#4c7cc0,#4e7fc1,#5083c3,#5082c2,#5c93c9,#4e7fc1,#5184c3,#5387c4,#6198cc,#73acd6,#68a0d0,#558bc5,#558ac5,#568bc6,#4f80c2,#588ec7,#4e80c2,#5082c2,#5184c3,#5e95ca,#568cc6)"></i><i style="top:86px;background:linear-gradient(90deg,#4b79bf,#4570bc,#456fbb,#4672bd,#5082c2,#4f80c2,#4a78bf,#4774bd,#4570bc,#5083c3,#6097cc,#6198cc,#5489c5,#4a78bf,#4c7cc0,#4976be,#4d7dc1,#4a79bf,#4c7cc0,#4b79bf,#4774bd,#4e7fc1)"></i><i style="top:87px;background:linear-gradient(90deg,#4570bc,#4c7bc0,#4774bd,#4874be,#4a79bf,#4773bd,#4570bc,#4672bd,#4875be,#5286c4,#5e95ca,#5b92c9,#4c7bc0,#4d7dc1,#4e7fc1,#4570bc,#4571bc,#4d7dc1,#4876be,#4e7ec1,#4875be,#436dba)"></i><i style="top:88px;background:linear-gradient(90deg,#4c7cc0,#4c7cc0,#4e7ec1,#4977be,#4b79bf,#558ac5,#4b79bf,#5489c5,#4b7ac0,#568cc6,#649cce,#68a0cf,#558bc6,#4d7dc1,#4e7fc1,#4773bd,#426bb9,#4672bd,#5387c4,#5082c2,#5489c5,#4f80c2)"></i><i style="top:89px;background:linear-gradient(90deg,#4672bd,#4876be,#4e7ec1,#4977be,#4976be,#4875be,#4a78bf,#4671bc,#5184c3,#5286c4,#6aa2d1,#6da5d2,#558ac5,#5489c5,#5286c4,#4e7ec1,#4c7bc0,#5285c4,#4f81c2,#4c7bc0,#4a79bf,#4d7cc0)"></i><i style="top:90px;background:linear-gradient(90deg,#588ec7,#568cc6,#5183c3,#5386c4,#5489c5,#5285c3,#5387c4,#5082c3,#5387c4,#6299cc,#6ea6d3,#6aa2d1,#70a8d4,#568bc6,#588ec7,#558ac5,#5184c3,#568cc6,#598fc8,#5388c4,#558bc6,#669dce)"></i><i style="top:91px;background:linear-gradient(90deg,#5082c2,#5286c4,#568bc6,#5388c4,#5082c2,#5184c3,#5386c4,#5387c4,#578dc6,#6ba3d1,#6da6d3,#69a1d0,#659cce,#5b92c9,#5082c2,#5184c3,#4f80c2,#558ac5,#578ec7,#5286c4,#5a91c8,#5184c3)"></i><i style="top:92px;background:linear-gradient(90deg,#4875be,#4977bf,#4a79bf,#5083c3,#4570bc,#4c7bc0,#4a79bf,#4f81c2,#4773bd,#4d7dc1,#679ecf,#639bcd,#568cc6,#4c7bc0,#4f80c2,#4a78bf,#4570bc,#4977be,#4976be,#4571bc,#4774bd,#4773bd)"></i><i style="top:93px;background:linear-gradient(90deg,#4c7bc0,#4e7ec1,#4e7fc1,#4e7fc1,#4570bc,#4c7cc0,#4d7dc1,#4c7cc0,#4976be,#4671bc,#5b91c9,#558ac5,#558bc5,#4672bd,#4d7dc1,#4875be,#446fbb,#4875be,#4977be,#4d7dc1,#4d7dc1,#4f80c2)"></i><i style="top:94px;background:linear-gradient(90deg,#598fc7,#5386c4,#5386c4,#558ac5,#5387c4,#4e7ec1,#4c7cc0,#5a90c8,#598fc7,#6fa7d3,#69a0d0,#74add6,#6299cc,#5b92c9,#558bc6,#5b92c9,#578dc6,#5286c4,#5489c5,#5388c4,#558ac5,#558bc6)"></i><i style="top:95px;background:linear-gradient(90deg,#5386c4,#5285c4,#5489c5,#4d7dc1,#568cc6,#568cc6,#4875be,#5183c3,#578ec7,#5387c4,#6fa7d3,#73acd5,#649bcd,#5e95cb,#558ac5,#5a90c8,#588ec7,#5488c5,#558ac5,#4e7ec1,#4f80c2,#5a91c8)"></i><i style="top:96px;background:linear-gradient(90deg,#568bc6,#4e7fc1,#4b7ac0,#4977be,#568cc6,#5387c4,#5c92c9,#588ec7,#6198cc,#6198cc,#6299cc,#639bcd,#639acd,#4e7fc1,#5489c5,#5082c2,#578dc7,#4f80c2,#4e7fc1,#558bc6,#446ebb,#568bc6)"></i><i style="top:97px;background:linear-gradient(90deg,#5286c4,#4f80c2,#5489c5,#4f81c2,#5488c5,#5285c3,#558ac5,#4e7fc1,#5184c3,#689fcf,#679fcf,#649bcd,#558ac5,#5285c3,#5387c4,#4c7cc0,#5184c3,#5082c3,#4977be,#5184c3,#568cc6,#4f81c2)"></i><i style="top:98px;background:linear-gradient(90deg,#4f80c2,#5183c3,#4d7dc1,#4876be,#5082c2,#4e7fc1,#4d7dc1,#568cc6,#5286c4,#5488c5,#5d94ca,#6da6d2,#5d94ca,#4b79bf,#5387c4,#4e7ec1,#4d7ec1,#5489c5,#5386c4,#4c7cc0,#5081c2,#5286c4)"></i><i style="top:99px;background:linear-gradient(90deg,#4f81c2,#5184c3,#4d7dc1,#558ac5,#568bc6,#4d7dc1,#4a78bf,#4e7fc1,#558bc6,#588ec7,#6198cc,#639acd,#5083c3,#5285c3,#5082c2,#4d7dc1,#5387c4,#4d7dc1,#4d7dc1,#5286c4,#5286c4,#5082c2)"></i><i style="top:100px;background:linear-gradient(90deg,#5081c2,#5083c3,#5082c2,#4b79bf,#5286c4,#588ec7,#5083c3,#4e7fc1,#568bc6,#5990c8,#5a90c8,#5e95cb,#5387c4,#558ac5,#4a78bf,#5489c5,#4c7bc0,#5082c2,#4d7dc1,#5083c3,#5388c4,#5184c3)"></i><i style="top:101px;background:linear-gradient(90deg,#4a78bf,#4e7ec1,#4f81c2,#578dc6,#4d7cc0,#4d7dc1,#4c7bc0,#4f80c2,#5388c4,#5184c3,#69a1d0,#689fcf,#5a91c8,#5388c4,#5c92c9,#4a79bf,#4c7cc0,#598fc7,#4a78bf,#5082c2,#4e7fc1,#4b7abf)"></i><i style="top:102px;background:linear-gradient(90deg,#4773bd,#4a78bf,#4c7bc0,#4d7dc1,#4d7dc1,#4b7abf,#4b7abf,#4e7ec1,#4a78bf,#4b7bc0,#5d94ca,#4e7fc1,#5387c4,#5285c4,#4672bd,#426ab8,#4774bd,#4c7bc0,#4773bd,#4f80c2,#4d7ec1,#4773bd)"></i><i style="top:103px;background:linear-gradient(90deg,#4e7ec1,#456fbc,#4976be,#4c7bc0,#5082c3,#4e7fc1,#5184c3,#4570bc,#5d93c9,#4d7dc1,#588fc7,#6299cc,#5387c4,#5185c3,#4672bd,#4672bd,#4976be,#4875be,#4b7ac0,#4977bf,#4671bc,#4c7bc0)"></i><i style="top:104px;background:linear-gradient(90deg,#4570bc,#4875be,#4c7cc0,#4774bd,#4b7abf,#4e7ec1,#5184c3,#5083c3,#5083c3,#5387c4,#5184c3,#5386c4,#4d7dc1,#4a79bf,#4b7abf,#4773bd,#4977be,#5081c2,#4977be,#436cba,#4a78bf,#4a79bf)"></i><i style="top:105px;background:linear-gradient(90deg,#4977bf,#5488c5,#4f80c2,#5285c4,#4876be,#4e7fc1,#4c7cc0,#4b7ac0,#4977be,#5184c3,#4e7ec1,#5d93ca,#6198cc,#5387c4,#436cb9,#4c7bc0,#4875be,#4876be,#4a78bf,#5082c2,#4e7fc1,#4774bd)"></i><i style="top:106px;background:linear-gradient(90deg,#4f81c2,#4e7ec1,#558bc6,#4773bd,#4d7cc0,#4977be,#4d7dc1,#4570bc,#4b7abf,#5285c4,#558ac5,#5489c5,#5285c4,#4c7cc0,#4a77bf,#4c7cc0,#4d7dc1,#4e7fc1,#4671bc,#4b7ac0,#5285c4,#4773bd)"></i><i style="top:107px;background:linear-gradient(90deg,#4d7ec1,#4b7abf,#5184c3,#5285c4,#4e7fc1,#4b7abf,#4773bd,#4b7ac0,#4b7ac0,#5286c4,#639bcd,#669dce,#5388c5,#4f81c2,#4d7dc1,#4e7fc1,#4c7cc0,#5489c5,#4a78bf,#4d7ec1,#4a79bf,#5183c3)"></i><i style="top:108px;background:linear-gradient(90deg,#558ac5,#5082c3,#4e7fc1,#4e7ec1,#5082c2,#4b7bc0,#5489c5,#558ac5,#5387c4,#568cc6,#568bc6,#659dce,#4d7dc1,#4c7cc0,#578dc6,#4c7bc0,#4a79bf,#4773bd,#5285c3,#5286c4,#4e7fc1,#4773bd)"></i><i style="top:109px;background:linear-gradient(90deg,#4d7dc1,#4a79bf,#5184c3,#5388c5,#4f81c2,#4f81c2,#5488c5,#558ac5,#4a78bf,#5489c5,#5286c4,#5489c5,#588ec7,#4a79bf,#4d7ec1,#5387c4,#4f81c2,#4773bd,#4d7dc1,#4d7dc1,#4a78bf,#568cc6)"></i><i style="top:110px;background:linear-gradient(90deg,#5489c5,#5489c5,#5a90c8,#558ac5,#4f80c2,#5489c5,#568cc6,#558ac5,#5d93c9,#6198cc,#679ecf,#6299cc,#5b92c9,#639acd,#4e7ec1,#5b91c9,#568cc6,#5184c3,#5489c5,#578dc7,#4e80c2,#558ac5)"></i><i style="top:111px;background:linear-gradient(90deg,#578dc6,#5183c3,#558ac5,#5d93ca,#558ac5,#5183c3,#4e7ec1,#4d7ec1,#5c93c9,#5990c8,#6299cc,#6198cc,#568cc6,#6299cc,#588ec7,#5d94ca,#4f81c2,#578dc7,#578ec7,#5081c2,#5183c3,#5184c3)"></i><i style="top:112px;background:linear-gradient(90deg,#5081c2,#4c7cc0,#4976be,#4e7fc1,#4976be,#4c7cc0,#4b7ac0,#4875be,#5183c3,#5082c2,#4b7abf,#5388c4,#568cc6,#446eba,#4f81c2,#4c7cc0,#4773bd,#4b7bc0,#4773bd,#4571bc,#4d7dc1,#4d7dc0)"></i><i style="top:113px;background:linear-gradient(90deg,#446fbb,#4977bf,#4c7bc0,#4570bc,#5082c2,#4976be,#4d7dc1,#4e7fc1,#4976be,#5184c3,#5489c5,#558bc6,#4e7fc1,#5183c3,#4f80c2,#5285c3,#5082c2,#4672bd,#4977be,#4d7ec1,#4f81c2,#4976be)"></i><i style="top:114px;background:linear-gradient(90deg,#4d7dc1,#4e7fc1,#4d7cc0,#5184c3,#4977be,#4f81c2,#4a78bf,#4f80c2,#4a79bf,#5082c2,#5b91c8,#5184c3,#5184c3,#5183c3,#4d7dc1,#4c7bc0,#4d7dc1,#4977bf,#5082c2,#5082c2,#5489c5,#4e7fc1)"></i><i style="top:115px;background:linear-gradient(90deg,#5184c3,#4b7ac0,#4f80c2,#4977bf,#4e7fc1,#4c7bc0,#5184c3,#4570bc,#4d7ec1,#5081c2,#588ec7,#5285c3,#4f81c2,#5387c4,#4b79bf,#4b7bc0,#5285c3,#456fbc,#4f80c2,#4e7fc2,#4e7fc1,#4671bd)"></i><i style="top:116px;background:linear-gradient(90deg,#436cba,#4571bc,#4570bc,#4b7ac0,#4773bd,#4e7fc1,#4976be,#4b7ac0,#4773bd,#4a78bf,#5285c3,#5388c5,#4a78bf,#4f80c2,#4875be,#4f80c2,#446ebb,#4774bd,#4b7ac0,#4876be,#4672bd,#4b7ac0)"></i><i style="top:117px;background:linear-gradient(90deg,#4c7cc0,#4773bd,#4c7bc0,#4773bd,#4671bc,#4e7fc1,#4672bd,#4773bd,#4d7dc0,#4875be,#4c7bc0,#4f80c2,#4c7cc0,#4d7ec1,#4875be,#4672bd,#446dba,#4774bd,#4773bd,#4d7dc1,#426bb9,#426ab8)"></i><i style="top:118px;background:linear-gradient(90deg,#4976be,#4f81c2,#5285c4,#578dc6,#4a78bf,#5183c3,#4e7ec1,#578dc7,#5286c4,#5c92c9,#578dc6,#5f95cb,#558ac5,#4e7fc1,#5489c5,#4f80c2,#4773bd,#5081c2,#4b7ac0,#5286c4,#568cc6,#5184c3)"></i><i style="top:119px;background:linear-gradient(90deg,#5286c4,#4b7ac0,#4d7dc1,#4e7ec1,#5990c8,#4e7fc1,#5184c3,#4976be,#4f80c2,#5488c5,#568cc6,#558bc5,#558ac5,#5387c4,#4b7ac0,#4b79bf,#5286c4,#5387c4,#4b79bf,#5386c4,#4a79bf,#4f81c2)"></i><i style="top:120px;background:linear-gradient(90deg,#5489c5,#4976be,#4f81c2,#4e80c2,#4b79bf,#5286c4,#4c7bc0,#4d7dc1,#4c7bc0,#5489c5,#598fc7,#5e95ca,#5184c3,#4d7dc1,#558bc6,#4d7dc1,#5285c4,#568cc6,#5286c4,#4875be,#4b7ac0,#4c7cc0)"></i><i style="top:121px;background:linear-gradient(90deg,#5386c4,#4c7cc0,#5286c4,#5082c3,#5082c2,#4f81c2,#4c7cc0,#558ac5,#5083c3,#5a90c8,#5184c3,#4e7fc1,#598fc7,#4b7ac0,#5082c2,#4e7ec1,#4f80c2,#4e7fc1,#4b79bf,#4a79bf,#5082c2,#4c7cc0)"></i><i style="top:122px;background:linear-gradient(90deg,#5e94ca,#5488c5,#5b92c9,#5184c3,#578dc7,#5184c3,#5081c2,#5286c4,#5387c4,#68a0d0,#5388c4,#568cc6,#5b91c9,#5387c4,#5489c5,#578dc6,#5387c4,#5083c3,#4e7fc1,#5387c4,#568bc6,#5489c5)"></i><i style="top:123px;background:linear-gradient(90deg,#5a90c8,#5285c3,#5489c5,#5082c2,#4c7bc0,#568bc6,#5184c3,#568cc6,#5184c3,#4f81c2,#558ac5,#588ec7,#5387c4,#5387c4,#568bc6,#5387c4,#558bc6,#5386c4,#5083c3,#4f81c2,#4a79bf,#568bc6)"></i><i style="top:124px;background:linear-gradient(90deg,#5f95cb,#5286c4,#5386c4,#5387c4,#598fc8,#578ec7,#558bc6,#568dc6,#5082c3,#5a90c8,#5e94ca,#629acd,#568cc6,#558ac5,#588fc7,#6aa2d1,#5489c5,#659dce,#5387c4,#578dc7,#5386c4,#6098cc)"></i><i style="top:125px;background:linear-gradient(90deg,#3d61b3,#3e61b3,#4168b7,#426ab8,#3a5baf,#3e62b3,#3b5cb0,#4169b7,#3551a8,#4774bd,#4066b6,#3958ad,#4066b6,#3a5aae,#3d60b2,#3d61b3,#4168b7,#3652a9,#3e63b4,#4169b7,#3856ac,#4066b5)"></i><i style="top:126px;background:linear-gradient(90deg,#4066b6,#3b5caf,#3651a9,#3e61b3,#3b5cb0,#436cb9,#3c5eb1,#4065b5,#3f63b4,#3f65b5,#3c5eb1,#3e62b3,#3f64b5,#3d60b2,#3d5fb1,#4066b6,#3d60b2,#4065b5,#3d61b2,#3e63b4,#3b5caf,#3754ab)"></i></div>
<div class="hm" style="left:612px;top:182px;width:42px;height:127px"><i style="top:0px;background:linear-gradient(90deg,#dff2f8,#b1dceb,#fdbc6e,#e8f6e9,#fff6b1,#c8e7f1,#dcf1f7,#ecf8e2,#fecc7d,#fedc8c,#fdb265,#fed384,#fed586,#e7f6eb,#ceeaf3,#fedf8f,#cce9f2,#fffcba,#d3edf4,#b8dfed,#f1fad9,#c1e4ef)"></i><i style="top:1px;background:linear-gradient(90deg,#82b8db,#87bcdd,#83b9db,#88bddd,#82b8db,#85bbdc,#7fb6da,#89bedd,#7bb2d8,#85badc,#86bbdc,#78b0d7,#7cb4d9,#7db4d9,#83b9db,#82b8db,#82b8db,#86bbdc,#8dc1df,#7fb6da,#85bbdc,#84badb)"></i><i style="top:2px;background:linear-gradient(90deg,#6ca4d2,#5d94ca,#5f96cb,#6299cc,#6299cc,#68a0d0,#659cce,#5d94ca,#639bcd,#5f96cb,#639bcd,#669ecf,#639bcd,#6da5d2,#71aad5,#69a1d0,#6097cb,#6ea6d3,#71a9d4,#669ecf,#69a1d0,#6ca4d2)"></i><i style="top:3px;background:linear-gradient(90deg,#669ecf,#6ba3d1,#68a0d0,#639acd,#639acd,#649cce,#6299cd,#6ca4d2,#679fcf,#649cce,#69a1d0,#669dce,#6aa2d1,#6da5d2,#669ecf,#639acd,#6097cb,#6ea6d3,#679fcf,#639acd,#659cce,#6097cb)"></i><i style="top:4px;background:linear-gradient(90deg,#69a1d0,#649bcd,#6198cc,#5c92c9,#6da5d2,#639acd,#588ec7,#6097cb,#629acd,#639bcd,#5d94ca,#68a0d0,#659dce,#639acd,#6096cb,#5a91c8,#6097cc,#6299cc,#5d94ca,#649bcd,#669ecf,#6097cc)"></i><i style="top:5px;background:linear-gradient(90deg,#5f96cb,#6198cc,#69a1d0,#68a0cf,#5990c8,#5f96cb,#6da5d2,#6097cb,#69a1d0,#639bcd,#679fcf,#5f96cb,#6299cc,#649bcd,#6198cc,#6198cc,#68a0d0,#6097cc,#679fcf,#5e95ca,#6097cb,#659cce)"></i><i style="top:6px;background:linear-gradient(90deg,#5990c8,#5c92c9,#578dc7,#578dc6,#558bc6,#5286c4,#558bc6,#5c92c9,#578dc6,#588ec7,#5d94ca,#5489c5,#598fc7,#558ac5,#5c93c9,#5387c4,#568bc6,#558bc6,#568bc6,#558ac5,#6097cb,#568cc6)"></i><i style="top:7px;background:linear-gradient(90deg,#558bc6,#5285c4,#5286c4,#5488c5,#5286c4,#588ec7,#5489c5,#558ac5,#558bc6,#5388c4,#5286c4,#5489c5,#568cc6,#558bc6,#5388c5,#5d94ca,#578dc7,#598fc7,#5d93ca,#5388c4,#5a90c8,#578dc6)"></i><i style="top:8px;background:linear-gradient(90deg,#6198cc,#588ec7,#5c92c9,#5f96cb,#5f96cb,#679ecf,#5e94ca,#6098cc,#5e95ca,#5990c8,#5e95ca,#6097cb,#679fcf,#659dce,#5d94ca,#5b92c9,#5f96cb,#5d93ca,#6ba3d1,#639bcd,#5f96cb,#5d94ca)"></i><i style="top:9px;background:linear-gradient(90deg,#598fc8,#5d94ca,#5488c5,#5c93c9,#5c92c9,#659cce,#568cc6,#6299cc,#5c93c9,#6299cc,#5a91c8,#6097cb,#6299cc,#6aa2d1,#5a91c8,#5d94ca,#5d94ca,#5b92c9,#5d94ca,#5e95ca,#5c93c9,#568cc6)"></i><i style="top:10px;background:linear-gradient(90deg,#588ec7,#5286c4,#568cc6,#5b92c9,#5387c4,#568cc6,#578ec7,#568cc6,#558ac5,#578dc6,#5a90c8,#5488c5,#568cc6,#5a90c8,#558ac5,#5387c4,#5a90c8,#5a90c8,#5b91c9,#568cc6,#558ac5,#5e94ca)"></i><i style="top:11px;background:linear-gradient(90deg,#5c93c9,#5a90c8,#558ac5,#578dc6,#5489c5,#5388c5,#578dc6,#588ec7,#598fc8,#578dc6,#6097cb,#5488c5,#5c93c9,#558bc6,#5b91c9,#5488c5,#6198cc,#5d94ca,#5285c4,#5c93c9,#578dc7,#5b91c8)"></i><i style="top:12px;background:linear-gradient(90deg,#578dc6,#568cc6,#5387c4,#558bc6,#578dc6,#5285c4,#5488c5,#578dc6,#598fc8,#558bc6,#5d94ca,#558bc5,#5a90c8,#5d94ca,#5489c5,#5c93c9,#568cc6,#5489c5,#5e95ca,#5e95ca,#568bc6,#5c92c9)"></i><i style="top:13px;background:linear-gradient(90deg,#5b92c9,#578dc6,#6198cc,#568cc6,#558ac5,#578dc6,#568cc6,#558bc6,#568cc6,#5387c4,#5a90c8,#5387c4,#5c93c9,#5a90c8,#558bc6,#558bc6,#558ac5,#578dc6,#5f96cb,#588fc7,#558bc6,#5f96cb)"></i><i style="top:14px;background:linear-gradient(90deg,#5386c4,#5386c4,#5c92c9,#558bc6,#578dc7,#558bc6,#558ac5,#558bc6,#568bc6,#5c93c9,#5183c3,#4d7ec1,#5387c4,#5082c2,#5489c5,#5083c3,#5488c5,#578dc6,#5286c4,#5285c3,#568bc6,#5285c3)"></i><i style="top:15px;background:linear-gradient(90deg,#5388c4,#5387c4,#5082c3,#568cc6,#5183c3,#568cc6,#558ac5,#5183c3,#5386c4,#568cc6,#5387c4,#5c92c9,#5184c3,#578dc7,#4f81c2,#5387c4,#568cc6,#4e80c2,#5489c5,#5183c3,#5082c2,#5285c3)"></i><i style="top:16px;background:linear-gradient(90deg,#5386c4,#5387c4,#5286c4,#5285c3,#4d7dc1,#598fc7,#5c93c9,#558bc6,#5387c4,#5184c3,#558ac5,#558ac5,#5285c3,#5488c5,#568cc6,#558ac5,#5488c5,#5489c5,#5286c4,#5488c5,#5489c5,#5285c4)"></i><i style="top:17px;background:linear-gradient(90deg,#5488c5,#578dc6,#578dc7,#4e7fc1,#5082c3,#578dc7,#558ac5,#558bc5,#5082c3,#5489c5,#558bc6,#558ac5,#5285c4,#5286c4,#558ac5,#5489c5,#588fc7,#4e7fc1,#5286c4,#588ec7,#5184c3,#5489c5)"></i><i style="top:18px;background:linear-gradient(90deg,#588ec7,#5183c3,#5489c5,#5a91c8,#5082c2,#4e7fc1,#568cc6,#5286c4,#5387c4,#5488c5,#578dc7,#5386c4,#568cc6,#558bc6,#5388c4,#568cc6,#5489c5,#5387c4,#6096cb,#4e7fc1,#5083c3,#5183c3)"></i><i style="top:19px;background:linear-gradient(90deg,#5286c4,#5488c5,#5387c4,#5c92c9,#5285c4,#5083c3,#5388c4,#5286c4,#5285c4,#568cc6,#5489c5,#568dc6,#5083c3,#558ac5,#5388c4,#5285c3,#4f81c2,#5387c4,#5082c3,#558bc6,#548ac5,#558ac5)"></i><i style="top:20px;background:linear-gradient(90deg,#649cce,#5d94ca,#5184c3,#5a90c8,#588ec7,#588ec7,#558bc6,#5b92c9,#4f81c2,#5387c4,#5a90c8,#588ec7,#5b92c9,#568bc6,#558bc5,#5b91c8,#588ec7,#5285c4,#5b92c9,#5488c5,#5b92c9,#588ec7)"></i><i style="top:21px;background:linear-gradient(90deg,#5a90c8,#5c92c9,#5488c5,#5a90c8,#578dc6,#568cc6,#578dc6,#558bc5,#578dc7,#588ec7,#558ac5,#5c93c9,#578dc7,#5488c5,#598fc8,#5990c8,#5386c4,#588ec7,#558bc6,#588ec7,#568cc6,#598fc7)"></i><i style="top:22px;background:linear-gradient(90deg,#5388c4,#4d7dc1,#5387c4,#5489c5,#558ac5,#568cc6,#5488c5,#578dc6,#558bc6,#5285c3,#5184c3,#568dc6,#558ac5,#4e7fc1,#5082c2,#568cc6,#5388c4,#4e7fc1,#5489c5,#568bc6,#558ac5,#5387c4)"></i><i style="top:23px;background:linear-gradient(90deg,#5286c4,#5184c3,#5184c3,#5488c5,#5c93c9,#5d93ca,#5286c4,#4f80c2,#5386c4,#5285c4,#5286c4,#4e7fc1,#5386c4,#5184c3,#5387c4,#4f80c2,#5387c4,#5081c2,#5183c3,#5184c3,#5184c3,#5184c3)"></i><i style="top:24px;background:linear-gradient(90deg,#5388c4,#5388c4,#5387c4,#5388c4,#5489c5,#5d94ca,#588fc7,#5388c4,#5184c3,#5a90c8,#558ac5,#568cc6,#5a90c8,#5082c2,#5388c4,#558bc6,#5b91c9,#558ac5,#558bc5,#558ac5,#558ac5,#558bc6)"></i><i style="top:25px;background:linear-gradient(90deg,#5388c4,#5387c4,#5488c5,#578dc7,#5a90c8,#558bc6,#5489c5,#5a90c8,#578dc6,#578ec7,#558ac5,#5488c5,#568cc6,#5489c5,#5a90c8,#5386c4,#568cc6,#558ac5,#5286c4,#5489c5,#5286c4,#5489c5)"></i><i style="top:26px;background:linear-gradient(90deg,#5286c4,#5d94ca,#5083c3,#558ac5,#5285c4,#5489c5,#5286c4,#5184c3,#588ec7,#568cc6,#4e7fc2,#5387c4,#5286c4,#4f80c2,#5488c5,#5489c5,#5387c4,#5489c5,#598fc8,#5285c4,#578dc6,#5b92c9)"></i><i style="top:27px;background:linear-gradient(90deg,#4b7ac0,#5286c4,#578dc7,#5489c5,#5184c3,#578ec7,#558bc6,#4f80c2,#558bc6,#5386c4,#5488c5,#5082c2,#5489c5,#5388c5,#5083c3,#5286c4,#578ec7,#588ec7,#4f80c2,#5489c5,#5286c4,#5285c3)"></i><i style="top:28px;background:linear-gradient(90deg,#5184c3,#558ac5,#5285c4,#4e7fc1,#5183c3,#5285c3,#5388c5,#5083c3,#5184c3,#5184c3,#5286c4,#4b7bc0,#5489c5,#5184c3,#5183c3,#4e7ec1,#5184c3,#568cc6,#4f80c2,#4c7cc0,#5285c3,#5183c3)"></i><i style="top:29px;background:linear-gradient(90deg,#5083c3,#4c7cc0,#5285c3,#5286c4,#4570bc,#5184c3,#5286c4,#4e7fc1,#4b79bf,#5183c3,#568cc6,#5184c3,#578dc6,#5184c3,#5082c2,#4e7fc1,#5489c5,#4d7dc1,#4f80c2,#4f81c2,#5184c3,#5183c3)"></i><i style="top:30px;background:linear-gradient(90deg,#5184c3,#5285c3,#5c93c9,#558bc5,#558ac5,#5489c5,#568bc6,#5387c4,#5990c8,#588ec7,#558ac5,#588fc7,#5489c5,#5488c5,#598fc7,#558ac5,#5387c4,#5c92c9,#5489c5,#568cc6,#5b92c9,#5185c3)"></i><i style="top:31px;background:linear-gradient(90deg,#5489c5,#598fc7,#5489c5,#5488c5,#5489c5,#5489c5,#5489c5,#568cc6,#558ac5,#5c93c9,#568cc6,#5c92c9,#558bc6,#5c93c9,#5489c5,#5a90c8,#558bc6,#5c92c9,#5387c4,#5488c5,#568cc6,#5286c4)"></i><i style="top:32px;background:linear-gradient(90deg,#5b92c9,#558ac5,#578dc6,#598fc8,#578dc7,#5387c4,#5185c3,#5183c3,#5386c4,#5387c4,#5387c4,#568cc6,#5184c3,#5183c3,#558bc6,#5d93ca,#5386c4,#558ac5,#558ac5,#5990c8,#588fc7,#5488c5)"></i><i style="top:33px;background:linear-gradient(90deg,#598fc7,#558bc5,#588ec7,#5d93ca,#4f81c2,#5184c3,#5184c3,#5285c3,#558bc6,#558bc6,#5c93c9,#5b91c9,#568cc6,#558ac5,#578dc7,#568cc6,#5488c5,#578ec7,#5488c5,#558ac5,#548ac5,#5388c4)"></i><i style="top:34px;background:linear-gradient(90deg,#5387c4,#558ac5,#5489c5,#5184c3,#5c92c9,#5c92c9,#5b92c9,#598fc8,#5489c5,#5286c4,#5285c4,#5082c2,#5488c5,#5082c2,#558ac5,#558bc6,#5387c4,#5387c4,#5489c5,#568cc6,#5488c5,#5c92c9)"></i><i style="top:35px;background:linear-gradient(90deg,#5286c4,#5387c4,#5387c4,#5489c5,#558bc5,#568cc6,#5488c5,#5b91c9,#5081c2,#558bc6,#558ac5,#5184c3,#5183c3,#558ac5,#598fc7,#568bc6,#5489c5,#5488c5,#5387c4,#5388c4,#568cc6,#588fc7)"></i><i style="top:36px;background:linear-gradient(90deg,#4c7bc0,#4876be,#4c7bc0,#4d7dc1,#4571bc,#4b7ac0,#4976be,#4a79bf,#4773bd,#4774bd,#4a78bf,#4976be,#4976be,#4875be,#4b7ac0,#4d7dc1,#4874be,#4b7abf,#4977be,#4b7abf,#4d7dc1,#4b7abf)"></i><i style="top:37px;background:linear-gradient(90deg,#4a78bf,#4774bd,#4d7dc1,#4e80c2,#4570bc,#4c7bc0,#4a78bf,#4773bd,#4f80c2,#4b7bc0,#5081c2,#4875be,#4976be,#4672bd,#4a79bf,#4671bc,#4977be,#4d7dc1,#4b7bc0,#4d7dc0,#4a79bf,#4c7cc0)"></i><i style="top:38px;background:linear-gradient(90deg,#588ec7,#5489c5,#5b91c9,#588ec7,#558bc6,#558ac5,#5e95ca,#5387c4,#558bc6,#5a91c8,#5b92c9,#5a90c8,#5388c5,#5e94ca,#588ec7,#5488c5,#5e94ca,#588ec7,#5386c4,#5083c3,#588ec7,#568cc6)"></i><i style="top:39px;background:linear-gradient(90deg,#5a90c8,#598fc8,#558bc6,#5a91c8,#5990c8,#558ac5,#5c93c9,#5990c8,#588ec7,#5a90c8,#558bc6,#558bc6,#588ec7,#558ac5,#5f96cb,#5a90c8,#5c92c9,#6198cc,#5f96cb,#6299cd,#558bc5,#6097cb)"></i><i style="top:40px;background:linear-gradient(90deg,#5387c4,#5388c4,#5489c5,#5489c5,#5488c5,#558ac5,#5990c8,#4e7fc1,#5082c2,#5083c3,#558ac5,#5489c5,#558ac5,#5b92c9,#5489c5,#5082c3,#558ac5,#5b91c9,#5c92c9,#5488c5,#5489c5,#558ac5)"></i><i style="top:41px;background:linear-gradient(90deg,#558bc6,#5388c4,#5386c4,#5990c8,#5990c8,#5489c5,#5286c4,#5286c4,#5183c3,#5183c3,#5387c4,#5285c4,#558ac5,#5286c4,#5184c3,#5387c4,#4d7ec1,#558ac5,#5387c4,#598fc7,#5386c4,#5388c4)"></i><i style="top:42px;background:linear-gradient(90deg,#4e7fc1,#568cc6,#5184c3,#5488c5,#5082c2,#5286c4,#4e7fc1,#4f80c2,#5082c2,#4e7fc1,#5286c4,#5387c4,#5488c5,#4e7fc1,#4f80c2,#5083c3,#5286c4,#4d7dc1,#5082c2,#5387c4,#5183c3,#5082c3)"></i><i style="top:43px;background:linear-gradient(90deg,#4d7ec1,#5081c2,#5286c4,#5387c4,#4c7cc0,#5185c3,#4f81c2,#4e7fc1,#558bc6,#5286c4,#4e7ec1,#4e7ec1,#5184c3,#4c7cc0,#5082c2,#5285c3,#4d7dc1,#5183c3,#5285c3,#4f80c2,#5184c3,#5286c4)"></i><i style="top:44px;background:linear-gradient(90deg,#5f96cb,#5a90c8,#6198cc,#5b92c9,#5e95ca,#5d94ca,#5d94ca,#558ac5,#6299cc,#5f96cb,#5e94ca,#6097cb,#5b91c9,#5c93c9,#5f96cb,#5489c5,#5990c8,#5a91c8,#5c92c9,#5a91c8,#5990c8,#5e95ca)"></i><i style="top:45px;background:linear-gradient(90deg,#6097cc,#5f96cb,#6299cc,#5f96cb,#649bcd,#649cce,#5b91c8,#598fc8,#5a90c8,#5b92c9,#6097cb,#5f96cb,#5e95ca,#5a90c8,#5b91c9,#5c92c9,#5e95ca,#5285c4,#5e95ca,#5f96cb,#5990c8,#639bcd)"></i><i style="top:46px;background:linear-gradient(90deg,#558bc6,#558bc6,#4f81c2,#568bc6,#5488c5,#5489c5,#4d7ec1,#4f81c2,#5386c4,#5082c2,#588ec7,#5083c3,#558bc6,#5489c5,#5f96cb,#5488c5,#588fc7,#5286c4,#5083c3,#5489c5,#578ec7,#5285c4)"></i><i style="top:47px;background:linear-gradient(90deg,#568cc6,#558ac5,#5388c4,#5489c5,#5488c5,#5285c4,#5488c5,#558ac5,#5185c3,#4d7cc0,#558bc5,#5285c3,#558ac5,#5184c3,#5489c5,#5387c4,#5386c4,#5388c4,#5489c5,#4f80c2,#578dc7,#568cc6)"></i><i style="top:48px;background:linear-gradient(90deg,#578dc7,#5184c3,#5a90c8,#568cc6,#5d94ca,#558ac5,#558bc6,#5a91c8,#5082c3,#558ac5,#558bc6,#5081c2,#5387c4,#578dc6,#578dc7,#5d94ca,#5a90c8,#5286c4,#5990c8,#578ec7,#568cc6,#5387c4)"></i><i style="top:49px;background:linear-gradient(90deg,#5e95ca,#5e94ca,#578dc6,#5488c5,#5387c4,#5387c4,#5a90c8,#5184c3,#5b91c9,#558bc6,#578dc7,#598fc8,#6198cc,#598fc8,#558bc6,#578dc7,#568cc6,#568cc6,#568cc6,#5387c4,#578dc7,#5286c4)"></i><i style="top:50px;background:linear-gradient(90deg,#578dc7,#5386c4,#5183c3,#558bc6,#558bc6,#5489c5,#5081c2,#5082c3,#558ac5,#5c93c9,#5489c5,#5489c5,#558bc6,#5184c3,#578dc7,#5285c4,#5488c5,#5185c3,#5083c3,#5285c3,#5184c3,#5386c4)"></i><i style="top:51px;background:linear-gradient(90deg,#598fc8,#5489c5,#5286c4,#558ac5,#5285c4,#578dc7,#568bc6,#5386c4,#5388c5,#5488c5,#5184c3,#5183c3,#5387c4,#5184c3,#5488c5,#568cc6,#5387c4,#558bc5,#5a90c8,#5286c4,#588fc7,#5184c3)"></i><i style="top:52px;background:linear-gradient(90deg,#4875be,#4c7bc0,#4b7abf,#4774bd,#4f80c2,#4e7ec1,#4976be,#4b7abf,#4b7ac0,#4875be,#4c7cc0,#4874be,#4773bd,#4f81c2,#4a78bf,#4977bf,#4b79bf,#4977bf,#5184c3,#4d7cc0,#4e7ec1,#4e7ec1)"></i><i style="top:53px;background:linear-gradient(90deg,#5184c3,#4570bc,#4d7ec1,#4c7bc0,#4b7bc0,#4e7fc2,#4d7dc1,#4773bd,#4c7bc0,#4b7abf,#4e7fc1,#4671bc,#4d7dc1,#4c7bc0,#4d7dc1,#4c7cc0,#4671bc,#4d7dc1,#4b7ac0,#4977be,#4e7ec1,#4b7ac0)"></i><i style="top:54px;background:linear-gradient(90deg,#6097cb,#5d94ca,#5489c5,#5b92c9,#588ec7,#588ec7,#578dc7,#5d93c9,#558ac5,#5a90c8,#5387c4,#5990c8,#5488c5,#5488c5,#588ec7,#5489c5,#5d94ca,#5489c5,#5f96cb,#5c92c9,#588ec7,#5b91c9)"></i><i style="top:55px;background:linear-gradient(90deg,#598fc7,#639acd,#5a90c8,#558bc6,#5990c8,#568cc6,#578dc7,#558bc6,#568bc6,#5c92c9,#578ec7,#5b92c9,#568cc6,#578dc7,#568bc6,#5e95ca,#5f96cb,#578dc7,#5c92c9,#5387c4,#5488c5,#5b92c9)"></i><i style="top:56px;background:linear-gradient(90deg,#4a79bf,#578dc6,#5285c3,#5488c5,#4f80c2,#4b7bc0,#4d7dc1,#4d7dc1,#5184c3,#4c7cc0,#4d7dc1,#5387c4,#4c7bc0,#4d7ec1,#5387c4,#568cc6,#4b79bf,#4976be,#4d7dc1,#5081c2,#4f80c2,#4e7ec1)"></i><i style="top:57px;background:linear-gradient(90deg,#4c7bc0,#5184c3,#4e7ec1,#4d7ec1,#4f81c2,#5387c4,#4f81c2,#568cc6,#4e7fc1,#5183c3,#4977be,#4d7ec1,#4f80c2,#4d7dc1,#4d7dc1,#4d7ec1,#4c7cc0,#4e7ec1,#4f81c2,#5082c2,#4c7cc0,#4e80c2)"></i><i style="top:58px;background:linear-gradient(90deg,#5489c5,#5b92c9,#5f96cb,#588ec7,#598fc7,#568cc6,#598fc8,#568cc6,#5387c4,#5d93ca,#6299cc,#5a90c8,#578dc6,#598fc8,#5f96cb,#558bc6,#5a91c8,#588ec7,#5183c3,#558bc6,#5a90c8,#598fc7)"></i><i style="top:59px;background:linear-gradient(90deg,#568cc6,#5387c4,#588ec7,#588ec7,#5990c8,#5f96cb,#578dc6,#5c93c9,#598fc8,#649bcd,#598fc8,#639bcd,#5488c5,#5387c4,#598fc8,#568cc6,#5d94ca,#5b91c9,#5b91c9,#5489c5,#578dc6,#5b91c9)"></i><i style="top:60px;background:linear-gradient(90deg,#5183c3,#5286c4,#568bc6,#5286c4,#5387c4,#568bc6,#5488c5,#4e7fc2,#5387c4,#5286c4,#5388c4,#5b91c8,#568bc6,#5387c4,#5183c3,#558ac5,#5387c4,#568cc6,#5387c4,#558bc5,#5082c3,#5285c4)"></i><i style="top:61px;background:linear-gradient(90deg,#5286c4,#5082c3,#5388c4,#5184c3,#5184c3,#5083c3,#5286c4,#4e7fc1,#558ac5,#5388c4,#5489c5,#568cc6,#5387c4,#5285c3,#568cc6,#5184c3,#5387c4,#4c7cc0,#5183c3,#5286c4,#5489c5,#5488c5)"></i><i style="top:62px;background:linear-gradient(90deg,#5286c4,#4e7fc1,#4e7fc1,#5083c3,#4e7ec1,#4f80c2,#5082c2,#4a79bf,#4b7bc0,#5183c3,#4e7ec1,#5285c3,#4e7fc2,#4d7dc1,#5184c3,#4f80c2,#5183c3,#4e7fc1,#4d7ec1,#4f80c2,#4e7ec1,#4f81c2)"></i><i style="top:63px;background:linear-gradient(90deg,#4d7dc1,#5183c3,#5285c3,#5184c3,#4c7cc0,#5387c4,#4b7abf,#5082c3,#5082c2,#5285c3,#4e7ec1,#4e7fc1,#5387c4,#5386c4,#4d7dc1,#4f80c2,#4d7ec1,#4976be,#5386c4,#4e7ec1,#5082c2,#5083c3)"></i><i style="top:64px;background:linear-gradient(90deg,#4773bd,#4d7dc0,#4876be,#4672bd,#4b7ac0,#4b79bf,#4976be,#4a78bf,#4f80c2,#4c7cc0,#4a79bf,#4977be,#4f81c2,#4977be,#4570bc,#4d7ec1,#4976be,#446fbb,#4672bd,#4672bd,#446ebb,#4875be)"></i><i style="top:65px;background:linear-gradient(90deg,#4876be,#4f80c2,#4a78bf,#4976be,#4a78bf,#4b79bf,#4d7dc1,#4e7ec1,#4570bc,#4672bd,#4a78bf,#4f81c2,#4976be,#4d7dc1,#4976be,#4976be,#4977bf,#4e7fc1,#4976be,#4a79bf,#4b7ac0,#4d7dc0)"></i><i style="top:66px;background:linear-gradient(90deg,#5184c3,#5387c4,#558bc6,#5387c4,#5082c2,#5083c3,#5185c3,#5082c2,#4e7ec1,#4e7fc1,#4f81c2,#4b7bc0,#5b91c8,#5387c4,#4f81c2,#4f80c2,#5489c5,#4d7dc1,#4e7fc1,#5488c5,#5183c3,#5387c4)"></i><i style="top:67px;background:linear-gradient(90deg,#5184c3,#5183c3,#4f80c2,#5285c4,#5184c3,#5184c3,#5081c2,#5489c5,#5184c3,#5286c4,#4d7ec1,#4c7cc0,#5387c4,#4f80c2,#4e7fc2,#5285c3,#5489c5,#5082c2,#5082c2,#5285c4,#5286c4,#5184c3)"></i><i style="top:68px;background:linear-gradient(90deg,#4a78bf,#5184c3,#4d7dc1,#558ac5,#4d7dc1,#4f81c2,#4f80c2,#4f81c2,#568bc6,#4e7fc1,#5285c3,#4f80c2,#4e7fc1,#5184c3,#5082c2,#4e7fc2,#4c7cc0,#5082c2,#5a90c8,#4e80c2,#5183c3,#4d7ec1)"></i><i style="top:69px;background:linear-gradient(90deg,#5a90c8,#4b7abf,#4d7ec1,#4a78bf,#5183c3,#4f81c2,#5082c2,#4f80c2,#5387c4,#5386c4,#5285c4,#4774bd,#4c7cc0,#4f81c2,#5184c3,#4774bd,#5387c4,#5082c2,#5387c4,#4c7bc0,#4d7dc1,#4c7bc0)"></i><i style="top:70px;background:linear-gradient(90deg,#5183c3,#5082c3,#4d7ec1,#568cc6,#5488c5,#5082c2,#4d7dc0,#558bc6,#4c7cc0,#4f81c2,#4f80c2,#5082c3,#5388c5,#558ac5,#5387c4,#4f81c2,#568cc6,#558bc6,#5489c5,#5b91c9,#4f81c2,#5082c3)"></i><i style="top:71px;background:linear-gradient(90deg,#5082c2,#5083c3,#5489c5,#5387c4,#5184c3,#558bc6,#5285c4,#5183c3,#5083c3,#4f80c2,#5185c3,#5082c2,#5285c4,#5387c4,#5388c4,#5184c3,#588fc7,#4f80c2,#5489c5,#5286c4,#5387c4,#5083c3)"></i><i style="top:72px;background:linear-gradient(90deg,#4c7cc0,#5082c2,#4a77bf,#4f80c2,#4a79bf,#4977be,#4e80c2,#4d7dc1,#5488c5,#4977bf,#4f80c2,#4f80c2,#4f80c2,#4d7dc1,#4a78bf,#5083c3,#5083c3,#4f81c2,#4f80c2,#5285c3,#5184c3,#5082c3)"></i><i style="top:73px;background:linear-gradient(90deg,#4c7cc0,#5184c3,#4c7bc0,#4f81c2,#4b7bc0,#4e7ec1,#5083c3,#4d7ec1,#5183c3,#4d7dc1,#5387c4,#4e7ec1,#558bc6,#5082c3,#4e7fc1,#4b7ac0,#4d7dc1,#5488c5,#4b7abf,#4a78bf,#4f80c2,#5285c3)"></i><i style="top:74px;background:linear-gradient(90deg,#5387c4,#5285c4,#5488c5,#5488c5,#588fc7,#5c93c9,#5488c5,#5285c4,#5184c3,#5081c2,#5489c5,#5082c2,#568cc6,#5488c5,#5286c4,#5a90c8,#4f81c2,#578dc7,#558ac5,#558ac5,#5489c5,#5184c3)"></i><i style="top:75px;background:linear-gradient(90deg,#568cc6,#598fc7,#4f80c2,#5489c5,#5488c5,#5388c4,#558bc6,#5488c5,#5387c4,#598fc7,#5285c3,#5387c4,#5387c4,#5285c4,#5387c4,#5a90c8,#5285c4,#5f96cb,#5082c2,#4d7ec1,#5286c4,#5183c3)"></i><i style="top:76px;background:linear-gradient(90deg,#5388c4,#5184c3,#4d7dc1,#4f81c2,#4f80c2,#588ec7,#5083c3,#5183c3,#5184c3,#5083c3,#5082c2,#4e7ec1,#5082c3,#5083c3,#4c7cc0,#5082c3,#4c7cc0,#4b7ac0,#5082c2,#5184c3,#5286c4,#4e7fc1)"></i><i style="top:77px;background:linear-gradient(90deg,#4c7bc0,#4d7ec1,#4f81c2,#4f81c2,#5184c3,#4f81c2,#5387c4,#4e7fc1,#5184c3,#5285c3,#5184c3,#5184c3,#4d7dc1,#5286c4,#4e7fc2,#4f81c2,#4d7dc1,#5183c3,#4f80c2,#4e7fc1,#5285c3,#4e7ec1)"></i><i style="top:78px;background:linear-gradient(90deg,#5184c3,#5183c3,#5285c3,#5082c3,#4d7dc1,#5083c3,#5184c3,#558bc6,#558bc6,#5286c4,#5387c4,#4977be,#4f80c2,#4d7dc1,#5285c3,#5285c3,#5285c3,#5285c3,#5184c3,#5082c2,#4e80c2,#5285c4)"></i><i style="top:79px;background:linear-gradient(90deg,#5082c3,#5387c4,#4f80c2,#4f81c2,#4e7fc1,#5285c4,#4e7ec1,#4a77bf,#4e7fc1,#4e7fc1,#5082c2,#4f81c2,#5488c5,#5184c3,#5387c4,#5489c5,#5387c4,#5386c4,#4f80c2,#5184c3,#5082c2,#5286c4)"></i><i style="top:80px;background:linear-gradient(90deg,#578dc7,#5d94ca,#578ec7,#5e94ca,#6097cb,#6097cb,#588ec7,#6097cc,#5488c5,#5b91c9,#5489c5,#5a90c8,#558ac5,#5a90c8,#578dc6,#6097cb,#649cce,#5e95ca,#5f96cb,#5c93c9,#5a90c8,#598fc8)"></i><i style="top:81px;background:linear-gradient(90deg,#558ac5,#568cc6,#5e95ca,#588ec7,#5c92c9,#568cc6,#659dce,#6198cc,#5a90c8,#639acd,#5c93c9,#5f96cb,#5990c8,#588ec7,#6198cc,#5e94ca,#5e95ca,#5f96cb,#5b91c8,#588ec7,#5c92c9,#5388c5)"></i><i style="top:82px;background:linear-gradient(90deg,#5489c5,#588ec7,#5488c5,#5c92c9,#5387c4,#5184c3,#568cc6,#5488c5,#568cc6,#5286c4,#568cc6,#558ac5,#558ac5,#578ec7,#5286c4,#5488c5,#588ec7,#598fc7,#568cc6,#5184c3,#558ac5,#5387c4)"></i><i style="top:83px;background:linear-gradient(90deg,#5388c4,#5082c2,#4e80c2,#578ec7,#578dc6,#5082c3,#5387c4,#5489c5,#5386c4,#558bc6,#5387c4,#5083c3,#5387c4,#558bc6,#5285c3,#568cc6,#588ec7,#568cc6,#568bc6,#5488c5,#568bc6,#5286c4)"></i><i style="top:84px;background:linear-gradient(90deg,#4976be,#4d7ec1,#5387c4,#5285c4,#4c7cc0,#4f80c2,#4d7ec1,#4c7cc0,#4e7fc1,#5184c3,#4f81c2,#4f80c2,#4977bf,#558bc5,#4c7cc0,#4f81c2,#5184c3,#5082c2,#5185c3,#4976be,#4d7dc1,#4d7ec1)"></i><i style="top:85px;background:linear-gradient(90deg,#4b7bc0,#4b7abf,#5185c3,#4c7bc0,#5286c4,#5285c3,#4e7fc1,#4b7ac0,#4d7ec1,#4d7dc1,#4d7ec1,#4d7dc1,#4f81c2,#4e7fc1,#4f80c2,#4f81c2,#5286c4,#558ac5,#4f81c2,#4f80c2,#4f80c2,#5285c3)"></i><i style="top:86px;background:linear-gradient(90deg,#5489c5,#5387c4,#5286c4,#5489c5,#558bc6,#5184c3,#5488c5,#4e7ec1,#5183c3,#5488c5,#4e7fc1,#4e7fc2,#5387c4,#4d7dc1,#5285c3,#5a90c8,#5388c4,#588ec7,#578dc7,#5083c3,#5285c4,#5388c5)"></i><i style="top:87px;background:linear-gradient(90deg,#558bc6,#578dc6,#558ac5,#5388c4,#5081c2,#558bc6,#5184c3,#558bc5,#568cc6,#4e80c2,#5990c8,#5285c4,#558bc6,#558ac5,#598fc7,#568bc6,#588ec7,#558ac5,#5083c3,#5285c4,#5489c5,#558ac5)"></i><i style="top:88px;background:linear-gradient(90deg,#4c7cc0,#4a78bf,#4875be,#4c7bc0,#5489c5,#4b7bc0,#4a79bf,#4d7ec1,#4e7ec1,#4c7cc0,#4672bd,#4a78bf,#4a78bf,#4d7ec1,#4a78bf,#4b7ac0,#4976be,#4a79bf,#5285c4,#4e7fc1,#4d7dc1,#4977bf)"></i><i style="top:89px;background:linear-gradient(90deg,#4876be,#4e80c2,#4c7bc0,#4d7ec1,#4d7cc0,#4c7cc0,#4570bc,#4e7fc1,#5083c3,#4c7bc0,#4b7ac0,#4c7cc0,#4b7ac0,#4773bd,#4b79bf,#4c7bc0,#4f80c2,#4977be,#4b7abf,#4c7bc0,#4d7dc1,#5184c3)"></i><i style="top:90px;background:linear-gradient(90deg,#5083c3,#5083c3,#4b7ac0,#5387c4,#4a78bf,#5286c4,#5184c3,#4f80c2,#4c7bc0,#5082c3,#4d7ec1,#5286c4,#4773bd,#4f80c2,#4774bd,#4f80c2,#4e7ec1,#5184c3,#4b7bc0,#4c7bc0,#4976be,#4d7ec1)"></i><i style="top:91px;background:linear-gradient(90deg,#4f80c2,#4e7fc1,#4c7bc0,#4e7fc1,#5082c2,#4f81c2,#4977be,#4d7dc1,#4c7cc0,#4773bd,#5082c3,#4f81c2,#4c7bc0,#5082c2,#4f81c2,#4d7dc1,#4f81c2,#4e7fc1,#4d7dc0,#5184c3,#4a79bf,#5488c5)"></i><i style="top:92px;background:linear-gradient(90deg,#5184c3,#4f81c2,#5285c3,#4e7fc1,#4f81c2,#568cc6,#5285c3,#5082c2,#5082c2,#5387c4,#5387c4,#4f81c2,#5488c5,#5083c3,#5083c3,#5286c4,#4e7fc2,#4c7cc0,#5082c2,#5387c4,#5081c2,#5387c4)"></i><i style="top:93px;background:linear-gradient(90deg,#5488c5,#4f81c2,#5083c3,#5082c2,#5286c4,#5285c3,#5184c3,#5489c5,#5184c3,#5184c3,#4e7fc2,#5183c3,#5489c5,#5286c4,#5183c3,#5082c3,#4e7fc1,#4e7fc2,#5387c4,#5083c3,#5183c3,#5488c5)"></i><i style="top:94px;background:linear-gradient(90deg,#4d7ec1,#4d7dc1,#5286c4,#5082c3,#4a78bf,#4e80c2,#4c7cc0,#4d7dc1,#4e7fc1,#4a78bf,#4c7cc0,#5388c4,#4e7fc1,#4d7dc1,#5184c3,#4b79bf,#4e7fc1,#5285c4,#4e80c2,#4f81c2,#4e7fc1,#4f81c2)"></i><i style="top:95px;background:linear-gradient(90deg,#5083c3,#4e7fc1,#4f80c2,#4f81c2,#4977bf,#5184c3,#5388c4,#5183c3,#4f81c2,#4d7ec1,#4f81c2,#5488c5,#5286c4,#4d7cc0,#5386c4,#4d7cc0,#4d7dc1,#4e7fc1,#5082c3,#4e7fc1,#5184c3,#4f81c2)"></i><i style="top:96px;background:linear-gradient(90deg,#5285c4,#4a78bf,#4e7fc1,#4f81c2,#5285c3,#4875be,#4d7dc1,#4875be,#4f80c2,#4c7cc0,#4e80c2,#5083c3,#5082c2,#4d7dc1,#4f81c2,#568cc6,#4c7cc0,#4f81c2,#4c7cc0,#5082c2,#4b7bc0,#4f81c2)"></i><i style="top:97px;background:linear-gradient(90deg,#4a77bf,#4e7fc1,#5489c5,#4a79bf,#4c7bc0,#5082c2,#4b79bf,#4774bd,#4977be,#4e7fc1,#5183c3,#4e7fc1,#4e7ec1,#5083c3,#4d7ec1,#5184c3,#5285c3,#4d7dc1,#5184c3,#4f81c2,#4d7ec1,#4e7ec1)"></i><i style="top:98px;background:linear-gradient(90deg,#568cc6,#5082c2,#4f80c2,#568cc6,#5a91c8,#5488c5,#568cc6,#4f80c2,#4f81c2,#5285c3,#5285c4,#5388c4,#5285c3,#5387c4,#5286c4,#558ac5,#568cc6,#558bc6,#578ec7,#5286c4,#5285c4,#4e7fc1)"></i><i style="top:99px;background:linear-gradient(90deg,#4e7fc2,#558bc5,#5489c5,#5387c4,#5286c4,#5081c2,#4d7dc1,#5184c3,#5286c4,#4c7bc0,#578dc6,#5184c3,#5489c5,#578dc6,#588ec7,#5285c4,#568bc6,#558bc6,#5387c4,#5488c5,#5083c3,#5488c5)"></i><i style="top:100px;background:linear-gradient(90deg,#4d7dc1,#4e7fc1,#4f80c2,#5184c3,#4e7fc1,#4e7fc1,#4e7ec1,#568cc6,#4e7ec1,#5082c2,#4b79bf,#4f80c2,#4b7ac0,#4d7dc1,#5183c3,#5388c4,#4f81c2,#5083c3,#4f81c2,#4d7ec1,#4f80c2,#5184c3)"></i><i style="top:101px;background:linear-gradient(90deg,#4f81c2,#4e7ec1,#4d7ec1,#5082c2,#4e7ec1,#5184c3,#4b79bf,#5183c3,#4c7cc0,#4e7fc2,#5489c5,#5185c3,#4d7dc1,#4e7ec1,#5184c3,#5184c3,#4f80c2,#5183c3,#4d7ec1,#4773bd,#5285c3,#4d7ec1)"></i><i style="top:102px;background:linear-gradient(90deg,#4f81c2,#4d7ec1,#4d7dc1,#4b7bc0,#5082c2,#5082c3,#5184c3,#5082c2,#4f81c2,#4c7cc0,#4e7fc1,#4f81c2,#4773bd,#4b79bf,#4d7ec1,#5082c3,#5285c3,#5386c4,#4c7bc0,#4e7fc1,#4c7cc0,#4c7bc0)"></i><i style="top:103px;background:linear-gradient(90deg,#4d7dc1,#4e7fc1,#5082c2,#4a78bf,#4d7ec1,#4b7ac0,#5285c3,#5286c4,#4c7cc0,#4c7bc0,#4f81c2,#5083c3,#4b7ac0,#4d7dc0,#4f80c2,#4b7abf,#5285c4,#4e7fc1,#4e7fc1,#4b79bf,#5184c3,#4a78bf)"></i><i style="top:104px;background:linear-gradient(90deg,#4c7cc0,#4d7dc1,#4e7fc1,#4a79bf,#4c7cc0,#5082c2,#4e7fc1,#4f80c2,#5184c3,#5082c2,#5184c3,#4e80c2,#4c7bc0,#5387c4,#4a78bf,#4b79bf,#4b7ac0,#558ac5,#4f80c2,#5184c3,#4a78bf,#4b7bc0)"></i><i style="top:105px;background:linear-gradient(90deg,#4f81c2,#4d7dc1,#4f80c2,#5082c2,#4f80c2,#4f80c2,#4f80c2,#4e7ec1,#4f81c2,#5184c3,#4c7bc0,#4f81c2,#5183c3,#4e7fc1,#4e7fc1,#5388c4,#5184c3,#558ac5,#5388c5,#4d7ec1,#4c7cc0,#4e7ec1)"></i><i style="top:106px;background:linear-gradient(90deg,#5183c3,#4570bc,#4e7fc1,#5185c3,#4e7fc1,#4f81c2,#4e7ec1,#4a78bf,#5183c3,#4d7ec1,#4f81c2,#4e7fc1,#5388c5,#4f81c2,#4f81c2,#4e7fc1,#4c7bc0,#4f81c2,#5184c3,#4e7fc1,#4875be,#4c7cc0)"></i><i style="top:107px;background:linear-gradient(90deg,#5388c4,#4d7cc0,#4f80c2,#4976be,#4d7cc0,#4c7bc0,#5083c3,#5082c2,#5081c2,#5184c3,#4d7dc1,#5387c4,#4d7ec1,#5183c3,#5489c5,#4d7dc1,#4f81c2,#4e7ec1,#4e80c2,#4f80c2,#4e7fc1,#4e7fc1)"></i><i style="top:108px;background:linear-gradient(90deg,#558ac5,#4f81c2,#5184c3,#5285c3,#4f81c2,#5488c5,#5285c3,#5183c3,#4f81c2,#5083c3,#5489c5,#4f81c2,#558bc6,#558ac5,#5488c5,#4e7fc1,#5183c3,#568cc6,#5285c4,#5183c3,#5184c3,#5489c5)"></i><i style="top:109px;background:linear-gradient(90deg,#4e7fc1,#568bc6,#5388c5,#5082c2,#548ac5,#4b7bc0,#4f81c2,#5488c5,#588ec7,#5081c2,#4f80c2,#5386c4,#5387c4,#5183c3,#5183c3,#588ec7,#5083c3,#4e7fc2,#5285c3,#578dc6,#558ac5,#5387c4)"></i><i style="top:110px;background:linear-gradient(90deg,#4e7ec1,#5183c3,#5b92c9,#5387c4,#5489c5,#4d7dc1,#5082c2,#5081c2,#568cc6,#5083c3,#5184c3,#5082c2,#4977bf,#5489c5,#4c7bc0,#4f81c2,#4d7dc1,#4f81c2,#5082c2,#5082c2,#558ac5,#4e7ec1)"></i><i style="top:111px;background:linear-gradient(90deg,#5082c3,#5286c4,#5082c2,#5081c2,#578dc6,#5387c4,#4f80c2,#5285c3,#4f80c2,#5286c4,#4d7dc1,#5387c4,#5285c4,#5285c4,#5184c3,#5285c3,#4f80c2,#5184c3,#5386c4,#5286c4,#4e80c2,#5386c4)"></i><i style="top:112px;background:linear-gradient(90deg,#4874be,#4976be,#4976be,#4977bf,#4b79bf,#4d7dc1,#4e7fc1,#4c7cc0,#4976be,#4d7dc1,#4e7ec1,#4976be,#4874be,#4a79bf,#5082c3,#4a78bf,#4a79bf,#4d7dc1,#4874be,#4875be,#4b79bf,#4d7ec1)"></i><i style="top:113px;background:linear-gradient(90deg,#4a78bf,#4977be,#4672bd,#4f81c2,#4774bd,#4e80c2,#4976be,#4e7fc1,#5081c2,#4876be,#4c7cc0,#4d7dc1,#4e7fc1,#4a78bf,#4e7fc1,#4b7ac0,#4875be,#4e7ec1,#4e7fc1,#4b7abf,#4a79bf,#4d7dc1)"></i><i style="top:114px;background:linear-gradient(90deg,#5b92c9,#5184c3,#588ec7,#5d93ca,#5285c4,#568cc6,#5489c5,#558bc6,#598fc8,#5082c2,#5387c4,#5183c3,#5388c4,#5c93c9,#5184c3,#5387c4,#5386c4,#558bc6,#5388c4,#5286c4,#5286c4,#5488c5)"></i><i style="top:115px;background:linear-gradient(90deg,#5184c3,#4e7ec1,#598fc7,#558ac5,#5386c4,#5488c5,#568cc6,#5285c4,#5489c5,#5387c4,#598fc7,#4e7ec1,#5083c3,#5a90c8,#5184c3,#5286c4,#5184c3,#4e7fc1,#5489c5,#568cc6,#558ac5,#5183c3)"></i><i style="top:116px;background:linear-gradient(90deg,#5285c4,#598fc8,#5387c4,#5183c3,#568cc6,#5286c4,#4e7fc1,#5184c3,#568cc6,#5387c4,#5387c4,#558ac5,#5184c3,#4f81c2,#5387c4,#5285c3,#5387c4,#5184c3,#5184c3,#4f81c2,#5489c5,#5b91c8)"></i><i style="top:117px;background:linear-gradient(90deg,#5082c2,#578dc6,#558bc5,#5185c3,#5083c3,#558ac5,#5286c4,#5286c4,#5285c4,#5a91c8,#4f80c2,#5489c5,#5a91c8,#5488c5,#5c92c9,#5388c4,#5488c5,#558bc6,#5184c3,#5388c4,#558ac5,#5185c3)"></i><i style="top:118px;background:linear-gradient(90deg,#5082c2,#5285c3,#4b7bc0,#4e7fc1,#5082c2,#4d7dc1,#5184c3,#5285c4,#4d7dc1,#4f81c2,#4d7dc1,#4e7fc2,#5082c2,#4e7fc1,#4f81c2,#4d7ec1,#5285c4,#5184c3,#4d7dc1,#5082c3,#568cc6,#4d7ec1)"></i><i style="top:119px;background:linear-gradient(90deg,#5286c4,#568cc6,#4e7fc1,#5184c3,#4976be,#5286c4,#5083c3,#5184c3,#4f81c2,#5184c3,#5285c4,#5183c3,#4e7fc1,#4e7fc1,#4f80c2,#4e7fc1,#4c7cc0,#4b7ac0,#4e80c2,#4c7cc0,#4e7ec1,#4b7ac0)"></i><i style="top:120px;background:linear-gradient(90deg,#4976be,#4b7ac0,#4c7bc0,#5286c4,#4c7cc0,#4f81c2,#4e7ec1,#4d7dc1,#4b7bc0,#4e7fc1,#4e7ec1,#4876be,#4e7fc1,#4c7bc0,#4875be,#4a79bf,#4e7fc1,#4f80c2,#4c7bc0,#5082c2,#4e80c2,#4875be)"></i><i style="top:121px;background:linear-gradient(90deg,#4977be,#4d7dc1,#4a78bf,#4b79bf,#4d7dc1,#4b7bc0,#4a79bf,#4876be,#5285c4,#4876be,#4b7ac0,#4f81c2,#4c7bc0,#4a78bf,#4977be,#4f81c2,#4e7fc1,#4773bd,#4876be,#4e7fc1,#5183c3,#4b79bf)"></i><i style="top:122px;background:linear-gradient(90deg,#5286c4,#4b7ac0,#4b7abf,#4c7cc0,#5184c3,#5082c3,#5285c3,#4b79bf,#5489c5,#4e7fc2,#588ec7,#5083c3,#4b79bf,#4f81c2,#4d7dc1,#5488c5,#5082c3,#5387c4,#4d7ec1,#4d7ec1,#5082c2,#5082c2)"></i><i style="top:123px;background:linear-gradient(90deg,#4d7dc1,#5184c3,#5387c4,#4e80c2,#4e7fc1,#4e7fc1,#5184c3,#4f81c2,#5183c3,#5386c4,#4f80c2,#4f80c2,#4f80c2,#5488c5,#4f81c2,#5081c2,#4f80c2,#5285c4,#5183c3,#4c7cc0,#5286c4,#5183c3)"></i><i style="top:124px;background:linear-gradient(90deg,#5183c3,#4f80c2,#4d7ec1,#4b79bf,#5082c3,#5183c3,#4b7ac0,#4d7ec1,#4f80c2,#4d7dc1,#4e80c2,#4c7cc0,#4c7bc0,#5183c3,#4976be,#4f81c2,#4b7ac0,#4d7ec1,#4c7bc0,#4e7ec1,#4c7bc0,#4e7fc1)"></i><i style="top:125px;background:linear-gradient(90deg,#4977bf,#4a79bf,#4d7dc1,#4f81c2,#4b7ac0,#5387c4,#4c7cc0,#4f81c2,#4875be,#4b79bf,#4b79bf,#4a78bf,#4976be,#4c7cc0,#4b7abf,#5285c4,#4d7dc1,#4e7fc1,#4874bd,#5184c3,#5285c3,#4a79bf)"></i><i style="top:126px;background:linear-gradient(90deg,#4e7fc1,#4f80c2,#558ac5,#4d7ec1,#4e7fc1,#4c7cc0,#5285c3,#5387c4,#4e7fc1,#5489c5,#5184c3,#4f80c2,#5286c4,#5489c5,#5489c5,#5286c4,#558ac5,#5184c3,#5285c4,#568cc6,#5183c3,#4f80c2)"></i></div>
<div class="cb" style="left:656.6px;top:53px;width:4.3px;height:257px;background:linear-gradient(180deg,#a50026 0.0%,#d73027 10.0%,#f46d43 20.0%,#fdae61 30.0%,#fee090 40.0%,#ffffbf 50.0%,#e0f3f8 60.0%,#abd9e9 70.0%,#74add6 80.0%,#568cc6 85.0%,#4570bc 90.0%,#3550a8 95.0%,#2e3a98 100.0%)"></div>
<svg width="685" height="337" viewBox="0 0 685 337">
<text x="0.5" y="9.6" font-size="13.00" fill="#000" font-weight="bold">a</text>
<text x="102.8" y="9.5" font-size="13.00" fill="#000" font-weight="bold">b</text>
<text x="204.8" y="9.7" font-size="13.00" fill="#000" font-weight="bold">c</text>
<text x="204.6" y="169.6" font-size="13.00" fill="#000" font-weight="bold">d</text>
<text x="474.6" y="9.6" font-size="13.00" fill="#000" font-weight="bold">e</text>
<text x="591.0" y="9.4" font-size="13.00" fill="#000" font-weight="bold">f</text>
<text x="30.0" y="11.1" font-size="8.20" fill="#444" textLength="21.2" lengthAdjust="spacingAndGlyphs">GDE1</text>
<rect x="18.40" y="12.60" width="43.40" height="37.00" fill="none" stroke="#b0b0b0" stroke-width="0.90"/>
<line x1="15.8" y1="19.4" x2="18.4" y2="19.4" stroke="#888" stroke-width="0.70"/>
<text x="12.5" y="21.9" font-size="7.20" fill="#444" text-anchor="end" textLength="12.6" lengthAdjust="spacingAndGlyphs">150</text>
<line x1="15.8" y1="28.4" x2="18.4" y2="28.4" stroke="#888" stroke-width="0.70"/>
<text x="12.5" y="30.9" font-size="7.20" fill="#444" text-anchor="end" textLength="12.6" lengthAdjust="spacingAndGlyphs">100</text>
<line x1="15.8" y1="37.5" x2="18.4" y2="37.5" stroke="#888" stroke-width="0.70"/>
<text x="12.5" y="40.0" font-size="7.20" fill="#444" text-anchor="end" textLength="9.6" lengthAdjust="spacingAndGlyphs">50</text>
<line x1="15.8" y1="46.5" x2="18.4" y2="46.5" stroke="#888" stroke-width="0.70"/>
<text x="12.5" y="49.0" font-size="7.20" fill="#444" text-anchor="end" textLength="5.0" lengthAdjust="spacingAndGlyphs">0</text>
<line x1="18.4" y1="49.6" x2="18.4" y2="51.2" stroke="#888" stroke-width="0.70"/>
<line x1="40.1" y1="49.6" x2="40.1" y2="51.2" stroke="#888" stroke-width="0.70"/>
<line x1="61.8" y1="49.6" x2="61.8" y2="51.2" stroke="#888" stroke-width="0.70"/>
<path d="M18.40,47.00 C19.92,47.07 23.92,47.37 27.50,47.40 C31.08,47.43 36.37,47.40 39.90,47.20 C43.43,47.00 46.62,46.52 48.70,46.20 C50.78,45.88 51.17,45.62 52.40,45.30 C53.63,44.98 55.07,44.37 56.10,44.30 C57.13,44.23 57.65,44.55 58.60,44.90 C59.55,45.25 61.27,46.15 61.80,46.40" fill="none" stroke="#8cc63f" stroke-width="1.30" stroke-linejoin="round" stroke-linecap="round"/>
<path d="M18.40,46.50 C19.08,46.45 21.20,46.50 22.50,46.20 C23.80,45.90 25.07,45.43 26.20,44.70 C27.33,43.97 28.37,43.02 29.30,41.80 C30.23,40.58 30.97,39.27 31.80,37.40 C32.63,35.53 33.47,33.08 34.30,30.60 C35.13,28.12 36.07,24.78 36.80,22.50 C37.53,20.22 38.13,18.20 38.70,16.90 C39.27,15.60 39.75,14.92 40.20,14.70 C40.65,14.48 40.92,14.52 41.40,15.60 C41.88,16.68 42.42,18.80 43.10,21.20 C43.78,23.60 44.68,27.40 45.50,30.00 C46.32,32.60 47.17,34.83 48.00,36.80 C48.83,38.77 49.55,40.55 50.50,41.80 C51.45,43.05 52.55,43.63 53.70,44.30 C54.85,44.97 56.05,45.35 57.40,45.80 C58.75,46.25 61.07,46.80 61.80,47.00" fill="none" stroke="#1f2a6b" stroke-width="1.50" stroke-linejoin="round" stroke-linecap="round"/>
<text x="129.7" y="11.1" font-size="8.20" fill="#444" textLength="21.2" lengthAdjust="spacingAndGlyphs">GDE1</text>
<rect x="118.40" y="12.60" width="42.80" height="37.00" fill="none" stroke="#b0b0b0" stroke-width="0.90"/>
<line x1="115.8" y1="16.9" x2="118.4" y2="16.9" stroke="#888" stroke-width="0.70"/>
<text x="112.5" y="19.4" font-size="7.20" fill="#444" text-anchor="end" textLength="9.6" lengthAdjust="spacingAndGlyphs">40</text>
<line x1="115.8" y1="31.5" x2="118.4" y2="31.5" stroke="#888" stroke-width="0.70"/>
<text x="112.5" y="34.0" font-size="7.20" fill="#444" text-anchor="end" textLength="9.6" lengthAdjust="spacingAndGlyphs">20</text>
<line x1="115.8" y1="46.1" x2="118.4" y2="46.1" stroke="#888" stroke-width="0.70"/>
<text x="112.5" y="48.6" font-size="7.20" fill="#444" text-anchor="end" textLength="5.0" lengthAdjust="spacingAndGlyphs">0</text>
<line x1="118.4" y1="49.6" x2="118.4" y2="51.2" stroke="#888" stroke-width="0.70"/>
<line x1="139.8" y1="49.6" x2="139.8" y2="51.2" stroke="#888" stroke-width="0.70"/>
<line x1="161.2" y1="49.6" x2="161.2" y2="51.2" stroke="#888" stroke-width="0.70"/>
<path d="M118.50,46.60 C119.08,46.67 120.82,47.22 122.00,47.00 C123.18,46.78 124.52,45.70 125.60,45.30 C126.68,44.90 127.60,44.67 128.50,44.60 C129.40,44.53 130.15,44.77 131.00,44.90 C131.85,45.03 132.43,45.23 133.60,45.40 C134.77,45.57 136.37,45.83 138.00,45.90 C139.63,45.97 141.90,45.80 143.40,45.80 C144.90,45.80 145.82,46.02 147.00,45.90 C148.18,45.78 149.33,45.33 150.50,45.10 C151.67,44.87 152.82,44.57 154.00,44.50 C155.18,44.43 156.40,44.22 157.60,44.70 C158.80,45.18 160.60,46.95 161.20,47.40" fill="none" stroke="#8cc63f" stroke-width="1.30" stroke-linejoin="round" stroke-linecap="round"/>
<path d="M118.50,41.80 C119.23,41.42 121.42,40.23 122.90,39.50 C124.38,38.77 125.92,38.50 127.40,37.40 C128.88,36.30 130.47,34.68 131.80,32.90 C133.13,31.12 134.37,28.77 135.40,26.70 C136.43,24.63 137.20,22.43 138.00,20.50 C138.80,18.57 139.53,15.55 140.20,15.10 C140.87,14.65 141.32,16.47 142.00,17.80 C142.68,19.13 143.48,21.17 144.30,23.10 C145.12,25.03 145.87,27.62 146.90,29.40 C147.93,31.18 149.15,32.47 150.50,33.80 C151.85,35.13 153.67,36.45 155.00,37.40 C156.33,38.35 157.47,38.97 158.50,39.50 C159.53,40.03 160.75,40.42 161.20,40.60" fill="none" stroke="#1f2a6b" stroke-width="1.50" stroke-linejoin="round" stroke-linecap="round"/>
<text x="511.2" y="11.1" font-size="8.20" fill="#444" textLength="21.2" lengthAdjust="spacingAndGlyphs">GDE1</text>
<rect x="499.40" y="12.80" width="43.80" height="36.80" fill="none" stroke="#b0b0b0" stroke-width="0.90"/>
<line x1="496.8" y1="19.2" x2="499.4" y2="19.2" stroke="#888" stroke-width="0.70"/>
<text x="493.5" y="21.7" font-size="7.20" fill="#444" text-anchor="end" textLength="19.1" lengthAdjust="spacingAndGlyphs">1,500</text>
<line x1="496.8" y1="37.5" x2="499.4" y2="37.5" stroke="#888" stroke-width="0.70"/>
<text x="493.5" y="40.0" font-size="7.20" fill="#444" text-anchor="end" textLength="14.3" lengthAdjust="spacingAndGlyphs">500</text>
<line x1="496.8" y1="46.6" x2="499.4" y2="46.6" stroke="#888" stroke-width="0.70"/>
<text x="493.5" y="49.1" font-size="7.20" fill="#444" text-anchor="end" textLength="5.0" lengthAdjust="spacingAndGlyphs">0</text>
<line x1="499.4" y1="49.6" x2="499.4" y2="51.2" stroke="#888" stroke-width="0.70"/>
<line x1="521.3" y1="49.6" x2="521.3" y2="51.2" stroke="#888" stroke-width="0.70"/>
<line x1="543.2" y1="49.6" x2="543.2" y2="51.2" stroke="#888" stroke-width="0.70"/>
<path d="M499.40,46.90 C500.33,46.93 502.90,47.13 505.00,47.10 C507.10,47.07 509.83,46.72 512.00,46.70 C514.17,46.68 516.33,47.03 518.00,47.00 C519.67,46.97 520.50,46.52 522.00,46.50 C523.50,46.48 525.17,46.87 527.00,46.90 C528.83,46.93 531.17,46.70 533.00,46.70 C534.83,46.70 536.30,46.88 538.00,46.90 C539.70,46.92 542.33,46.82 543.20,46.80" fill="none" stroke="#8cc63f" stroke-width="1.30" stroke-linejoin="round" stroke-linecap="round"/>
<path d="M499.30,46.00 C500.07,45.77 502.38,45.13 503.90,44.60 C505.42,44.07 507.07,43.85 508.40,42.80 C509.73,41.75 510.80,40.32 511.90,38.30 C513.00,36.28 514.10,33.22 515.00,30.70 C515.90,28.18 516.53,25.50 517.30,23.20 C518.07,20.90 518.95,18.33 519.60,16.90 C520.25,15.47 520.63,14.68 521.20,14.60 C521.77,14.52 522.32,14.97 523.00,16.40 C523.68,17.83 524.57,20.73 525.30,23.20 C526.03,25.67 526.65,28.83 527.40,31.20 C528.15,33.57 528.82,35.62 529.80,37.40 C530.78,39.18 531.97,40.85 533.30,41.90 C534.63,42.95 536.17,43.25 537.80,43.70 C539.43,44.15 542.22,44.45 543.10,44.60" fill="none" stroke="#1f2a6b" stroke-width="1.50" stroke-linejoin="round" stroke-linecap="round"/>
<text x="622.9" y="11.1" font-size="8.20" fill="#444" textLength="21.2" lengthAdjust="spacingAndGlyphs">GDE1</text>
<rect x="611.60" y="12.80" width="42.70" height="36.80" fill="none" stroke="#b0b0b0" stroke-width="0.90"/>
<line x1="609.0" y1="20.1" x2="611.6" y2="20.1" stroke="#888" stroke-width="0.70"/>
<text x="605.7" y="22.6" font-size="7.20" fill="#444" text-anchor="end" textLength="14.3" lengthAdjust="spacingAndGlyphs">400</text>
<line x1="609.0" y1="33.5" x2="611.6" y2="33.5" stroke="#888" stroke-width="0.70"/>
<text x="605.7" y="36.0" font-size="7.20" fill="#444" text-anchor="end" textLength="14.3" lengthAdjust="spacingAndGlyphs">200</text>
<line x1="609.0" y1="46.9" x2="611.6" y2="46.9" stroke="#888" stroke-width="0.70"/>
<text x="605.7" y="49.4" font-size="7.20" fill="#444" text-anchor="end" textLength="5.0" lengthAdjust="spacingAndGlyphs">0</text>
<line x1="611.6" y1="49.6" x2="611.6" y2="51.2" stroke="#888" stroke-width="0.70"/>
<line x1="633.0" y1="49.6" x2="633.0" y2="51.2" stroke="#888" stroke-width="0.70"/>
<line x1="654.3" y1="49.6" x2="654.3" y2="51.2" stroke="#888" stroke-width="0.70"/>
<path d="M611.50,47.20 C612.92,47.17 617.17,47.08 620.00,47.00 C622.83,46.92 625.83,46.77 628.50,46.70 C631.17,46.63 633.63,46.72 636.00,46.60 C638.37,46.48 640.70,46.13 642.70,46.00 C644.70,45.87 646.07,45.88 648.00,45.80 C649.93,45.72 653.25,45.55 654.30,45.50" fill="none" stroke="#8cc63f" stroke-width="1.30" stroke-linejoin="round" stroke-linecap="round"/>
<path d="M611.50,46.70 C612.55,46.50 616.02,46.30 617.80,45.50 C619.58,44.70 620.87,43.83 622.20,41.90 C623.53,39.97 624.75,36.72 625.80,33.90 C626.85,31.08 627.67,27.68 628.50,25.00 C629.33,22.32 630.12,19.53 630.80,17.80 C631.48,16.07 632.00,14.75 632.60,14.60 C633.20,14.45 633.75,15.32 634.40,16.90 C635.05,18.48 635.70,21.42 636.50,24.10 C637.30,26.78 638.17,30.18 639.20,33.00 C640.23,35.82 641.52,39.07 642.70,41.00 C643.88,42.93 645.10,43.83 646.30,44.60 C647.50,45.37 648.57,45.37 649.90,45.60 C651.23,45.83 653.57,45.93 654.30,46.00" fill="none" stroke="#1f2a6b" stroke-width="1.50" stroke-linejoin="round" stroke-linecap="round"/>
<rect x="18.50" y="52.50" width="43.00" height="127.50" fill="none" stroke="#8a8a8a" stroke-width="0.80"/>
<rect x="18.50" y="182.00" width="43.00" height="127.50" fill="none" stroke="#8a8a8a" stroke-width="0.80"/>
<line x1="18.5" y1="309.5" x2="18.5" y2="312.9" stroke="#888" stroke-width="1.00"/>
<line x1="40.5" y1="309.5" x2="40.5" y2="312.9" stroke="#888" stroke-width="1.00"/>
<line x1="61.5" y1="309.5" x2="61.5" y2="312.9" stroke="#888" stroke-width="1.00"/>
<rect x="118.50" y="52.50" width="43.00" height="127.50" fill="none" stroke="#8a8a8a" stroke-width="0.80"/>
<rect x="118.50" y="182.00" width="43.00" height="127.50" fill="none" stroke="#8a8a8a" stroke-width="0.80"/>
<line x1="118.5" y1="309.5" x2="118.5" y2="312.9" stroke="#888" stroke-width="1.00"/>
<line x1="140.5" y1="309.5" x2="140.5" y2="312.9" stroke="#888" stroke-width="1.00"/>
<line x1="161.5" y1="309.5" x2="161.5" y2="312.9" stroke="#888" stroke-width="1.00"/>
<rect x="499.50" y="52.50" width="44.00" height="127.30" fill="none" stroke="#8a8a8a" stroke-width="0.80"/>
<rect x="499.50" y="181.80" width="44.00" height="127.50" fill="none" stroke="#8a8a8a" stroke-width="0.80"/>
<line x1="499.5" y1="309.3" x2="499.5" y2="312.7" stroke="#888" stroke-width="1.00"/>
<line x1="521.5" y1="309.3" x2="521.5" y2="312.7" stroke="#888" stroke-width="1.00"/>
<line x1="543.5" y1="309.3" x2="543.5" y2="312.7" stroke="#888" stroke-width="1.00"/>
<rect x="611.50" y="52.50" width="43.00" height="127.30" fill="none" stroke="#8a8a8a" stroke-width="0.80"/>
<rect x="611.50" y="181.80" width="43.00" height="127.50" fill="none" stroke="#8a8a8a" stroke-width="0.80"/>
<line x1="611.5" y1="309.3" x2="611.5" y2="312.7" stroke="#888" stroke-width="1.00"/>
<line x1="633.5" y1="309.3" x2="633.5" y2="312.7" stroke="#888" stroke-width="1.00"/>
<line x1="654.5" y1="309.3" x2="654.5" y2="312.7" stroke="#888" stroke-width="1.00"/>
<text x="11.5" y="322.6" font-size="7.00" fill="#444" textLength="40.1" lengthAdjust="spacingAndGlyphs">−2.0 Centre</text>
<text x="56.7" y="322.6" font-size="7.00" fill="#444" textLength="21.1" lengthAdjust="spacingAndGlyphs">2.0 kb</text>
<line x1="16.0" y1="326.6" x2="27.6" y2="326.6" stroke="#1f2a6b" stroke-width="1.30"/>
<line x1="53.8" y1="326.6" x2="65.6" y2="326.6" stroke="#8cc63f" stroke-width="1.30"/>
<text x="10.7" y="336.2" font-size="8.40" fill="#444" textLength="22.3" lengthAdjust="spacingAndGlyphs">Pol IV</text>
<text x="45.7" y="336.2" font-size="8.40" fill="#444" textLength="27.9" lengthAdjust="spacingAndGlyphs">Shuffle</text>
<text x="111.1" y="322.6" font-size="7.00" fill="#444" textLength="39.7" lengthAdjust="spacingAndGlyphs">−2.0 Centre</text>
<text x="156.3" y="322.6" font-size="7.00" fill="#444" textLength="21.1" lengthAdjust="spacingAndGlyphs">2.0 kb</text>
<line x1="115.0" y1="326.6" x2="126.8" y2="326.6" stroke="#1f2a6b" stroke-width="1.30"/>
<line x1="152.9" y1="326.6" x2="164.7" y2="326.6" stroke="#8cc63f" stroke-width="1.30"/>
<text x="110.6" y="336.2" font-size="8.40" fill="#444" textLength="20.3" lengthAdjust="spacingAndGlyphs">Pol V</text>
<text x="144.9" y="336.2" font-size="8.40" fill="#444" textLength="27.9" lengthAdjust="spacingAndGlyphs">Shuffle</text>
<text x="492.2" y="322.6" font-size="7.00" fill="#444" textLength="40.4" lengthAdjust="spacingAndGlyphs">−2.0 Centre</text>
<text x="537.0" y="322.6" font-size="7.00" fill="#444" textLength="21.0" lengthAdjust="spacingAndGlyphs">2.0 kb</text>
<line x1="497.3" y1="326.6" x2="508.9" y2="326.6" stroke="#1f2a6b" stroke-width="1.30"/>
<line x1="535.0" y1="326.6" x2="546.9" y2="326.6" stroke="#8cc63f" stroke-width="1.30"/>
<text x="489.9" y="336.2" font-size="8.40" fill="#444" textLength="26.4" lengthAdjust="spacingAndGlyphs">CLSY3</text>
<text x="527.3" y="336.2" font-size="8.40" fill="#444" textLength="27.5" lengthAdjust="spacingAndGlyphs">Shuffle</text>
<text x="604.4" y="322.6" font-size="7.00" fill="#444" textLength="39.2" lengthAdjust="spacingAndGlyphs">−2.0 Centre</text>
<text x="648.2" y="322.6" font-size="7.00" fill="#444" textLength="21.2" lengthAdjust="spacingAndGlyphs">2.0 kb</text>
<line x1="609.8" y1="326.6" x2="621.7" y2="326.6" stroke="#1f2a6b" stroke-width="1.30"/>
<line x1="648.2" y1="326.6" x2="659.5" y2="326.6" stroke="#8cc63f" stroke-width="1.30"/>
<text x="602.4" y="336.2" font-size="8.40" fill="#444" textLength="26.3" lengthAdjust="spacingAndGlyphs">CLSY4</text>
<text x="639.6" y="336.2" font-size="8.40" fill="#444" textLength="27.8" lengthAdjust="spacingAndGlyphs">Shuffle</text>
<rect x="63.40" y="52.70" width="5.00" height="256.80" fill="none" stroke="#a8a8a8" stroke-width="0.60"/>
<rect x="162.90" y="52.70" width="5.00" height="256.80" fill="none" stroke="#a8a8a8" stroke-width="0.60"/>
<rect x="545.00" y="52.70" width="5.00" height="256.80" fill="none" stroke="#a8a8a8" stroke-width="0.60"/>
<rect x="656.30" y="52.70" width="4.90" height="256.80" fill="none" stroke="#a8a8a8" stroke-width="0.60"/>
<line x1="68.5" y1="55.2" x2="72.1" y2="55.2" stroke="#666" stroke-width="0.90"/>
<text x="75.8" y="58.1" font-size="7.20" fill="#444" textLength="14.3" lengthAdjust="spacingAndGlyphs">200</text>
<line x1="68.5" y1="93.4" x2="72.1" y2="93.4" stroke="#666" stroke-width="0.90"/>
<text x="75.8" y="96.3" font-size="7.20" fill="#444" textLength="12.6" lengthAdjust="spacingAndGlyphs">150</text>
<line x1="68.5" y1="131.5" x2="72.1" y2="131.5" stroke="#666" stroke-width="0.90"/>
<text x="75.8" y="134.4" font-size="7.20" fill="#444" textLength="12.6" lengthAdjust="spacingAndGlyphs">100</text>
<line x1="68.5" y1="169.7" x2="72.1" y2="169.7" stroke="#666" stroke-width="0.90"/>
<text x="75.8" y="172.6" font-size="7.20" fill="#444" textLength="9.6" lengthAdjust="spacingAndGlyphs">50</text>
<line x1="68.5" y1="207.8" x2="72.1" y2="207.8" stroke="#666" stroke-width="0.90"/>
<text x="75.8" y="210.7" font-size="7.20" fill="#444" textLength="5.0" lengthAdjust="spacingAndGlyphs">0</text>
<line x1="68.5" y1="246.0" x2="72.1" y2="246.0" stroke="#666" stroke-width="0.90"/>
<text x="75.8" y="248.9" font-size="7.20" fill="#444" textLength="13.9" lengthAdjust="spacingAndGlyphs">−50</text>
<line x1="68.5" y1="284.1" x2="72.1" y2="284.1" stroke="#666" stroke-width="0.90"/>
<text x="75.8" y="287.0" font-size="7.20" fill="#444" textLength="16.9" lengthAdjust="spacingAndGlyphs">−100</text>
<line x1="167.7" y1="90.7" x2="171.3" y2="90.7" stroke="#666" stroke-width="0.90"/>
<text x="176.0" y="93.6" font-size="7.20" fill="#444" textLength="12.6" lengthAdjust="spacingAndGlyphs">100</text>
<line x1="167.7" y1="139.7" x2="171.3" y2="139.7" stroke="#666" stroke-width="0.90"/>
<text x="176.0" y="142.6" font-size="7.20" fill="#444" textLength="9.6" lengthAdjust="spacingAndGlyphs">50</text>
<line x1="167.7" y1="188.7" x2="171.3" y2="188.7" stroke="#666" stroke-width="0.90"/>
<text x="176.0" y="191.6" font-size="7.20" fill="#444" textLength="5.0" lengthAdjust="spacingAndGlyphs">0</text>
<line x1="167.7" y1="237.7" x2="171.3" y2="237.7" stroke="#666" stroke-width="0.90"/>
<text x="176.0" y="240.6" font-size="7.20" fill="#444" textLength="13.9" lengthAdjust="spacingAndGlyphs">−50</text>
<line x1="167.7" y1="286.7" x2="171.3" y2="286.7" stroke="#666" stroke-width="0.90"/>
<text x="176.0" y="289.6" font-size="7.20" fill="#444" textLength="16.9" lengthAdjust="spacingAndGlyphs">−100</text>
<line x1="549.8" y1="80.3" x2="553.4" y2="80.3" stroke="#666" stroke-width="0.90"/>
<text x="557.5" y="83.2" font-size="7.20" fill="#444" textLength="20.7" lengthAdjust="spacingAndGlyphs">4,000</text>
<line x1="549.8" y1="135.6" x2="553.4" y2="135.6" stroke="#666" stroke-width="0.90"/>
<text x="557.5" y="138.5" font-size="7.20" fill="#444" textLength="20.7" lengthAdjust="spacingAndGlyphs">3,000</text>
<line x1="549.8" y1="190.8" x2="553.4" y2="190.8" stroke="#666" stroke-width="0.90"/>
<text x="557.5" y="193.7" font-size="7.20" fill="#444" textLength="20.7" lengthAdjust="spacingAndGlyphs">2,000</text>
<line x1="549.8" y1="246.1" x2="553.4" y2="246.1" stroke="#666" stroke-width="0.90"/>
<text x="557.5" y="249.0" font-size="7.20" fill="#444" textLength="19.1" lengthAdjust="spacingAndGlyphs">1,000</text>
<line x1="549.8" y1="301.4" x2="553.4" y2="301.4" stroke="#666" stroke-width="0.90"/>
<text x="557.5" y="304.3" font-size="7.20" fill="#444" textLength="5.0" lengthAdjust="spacingAndGlyphs">0</text>
<line x1="660.9" y1="61.7" x2="664.5" y2="61.7" stroke="#666" stroke-width="0.90"/>
<text x="668.6" y="64.6" font-size="7.20" fill="#444" textLength="14.3" lengthAdjust="spacingAndGlyphs">700</text>
<line x1="660.9" y1="91.5" x2="664.5" y2="91.5" stroke="#666" stroke-width="0.90"/>
<text x="668.6" y="94.4" font-size="7.20" fill="#444" textLength="14.3" lengthAdjust="spacingAndGlyphs">600</text>
<line x1="660.9" y1="121.3" x2="664.5" y2="121.3" stroke="#666" stroke-width="0.90"/>
<text x="668.6" y="124.2" font-size="7.20" fill="#444" textLength="14.3" lengthAdjust="spacingAndGlyphs">500</text>
<line x1="660.9" y1="151.2" x2="664.5" y2="151.2" stroke="#666" stroke-width="0.90"/>
<text x="668.6" y="154.1" font-size="7.20" fill="#444" textLength="14.3" lengthAdjust="spacingAndGlyphs">400</text>
<line x1="660.9" y1="181.0" x2="664.5" y2="181.0" stroke="#666" stroke-width="0.90"/>
<text x="668.6" y="183.9" font-size="7.20" fill="#444" textLength="14.3" lengthAdjust="spacingAndGlyphs">300</text>
<line x1="660.9" y1="210.8" x2="664.5" y2="210.8" stroke="#666" stroke-width="0.90"/>
<text x="668.6" y="213.7" font-size="7.20" fill="#444" textLength="14.3" lengthAdjust="spacingAndGlyphs">200</text>
<line x1="660.9" y1="240.7" x2="664.5" y2="240.7" stroke="#666" stroke-width="0.90"/>
<text x="668.6" y="243.6" font-size="7.20" fill="#444" textLength="12.6" lengthAdjust="spacingAndGlyphs">100</text>
<line x1="660.9" y1="270.5" x2="664.5" y2="270.5" stroke="#666" stroke-width="0.90"/>
<text x="668.6" y="273.4" font-size="7.20" fill="#444" textLength="5.0" lengthAdjust="spacingAndGlyphs">0</text>
<line x1="660.9" y1="300.3" x2="664.5" y2="300.3" stroke="#666" stroke-width="0.90"/>
<text x="668.6" y="303.2" font-size="7.20" fill="#444" textLength="16.9" lengthAdjust="spacingAndGlyphs">−100</text>
<text transform="translate(14.0,114.6) rotate(-90)" font-size="8.40" fill="#444" text-anchor="middle" textLength="92.3" lengthAdjust="spacingAndGlyphs">Pol IV peaks (<tspan font-style="italic">n</tspan> = 5,077)</text>
<text transform="translate(13.9,247.9) rotate(-90)" font-size="8.40" fill="#444" text-anchor="middle" textLength="53.0" lengthAdjust="spacingAndGlyphs">Pol IV shuffle</text>
<text transform="translate(114.3,115.6) rotate(-90)" font-size="8.40" fill="#444" text-anchor="middle" textLength="92.0" lengthAdjust="spacingAndGlyphs">Pol V peaks (<tspan font-style="italic">n</tspan> = 16,327)</text>
<text transform="translate(114.0,250.5) rotate(-90)" font-size="8.40" fill="#444" text-anchor="middle" textLength="49.5" lengthAdjust="spacingAndGlyphs">Pol V shuffle</text>
<text transform="translate(494.0,115.5) rotate(-90)" font-size="8.40" fill="#444" text-anchor="middle" textLength="81.7" lengthAdjust="spacingAndGlyphs">CLSY3 peaks (<tspan font-style="italic">n</tspan> = 380)</text>
<text transform="translate(494.0,251.6) rotate(-90)" font-size="8.40" fill="#444" text-anchor="middle" textLength="55.5" lengthAdjust="spacingAndGlyphs">CLSY3 shuffle</text>
<text transform="translate(607.6,114.9) rotate(-90)" font-size="8.40" fill="#444" text-anchor="middle" textLength="92.5" lengthAdjust="spacingAndGlyphs">CLSY4 peaks (<tspan font-style="italic">n</tspan> = 1,379)</text>
<text transform="translate(608.2,251.4) rotate(-90)" font-size="8.40" fill="#444" text-anchor="middle" textLength="57.6" lengthAdjust="spacingAndGlyphs">CLSY4  shuffle</text>
<text x="226.9" y="26.4" font-size="8.50" fill="#333" textLength="29.3" lengthAdjust="spacingAndGlyphs">MORC7</text>
<text x="234.0" y="46.0" font-size="8.50" fill="#333" textLength="22.2" lengthAdjust="spacingAndGlyphs">Pol IV</text>
<text x="236.6" y="67.0" font-size="8.50" fill="#333" textLength="19.6" lengthAdjust="spacingAndGlyphs">Pol V</text>
<text x="235.8" y="90.8" font-size="8.50" fill="#333" textLength="20.4" lengthAdjust="spacingAndGlyphs">GDE1</text>
<text x="266.7" y="24.9" font-size="7.60" fill="#444" textLength="24.8" lengthAdjust="spacingAndGlyphs">[0–237]</text>
<text x="266.3" y="44.0" font-size="7.60" fill="#444" textLength="31.4" lengthAdjust="spacingAndGlyphs">[0–7,109]</text>
<text x="266.3" y="65.0" font-size="7.60" fill="#444" textLength="29.7" lengthAdjust="spacingAndGlyphs">[0–1,951]</text>
<text x="266.0" y="89.5" font-size="7.60" fill="#444" textLength="32.0" lengthAdjust="spacingAndGlyphs">[0–4,841]</text>
<path d="M263.00,31.90 L263.00,31.20 L264.00,31.42 L265.20,31.16 L266.40,30.75 L267.60,30.57 L268.80,30.74 L270.00,31.29 L271.20,31.09 L272.40,31.51 L273.60,31.05 L274.80,30.81 L276.00,31.20 L277.20,30.99 L278.40,31.31 L279.60,30.90 L280.80,30.98 L282.00,30.84 L283.20,31.15 L284.40,30.88 L285.60,31.43 L286.80,30.83 L288.00,31.10 L289.20,30.91 L290.40,31.42 L291.60,31.16 L292.80,30.71 L294.00,30.78 L295.20,31.03 L296.40,31.06 L297.60,31.20 L298.80,31.37 L300.00,31.32 L301.20,30.90 L302.40,30.80 L303.60,31.27 L304.80,31.42 L306.00,31.05 L307.20,31.04 L308.40,31.25 L309.60,31.59 L310.80,31.43 L312.00,31.34 L313.20,31.06 L314.40,31.13 L315.60,30.99 L316.80,30.70 L318.00,31.27 L319.20,31.53 L320.40,31.59 L321.60,31.44 L322.80,30.56 L324.00,31.47 L325.20,30.83 L326.40,30.93 L327.60,30.70 L328.80,31.48 L330.00,30.60 L331.20,30.70 L332.40,31.01 L333.60,31.50 L334.80,31.11 L336.00,31.47 L337.20,31.41 L338.40,31.23 L339.60,31.15 L340.00,30.40 L341.80,30.00 L344.40,30.80 L347.00,30.20 L348.80,30.60 L350.10,29.10 L352.30,28.20 L354.90,27.90 L357.10,26.00 L360.10,24.30 L362.80,20.80 L365.00,18.10 L366.70,18.60 L368.50,17.30 L370.60,15.90 L372.40,16.40 L373.30,18.60 L374.60,16.80 L376.30,17.70 L377.70,18.60 L379.80,18.10 L381.60,19.00 L383.80,19.90 L385.10,21.60 L386.40,24.30 L388.60,26.40 L390.40,28.20 L392.50,27.80 L395.20,28.50 L397.80,29.10 L400.00,29.10 L401.00,30.17 L402.20,29.63 L403.40,29.67 L404.60,29.78 L405.80,29.84 L407.00,29.85 L408.20,29.74 L409.40,29.89 L410.60,30.21 L411.80,30.46 L413.00,30.04 L414.20,30.07 L415.40,30.13 L416.60,30.35 L417.80,30.45 L419.00,30.59 L420.20,30.15 L421.40,30.43 L422.60,30.16 L423.80,30.56 L425.00,30.10 L426.20,30.62 L427.40,30.35 L428.60,30.54 L429.80,30.40 L431.00,30.24 L432.20,30.40 L433.40,30.06 L434.60,30.07 L435.80,30.47 L437.00,30.44 L438.20,30.74 L439.40,30.11 L439.40,31.90 Z" fill="#e8203a"/>
<path d="M332.30,53.00 L332.30,52.60 L337.00,51.60 L341.70,51.00 L345.20,50.10 L348.70,48.90 L351.60,47.20 L354.50,46.20 L357.40,45.40 L360.40,43.70 L364.50,41.10 L367.40,41.90 L370.30,41.30 L373.20,40.20 L376.10,38.40 L379.00,36.70 L380.20,36.20 L381.40,36.40 L383.10,37.30 L384.90,37.30 L387.20,40.20 L389.60,43.10 L393.10,46.60 L397.20,48.90 L402.40,50.90 L406.50,52.60 L406.50,53.00 Z" fill="#b4509e"/>
<rect x="271.50" y="72.50" width="1.00" height="0.80" fill="#45b049"/>
<rect x="273.20" y="72.50" width="1.00" height="0.80" fill="#45b049"/>
<rect x="275.20" y="72.50" width="1.00" height="0.80" fill="#45b049"/>
<rect x="278.20" y="72.50" width="2.80" height="0.80" fill="#45b049"/>
<rect x="284.00" y="72.50" width="1.00" height="0.80" fill="#45b049"/>
<rect x="292.20" y="72.50" width="1.00" height="0.80" fill="#45b049"/>
<rect x="305.20" y="72.50" width="1.20" height="0.80" fill="#45b049"/>
<rect x="307.50" y="72.50" width="1.20" height="0.80" fill="#45b049"/>
<rect x="309.80" y="72.50" width="1.20" height="0.80" fill="#45b049"/>
<rect x="322.50" y="72.50" width="1.00" height="0.80" fill="#45b049"/>
<rect x="430.50" y="72.50" width="1.00" height="0.80" fill="#45b049"/>
<rect x="437.50" y="72.50" width="1.00" height="0.80" fill="#45b049"/>
<path d="M325.00,73.40 L325.00,72.60 L335.00,72.50 L340.00,72.40 L343.50,72.00 L348.80,70.80 L351.40,70.10 L355.80,69.50 L358.80,67.80 L361.00,66.20 L362.80,66.40 L365.40,65.80 L368.00,65.10 L369.80,62.90 L371.50,62.10 L373.70,61.50 L375.50,59.00 L377.70,58.10 L379.00,59.20 L381.20,58.80 L382.90,57.70 L384.70,57.10 L386.00,58.10 L387.30,60.80 L389.90,63.00 L392.50,64.70 L395.00,65.90 L398.00,68.10 L402.00,69.90 L405.00,70.30 L407.00,71.60 L410.00,72.30 L418.00,72.50 L424.80,72.60 L424.80,73.40 Z" fill="#45b049"/>
<path d="M329.60,93.80 L329.60,93.20 L340.80,93.00 L347.30,91.70 L351.30,90.40 L356.50,88.70 L359.80,86.50 L363.10,82.50 L365.10,79.30 L367.70,77.30 L370.30,78.00 L372.30,78.10 L374.90,79.60 L377.60,80.60 L380.20,82.30 L383.50,84.20 L386.10,87.10 L389.40,89.10 L393.30,91.10 L397.30,92.70 L404.50,93.20 L404.50,93.80 Z" fill="#2e3d96"/>
<rect x="407.10" y="93.00" width="3.60" height="0.80" fill="#2e3d96"/>
<rect x="259.20" y="100.50" width="21.20" height="6.70" fill="#2b3a95"/>
<rect x="280.20" y="101.30" width="2.70" height="5.10" fill="#2b3a95"/>
<path d="M261.6,102.2 L263.6,103.8 L261.6,105.4" fill="none" stroke="#fff" stroke-width="0.9"/>
<rect x="311.10" y="101.10" width="12.50" height="5.50" fill="#2b3a95"/>
<path d="M320.6,102.3 L318.7,103.85 L320.6,105.4" fill="none" stroke="#fff" stroke-width="0.9"/>
<rect x="403.50" y="101.70" width="6.80" height="4.10" fill="#2b3a95"/>
<rect x="410.10" y="100.30" width="8.20" height="7.00" fill="#2b3a95"/>
<line x1="418.30" y1="103.75" x2="427.60" y2="103.75" stroke="#2b3a95" stroke-width="1.00"/>
<circle cx="425.3" cy="103.75" r="0.9" fill="#2b3a95"/>
<rect x="427.60" y="100.30" width="4.10" height="7.00" fill="#2b3a95"/>
<line x1="431.70" y1="103.75" x2="435.80" y2="103.75" stroke="#2b3a95" stroke-width="1.00"/>
<rect x="435.80" y="100.30" width="2.50" height="7.00" fill="#2b3a95"/>
<rect x="438.20" y="101.90" width="8.80" height="3.70" fill="#2b3a95"/>
<rect x="446.90" y="100.30" width="3.00" height="7.00" fill="#2b3a95"/>
<rect x="450.70" y="100.30" width="3.20" height="7.00" fill="#2b3a95"/>
<text x="248.6" y="119.3" font-size="8.60" fill="#3c3c3c" textLength="46.5" lengthAdjust="spacingAndGlyphs">AT2G37820</text>
<text x="302.9" y="119.3" font-size="8.60" fill="#3c3c3c" textLength="47.0" lengthAdjust="spacingAndGlyphs">AT2G37830</text>
<text x="403.9" y="119.3" font-size="8.60" fill="#3c3c3c" textLength="47.4" lengthAdjust="spacingAndGlyphs">AT2G37840</text>
<text x="298.7" y="169.6" font-size="8.60" fill="#3c3c3c" textLength="81.3" lengthAdjust="spacingAndGlyphs">CLSY3 CLSY4 motif1</text>
<text x="300.4" y="182.0" font-size="8.6" fill="#3c3c3c"><tspan font-style="italic">E</tspan> value: 1.56 × 10<tspan font-size="6" dy="-3.2">−20</tspan></text>
<rect x="231.60" y="189.30" width="66.60" height="117.30" fill="none" stroke="#e8525a" stroke-width="1.00"/>
<rect x="304.80" y="189.30" width="75.00" height="117.30" fill="none" stroke="#e8525a" stroke-width="1.00"/>
<rect x="386.20" y="189.30" width="75.30" height="117.30" fill="none" stroke="#e8525a" stroke-width="1.00"/>
<text x="459.2" y="200.0" font-size="8.20" fill="#3c3c3c" text-anchor="end">CLSY3</text>
<text x="457.6" y="256.6" font-size="8.20" fill="#3c3c3c" text-anchor="end">GDE1</text>
<line x1="230.70" y1="193.50" x2="230.70" y2="237.60" stroke="#777" stroke-width="0.80"/>
<line x1="227.80" y1="237.60" x2="230.70" y2="237.60" stroke="#777" stroke-width="0.80"/>
<text x="224.6" y="240.4" font-size="8.00" fill="#444" text-anchor="end">0</text>
<line x1="227.80" y1="215.55" x2="230.70" y2="215.55" stroke="#777" stroke-width="0.80"/>
<text x="224.6" y="218.4" font-size="8.00" fill="#444" text-anchor="end">1</text>
<line x1="227.80" y1="193.50" x2="230.70" y2="193.50" stroke="#777" stroke-width="0.80"/>
<text x="224.6" y="196.3" font-size="8.00" fill="#444" text-anchor="end">2</text>
<line x1="230.70" y1="251.90" x2="230.70" y2="296.20" stroke="#777" stroke-width="0.80"/>
<line x1="227.80" y1="296.20" x2="230.70" y2="296.20" stroke="#777" stroke-width="0.80"/>
<text x="224.6" y="299.0" font-size="8.00" fill="#444" text-anchor="end">0</text>
<line x1="227.80" y1="274.05" x2="230.70" y2="274.05" stroke="#777" stroke-width="0.80"/>
<text x="224.6" y="276.9" font-size="8.00" fill="#444" text-anchor="end">1</text>
<line x1="227.80" y1="251.90" x2="230.70" y2="251.90" stroke="#777" stroke-width="0.80"/>
<text x="224.6" y="254.7" font-size="8.00" fill="#444" text-anchor="end">2</text>
<text transform="translate(212.6,215.0) rotate(-90)" font-size="8.2" fill="#444" text-anchor="middle">Bits</text>
<text transform="translate(212.6,273.7) rotate(-90)" font-size="8.2" fill="#444" text-anchor="middle">Bits</text>
<path d="M0.95,0.3 C0.88,0.08 0.72,0 0.52,0 C0.2,0 0.02,0.22 0.02,0.5 C0.02,0.78 0.2,1 0.52,1 C0.74,1 0.9,0.9 0.97,0.68 L0.72,0.62 C0.68,0.76 0.62,0.8 0.52,0.8 C0.36,0.8 0.28,0.68 0.28,0.5 C0.28,0.32 0.36,0.2 0.52,0.2 C0.6,0.2 0.68,0.26 0.7,0.36 Z" fill="#2a3aa0" fill-rule="evenodd" transform="translate(253.25,236.10) scale(6.90,1.200)"/>
<path d="M0,1 L0.36,0 H0.64 L1,1 H0.74 L0.66,0.74 H0.34 L0.26,1 Z M0.4,0.56 H0.6 L0.5,0.2 Z" fill="#d8202f" fill-rule="evenodd" transform="translate(253.25,234.90) scale(6.90,1.200)"/>
<path d="M0.04,0 H0.96 V0.15 H0.62 V1 H0.38 V0.15 H0.04 Z" fill="#168a3c" fill-rule="evenodd" transform="translate(253.25,233.90) scale(6.90,1.000)"/>
<path d="M0.95,0.3 C0.88,0.08 0.72,0 0.52,0 C0.2,0 0.02,0.22 0.02,0.5 C0.02,0.78 0.2,1 0.5,1 C0.66,1 0.78,0.94 0.86,0.86 L0.88,0.98 H0.98 V0.48 H0.54 V0.64 H0.74 C0.72,0.74 0.64,0.8 0.52,0.8 C0.36,0.8 0.28,0.68 0.28,0.5 C0.28,0.32 0.36,0.2 0.52,0.2 C0.6,0.2 0.68,0.26 0.7,0.36 Z" fill="#f3a51d" fill-rule="evenodd" transform="translate(253.25,230.90) scale(6.90,3.000)"/>
<text transform="translate(259.00,239.10) rotate(-90)" font-size="6.5" fill="#3a3a3a" text-anchor="end">1</text>
<path d="M0,1 L0.36,0 H0.64 L1,1 H0.74 L0.66,0.74 H0.34 L0.26,1 Z M0.4,0.56 H0.6 L0.5,0.2 Z" fill="#d8202f" fill-rule="evenodd" transform="translate(260.66,235.80) scale(6.90,1.500)"/>
<path d="M0.04,0 H0.96 V0.15 H0.62 V1 H0.38 V0.15 H0.04 Z" fill="#168a3c" fill-rule="evenodd" transform="translate(260.66,229.80) scale(6.90,6.000)"/>
<path d="M0.95,0.3 C0.88,0.08 0.72,0 0.52,0 C0.2,0 0.02,0.22 0.02,0.5 C0.02,0.78 0.2,1 0.52,1 C0.74,1 0.9,0.9 0.97,0.68 L0.72,0.62 C0.68,0.76 0.62,0.8 0.52,0.8 C0.36,0.8 0.28,0.68 0.28,0.5 C0.28,0.32 0.36,0.2 0.52,0.2 C0.6,0.2 0.68,0.26 0.7,0.36 Z" fill="#2a3aa0" fill-rule="evenodd" transform="translate(260.66,214.20) scale(6.90,15.600)"/>
<line x1="262.81" y1="213.60" x2="265.41" y2="213.60" stroke="#bbb" stroke-width="0.70"/>
<text transform="translate(266.41,239.10) rotate(-90)" font-size="6.5" fill="#3a3a3a" text-anchor="end">2</text>
<path d="M0.95,0.3 C0.88,0.08 0.72,0 0.52,0 C0.2,0 0.02,0.22 0.02,0.5 C0.02,0.78 0.2,1 0.52,1 C0.74,1 0.9,0.9 0.97,0.68 L0.72,0.62 C0.68,0.76 0.62,0.8 0.52,0.8 C0.36,0.8 0.28,0.68 0.28,0.5 C0.28,0.32 0.36,0.2 0.52,0.2 C0.6,0.2 0.68,0.26 0.7,0.36 Z" fill="#2a3aa0" fill-rule="evenodd" transform="translate(268.07,236.50) scale(6.90,0.800)"/>
<path d="M0,1 L0.36,0 H0.64 L1,1 H0.74 L0.66,0.74 H0.34 L0.26,1 Z M0.4,0.56 H0.6 L0.5,0.2 Z" fill="#d8202f" fill-rule="evenodd" transform="translate(268.07,232.50) scale(6.90,4.000)"/>
<path d="M0.04,0 H0.96 V0.15 H0.62 V1 H0.38 V0.15 H0.04 Z" fill="#168a3c" fill-rule="evenodd" transform="translate(268.07,213.30) scale(6.90,19.200)"/>
<line x1="270.22" y1="212.70" x2="272.82" y2="212.70" stroke="#bbb" stroke-width="0.70"/>
<text transform="translate(273.82,239.10) rotate(-90)" font-size="6.5" fill="#3a3a3a" text-anchor="end">3</text>
<path d="M0.95,0.3 C0.88,0.08 0.72,0 0.52,0 C0.2,0 0.02,0.22 0.02,0.5 C0.02,0.78 0.2,1 0.52,1 C0.74,1 0.9,0.9 0.97,0.68 L0.72,0.62 C0.68,0.76 0.62,0.8 0.52,0.8 C0.36,0.8 0.28,0.68 0.28,0.5 C0.28,0.32 0.36,0.2 0.52,0.2 C0.6,0.2 0.68,0.26 0.7,0.36 Z" fill="#2a3aa0" fill-rule="evenodd" transform="translate(275.48,232.30) scale(6.90,5.000)"/>
<path d="M0.04,0 H0.96 V0.15 H0.62 V1 H0.38 V0.15 H0.04 Z" fill="#168a3c" fill-rule="evenodd" transform="translate(275.48,212.10) scale(6.90,20.200)"/>
<line x1="277.63" y1="211.50" x2="280.23" y2="211.50" stroke="#bbb" stroke-width="0.70"/>
<text transform="translate(281.23,239.10) rotate(-90)" font-size="6.5" fill="#3a3a3a" text-anchor="end">4</text>
<path d="M0.95,0.3 C0.88,0.08 0.72,0 0.52,0 C0.2,0 0.02,0.22 0.02,0.5 C0.02,0.78 0.2,1 0.52,1 C0.74,1 0.9,0.9 0.97,0.68 L0.72,0.62 C0.68,0.76 0.62,0.8 0.52,0.8 C0.36,0.8 0.28,0.68 0.28,0.5 C0.28,0.32 0.36,0.2 0.52,0.2 C0.6,0.2 0.68,0.26 0.7,0.36 Z" fill="#2a3aa0" fill-rule="evenodd" transform="translate(282.89,235.80) scale(6.90,1.500)"/>
<path d="M0.04,0 H0.96 V0.15 H0.62 V1 H0.38 V0.15 H0.04 Z" fill="#168a3c" fill-rule="evenodd" transform="translate(282.89,232.30) scale(6.90,3.500)"/>
<path d="M0,1 L0.36,0 H0.64 L1,1 H0.74 L0.66,0.74 H0.34 L0.26,1 Z M0.4,0.56 H0.6 L0.5,0.2 Z" fill="#d8202f" fill-rule="evenodd" transform="translate(282.89,215.30) scale(6.90,17.000)"/>
<line x1="285.04" y1="214.70" x2="287.64" y2="214.70" stroke="#bbb" stroke-width="0.70"/>
<text transform="translate(288.64,239.10) rotate(-90)" font-size="6.5" fill="#3a3a3a" text-anchor="end">5</text>
<path d="M0.95,0.3 C0.88,0.08 0.72,0 0.52,0 C0.2,0 0.02,0.22 0.02,0.5 C0.02,0.78 0.2,1 0.52,1 C0.74,1 0.9,0.9 0.97,0.68 L0.72,0.62 C0.68,0.76 0.62,0.8 0.52,0.8 C0.36,0.8 0.28,0.68 0.28,0.5 C0.28,0.32 0.36,0.2 0.52,0.2 C0.6,0.2 0.68,0.26 0.7,0.36 Z" fill="#2a3aa0" fill-rule="evenodd" transform="translate(290.30,236.50) scale(6.90,0.800)"/>
<path d="M0,1 L0.36,0 H0.64 L1,1 H0.74 L0.66,0.74 H0.34 L0.26,1 Z M0.4,0.56 H0.6 L0.5,0.2 Z" fill="#d8202f" fill-rule="evenodd" transform="translate(290.30,233.00) scale(6.90,3.500)"/>
<path d="M0.04,0 H0.96 V0.15 H0.62 V1 H0.38 V0.15 H0.04 Z" fill="#168a3c" fill-rule="evenodd" transform="translate(290.30,207.20) scale(6.90,25.800)"/>
<line x1="292.45" y1="206.60" x2="295.05" y2="206.60" stroke="#bbb" stroke-width="0.70"/>
<text transform="translate(296.05,239.10) rotate(-90)" font-size="6.5" fill="#3a3a3a" text-anchor="end">6</text>
<path d="M0.04,0 H0.96 V0.15 H0.62 V1 H0.38 V0.15 H0.04 Z" fill="#168a3c" fill-rule="evenodd" transform="translate(297.71,236.30) scale(6.90,1.000)"/>
<path d="M0,1 L0.36,0 H0.64 L1,1 H0.74 L0.66,0.74 H0.34 L0.26,1 Z M0.4,0.56 H0.6 L0.5,0.2 Z" fill="#d8202f" fill-rule="evenodd" transform="translate(297.71,234.80) scale(6.90,1.500)"/>
<path d="M0.95,0.3 C0.88,0.08 0.72,0 0.52,0 C0.2,0 0.02,0.22 0.02,0.5 C0.02,0.78 0.2,1 0.5,1 C0.66,1 0.78,0.94 0.86,0.86 L0.88,0.98 H0.98 V0.48 H0.54 V0.64 H0.74 C0.72,0.74 0.64,0.8 0.52,0.8 C0.36,0.8 0.28,0.68 0.28,0.5 C0.28,0.32 0.36,0.2 0.52,0.2 C0.6,0.2 0.68,0.26 0.7,0.36 Z" fill="#f3a51d" fill-rule="evenodd" transform="translate(297.71,231.30) scale(6.90,3.500)"/>
<text transform="translate(303.46,239.10) rotate(-90)" font-size="6.5" fill="#3a3a3a" text-anchor="end">7</text>
<path d="M0.95,0.3 C0.88,0.08 0.72,0 0.52,0 C0.2,0 0.02,0.22 0.02,0.5 C0.02,0.78 0.2,1 0.52,1 C0.74,1 0.9,0.9 0.97,0.68 L0.72,0.62 C0.68,0.76 0.62,0.8 0.52,0.8 C0.36,0.8 0.28,0.68 0.28,0.5 C0.28,0.32 0.36,0.2 0.52,0.2 C0.6,0.2 0.68,0.26 0.7,0.36 Z" fill="#2a3aa0" fill-rule="evenodd" transform="translate(305.12,236.80) scale(6.90,0.500)"/>
<path d="M0,1 L0.36,0 H0.64 L1,1 H0.74 L0.66,0.74 H0.34 L0.26,1 Z M0.4,0.56 H0.6 L0.5,0.2 Z" fill="#d8202f" fill-rule="evenodd" transform="translate(305.12,233.80) scale(6.90,3.000)"/>
<path d="M0.04,0 H0.96 V0.15 H0.62 V1 H0.38 V0.15 H0.04 Z" fill="#168a3c" fill-rule="evenodd" transform="translate(305.12,207.50) scale(6.90,26.300)"/>
<line x1="307.27" y1="206.90" x2="309.87" y2="206.90" stroke="#bbb" stroke-width="0.70"/>
<text transform="translate(310.87,239.10) rotate(-90)" font-size="6.5" fill="#3a3a3a" text-anchor="end">8</text>
<path d="M0,1 L0.36,0 H0.64 L1,1 H0.74 L0.66,0.74 H0.34 L0.26,1 Z M0.4,0.56 H0.6 L0.5,0.2 Z" fill="#d8202f" fill-rule="evenodd" transform="translate(312.53,236.30) scale(6.90,1.000)"/>
<path d="M0.04,0 H0.96 V0.15 H0.62 V1 H0.38 V0.15 H0.04 Z" fill="#168a3c" fill-rule="evenodd" transform="translate(312.53,197.30) scale(6.90,39.000)"/>
<line x1="314.68" y1="196.70" x2="317.28" y2="196.70" stroke="#bbb" stroke-width="0.70"/>
<text transform="translate(318.28,239.10) rotate(-90)" font-size="6.5" fill="#3a3a3a" text-anchor="end">9</text>
<path d="M0,1 L0.36,0 H0.64 L1,1 H0.74 L0.66,0.74 H0.34 L0.26,1 Z M0.4,0.56 H0.6 L0.5,0.2 Z" fill="#d8202f" fill-rule="evenodd" transform="translate(319.94,236.80) scale(6.90,0.500)"/>
<path d="M0.95,0.3 C0.88,0.08 0.72,0 0.52,0 C0.2,0 0.02,0.22 0.02,0.5 C0.02,0.78 0.2,1 0.52,1 C0.74,1 0.9,0.9 0.97,0.68 L0.72,0.62 C0.68,0.76 0.62,0.8 0.52,0.8 C0.36,0.8 0.28,0.68 0.28,0.5 C0.28,0.32 0.36,0.2 0.52,0.2 C0.6,0.2 0.68,0.26 0.7,0.36 Z" fill="#2a3aa0" fill-rule="evenodd" transform="translate(319.94,233.30) scale(6.90,3.500)"/>
<path d="M0.04,0 H0.96 V0.15 H0.62 V1 H0.38 V0.15 H0.04 Z" fill="#168a3c" fill-rule="evenodd" transform="translate(319.94,203.80) scale(6.90,29.500)"/>
<line x1="322.09" y1="203.20" x2="324.69" y2="203.20" stroke="#bbb" stroke-width="0.70"/>
<text transform="translate(325.69,239.10) rotate(-90)" font-size="6.5" fill="#3a3a3a" text-anchor="end">10</text>
<path d="M0,1 L0.36,0 H0.64 L1,1 H0.74 L0.66,0.74 H0.34 L0.26,1 Z M0.4,0.56 H0.6 L0.5,0.2 Z" fill="#d8202f" fill-rule="evenodd" transform="translate(327.35,236.80) scale(6.90,0.500)"/>
<path d="M0.95,0.3 C0.88,0.08 0.72,0 0.52,0 C0.2,0 0.02,0.22 0.02,0.5 C0.02,0.78 0.2,1 0.52,1 C0.74,1 0.9,0.9 0.97,0.68 L0.72,0.62 C0.68,0.76 0.62,0.8 0.52,0.8 C0.36,0.8 0.28,0.68 0.28,0.5 C0.28,0.32 0.36,0.2 0.52,0.2 C0.6,0.2 0.68,0.26 0.7,0.36 Z" fill="#2a3aa0" fill-rule="evenodd" transform="translate(327.35,233.80) scale(6.90,3.000)"/>
<path d="M0.04,0 H0.96 V0.15 H0.62 V1 H0.38 V0.15 H0.04 Z" fill="#168a3c" fill-rule="evenodd" transform="translate(327.35,202.10) scale(6.90,31.700)"/>
<line x1="329.50" y1="201.50" x2="332.10" y2="201.50" stroke="#bbb" stroke-width="0.70"/>
<text transform="translate(333.10,239.10) rotate(-90)" font-size="6.5" fill="#3a3a3a" text-anchor="end">11</text>
<path d="M0,1 L0.36,0 H0.64 L1,1 H0.74 L0.66,0.74 H0.34 L0.26,1 Z M0.4,0.56 H0.6 L0.5,0.2 Z" fill="#d8202f" fill-rule="evenodd" transform="translate(334.76,236.50) scale(6.90,0.800)"/>
<path d="M0.04,0 H0.96 V0.15 H0.62 V1 H0.38 V0.15 H0.04 Z" fill="#168a3c" fill-rule="evenodd" transform="translate(334.76,232.00) scale(6.90,4.500)"/>
<path d="M0.95,0.3 C0.88,0.08 0.72,0 0.52,0 C0.2,0 0.02,0.22 0.02,0.5 C0.02,0.78 0.2,1 0.5,1 C0.66,1 0.78,0.94 0.86,0.86 L0.88,0.98 H0.98 V0.48 H0.54 V0.64 H0.74 C0.72,0.74 0.64,0.8 0.52,0.8 C0.36,0.8 0.28,0.68 0.28,0.5 C0.28,0.32 0.36,0.2 0.52,0.2 C0.6,0.2 0.68,0.26 0.7,0.36 Z" fill="#f3a51d" fill-rule="evenodd" transform="translate(334.76,209.60) scale(6.90,22.400)"/>
<line x1="336.91" y1="209.00" x2="339.51" y2="209.00" stroke="#bbb" stroke-width="0.70"/>
<text transform="translate(340.51,239.10) rotate(-90)" font-size="6.5" fill="#3a3a3a" text-anchor="end">12</text>
<path d="M0,1 L0.36,0 H0.64 L1,1 H0.74 L0.66,0.74 H0.34 L0.26,1 Z M0.4,0.56 H0.6 L0.5,0.2 Z" fill="#d8202f" fill-rule="evenodd" transform="translate(342.17,236.50) scale(6.90,0.800)"/>
<path d="M0.95,0.3 C0.88,0.08 0.72,0 0.52,0 C0.2,0 0.02,0.22 0.02,0.5 C0.02,0.78 0.2,1 0.52,1 C0.74,1 0.9,0.9 0.97,0.68 L0.72,0.62 C0.68,0.76 0.62,0.8 0.52,0.8 C0.36,0.8 0.28,0.68 0.28,0.5 C0.28,0.32 0.36,0.2 0.52,0.2 C0.6,0.2 0.68,0.26 0.7,0.36 Z" fill="#2a3aa0" fill-rule="evenodd" transform="translate(342.17,196.30) scale(6.90,40.200)"/>
<line x1="344.32" y1="195.70" x2="346.92" y2="195.70" stroke="#bbb" stroke-width="0.70"/>
<text transform="translate(347.92,239.10) rotate(-90)" font-size="6.5" fill="#3a3a3a" text-anchor="end">13</text>
<path d="M0,1 L0.36,0 H0.64 L1,1 H0.74 L0.66,0.74 H0.34 L0.26,1 Z M0.4,0.56 H0.6 L0.5,0.2 Z" fill="#d8202f" fill-rule="evenodd" transform="translate(349.58,234.80) scale(6.90,2.500)"/>
<path d="M0.04,0 H0.96 V0.15 H0.62 V1 H0.38 V0.15 H0.04 Z" fill="#168a3c" fill-rule="evenodd" transform="translate(349.58,199.30) scale(6.90,35.500)"/>
<line x1="351.73" y1="198.70" x2="354.33" y2="198.70" stroke="#bbb" stroke-width="0.70"/>
<text transform="translate(355.33,239.10) rotate(-90)" font-size="6.5" fill="#3a3a3a" text-anchor="end">14</text>
<path d="M0,1 L0.36,0 H0.64 L1,1 H0.74 L0.66,0.74 H0.34 L0.26,1 Z M0.4,0.56 H0.6 L0.5,0.2 Z" fill="#d8202f" fill-rule="evenodd" transform="translate(356.99,236.80) scale(6.90,0.500)"/>
<path d="M0.95,0.3 C0.88,0.08 0.72,0 0.52,0 C0.2,0 0.02,0.22 0.02,0.5 C0.02,0.78 0.2,1 0.52,1 C0.74,1 0.9,0.9 0.97,0.68 L0.72,0.62 C0.68,0.76 0.62,0.8 0.52,0.8 C0.36,0.8 0.28,0.68 0.28,0.5 C0.28,0.32 0.36,0.2 0.52,0.2 C0.6,0.2 0.68,0.26 0.7,0.36 Z" fill="#2a3aa0" fill-rule="evenodd" transform="translate(356.99,233.80) scale(6.90,3.000)"/>
<path d="M0.04,0 H0.96 V0.15 H0.62 V1 H0.38 V0.15 H0.04 Z" fill="#168a3c" fill-rule="evenodd" transform="translate(356.99,204.30) scale(6.90,29.500)"/>
<line x1="359.14" y1="203.70" x2="361.74" y2="203.70" stroke="#bbb" stroke-width="0.70"/>
<text transform="translate(362.74,239.10) rotate(-90)" font-size="6.5" fill="#3a3a3a" text-anchor="end">15</text>
<path d="M0.95,0.3 C0.88,0.08 0.72,0 0.52,0 C0.2,0 0.02,0.22 0.02,0.5 C0.02,0.78 0.2,1 0.52,1 C0.74,1 0.9,0.9 0.97,0.68 L0.72,0.62 C0.68,0.76 0.62,0.8 0.52,0.8 C0.36,0.8 0.28,0.68 0.28,0.5 C0.28,0.32 0.36,0.2 0.52,0.2 C0.6,0.2 0.68,0.26 0.7,0.36 Z" fill="#2a3aa0" fill-rule="evenodd" transform="translate(364.40,236.80) scale(6.90,0.500)"/>
<path d="M0.04,0 H0.96 V0.15 H0.62 V1 H0.38 V0.15 H0.04 Z" fill="#168a3c" fill-rule="evenodd" transform="translate(364.40,234.30) scale(6.90,2.500)"/>
<path d="M0.95,0.3 C0.88,0.08 0.72,0 0.52,0 C0.2,0 0.02,0.22 0.02,0.5 C0.02,0.78 0.2,1 0.5,1 C0.66,1 0.78,0.94 0.86,0.86 L0.88,0.98 H0.98 V0.48 H0.54 V0.64 H0.74 C0.72,0.74 0.64,0.8 0.52,0.8 C0.36,0.8 0.28,0.68 0.28,0.5 C0.28,0.32 0.36,0.2 0.52,0.2 C0.6,0.2 0.68,0.26 0.7,0.36 Z" fill="#f3a51d" fill-rule="evenodd" transform="translate(364.40,232.50) scale(6.90,1.800)"/>
<path d="M0,1 L0.36,0 H0.64 L1,1 H0.74 L0.66,0.74 H0.34 L0.26,1 Z M0.4,0.56 H0.6 L0.5,0.2 Z" fill="#d8202f" fill-rule="evenodd" transform="translate(364.40,211.90) scale(6.90,20.600)"/>
<line x1="366.55" y1="211.30" x2="369.15" y2="211.30" stroke="#bbb" stroke-width="0.70"/>
<text transform="translate(370.15,239.10) rotate(-90)" font-size="6.5" fill="#3a3a3a" text-anchor="end">16</text>
<path d="M0.95,0.3 C0.88,0.08 0.72,0 0.52,0 C0.2,0 0.02,0.22 0.02,0.5 C0.02,0.78 0.2,1 0.52,1 C0.74,1 0.9,0.9 0.97,0.68 L0.72,0.62 C0.68,0.76 0.62,0.8 0.52,0.8 C0.36,0.8 0.28,0.68 0.28,0.5 C0.28,0.32 0.36,0.2 0.52,0.2 C0.6,0.2 0.68,0.26 0.7,0.36 Z" fill="#2a3aa0" fill-rule="evenodd" transform="translate(371.81,236.30) scale(6.90,1.000)"/>
<path d="M0,1 L0.36,0 H0.64 L1,1 H0.74 L0.66,0.74 H0.34 L0.26,1 Z M0.4,0.56 H0.6 L0.5,0.2 Z" fill="#d8202f" fill-rule="evenodd" transform="translate(371.81,234.80) scale(6.90,1.500)"/>
<path d="M0.95,0.3 C0.88,0.08 0.72,0 0.52,0 C0.2,0 0.02,0.22 0.02,0.5 C0.02,0.78 0.2,1 0.5,1 C0.66,1 0.78,0.94 0.86,0.86 L0.88,0.98 H0.98 V0.48 H0.54 V0.64 H0.74 C0.72,0.74 0.64,0.8 0.52,0.8 C0.36,0.8 0.28,0.68 0.28,0.5 C0.28,0.32 0.36,0.2 0.52,0.2 C0.6,0.2 0.68,0.26 0.7,0.36 Z" fill="#f3a51d" fill-rule="evenodd" transform="translate(371.81,233.80) scale(6.90,1.000)"/>
<path d="M0.04,0 H0.96 V0.15 H0.62 V1 H0.38 V0.15 H0.04 Z" fill="#168a3c" fill-rule="evenodd" transform="translate(371.81,228.60) scale(6.90,5.200)"/>
<line x1="373.96" y1="228.00" x2="376.56" y2="228.00" stroke="#bbb" stroke-width="0.70"/>
<text transform="translate(377.56,239.10) rotate(-90)" font-size="6.5" fill="#3a3a3a" text-anchor="end">17</text>
<path d="M0,1 L0.36,0 H0.64 L1,1 H0.74 L0.66,0.74 H0.34 L0.26,1 Z M0.4,0.56 H0.6 L0.5,0.2 Z" fill="#d8202f" fill-rule="evenodd" transform="translate(379.22,236.30) scale(6.90,1.000)"/>
<path d="M0.04,0 H0.96 V0.15 H0.62 V1 H0.38 V0.15 H0.04 Z" fill="#168a3c" fill-rule="evenodd" transform="translate(379.22,235.30) scale(6.90,1.000)"/>
<path d="M0.95,0.3 C0.88,0.08 0.72,0 0.52,0 C0.2,0 0.02,0.22 0.02,0.5 C0.02,0.78 0.2,1 0.5,1 C0.66,1 0.78,0.94 0.86,0.86 L0.88,0.98 H0.98 V0.48 H0.54 V0.64 H0.74 C0.72,0.74 0.64,0.8 0.52,0.8 C0.36,0.8 0.28,0.68 0.28,0.5 C0.28,0.32 0.36,0.2 0.52,0.2 C0.6,0.2 0.68,0.26 0.7,0.36 Z" fill="#f3a51d" fill-rule="evenodd" transform="translate(379.22,232.80) scale(6.90,2.500)"/>
<text transform="translate(384.97,239.10) rotate(-90)" font-size="6.5" fill="#3a3a3a" text-anchor="end">18</text>
<path d="M0.95,0.3 C0.88,0.08 0.72,0 0.52,0 C0.2,0 0.02,0.22 0.02,0.5 C0.02,0.78 0.2,1 0.52,1 C0.74,1 0.9,0.9 0.97,0.68 L0.72,0.62 C0.68,0.76 0.62,0.8 0.52,0.8 C0.36,0.8 0.28,0.68 0.28,0.5 C0.28,0.32 0.36,0.2 0.52,0.2 C0.6,0.2 0.68,0.26 0.7,0.36 Z" fill="#2a3aa0" fill-rule="evenodd" transform="translate(386.63,236.80) scale(6.90,0.500)"/>
<path d="M0,1 L0.36,0 H0.64 L1,1 H0.74 L0.66,0.74 H0.34 L0.26,1 Z M0.4,0.56 H0.6 L0.5,0.2 Z" fill="#d8202f" fill-rule="evenodd" transform="translate(386.63,233.80) scale(6.90,3.000)"/>
<path d="M0.04,0 H0.96 V0.15 H0.62 V1 H0.38 V0.15 H0.04 Z" fill="#168a3c" fill-rule="evenodd" transform="translate(386.63,209.50) scale(6.90,24.300)"/>
<line x1="388.78" y1="208.90" x2="391.38" y2="208.90" stroke="#bbb" stroke-width="0.70"/>
<text transform="translate(392.38,239.10) rotate(-90)" font-size="6.5" fill="#3a3a3a" text-anchor="end">19</text>
<path d="M0.95,0.3 C0.88,0.08 0.72,0 0.52,0 C0.2,0 0.02,0.22 0.02,0.5 C0.02,0.78 0.2,1 0.52,1 C0.74,1 0.9,0.9 0.97,0.68 L0.72,0.62 C0.68,0.76 0.62,0.8 0.52,0.8 C0.36,0.8 0.28,0.68 0.28,0.5 C0.28,0.32 0.36,0.2 0.52,0.2 C0.6,0.2 0.68,0.26 0.7,0.36 Z" fill="#2a3aa0" fill-rule="evenodd" transform="translate(394.04,236.80) scale(6.90,0.500)"/>
<path d="M0,1 L0.36,0 H0.64 L1,1 H0.74 L0.66,0.74 H0.34 L0.26,1 Z M0.4,0.56 H0.6 L0.5,0.2 Z" fill="#d8202f" fill-rule="evenodd" transform="translate(394.04,233.80) scale(6.90,3.000)"/>
<path d="M0.04,0 H0.96 V0.15 H0.62 V1 H0.38 V0.15 H0.04 Z" fill="#168a3c" fill-rule="evenodd" transform="translate(394.04,208.40) scale(6.90,25.400)"/>
<line x1="396.19" y1="207.80" x2="398.79" y2="207.80" stroke="#bbb" stroke-width="0.70"/>
<text transform="translate(399.79,239.10) rotate(-90)" font-size="6.5" fill="#3a3a3a" text-anchor="end">20</text>
<path d="M0,1 L0.36,0 H0.64 L1,1 H0.74 L0.66,0.74 H0.34 L0.26,1 Z M0.4,0.56 H0.6 L0.5,0.2 Z" fill="#d8202f" fill-rule="evenodd" transform="translate(401.45,235.80) scale(6.90,1.500)"/>
<path d="M0.95,0.3 C0.88,0.08 0.72,0 0.52,0 C0.2,0 0.02,0.22 0.02,0.5 C0.02,0.78 0.2,1 0.52,1 C0.74,1 0.9,0.9 0.97,0.68 L0.72,0.62 C0.68,0.76 0.62,0.8 0.52,0.8 C0.36,0.8 0.28,0.68 0.28,0.5 C0.28,0.32 0.36,0.2 0.52,0.2 C0.6,0.2 0.68,0.26 0.7,0.36 Z" fill="#2a3aa0" fill-rule="evenodd" transform="translate(401.45,233.80) scale(6.90,2.000)"/>
<path d="M0.04,0 H0.96 V0.15 H0.62 V1 H0.38 V0.15 H0.04 Z" fill="#168a3c" fill-rule="evenodd" transform="translate(401.45,211.30) scale(6.90,22.500)"/>
<line x1="403.60" y1="210.70" x2="406.20" y2="210.70" stroke="#bbb" stroke-width="0.70"/>
<text transform="translate(407.20,239.10) rotate(-90)" font-size="6.5" fill="#3a3a3a" text-anchor="end">21</text>
<path d="M0,1 L0.36,0 H0.64 L1,1 H0.74 L0.66,0.74 H0.34 L0.26,1 Z M0.4,0.56 H0.6 L0.5,0.2 Z" fill="#d8202f" fill-rule="evenodd" transform="translate(408.86,236.30) scale(6.90,1.000)"/>
<path d="M0.04,0 H0.96 V0.15 H0.62 V1 H0.38 V0.15 H0.04 Z" fill="#168a3c" fill-rule="evenodd" transform="translate(408.86,200.30) scale(6.90,36.000)"/>
<line x1="411.01" y1="199.70" x2="413.61" y2="199.70" stroke="#bbb" stroke-width="0.70"/>
<text transform="translate(414.61,239.10) rotate(-90)" font-size="6.5" fill="#3a3a3a" text-anchor="end">22</text>
<path d="M0.95,0.3 C0.88,0.08 0.72,0 0.52,0 C0.2,0 0.02,0.22 0.02,0.5 C0.02,0.78 0.2,1 0.52,1 C0.74,1 0.9,0.9 0.97,0.68 L0.72,0.62 C0.68,0.76 0.62,0.8 0.52,0.8 C0.36,0.8 0.28,0.68 0.28,0.5 C0.28,0.32 0.36,0.2 0.52,0.2 C0.6,0.2 0.68,0.26 0.7,0.36 Z" fill="#2a3aa0" fill-rule="evenodd" transform="translate(416.27,235.80) scale(6.90,1.500)"/>
<path d="M0,1 L0.36,0 H0.64 L1,1 H0.74 L0.66,0.74 H0.34 L0.26,1 Z M0.4,0.56 H0.6 L0.5,0.2 Z" fill="#d8202f" fill-rule="evenodd" transform="translate(416.27,232.30) scale(6.90,3.500)"/>
<path d="M0.95,0.3 C0.88,0.08 0.72,0 0.52,0 C0.2,0 0.02,0.22 0.02,0.5 C0.02,0.78 0.2,1 0.5,1 C0.66,1 0.78,0.94 0.86,0.86 L0.88,0.98 H0.98 V0.48 H0.54 V0.64 H0.74 C0.72,0.74 0.64,0.8 0.52,0.8 C0.36,0.8 0.28,0.68 0.28,0.5 C0.28,0.32 0.36,0.2 0.52,0.2 C0.6,0.2 0.68,0.26 0.7,0.36 Z" fill="#f3a51d" fill-rule="evenodd" transform="translate(416.27,215.40) scale(6.90,16.900)"/>
<line x1="418.42" y1="214.80" x2="421.02" y2="214.80" stroke="#bbb" stroke-width="0.70"/>
<text transform="translate(422.02,239.10) rotate(-90)" font-size="6.5" fill="#3a3a3a" text-anchor="end">23</text>
<path d="M0,1 L0.36,0 H0.64 L1,1 H0.74 L0.66,0.74 H0.34 L0.26,1 Z M0.4,0.56 H0.6 L0.5,0.2 Z" fill="#d8202f" fill-rule="evenodd" transform="translate(423.68,236.30) scale(6.90,1.000)"/>
<path d="M0.04,0 H0.96 V0.15 H0.62 V1 H0.38 V0.15 H0.04 Z" fill="#168a3c" fill-rule="evenodd" transform="translate(423.68,232.30) scale(6.90,4.000)"/>
<path d="M0.95,0.3 C0.88,0.08 0.72,0 0.52,0 C0.2,0 0.02,0.22 0.02,0.5 C0.02,0.78 0.2,1 0.52,1 C0.74,1 0.9,0.9 0.97,0.68 L0.72,0.62 C0.68,0.76 0.62,0.8 0.52,0.8 C0.36,0.8 0.28,0.68 0.28,0.5 C0.28,0.32 0.36,0.2 0.52,0.2 C0.6,0.2 0.68,0.26 0.7,0.36 Z" fill="#2a3aa0" fill-rule="evenodd" transform="translate(423.68,209.40) scale(6.90,22.900)"/>
<line x1="425.83" y1="208.80" x2="428.43" y2="208.80" stroke="#bbb" stroke-width="0.70"/>
<text transform="translate(429.43,239.10) rotate(-90)" font-size="6.5" fill="#3a3a3a" text-anchor="end">24</text>
<path d="M0.95,0.3 C0.88,0.08 0.72,0 0.52,0 C0.2,0 0.02,0.22 0.02,0.5 C0.02,0.78 0.2,1 0.52,1 C0.74,1 0.9,0.9 0.97,0.68 L0.72,0.62 C0.68,0.76 0.62,0.8 0.52,0.8 C0.36,0.8 0.28,0.68 0.28,0.5 C0.28,0.32 0.36,0.2 0.52,0.2 C0.6,0.2 0.68,0.26 0.7,0.36 Z" fill="#2a3aa0" fill-rule="evenodd" transform="translate(431.09,236.30) scale(6.90,1.000)"/>
<path d="M0,1 L0.36,0 H0.64 L1,1 H0.74 L0.66,0.74 H0.34 L0.26,1 Z M0.4,0.56 H0.6 L0.5,0.2 Z" fill="#d8202f" fill-rule="evenodd" transform="translate(431.09,233.30) scale(6.90,3.000)"/>
<path d="M0.04,0 H0.96 V0.15 H0.62 V1 H0.38 V0.15 H0.04 Z" fill="#168a3c" fill-rule="evenodd" transform="translate(431.09,215.90) scale(6.90,17.400)"/>
<line x1="433.24" y1="215.30" x2="435.84" y2="215.30" stroke="#bbb" stroke-width="0.70"/>
<text transform="translate(436.84,239.10) rotate(-90)" font-size="6.5" fill="#3a3a3a" text-anchor="end">25</text>
<path d="M0.95,0.3 C0.88,0.08 0.72,0 0.52,0 C0.2,0 0.02,0.22 0.02,0.5 C0.02,0.78 0.2,1 0.5,1 C0.66,1 0.78,0.94 0.86,0.86 L0.88,0.98 H0.98 V0.48 H0.54 V0.64 H0.74 C0.72,0.74 0.64,0.8 0.52,0.8 C0.36,0.8 0.28,0.68 0.28,0.5 C0.28,0.32 0.36,0.2 0.52,0.2 C0.6,0.2 0.68,0.26 0.7,0.36 Z" fill="#f3a51d" fill-rule="evenodd" transform="translate(438.50,236.30) scale(6.90,1.000)"/>
<path d="M0.95,0.3 C0.88,0.08 0.72,0 0.52,0 C0.2,0 0.02,0.22 0.02,0.5 C0.02,0.78 0.2,1 0.52,1 C0.74,1 0.9,0.9 0.97,0.68 L0.72,0.62 C0.68,0.76 0.62,0.8 0.52,0.8 C0.36,0.8 0.28,0.68 0.28,0.5 C0.28,0.32 0.36,0.2 0.52,0.2 C0.6,0.2 0.68,0.26 0.7,0.36 Z" fill="#2a3aa0" fill-rule="evenodd" transform="translate(438.50,234.30) scale(6.90,2.000)"/>
<path d="M0.04,0 H0.96 V0.15 H0.62 V1 H0.38 V0.15 H0.04 Z" fill="#168a3c" fill-rule="evenodd" transform="translate(438.50,211.30) scale(6.90,23.000)"/>
<line x1="440.65" y1="210.70" x2="443.25" y2="210.70" stroke="#bbb" stroke-width="0.70"/>
<text transform="translate(444.25,239.10) rotate(-90)" font-size="6.5" fill="#3a3a3a" text-anchor="end">26</text>
<path d="M0.04,0 H0.96 V0.15 H0.62 V1 H0.38 V0.15 H0.04 Z" fill="#168a3c" fill-rule="evenodd" transform="translate(445.91,235.30) scale(6.90,2.000)"/>
<path d="M0.95,0.3 C0.88,0.08 0.72,0 0.52,0 C0.2,0 0.02,0.22 0.02,0.5 C0.02,0.78 0.2,1 0.5,1 C0.66,1 0.78,0.94 0.86,0.86 L0.88,0.98 H0.98 V0.48 H0.54 V0.64 H0.74 C0.72,0.74 0.64,0.8 0.52,0.8 C0.36,0.8 0.28,0.68 0.28,0.5 C0.28,0.32 0.36,0.2 0.52,0.2 C0.6,0.2 0.68,0.26 0.7,0.36 Z" fill="#f3a51d" fill-rule="evenodd" transform="translate(445.91,232.30) scale(6.90,3.000)"/>
<path d="M0,1 L0.36,0 H0.64 L1,1 H0.74 L0.66,0.74 H0.34 L0.26,1 Z M0.4,0.56 H0.6 L0.5,0.2 Z" fill="#d8202f" fill-rule="evenodd" transform="translate(445.91,217.20) scale(6.90,15.100)"/>
<line x1="448.06" y1="216.60" x2="450.66" y2="216.60" stroke="#bbb" stroke-width="0.70"/>
<text transform="translate(451.66,239.10) rotate(-90)" font-size="6.5" fill="#3a3a3a" text-anchor="end">27</text>
<path d="M0.95,0.3 C0.88,0.08 0.72,0 0.52,0 C0.2,0 0.02,0.22 0.02,0.5 C0.02,0.78 0.2,1 0.52,1 C0.74,1 0.9,0.9 0.97,0.68 L0.72,0.62 C0.68,0.76 0.62,0.8 0.52,0.8 C0.36,0.8 0.28,0.68 0.28,0.5 C0.28,0.32 0.36,0.2 0.52,0.2 C0.6,0.2 0.68,0.26 0.7,0.36 Z" fill="#2a3aa0" fill-rule="evenodd" transform="translate(231.25,295.00) scale(6.90,0.500)"/>
<path d="M0,1 L0.36,0 H0.64 L1,1 H0.74 L0.66,0.74 H0.34 L0.26,1 Z M0.4,0.56 H0.6 L0.5,0.2 Z" fill="#d8202f" fill-rule="evenodd" transform="translate(231.25,291.30) scale(6.90,3.700)"/>
<path d="M0.04,0 H0.96 V0.15 H0.62 V1 H0.38 V0.15 H0.04 Z" fill="#168a3c" fill-rule="evenodd" transform="translate(231.25,278.70) scale(6.90,12.600)"/>
<line x1="233.40" y1="278.10" x2="236.00" y2="278.10" stroke="#bbb" stroke-width="0.70"/>
<text transform="translate(237.00,297.30) rotate(-90)" font-size="6.5" fill="#3a3a3a" text-anchor="end">1</text>
<path d="M0.95,0.3 C0.88,0.08 0.72,0 0.52,0 C0.2,0 0.02,0.22 0.02,0.5 C0.02,0.78 0.2,1 0.52,1 C0.74,1 0.9,0.9 0.97,0.68 L0.72,0.62 C0.68,0.76 0.62,0.8 0.52,0.8 C0.36,0.8 0.28,0.68 0.28,0.5 C0.28,0.32 0.36,0.2 0.52,0.2 C0.6,0.2 0.68,0.26 0.7,0.36 Z" fill="#2a3aa0" fill-rule="evenodd" transform="translate(238.66,295.00) scale(6.90,0.500)"/>
<path d="M0,1 L0.36,0 H0.64 L1,1 H0.74 L0.66,0.74 H0.34 L0.26,1 Z M0.4,0.56 H0.6 L0.5,0.2 Z" fill="#d8202f" fill-rule="evenodd" transform="translate(238.66,291.30) scale(6.90,3.700)"/>
<path d="M0.04,0 H0.96 V0.15 H0.62 V1 H0.38 V0.15 H0.04 Z" fill="#168a3c" fill-rule="evenodd" transform="translate(238.66,275.50) scale(6.90,15.800)"/>
<line x1="240.81" y1="274.90" x2="243.41" y2="274.90" stroke="#bbb" stroke-width="0.70"/>
<text transform="translate(244.41,297.30) rotate(-90)" font-size="6.5" fill="#3a3a3a" text-anchor="end">2</text>
<path d="M0,1 L0.36,0 H0.64 L1,1 H0.74 L0.66,0.74 H0.34 L0.26,1 Z M0.4,0.56 H0.6 L0.5,0.2 Z" fill="#d8202f" fill-rule="evenodd" transform="translate(246.07,295.00) scale(6.90,0.500)"/>
<path d="M0.04,0 H0.96 V0.15 H0.62 V1 H0.38 V0.15 H0.04 Z" fill="#168a3c" fill-rule="evenodd" transform="translate(246.07,252.30) scale(6.90,42.700)"/>
<line x1="248.22" y1="251.70" x2="250.82" y2="251.70" stroke="#bbb" stroke-width="0.70"/>
<text transform="translate(251.82,297.30) rotate(-90)" font-size="6.5" fill="#3a3a3a" text-anchor="end">3</text>
<path d="M0.95,0.3 C0.88,0.08 0.72,0 0.52,0 C0.2,0 0.02,0.22 0.02,0.5 C0.02,0.78 0.2,1 0.52,1 C0.74,1 0.9,0.9 0.97,0.68 L0.72,0.62 C0.68,0.76 0.62,0.8 0.52,0.8 C0.36,0.8 0.28,0.68 0.28,0.5 C0.28,0.32 0.36,0.2 0.52,0.2 C0.6,0.2 0.68,0.26 0.7,0.36 Z" fill="#2a3aa0" fill-rule="evenodd" transform="translate(253.48,294.50) scale(6.90,1.000)"/>
<path d="M0,1 L0.36,0 H0.64 L1,1 H0.74 L0.66,0.74 H0.34 L0.26,1 Z M0.4,0.56 H0.6 L0.5,0.2 Z" fill="#d8202f" fill-rule="evenodd" transform="translate(253.48,293.50) scale(6.90,1.000)"/>
<path d="M0.04,0 H0.96 V0.15 H0.62 V1 H0.38 V0.15 H0.04 Z" fill="#168a3c" fill-rule="evenodd" transform="translate(253.48,291.20) scale(6.90,2.300)"/>
<path d="M0.95,0.3 C0.88,0.08 0.72,0 0.52,0 C0.2,0 0.02,0.22 0.02,0.5 C0.02,0.78 0.2,1 0.5,1 C0.66,1 0.78,0.94 0.86,0.86 L0.88,0.98 H0.98 V0.48 H0.54 V0.64 H0.74 C0.72,0.74 0.64,0.8 0.52,0.8 C0.36,0.8 0.28,0.68 0.28,0.5 C0.28,0.32 0.36,0.2 0.52,0.2 C0.6,0.2 0.68,0.26 0.7,0.36 Z" fill="#f3a51d" fill-rule="evenodd" transform="translate(253.48,286.40) scale(6.90,4.800)"/>
<line x1="255.63" y1="285.80" x2="258.23" y2="285.80" stroke="#bbb" stroke-width="0.70"/>
<text transform="translate(259.23,297.30) rotate(-90)" font-size="6.5" fill="#3a3a3a" text-anchor="end">4</text>
<path d="M0,1 L0.36,0 H0.64 L1,1 H0.74 L0.66,0.74 H0.34 L0.26,1 Z M0.4,0.56 H0.6 L0.5,0.2 Z" fill="#d8202f" fill-rule="evenodd" transform="translate(260.89,294.30) scale(6.90,1.200)"/>
<path d="M0.04,0 H0.96 V0.15 H0.62 V1 H0.38 V0.15 H0.04 Z" fill="#168a3c" fill-rule="evenodd" transform="translate(260.89,291.80) scale(6.90,2.500)"/>
<path d="M0.95,0.3 C0.88,0.08 0.72,0 0.52,0 C0.2,0 0.02,0.22 0.02,0.5 C0.02,0.78 0.2,1 0.52,1 C0.74,1 0.9,0.9 0.97,0.68 L0.72,0.62 C0.68,0.76 0.62,0.8 0.52,0.8 C0.36,0.8 0.28,0.68 0.28,0.5 C0.28,0.32 0.36,0.2 0.52,0.2 C0.6,0.2 0.68,0.26 0.7,0.36 Z" fill="#2a3aa0" fill-rule="evenodd" transform="translate(260.89,269.40) scale(6.90,22.400)"/>
<line x1="263.04" y1="268.80" x2="265.64" y2="268.80" stroke="#bbb" stroke-width="0.70"/>
<text transform="translate(266.64,297.30) rotate(-90)" font-size="6.5" fill="#3a3a3a" text-anchor="end">5</text>
<path d="M0.95,0.3 C0.88,0.08 0.72,0 0.52,0 C0.2,0 0.02,0.22 0.02,0.5 C0.02,0.78 0.2,1 0.52,1 C0.74,1 0.9,0.9 0.97,0.68 L0.72,0.62 C0.68,0.76 0.62,0.8 0.52,0.8 C0.36,0.8 0.28,0.68 0.28,0.5 C0.28,0.32 0.36,0.2 0.52,0.2 C0.6,0.2 0.68,0.26 0.7,0.36 Z" fill="#2a3aa0" fill-rule="evenodd" transform="translate(268.30,294.50) scale(6.90,1.000)"/>
<path d="M0,1 L0.36,0 H0.64 L1,1 H0.74 L0.66,0.74 H0.34 L0.26,1 Z M0.4,0.56 H0.6 L0.5,0.2 Z" fill="#d8202f" fill-rule="evenodd" transform="translate(268.30,291.80) scale(6.90,2.700)"/>
<path d="M0.04,0 H0.96 V0.15 H0.62 V1 H0.38 V0.15 H0.04 Z" fill="#168a3c" fill-rule="evenodd" transform="translate(268.30,269.70) scale(6.90,22.100)"/>
<line x1="270.45" y1="269.10" x2="273.05" y2="269.10" stroke="#bbb" stroke-width="0.70"/>
<text transform="translate(274.05,297.30) rotate(-90)" font-size="6.5" fill="#3a3a3a" text-anchor="end">6</text>
<path d="M0,1 L0.36,0 H0.64 L1,1 H0.74 L0.66,0.74 H0.34 L0.26,1 Z M0.4,0.56 H0.6 L0.5,0.2 Z" fill="#d8202f" fill-rule="evenodd" transform="translate(275.71,295.00) scale(6.90,0.500)"/>
<path d="M0.95,0.3 C0.88,0.08 0.72,0 0.52,0 C0.2,0 0.02,0.22 0.02,0.5 C0.02,0.78 0.2,1 0.52,1 C0.74,1 0.9,0.9 0.97,0.68 L0.72,0.62 C0.68,0.76 0.62,0.8 0.52,0.8 C0.36,0.8 0.28,0.68 0.28,0.5 C0.28,0.32 0.36,0.2 0.52,0.2 C0.6,0.2 0.68,0.26 0.7,0.36 Z" fill="#2a3aa0" fill-rule="evenodd" transform="translate(275.71,291.50) scale(6.90,3.500)"/>
<path d="M0.04,0 H0.96 V0.15 H0.62 V1 H0.38 V0.15 H0.04 Z" fill="#168a3c" fill-rule="evenodd" transform="translate(275.71,268.10) scale(6.90,23.400)"/>
<line x1="277.86" y1="267.50" x2="280.46" y2="267.50" stroke="#bbb" stroke-width="0.70"/>
<text transform="translate(281.46,297.30) rotate(-90)" font-size="6.5" fill="#3a3a3a" text-anchor="end">7</text>
<path d="M0.95,0.3 C0.88,0.08 0.72,0 0.52,0 C0.2,0 0.02,0.22 0.02,0.5 C0.02,0.78 0.2,1 0.52,1 C0.74,1 0.9,0.9 0.97,0.68 L0.72,0.62 C0.68,0.76 0.62,0.8 0.52,0.8 C0.36,0.8 0.28,0.68 0.28,0.5 C0.28,0.32 0.36,0.2 0.52,0.2 C0.6,0.2 0.68,0.26 0.7,0.36 Z" fill="#2a3aa0" fill-rule="evenodd" transform="translate(283.12,294.30) scale(6.90,1.200)"/>
<path d="M0.04,0 H0.96 V0.15 H0.62 V1 H0.38 V0.15 H0.04 Z" fill="#168a3c" fill-rule="evenodd" transform="translate(283.12,291.30) scale(6.90,3.000)"/>
<path d="M0,1 L0.36,0 H0.64 L1,1 H0.74 L0.66,0.74 H0.34 L0.26,1 Z M0.4,0.56 H0.6 L0.5,0.2 Z" fill="#d8202f" fill-rule="evenodd" transform="translate(283.12,264.70) scale(6.90,26.600)"/>
<line x1="285.27" y1="264.10" x2="287.87" y2="264.10" stroke="#bbb" stroke-width="0.70"/>
<text transform="translate(288.87,297.30) rotate(-90)" font-size="6.5" fill="#3a3a3a" text-anchor="end">8</text>
<path d="M0.95,0.3 C0.88,0.08 0.72,0 0.52,0 C0.2,0 0.02,0.22 0.02,0.5 C0.02,0.78 0.2,1 0.52,1 C0.74,1 0.9,0.9 0.97,0.68 L0.72,0.62 C0.68,0.76 0.62,0.8 0.52,0.8 C0.36,0.8 0.28,0.68 0.28,0.5 C0.28,0.32 0.36,0.2 0.52,0.2 C0.6,0.2 0.68,0.26 0.7,0.36 Z" fill="#2a3aa0" fill-rule="evenodd" transform="translate(290.53,295.00) scale(6.90,0.500)"/>
<path d="M0,1 L0.36,0 H0.64 L1,1 H0.74 L0.66,0.74 H0.34 L0.26,1 Z M0.4,0.56 H0.6 L0.5,0.2 Z" fill="#d8202f" fill-rule="evenodd" transform="translate(290.53,291.50) scale(6.90,3.500)"/>
<path d="M0.04,0 H0.96 V0.15 H0.62 V1 H0.38 V0.15 H0.04 Z" fill="#168a3c" fill-rule="evenodd" transform="translate(290.53,268.10) scale(6.90,23.400)"/>
<line x1="292.68" y1="267.50" x2="295.28" y2="267.50" stroke="#bbb" stroke-width="0.70"/>
<text transform="translate(296.28,297.30) rotate(-90)" font-size="6.5" fill="#3a3a3a" text-anchor="end">9</text>
<path d="M0,1 L0.36,0 H0.64 L1,1 H0.74 L0.66,0.74 H0.34 L0.26,1 Z M0.4,0.56 H0.6 L0.5,0.2 Z" fill="#d8202f" fill-rule="evenodd" transform="translate(297.94,294.50) scale(6.90,1.000)"/>
<path d="M0.04,0 H0.96 V0.15 H0.62 V1 H0.38 V0.15 H0.04 Z" fill="#168a3c" fill-rule="evenodd" transform="translate(297.94,293.50) scale(6.90,1.000)"/>
<path d="M0.95,0.3 C0.88,0.08 0.72,0 0.52,0 C0.2,0 0.02,0.22 0.02,0.5 C0.02,0.78 0.2,1 0.5,1 C0.66,1 0.78,0.94 0.86,0.86 L0.88,0.98 H0.98 V0.48 H0.54 V0.64 H0.74 C0.72,0.74 0.64,0.8 0.52,0.8 C0.36,0.8 0.28,0.68 0.28,0.5 C0.28,0.32 0.36,0.2 0.52,0.2 C0.6,0.2 0.68,0.26 0.7,0.36 Z" fill="#f3a51d" fill-rule="evenodd" transform="translate(297.94,291.50) scale(6.90,2.000)"/>
<text transform="translate(303.69,297.30) rotate(-90)" font-size="6.5" fill="#3a3a3a" text-anchor="end">10</text>
<path d="M0.95,0.3 C0.88,0.08 0.72,0 0.52,0 C0.2,0 0.02,0.22 0.02,0.5 C0.02,0.78 0.2,1 0.52,1 C0.74,1 0.9,0.9 0.97,0.68 L0.72,0.62 C0.68,0.76 0.62,0.8 0.52,0.8 C0.36,0.8 0.28,0.68 0.28,0.5 C0.28,0.32 0.36,0.2 0.52,0.2 C0.6,0.2 0.68,0.26 0.7,0.36 Z" fill="#2a3aa0" fill-rule="evenodd" transform="translate(305.35,295.00) scale(6.90,0.500)"/>
<path d="M0,1 L0.36,0 H0.64 L1,1 H0.74 L0.66,0.74 H0.34 L0.26,1 Z M0.4,0.56 H0.6 L0.5,0.2 Z" fill="#d8202f" fill-rule="evenodd" transform="translate(305.35,294.00) scale(6.90,1.000)"/>
<path d="M0.04,0 H0.96 V0.15 H0.62 V1 H0.38 V0.15 H0.04 Z" fill="#168a3c" fill-rule="evenodd" transform="translate(305.35,259.50) scale(6.90,34.500)"/>
<line x1="307.50" y1="258.90" x2="310.10" y2="258.90" stroke="#bbb" stroke-width="0.70"/>
<text transform="translate(311.10,297.30) rotate(-90)" font-size="6.5" fill="#3a3a3a" text-anchor="end">11</text>
<path d="M0,1 L0.36,0 H0.64 L1,1 H0.74 L0.66,0.74 H0.34 L0.26,1 Z M0.4,0.56 H0.6 L0.5,0.2 Z" fill="#d8202f" fill-rule="evenodd" transform="translate(312.76,295.00) scale(6.90,0.500)"/>
<path d="M0.95,0.3 C0.88,0.08 0.72,0 0.52,0 C0.2,0 0.02,0.22 0.02,0.5 C0.02,0.78 0.2,1 0.52,1 C0.74,1 0.9,0.9 0.97,0.68 L0.72,0.62 C0.68,0.76 0.62,0.8 0.52,0.8 C0.36,0.8 0.28,0.68 0.28,0.5 C0.28,0.32 0.36,0.2 0.52,0.2 C0.6,0.2 0.68,0.26 0.7,0.36 Z" fill="#2a3aa0" fill-rule="evenodd" transform="translate(312.76,294.50) scale(6.90,0.500)"/>
<path d="M0.04,0 H0.96 V0.15 H0.62 V1 H0.38 V0.15 H0.04 Z" fill="#168a3c" fill-rule="evenodd" transform="translate(312.76,258.10) scale(6.90,36.400)"/>
<line x1="314.91" y1="257.50" x2="317.51" y2="257.50" stroke="#bbb" stroke-width="0.70"/>
<text transform="translate(318.51,297.30) rotate(-90)" font-size="6.5" fill="#3a3a3a" text-anchor="end">12</text>
<path d="M0,1 L0.36,0 H0.64 L1,1 H0.74 L0.66,0.74 H0.34 L0.26,1 Z M0.4,0.56 H0.6 L0.5,0.2 Z" fill="#d8202f" fill-rule="evenodd" transform="translate(320.17,295.00) scale(6.90,0.500)"/>
<path d="M0.95,0.3 C0.88,0.08 0.72,0 0.52,0 C0.2,0 0.02,0.22 0.02,0.5 C0.02,0.78 0.2,1 0.52,1 C0.74,1 0.9,0.9 0.97,0.68 L0.72,0.62 C0.68,0.76 0.62,0.8 0.52,0.8 C0.36,0.8 0.28,0.68 0.28,0.5 C0.28,0.32 0.36,0.2 0.52,0.2 C0.6,0.2 0.68,0.26 0.7,0.36 Z" fill="#2a3aa0" fill-rule="evenodd" transform="translate(320.17,294.50) scale(6.90,0.500)"/>
<path d="M0.04,0 H0.96 V0.15 H0.62 V1 H0.38 V0.15 H0.04 Z" fill="#168a3c" fill-rule="evenodd" transform="translate(320.17,256.20) scale(6.90,38.300)"/>
<line x1="322.32" y1="255.60" x2="324.92" y2="255.60" stroke="#bbb" stroke-width="0.70"/>
<text transform="translate(325.92,297.30) rotate(-90)" font-size="6.5" fill="#3a3a3a" text-anchor="end">13</text>
<path d="M0,1 L0.36,0 H0.64 L1,1 H0.74 L0.66,0.74 H0.34 L0.26,1 Z M0.4,0.56 H0.6 L0.5,0.2 Z" fill="#d8202f" fill-rule="evenodd" transform="translate(327.58,295.00) scale(6.90,0.500)"/>
<path d="M0.04,0 H0.96 V0.15 H0.62 V1 H0.38 V0.15 H0.04 Z" fill="#168a3c" fill-rule="evenodd" transform="translate(327.58,254.30) scale(6.90,40.700)"/>
<line x1="329.73" y1="253.70" x2="332.33" y2="253.70" stroke="#bbb" stroke-width="0.70"/>
<text transform="translate(333.33,297.30) rotate(-90)" font-size="6.5" fill="#3a3a3a" text-anchor="end">14</text>
<path d="M0,1 L0.36,0 H0.64 L1,1 H0.74 L0.66,0.74 H0.34 L0.26,1 Z M0.4,0.56 H0.6 L0.5,0.2 Z" fill="#d8202f" fill-rule="evenodd" transform="translate(334.99,294.50) scale(6.90,1.000)"/>
<path d="M0.95,0.3 C0.88,0.08 0.72,0 0.52,0 C0.2,0 0.02,0.22 0.02,0.5 C0.02,0.78 0.2,1 0.52,1 C0.74,1 0.9,0.9 0.97,0.68 L0.72,0.62 C0.68,0.76 0.62,0.8 0.52,0.8 C0.36,0.8 0.28,0.68 0.28,0.5 C0.28,0.32 0.36,0.2 0.52,0.2 C0.6,0.2 0.68,0.26 0.7,0.36 Z" fill="#2a3aa0" fill-rule="evenodd" transform="translate(334.99,293.70) scale(6.90,0.800)"/>
<path d="M0.04,0 H0.96 V0.15 H0.62 V1 H0.38 V0.15 H0.04 Z" fill="#168a3c" fill-rule="evenodd" transform="translate(334.99,292.20) scale(6.90,1.500)"/>
<path d="M0.95,0.3 C0.88,0.08 0.72,0 0.52,0 C0.2,0 0.02,0.22 0.02,0.5 C0.02,0.78 0.2,1 0.5,1 C0.66,1 0.78,0.94 0.86,0.86 L0.88,0.98 H0.98 V0.48 H0.54 V0.64 H0.74 C0.72,0.74 0.64,0.8 0.52,0.8 C0.36,0.8 0.28,0.68 0.28,0.5 C0.28,0.32 0.36,0.2 0.52,0.2 C0.6,0.2 0.68,0.26 0.7,0.36 Z" fill="#f3a51d" fill-rule="evenodd" transform="translate(334.99,270.10) scale(6.90,22.100)"/>
<line x1="337.14" y1="269.50" x2="339.74" y2="269.50" stroke="#bbb" stroke-width="0.70"/>
<text transform="translate(340.74,297.30) rotate(-90)" font-size="6.5" fill="#3a3a3a" text-anchor="end">15</text>
<path d="M0,1 L0.36,0 H0.64 L1,1 H0.74 L0.66,0.74 H0.34 L0.26,1 Z M0.4,0.56 H0.6 L0.5,0.2 Z" fill="#d8202f" fill-rule="evenodd" transform="translate(342.40,294.00) scale(6.90,1.500)"/>
<path d="M0.04,0 H0.96 V0.15 H0.62 V1 H0.38 V0.15 H0.04 Z" fill="#168a3c" fill-rule="evenodd" transform="translate(342.40,292.50) scale(6.90,1.500)"/>
<path d="M0.95,0.3 C0.88,0.08 0.72,0 0.52,0 C0.2,0 0.02,0.22 0.02,0.5 C0.02,0.78 0.2,1 0.52,1 C0.74,1 0.9,0.9 0.97,0.68 L0.72,0.62 C0.68,0.76 0.62,0.8 0.52,0.8 C0.36,0.8 0.28,0.68 0.28,0.5 C0.28,0.32 0.36,0.2 0.52,0.2 C0.6,0.2 0.68,0.26 0.7,0.36 Z" fill="#2a3aa0" fill-rule="evenodd" transform="translate(342.40,272.60) scale(6.90,19.900)"/>
<line x1="344.55" y1="272.00" x2="347.15" y2="272.00" stroke="#bbb" stroke-width="0.70"/>
<text transform="translate(348.15,297.30) rotate(-90)" font-size="6.5" fill="#3a3a3a" text-anchor="end">16</text>
<path d="M0.95,0.3 C0.88,0.08 0.72,0 0.52,0 C0.2,0 0.02,0.22 0.02,0.5 C0.02,0.78 0.2,1 0.52,1 C0.74,1 0.9,0.9 0.97,0.68 L0.72,0.62 C0.68,0.76 0.62,0.8 0.52,0.8 C0.36,0.8 0.28,0.68 0.28,0.5 C0.28,0.32 0.36,0.2 0.52,0.2 C0.6,0.2 0.68,0.26 0.7,0.36 Z" fill="#2a3aa0" fill-rule="evenodd" transform="translate(349.81,295.00) scale(6.90,0.500)"/>
<path d="M0,1 L0.36,0 H0.64 L1,1 H0.74 L0.66,0.74 H0.34 L0.26,1 Z M0.4,0.56 H0.6 L0.5,0.2 Z" fill="#d8202f" fill-rule="evenodd" transform="translate(349.81,293.50) scale(6.90,1.500)"/>
<path d="M0.04,0 H0.96 V0.15 H0.62 V1 H0.38 V0.15 H0.04 Z" fill="#168a3c" fill-rule="evenodd" transform="translate(349.81,264.90) scale(6.90,28.600)"/>
<line x1="351.96" y1="264.30" x2="354.56" y2="264.30" stroke="#bbb" stroke-width="0.70"/>
<text transform="translate(355.56,297.30) rotate(-90)" font-size="6.5" fill="#3a3a3a" text-anchor="end">17</text>
<path d="M0.95,0.3 C0.88,0.08 0.72,0 0.52,0 C0.2,0 0.02,0.22 0.02,0.5 C0.02,0.78 0.2,1 0.5,1 C0.66,1 0.78,0.94 0.86,0.86 L0.88,0.98 H0.98 V0.48 H0.54 V0.64 H0.74 C0.72,0.74 0.64,0.8 0.52,0.8 C0.36,0.8 0.28,0.68 0.28,0.5 C0.28,0.32 0.36,0.2 0.52,0.2 C0.6,0.2 0.68,0.26 0.7,0.36 Z" fill="#f3a51d" fill-rule="evenodd" transform="translate(357.22,294.50) scale(6.90,1.000)"/>
<path d="M0.95,0.3 C0.88,0.08 0.72,0 0.52,0 C0.2,0 0.02,0.22 0.02,0.5 C0.02,0.78 0.2,1 0.52,1 C0.74,1 0.9,0.9 0.97,0.68 L0.72,0.62 C0.68,0.76 0.62,0.8 0.52,0.8 C0.36,0.8 0.28,0.68 0.28,0.5 C0.28,0.32 0.36,0.2 0.52,0.2 C0.6,0.2 0.68,0.26 0.7,0.36 Z" fill="#2a3aa0" fill-rule="evenodd" transform="translate(357.22,291.30) scale(6.90,3.200)"/>
<path d="M0.04,0 H0.96 V0.15 H0.62 V1 H0.38 V0.15 H0.04 Z" fill="#168a3c" fill-rule="evenodd" transform="translate(357.22,272.40) scale(6.90,18.900)"/>
<line x1="359.37" y1="271.80" x2="361.97" y2="271.80" stroke="#bbb" stroke-width="0.70"/>
<text transform="translate(362.97,297.30) rotate(-90)" font-size="6.5" fill="#3a3a3a" text-anchor="end">18</text>
<path d="M0.95,0.3 C0.88,0.08 0.72,0 0.52,0 C0.2,0 0.02,0.22 0.02,0.5 C0.02,0.78 0.2,1 0.52,1 C0.74,1 0.9,0.9 0.97,0.68 L0.72,0.62 C0.68,0.76 0.62,0.8 0.52,0.8 C0.36,0.8 0.28,0.68 0.28,0.5 C0.28,0.32 0.36,0.2 0.52,0.2 C0.6,0.2 0.68,0.26 0.7,0.36 Z" fill="#2a3aa0" fill-rule="evenodd" transform="translate(364.63,295.00) scale(6.90,0.500)"/>
<path d="M0.04,0 H0.96 V0.15 H0.62 V1 H0.38 V0.15 H0.04 Z" fill="#168a3c" fill-rule="evenodd" transform="translate(364.63,294.00) scale(6.90,1.000)"/>
<path d="M0.95,0.3 C0.88,0.08 0.72,0 0.52,0 C0.2,0 0.02,0.22 0.02,0.5 C0.02,0.78 0.2,1 0.5,1 C0.66,1 0.78,0.94 0.86,0.86 L0.88,0.98 H0.98 V0.48 H0.54 V0.64 H0.74 C0.72,0.74 0.64,0.8 0.52,0.8 C0.36,0.8 0.28,0.68 0.28,0.5 C0.28,0.32 0.36,0.2 0.52,0.2 C0.6,0.2 0.68,0.26 0.7,0.36 Z" fill="#f3a51d" fill-rule="evenodd" transform="translate(364.63,291.50) scale(6.90,2.500)"/>
<path d="M0,1 L0.36,0 H0.64 L1,1 H0.74 L0.66,0.74 H0.34 L0.26,1 Z M0.4,0.56 H0.6 L0.5,0.2 Z" fill="#d8202f" fill-rule="evenodd" transform="translate(364.63,273.20) scale(6.90,18.300)"/>
<line x1="366.78" y1="272.60" x2="369.38" y2="272.60" stroke="#bbb" stroke-width="0.70"/>
<text transform="translate(370.38,297.30) rotate(-90)" font-size="6.5" fill="#3a3a3a" text-anchor="end">19</text>
<path d="M0,1 L0.36,0 H0.64 L1,1 H0.74 L0.66,0.74 H0.34 L0.26,1 Z M0.4,0.56 H0.6 L0.5,0.2 Z" fill="#d8202f" fill-rule="evenodd" transform="translate(372.04,294.50) scale(6.90,1.000)"/>
<path d="M0.95,0.3 C0.88,0.08 0.72,0 0.52,0 C0.2,0 0.02,0.22 0.02,0.5 C0.02,0.78 0.2,1 0.52,1 C0.74,1 0.9,0.9 0.97,0.68 L0.72,0.62 C0.68,0.76 0.62,0.8 0.52,0.8 C0.36,0.8 0.28,0.68 0.28,0.5 C0.28,0.32 0.36,0.2 0.52,0.2 C0.6,0.2 0.68,0.26 0.7,0.36 Z" fill="#2a3aa0" fill-rule="evenodd" transform="translate(372.04,293.50) scale(6.90,1.000)"/>
<path d="M0.04,0 H0.96 V0.15 H0.62 V1 H0.38 V0.15 H0.04 Z" fill="#168a3c" fill-rule="evenodd" transform="translate(372.04,291.00) scale(6.90,2.500)"/>
<text transform="translate(377.79,297.30) rotate(-90)" font-size="6.5" fill="#3a3a3a" text-anchor="end">20</text>
<path d="M0,1 L0.36,0 H0.64 L1,1 H0.74 L0.66,0.74 H0.34 L0.26,1 Z M0.4,0.56 H0.6 L0.5,0.2 Z" fill="#d8202f" fill-rule="evenodd" transform="translate(379.45,295.00) scale(6.90,0.500)"/>
<path d="M0.04,0 H0.96 V0.15 H0.62 V1 H0.38 V0.15 H0.04 Z" fill="#168a3c" fill-rule="evenodd" transform="translate(379.45,293.50) scale(6.90,1.500)"/>
<text transform="translate(385.20,297.30) rotate(-90)" font-size="6.5" fill="#3a3a3a" text-anchor="end">21</text>
<path d="M0.95,0.3 C0.88,0.08 0.72,0 0.52,0 C0.2,0 0.02,0.22 0.02,0.5 C0.02,0.78 0.2,1 0.52,1 C0.74,1 0.9,0.9 0.97,0.68 L0.72,0.62 C0.68,0.76 0.62,0.8 0.52,0.8 C0.36,0.8 0.28,0.68 0.28,0.5 C0.28,0.32 0.36,0.2 0.52,0.2 C0.6,0.2 0.68,0.26 0.7,0.36 Z" fill="#2a3aa0" fill-rule="evenodd" transform="translate(386.86,295.00) scale(6.90,0.500)"/>
<path d="M0,1 L0.36,0 H0.64 L1,1 H0.74 L0.66,0.74 H0.34 L0.26,1 Z M0.4,0.56 H0.6 L0.5,0.2 Z" fill="#d8202f" fill-rule="evenodd" transform="translate(386.86,291.30) scale(6.90,3.700)"/>
<path d="M0.04,0 H0.96 V0.15 H0.62 V1 H0.38 V0.15 H0.04 Z" fill="#168a3c" fill-rule="evenodd" transform="translate(386.86,278.20) scale(6.90,13.100)"/>
<line x1="389.01" y1="277.60" x2="391.61" y2="277.60" stroke="#bbb" stroke-width="0.70"/>
<text transform="translate(392.61,297.30) rotate(-90)" font-size="6.5" fill="#3a3a3a" text-anchor="end">22</text>
<path d="M0.95,0.3 C0.88,0.08 0.72,0 0.52,0 C0.2,0 0.02,0.22 0.02,0.5 C0.02,0.78 0.2,1 0.52,1 C0.74,1 0.9,0.9 0.97,0.68 L0.72,0.62 C0.68,0.76 0.62,0.8 0.52,0.8 C0.36,0.8 0.28,0.68 0.28,0.5 C0.28,0.32 0.36,0.2 0.52,0.2 C0.6,0.2 0.68,0.26 0.7,0.36 Z" fill="#2a3aa0" fill-rule="evenodd" transform="translate(394.27,295.00) scale(6.90,0.500)"/>
<path d="M0,1 L0.36,0 H0.64 L1,1 H0.74 L0.66,0.74 H0.34 L0.26,1 Z M0.4,0.56 H0.6 L0.5,0.2 Z" fill="#d8202f" fill-rule="evenodd" transform="translate(394.27,291.50) scale(6.90,3.500)"/>
<path d="M0.04,0 H0.96 V0.15 H0.62 V1 H0.38 V0.15 H0.04 Z" fill="#168a3c" fill-rule="evenodd" transform="translate(394.27,275.50) scale(6.90,16.000)"/>
<line x1="396.42" y1="274.90" x2="399.02" y2="274.90" stroke="#bbb" stroke-width="0.70"/>
<text transform="translate(400.02,297.30) rotate(-90)" font-size="6.5" fill="#3a3a3a" text-anchor="end">23</text>
<path d="M0.95,0.3 C0.88,0.08 0.72,0 0.52,0 C0.2,0 0.02,0.22 0.02,0.5 C0.02,0.78 0.2,1 0.52,1 C0.74,1 0.9,0.9 0.97,0.68 L0.72,0.62 C0.68,0.76 0.62,0.8 0.52,0.8 C0.36,0.8 0.28,0.68 0.28,0.5 C0.28,0.32 0.36,0.2 0.52,0.2 C0.6,0.2 0.68,0.26 0.7,0.36 Z" fill="#2a3aa0" fill-rule="evenodd" transform="translate(401.68,295.00) scale(6.90,0.500)"/>
<path d="M0,1 L0.36,0 H0.64 L1,1 H0.74 L0.66,0.74 H0.34 L0.26,1 Z M0.4,0.56 H0.6 L0.5,0.2 Z" fill="#d8202f" fill-rule="evenodd" transform="translate(401.68,291.50) scale(6.90,3.500)"/>
<path d="M0.04,0 H0.96 V0.15 H0.62 V1 H0.38 V0.15 H0.04 Z" fill="#168a3c" fill-rule="evenodd" transform="translate(401.68,272.40) scale(6.90,19.100)"/>
<line x1="403.83" y1="271.80" x2="406.43" y2="271.80" stroke="#bbb" stroke-width="0.70"/>
<text transform="translate(407.43,297.30) rotate(-90)" font-size="6.5" fill="#3a3a3a" text-anchor="end">24</text>
<path d="M0,1 L0.36,0 H0.64 L1,1 H0.74 L0.66,0.74 H0.34 L0.26,1 Z M0.4,0.56 H0.6 L0.5,0.2 Z" fill="#d8202f" fill-rule="evenodd" transform="translate(409.09,295.00) scale(6.90,0.500)"/>
<path d="M0.04,0 H0.96 V0.15 H0.62 V1 H0.38 V0.15 H0.04 Z" fill="#168a3c" fill-rule="evenodd" transform="translate(409.09,260.80) scale(6.90,34.200)"/>
<line x1="411.24" y1="260.20" x2="413.84" y2="260.20" stroke="#bbb" stroke-width="0.70"/>
<text transform="translate(414.84,297.30) rotate(-90)" font-size="6.5" fill="#3a3a3a" text-anchor="end">25</text>
<path d="M0,1 L0.36,0 H0.64 L1,1 H0.74 L0.66,0.74 H0.34 L0.26,1 Z M0.4,0.56 H0.6 L0.5,0.2 Z" fill="#d8202f" fill-rule="evenodd" transform="translate(416.50,294.70) scale(6.90,0.800)"/>
<path d="M0.95,0.3 C0.88,0.08 0.72,0 0.52,0 C0.2,0 0.02,0.22 0.02,0.5 C0.02,0.78 0.2,1 0.52,1 C0.74,1 0.9,0.9 0.97,0.68 L0.72,0.62 C0.68,0.76 0.62,0.8 0.52,0.8 C0.36,0.8 0.28,0.68 0.28,0.5 C0.28,0.32 0.36,0.2 0.52,0.2 C0.6,0.2 0.68,0.26 0.7,0.36 Z" fill="#2a3aa0" fill-rule="evenodd" transform="translate(416.50,293.90) scale(6.90,0.800)"/>
<path d="M0.04,0 H0.96 V0.15 H0.62 V1 H0.38 V0.15 H0.04 Z" fill="#168a3c" fill-rule="evenodd" transform="translate(416.50,291.90) scale(6.90,2.000)"/>
<path d="M0.95,0.3 C0.88,0.08 0.72,0 0.52,0 C0.2,0 0.02,0.22 0.02,0.5 C0.02,0.78 0.2,1 0.5,1 C0.66,1 0.78,0.94 0.86,0.86 L0.88,0.98 H0.98 V0.48 H0.54 V0.64 H0.74 C0.72,0.74 0.64,0.8 0.52,0.8 C0.36,0.8 0.28,0.68 0.28,0.5 C0.28,0.32 0.36,0.2 0.52,0.2 C0.6,0.2 0.68,0.26 0.7,0.36 Z" fill="#f3a51d" fill-rule="evenodd" transform="translate(416.50,287.10) scale(6.90,4.800)"/>
<line x1="418.65" y1="286.50" x2="421.25" y2="286.50" stroke="#bbb" stroke-width="0.70"/>
<text transform="translate(422.25,297.30) rotate(-90)" font-size="6.5" fill="#3a3a3a" text-anchor="end">26</text>
<path d="M0,1 L0.36,0 H0.64 L1,1 H0.74 L0.66,0.74 H0.34 L0.26,1 Z M0.4,0.56 H0.6 L0.5,0.2 Z" fill="#d8202f" fill-rule="evenodd" transform="translate(423.91,295.00) scale(6.90,0.500)"/>
<path d="M0.04,0 H0.96 V0.15 H0.62 V1 H0.38 V0.15 H0.04 Z" fill="#168a3c" fill-rule="evenodd" transform="translate(423.91,291.30) scale(6.90,3.700)"/>
<path d="M0.95,0.3 C0.88,0.08 0.72,0 0.52,0 C0.2,0 0.02,0.22 0.02,0.5 C0.02,0.78 0.2,1 0.52,1 C0.74,1 0.9,0.9 0.97,0.68 L0.72,0.62 C0.68,0.76 0.62,0.8 0.52,0.8 C0.36,0.8 0.28,0.68 0.28,0.5 C0.28,0.32 0.36,0.2 0.52,0.2 C0.6,0.2 0.68,0.26 0.7,0.36 Z" fill="#2a3aa0" fill-rule="evenodd" transform="translate(423.91,275.90) scale(6.90,15.400)"/>
<line x1="426.06" y1="275.30" x2="428.66" y2="275.30" stroke="#bbb" stroke-width="0.70"/>
<text transform="translate(429.66,297.30) rotate(-90)" font-size="6.5" fill="#3a3a3a" text-anchor="end">27</text>
<path d="M0.95,0.3 C0.88,0.08 0.72,0 0.52,0 C0.2,0 0.02,0.22 0.02,0.5 C0.02,0.78 0.2,1 0.52,1 C0.74,1 0.9,0.9 0.97,0.68 L0.72,0.62 C0.68,0.76 0.62,0.8 0.52,0.8 C0.36,0.8 0.28,0.68 0.28,0.5 C0.28,0.32 0.36,0.2 0.52,0.2 C0.6,0.2 0.68,0.26 0.7,0.36 Z" fill="#2a3aa0" fill-rule="evenodd" transform="translate(431.32,295.00) scale(6.90,0.500)"/>
<path d="M0,1 L0.36,0 H0.64 L1,1 H0.74 L0.66,0.74 H0.34 L0.26,1 Z M0.4,0.56 H0.6 L0.5,0.2 Z" fill="#d8202f" fill-rule="evenodd" transform="translate(431.32,292.00) scale(6.90,3.000)"/>
<path d="M0.04,0 H0.96 V0.15 H0.62 V1 H0.38 V0.15 H0.04 Z" fill="#168a3c" fill-rule="evenodd" transform="translate(431.32,278.20) scale(6.90,13.800)"/>
<line x1="433.47" y1="277.60" x2="436.07" y2="277.60" stroke="#bbb" stroke-width="0.70"/>
<text transform="translate(437.07,297.30) rotate(-90)" font-size="6.5" fill="#3a3a3a" text-anchor="end">28</text>
<path d="M0,1 L0.36,0 H0.64 L1,1 H0.74 L0.66,0.74 H0.34 L0.26,1 Z M0.4,0.56 H0.6 L0.5,0.2 Z" fill="#d8202f" fill-rule="evenodd" transform="translate(438.73,294.50) scale(6.90,1.000)"/>
<path d="M0.95,0.3 C0.88,0.08 0.72,0 0.52,0 C0.2,0 0.02,0.22 0.02,0.5 C0.02,0.78 0.2,1 0.52,1 C0.74,1 0.9,0.9 0.97,0.68 L0.72,0.62 C0.68,0.76 0.62,0.8 0.52,0.8 C0.36,0.8 0.28,0.68 0.28,0.5 C0.28,0.32 0.36,0.2 0.52,0.2 C0.6,0.2 0.68,0.26 0.7,0.36 Z" fill="#2a3aa0" fill-rule="evenodd" transform="translate(438.73,291.70) scale(6.90,2.800)"/>
<path d="M0.04,0 H0.96 V0.15 H0.62 V1 H0.38 V0.15 H0.04 Z" fill="#168a3c" fill-rule="evenodd" transform="translate(438.73,280.90) scale(6.90,10.800)"/>
<line x1="440.88" y1="280.30" x2="443.48" y2="280.30" stroke="#bbb" stroke-width="0.70"/>
<text transform="translate(444.48,297.30) rotate(-90)" font-size="6.5" fill="#3a3a3a" text-anchor="end">29</text>
<path d="M0.95,0.3 C0.88,0.08 0.72,0 0.52,0 C0.2,0 0.02,0.22 0.02,0.5 C0.02,0.78 0.2,1 0.52,1 C0.74,1 0.9,0.9 0.97,0.68 L0.72,0.62 C0.68,0.76 0.62,0.8 0.52,0.8 C0.36,0.8 0.28,0.68 0.28,0.5 C0.28,0.32 0.36,0.2 0.52,0.2 C0.6,0.2 0.68,0.26 0.7,0.36 Z" fill="#2a3aa0" fill-rule="evenodd" transform="translate(446.14,295.00) scale(6.90,0.500)"/>
<path d="M0.04,0 H0.96 V0.15 H0.62 V1 H0.38 V0.15 H0.04 Z" fill="#168a3c" fill-rule="evenodd" transform="translate(446.14,291.20) scale(6.90,3.800)"/>
<path d="M0,1 L0.36,0 H0.64 L1,1 H0.74 L0.66,0.74 H0.34 L0.26,1 Z M0.4,0.56 H0.6 L0.5,0.2 Z" fill="#d8202f" fill-rule="evenodd" transform="translate(446.14,280.20) scale(6.90,11.000)"/>
<line x1="448.29" y1="279.60" x2="450.89" y2="279.60" stroke="#bbb" stroke-width="0.70"/>
<text transform="translate(451.89,297.30) rotate(-90)" font-size="6.5" fill="#3a3a3a" text-anchor="end">30</text>
<path d="M0.95,0.3 C0.88,0.08 0.72,0 0.52,0 C0.2,0 0.02,0.22 0.02,0.5 C0.02,0.78 0.2,1 0.52,1 C0.74,1 0.9,0.9 0.97,0.68 L0.72,0.62 C0.68,0.76 0.62,0.8 0.52,0.8 C0.36,0.8 0.28,0.68 0.28,0.5 C0.28,0.32 0.36,0.2 0.52,0.2 C0.6,0.2 0.68,0.26 0.7,0.36 Z" fill="#2a3aa0" fill-rule="evenodd" transform="translate(453.55,295.00) scale(6.90,0.500)"/>
<path d="M0,1 L0.36,0 H0.64 L1,1 H0.74 L0.66,0.74 H0.34 L0.26,1 Z M0.4,0.56 H0.6 L0.5,0.2 Z" fill="#d8202f" fill-rule="evenodd" transform="translate(453.55,292.50) scale(6.90,2.500)"/>
<path d="M0.04,0 H0.96 V0.15 H0.62 V1 H0.38 V0.15 H0.04 Z" fill="#168a3c" fill-rule="evenodd" transform="translate(453.55,274.90) scale(6.90,17.600)"/>
<line x1="455.70" y1="274.30" x2="458.30" y2="274.30" stroke="#bbb" stroke-width="0.70"/>
<text transform="translate(459.30,297.30) rotate(-90)" font-size="6.5" fill="#3a3a3a" text-anchor="end">31</text>
</svg>
</body></html>
